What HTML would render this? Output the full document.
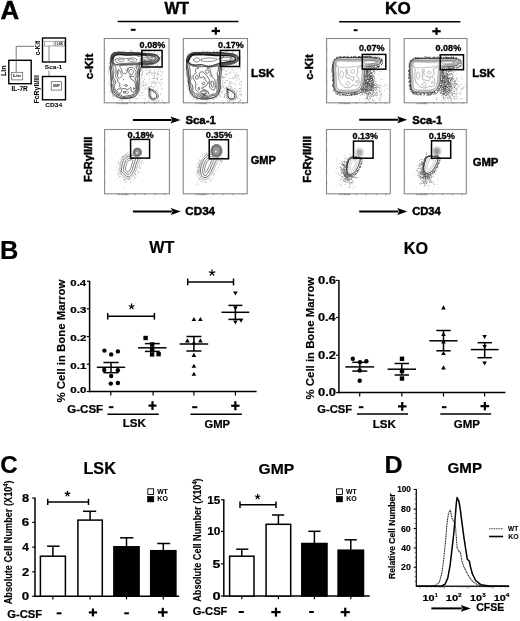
<!DOCTYPE html>
<html><head><meta charset="utf-8"><style>
html,body{margin:0;padding:0;background:#fff;}
svg{display:block;filter:grayscale(1);}
text{font-family:"Liberation Sans",sans-serif;}
</style></head><body>
<svg width="520" height="621" viewBox="0 0 520 621">
<rect width="520" height="621" fill="#fff"/>
<text x="0.43" y="18.70" font-size="25" textLength="18.65" lengthAdjust="spacingAndGlyphs" fill="#000" stroke="#000" stroke-width="0.45" font-weight="bold" >A</text>
<rect x="8.80" y="60.30" width="22.40" height="23.40" stroke="#000" stroke-width="1.4" fill="none" />
<rect x="11.70" y="72.30" width="11.00" height="7.60" stroke="#555" stroke-width="0.7" fill="none" />
<text x="13.14" y="77.30" font-size="3.2" textLength="7.66" lengthAdjust="spacingAndGlyphs" fill="#444" stroke="#444" stroke-width="0.15" font-weight="bold" >Lin</text>
<line x1="16.20" y1="46.30" x2="16.20" y2="72.30" stroke="#555" stroke-width="0.8" />
<line x1="16.20" y1="46.30" x2="34.20" y2="46.30" stroke="#555" stroke-width="0.8" />
<text transform="translate(6.00,75.60) rotate(-90)" x="-0.49" y="0" font-size="7.2" textLength="10.51" lengthAdjust="spacingAndGlyphs" fill="#000" stroke="#000" stroke-width="0.1" font-weight="bold">Lin</text>
<text x="11.54" y="91.20" font-size="6.5" textLength="16.29" lengthAdjust="spacingAndGlyphs" fill="#000" stroke="#000" stroke-width="0.05" font-weight="bold" >IL-7R</text>
<rect x="42.50" y="38.00" width="23.00" height="24.00" stroke="#000" stroke-width="1.4" fill="none" />
<rect x="44.50" y="41.20" width="9.50" height="4.80" stroke="#777" stroke-width="0.6" fill="none" />
<rect x="55.20" y="41.20" width="9.40" height="4.80" stroke="#555" stroke-width="0.6" fill="none" />
<text x="56.79" y="45.00" font-size="3.0" textLength="6.04" lengthAdjust="spacingAndGlyphs" fill="#444" stroke="#444" stroke-width="0.15" font-weight="bold" >LSK</text>
<line x1="49.00" y1="46.00" x2="49.00" y2="62.00" stroke="#666" stroke-width="0.8" />
<line x1="49.00" y1="70.50" x2="49.00" y2="76.50" stroke="#666" stroke-width="0.8" />
<text transform="translate(40.20,55.00) rotate(-90)" x="-0.26" y="0" font-size="6.4" textLength="14.34" lengthAdjust="spacingAndGlyphs" fill="#000" stroke="#000" stroke-width="0.05" font-weight="bold">c-Kit</text>
<text x="44.80" y="68.50" font-size="6.0" textLength="17.38" lengthAdjust="spacingAndGlyphs" fill="#000" stroke="#000" stroke-width="0.05" font-weight="bold" >Sca-1</text>
<rect x="42.50" y="76.50" width="23.00" height="23.30" stroke="#000" stroke-width="1.4" fill="none" />
<rect x="51.20" y="81.70" width="10.20" height="8.40" stroke="#555" stroke-width="0.7" fill="none" />
<text x="52.88" y="87.20" font-size="3.2" textLength="6.83" lengthAdjust="spacingAndGlyphs" fill="#444" stroke="#444" stroke-width="0.15" font-weight="bold" >GMP</text>
<text transform="translate(39.00,103.00) rotate(-90)" x="-0.48" y="0" font-size="6.4" textLength="28.38" lengthAdjust="spacingAndGlyphs" fill="#000" stroke="#000" stroke-width="0.05" font-weight="bold">FcRγII/III</text>
<text x="45.34" y="107.00" font-size="6.0" textLength="16.70" lengthAdjust="spacingAndGlyphs" fill="#000" stroke="#000" stroke-width="0.05" font-weight="bold" >CD34</text>
<text x="164.40" y="13.80" font-size="17" textLength="24.63" lengthAdjust="spacingAndGlyphs" fill="#000" stroke="#000" stroke-width="0.45" font-weight="bold" >WT</text>
<line x1="117.70" y1="21.50" x2="238.40" y2="21.50" stroke="#000" stroke-width="1.4" />
<rect x="130.80" y="28.80" width="4.80" height="2.00" fill="#000"/>
<rect x="211.60" y="29.90" width="8.40" height="2.20" fill="#000"/>
<rect x="214.70" y="27.30" width="2.20" height="7.40" fill="#000"/>
<text x="385.11" y="13.60" font-size="17" textLength="25.58" lengthAdjust="spacingAndGlyphs" fill="#000" stroke="#000" stroke-width="0.45" font-weight="bold" >KO</text>
<line x1="339.20" y1="21.80" x2="460.40" y2="21.80" stroke="#000" stroke-width="1.4" />
<rect x="353.70" y="29.20" width="3.80" height="2.00" fill="#000"/>
<rect x="432.30" y="30.15" width="8.40" height="2.20" fill="#000"/>
<rect x="435.40" y="27.60" width="2.20" height="7.30" fill="#000"/>
<rect x="104.30" y="38.50" width="64.70" height="64.30" stroke="#888" stroke-width="1.1" fill="none" />
<line x1="104.30" y1="49.22" x2="105.50" y2="49.22" stroke="#888" stroke-width="0.5" />
<line x1="104.30" y1="59.93" x2="105.50" y2="59.93" stroke="#888" stroke-width="0.5" />
<line x1="104.30" y1="70.65" x2="105.50" y2="70.65" stroke="#888" stroke-width="0.5" />
<line x1="104.30" y1="81.37" x2="105.50" y2="81.37" stroke="#888" stroke-width="0.5" />
<line x1="104.30" y1="92.08" x2="105.50" y2="92.08" stroke="#888" stroke-width="0.5" />
<line x1="117.24" y1="102.80" x2="117.24" y2="104.20" stroke="#555" stroke-width="0.6" />
<line x1="119.18" y1="102.80" x2="119.18" y2="104.20" stroke="#555" stroke-width="0.6" />
<line x1="121.12" y1="102.80" x2="121.12" y2="104.20" stroke="#555" stroke-width="0.6" />
<line x1="122.42" y1="102.80" x2="122.42" y2="104.20" stroke="#555" stroke-width="0.6" />
<line x1="123.71" y1="102.80" x2="123.71" y2="104.20" stroke="#555" stroke-width="0.6" />
<line x1="125.00" y1="102.80" x2="125.00" y2="104.20" stroke="#555" stroke-width="0.6" />
<line x1="126.30" y1="102.80" x2="126.30" y2="104.20" stroke="#555" stroke-width="0.6" />
<line x1="127.59" y1="102.80" x2="127.59" y2="104.20" stroke="#555" stroke-width="0.6" />
<line x1="134.71" y1="102.80" x2="134.71" y2="104.20" stroke="#555" stroke-width="0.6" />
<line x1="144.41" y1="102.80" x2="144.41" y2="104.20" stroke="#555" stroke-width="0.6" />
<line x1="154.77" y1="102.80" x2="154.77" y2="104.20" stroke="#555" stroke-width="0.6" />
<line x1="164.47" y1="102.80" x2="164.47" y2="104.20" stroke="#555" stroke-width="0.6" />
<rect x="183.30" y="38.50" width="64.20" height="64.30" stroke="#888" stroke-width="1.1" fill="none" />
<line x1="183.30" y1="49.22" x2="184.50" y2="49.22" stroke="#888" stroke-width="0.5" />
<line x1="183.30" y1="59.93" x2="184.50" y2="59.93" stroke="#888" stroke-width="0.5" />
<line x1="183.30" y1="70.65" x2="184.50" y2="70.65" stroke="#888" stroke-width="0.5" />
<line x1="183.30" y1="81.37" x2="184.50" y2="81.37" stroke="#888" stroke-width="0.5" />
<line x1="183.30" y1="92.08" x2="184.50" y2="92.08" stroke="#888" stroke-width="0.5" />
<line x1="196.14" y1="102.80" x2="196.14" y2="104.20" stroke="#555" stroke-width="0.6" />
<line x1="198.07" y1="102.80" x2="198.07" y2="104.20" stroke="#555" stroke-width="0.6" />
<line x1="199.99" y1="102.80" x2="199.99" y2="104.20" stroke="#555" stroke-width="0.6" />
<line x1="201.28" y1="102.80" x2="201.28" y2="104.20" stroke="#555" stroke-width="0.6" />
<line x1="202.56" y1="102.80" x2="202.56" y2="104.20" stroke="#555" stroke-width="0.6" />
<line x1="203.84" y1="102.80" x2="203.84" y2="104.20" stroke="#555" stroke-width="0.6" />
<line x1="205.13" y1="102.80" x2="205.13" y2="104.20" stroke="#555" stroke-width="0.6" />
<line x1="206.41" y1="102.80" x2="206.41" y2="104.20" stroke="#555" stroke-width="0.6" />
<line x1="213.47" y1="102.80" x2="213.47" y2="104.20" stroke="#555" stroke-width="0.6" />
<line x1="223.10" y1="102.80" x2="223.10" y2="104.20" stroke="#555" stroke-width="0.6" />
<line x1="233.38" y1="102.80" x2="233.38" y2="104.20" stroke="#555" stroke-width="0.6" />
<line x1="243.01" y1="102.80" x2="243.01" y2="104.20" stroke="#555" stroke-width="0.6" />
<rect x="326.60" y="38.50" width="63.20" height="64.30" stroke="#888" stroke-width="1.1" fill="none" />
<line x1="326.60" y1="49.22" x2="327.80" y2="49.22" stroke="#888" stroke-width="0.5" />
<line x1="326.60" y1="59.93" x2="327.80" y2="59.93" stroke="#888" stroke-width="0.5" />
<line x1="326.60" y1="70.65" x2="327.80" y2="70.65" stroke="#888" stroke-width="0.5" />
<line x1="326.60" y1="81.37" x2="327.80" y2="81.37" stroke="#888" stroke-width="0.5" />
<line x1="326.60" y1="92.08" x2="327.80" y2="92.08" stroke="#888" stroke-width="0.5" />
<line x1="339.24" y1="102.80" x2="339.24" y2="104.20" stroke="#555" stroke-width="0.6" />
<line x1="341.14" y1="102.80" x2="341.14" y2="104.20" stroke="#555" stroke-width="0.6" />
<line x1="343.03" y1="102.80" x2="343.03" y2="104.20" stroke="#555" stroke-width="0.6" />
<line x1="344.30" y1="102.80" x2="344.30" y2="104.20" stroke="#555" stroke-width="0.6" />
<line x1="345.56" y1="102.80" x2="345.56" y2="104.20" stroke="#555" stroke-width="0.6" />
<line x1="346.82" y1="102.80" x2="346.82" y2="104.20" stroke="#555" stroke-width="0.6" />
<line x1="348.09" y1="102.80" x2="348.09" y2="104.20" stroke="#555" stroke-width="0.6" />
<line x1="349.35" y1="102.80" x2="349.35" y2="104.20" stroke="#555" stroke-width="0.6" />
<line x1="356.30" y1="102.80" x2="356.30" y2="104.20" stroke="#555" stroke-width="0.6" />
<line x1="365.78" y1="102.80" x2="365.78" y2="104.20" stroke="#555" stroke-width="0.6" />
<line x1="375.90" y1="102.80" x2="375.90" y2="104.20" stroke="#555" stroke-width="0.6" />
<line x1="385.38" y1="102.80" x2="385.38" y2="104.20" stroke="#555" stroke-width="0.6" />
<rect x="404.20" y="38.50" width="62.80" height="64.30" stroke="#888" stroke-width="1.1" fill="none" />
<line x1="404.20" y1="49.22" x2="405.40" y2="49.22" stroke="#888" stroke-width="0.5" />
<line x1="404.20" y1="59.93" x2="405.40" y2="59.93" stroke="#888" stroke-width="0.5" />
<line x1="404.20" y1="70.65" x2="405.40" y2="70.65" stroke="#888" stroke-width="0.5" />
<line x1="404.20" y1="81.37" x2="405.40" y2="81.37" stroke="#888" stroke-width="0.5" />
<line x1="404.20" y1="92.08" x2="405.40" y2="92.08" stroke="#888" stroke-width="0.5" />
<line x1="416.76" y1="102.80" x2="416.76" y2="104.20" stroke="#555" stroke-width="0.6" />
<line x1="418.64" y1="102.80" x2="418.64" y2="104.20" stroke="#555" stroke-width="0.6" />
<line x1="420.53" y1="102.80" x2="420.53" y2="104.20" stroke="#555" stroke-width="0.6" />
<line x1="421.78" y1="102.80" x2="421.78" y2="104.20" stroke="#555" stroke-width="0.6" />
<line x1="423.04" y1="102.80" x2="423.04" y2="104.20" stroke="#555" stroke-width="0.6" />
<line x1="424.30" y1="102.80" x2="424.30" y2="104.20" stroke="#555" stroke-width="0.6" />
<line x1="425.55" y1="102.80" x2="425.55" y2="104.20" stroke="#555" stroke-width="0.6" />
<line x1="426.81" y1="102.80" x2="426.81" y2="104.20" stroke="#555" stroke-width="0.6" />
<line x1="433.72" y1="102.80" x2="433.72" y2="104.20" stroke="#555" stroke-width="0.6" />
<line x1="443.14" y1="102.80" x2="443.14" y2="104.20" stroke="#555" stroke-width="0.6" />
<line x1="453.18" y1="102.80" x2="453.18" y2="104.20" stroke="#555" stroke-width="0.6" />
<line x1="462.60" y1="102.80" x2="462.60" y2="104.20" stroke="#555" stroke-width="0.6" />
<rect x="104.60" y="129.50" width="64.80" height="64.30" stroke="#888" stroke-width="1.1" fill="none" />
<line x1="104.60" y1="140.22" x2="105.80" y2="140.22" stroke="#888" stroke-width="0.5" />
<line x1="104.60" y1="150.93" x2="105.80" y2="150.93" stroke="#888" stroke-width="0.5" />
<line x1="104.60" y1="161.65" x2="105.80" y2="161.65" stroke="#888" stroke-width="0.5" />
<line x1="104.60" y1="172.37" x2="105.80" y2="172.37" stroke="#888" stroke-width="0.5" />
<line x1="104.60" y1="183.08" x2="105.80" y2="183.08" stroke="#888" stroke-width="0.5" />
<line x1="117.56" y1="193.80" x2="117.56" y2="195.20" stroke="#555" stroke-width="0.6" />
<line x1="119.50" y1="193.80" x2="119.50" y2="195.20" stroke="#555" stroke-width="0.6" />
<line x1="121.45" y1="193.80" x2="121.45" y2="195.20" stroke="#555" stroke-width="0.6" />
<line x1="122.74" y1="193.80" x2="122.74" y2="195.20" stroke="#555" stroke-width="0.6" />
<line x1="124.04" y1="193.80" x2="124.04" y2="195.20" stroke="#555" stroke-width="0.6" />
<line x1="125.34" y1="193.80" x2="125.34" y2="195.20" stroke="#555" stroke-width="0.6" />
<line x1="126.63" y1="193.80" x2="126.63" y2="195.20" stroke="#555" stroke-width="0.6" />
<line x1="127.93" y1="193.80" x2="127.93" y2="195.20" stroke="#555" stroke-width="0.6" />
<line x1="135.06" y1="193.80" x2="135.06" y2="195.20" stroke="#555" stroke-width="0.6" />
<line x1="144.78" y1="193.80" x2="144.78" y2="195.20" stroke="#555" stroke-width="0.6" />
<line x1="155.14" y1="193.80" x2="155.14" y2="195.20" stroke="#555" stroke-width="0.6" />
<line x1="164.86" y1="193.80" x2="164.86" y2="195.20" stroke="#555" stroke-width="0.6" />
<rect x="183.20" y="129.50" width="64.00" height="64.30" stroke="#888" stroke-width="1.1" fill="none" />
<line x1="183.20" y1="140.22" x2="184.40" y2="140.22" stroke="#888" stroke-width="0.5" />
<line x1="183.20" y1="150.93" x2="184.40" y2="150.93" stroke="#888" stroke-width="0.5" />
<line x1="183.20" y1="161.65" x2="184.40" y2="161.65" stroke="#888" stroke-width="0.5" />
<line x1="183.20" y1="172.37" x2="184.40" y2="172.37" stroke="#888" stroke-width="0.5" />
<line x1="183.20" y1="183.08" x2="184.40" y2="183.08" stroke="#888" stroke-width="0.5" />
<line x1="196.00" y1="193.80" x2="196.00" y2="195.20" stroke="#555" stroke-width="0.6" />
<line x1="197.92" y1="193.80" x2="197.92" y2="195.20" stroke="#555" stroke-width="0.6" />
<line x1="199.84" y1="193.80" x2="199.84" y2="195.20" stroke="#555" stroke-width="0.6" />
<line x1="201.12" y1="193.80" x2="201.12" y2="195.20" stroke="#555" stroke-width="0.6" />
<line x1="202.40" y1="193.80" x2="202.40" y2="195.20" stroke="#555" stroke-width="0.6" />
<line x1="203.68" y1="193.80" x2="203.68" y2="195.20" stroke="#555" stroke-width="0.6" />
<line x1="204.96" y1="193.80" x2="204.96" y2="195.20" stroke="#555" stroke-width="0.6" />
<line x1="206.24" y1="193.80" x2="206.24" y2="195.20" stroke="#555" stroke-width="0.6" />
<line x1="213.28" y1="193.80" x2="213.28" y2="195.20" stroke="#555" stroke-width="0.6" />
<line x1="222.88" y1="193.80" x2="222.88" y2="195.20" stroke="#555" stroke-width="0.6" />
<line x1="233.12" y1="193.80" x2="233.12" y2="195.20" stroke="#555" stroke-width="0.6" />
<line x1="242.72" y1="193.80" x2="242.72" y2="195.20" stroke="#555" stroke-width="0.6" />
<rect x="326.50" y="129.50" width="63.80" height="64.30" stroke="#888" stroke-width="1.1" fill="none" />
<line x1="326.50" y1="140.22" x2="327.70" y2="140.22" stroke="#888" stroke-width="0.5" />
<line x1="326.50" y1="150.93" x2="327.70" y2="150.93" stroke="#888" stroke-width="0.5" />
<line x1="326.50" y1="161.65" x2="327.70" y2="161.65" stroke="#888" stroke-width="0.5" />
<line x1="326.50" y1="172.37" x2="327.70" y2="172.37" stroke="#888" stroke-width="0.5" />
<line x1="326.50" y1="183.08" x2="327.70" y2="183.08" stroke="#888" stroke-width="0.5" />
<line x1="339.26" y1="193.80" x2="339.26" y2="195.20" stroke="#555" stroke-width="0.6" />
<line x1="341.17" y1="193.80" x2="341.17" y2="195.20" stroke="#555" stroke-width="0.6" />
<line x1="343.09" y1="193.80" x2="343.09" y2="195.20" stroke="#555" stroke-width="0.6" />
<line x1="344.36" y1="193.80" x2="344.36" y2="195.20" stroke="#555" stroke-width="0.6" />
<line x1="345.64" y1="193.80" x2="345.64" y2="195.20" stroke="#555" stroke-width="0.6" />
<line x1="346.92" y1="193.80" x2="346.92" y2="195.20" stroke="#555" stroke-width="0.6" />
<line x1="348.19" y1="193.80" x2="348.19" y2="195.20" stroke="#555" stroke-width="0.6" />
<line x1="349.47" y1="193.80" x2="349.47" y2="195.20" stroke="#555" stroke-width="0.6" />
<line x1="356.49" y1="193.80" x2="356.49" y2="195.20" stroke="#555" stroke-width="0.6" />
<line x1="366.06" y1="193.80" x2="366.06" y2="195.20" stroke="#555" stroke-width="0.6" />
<line x1="376.26" y1="193.80" x2="376.26" y2="195.20" stroke="#555" stroke-width="0.6" />
<line x1="385.83" y1="193.80" x2="385.83" y2="195.20" stroke="#555" stroke-width="0.6" />
<rect x="404.30" y="129.50" width="62.00" height="64.30" stroke="#888" stroke-width="1.1" fill="none" />
<line x1="404.30" y1="140.22" x2="405.50" y2="140.22" stroke="#888" stroke-width="0.5" />
<line x1="404.30" y1="150.93" x2="405.50" y2="150.93" stroke="#888" stroke-width="0.5" />
<line x1="404.30" y1="161.65" x2="405.50" y2="161.65" stroke="#888" stroke-width="0.5" />
<line x1="404.30" y1="172.37" x2="405.50" y2="172.37" stroke="#888" stroke-width="0.5" />
<line x1="404.30" y1="183.08" x2="405.50" y2="183.08" stroke="#888" stroke-width="0.5" />
<line x1="416.70" y1="193.80" x2="416.70" y2="195.20" stroke="#555" stroke-width="0.6" />
<line x1="418.56" y1="193.80" x2="418.56" y2="195.20" stroke="#555" stroke-width="0.6" />
<line x1="420.42" y1="193.80" x2="420.42" y2="195.20" stroke="#555" stroke-width="0.6" />
<line x1="421.66" y1="193.80" x2="421.66" y2="195.20" stroke="#555" stroke-width="0.6" />
<line x1="422.90" y1="193.80" x2="422.90" y2="195.20" stroke="#555" stroke-width="0.6" />
<line x1="424.14" y1="193.80" x2="424.14" y2="195.20" stroke="#555" stroke-width="0.6" />
<line x1="425.38" y1="193.80" x2="425.38" y2="195.20" stroke="#555" stroke-width="0.6" />
<line x1="426.62" y1="193.80" x2="426.62" y2="195.20" stroke="#555" stroke-width="0.6" />
<line x1="433.44" y1="193.80" x2="433.44" y2="195.20" stroke="#555" stroke-width="0.6" />
<line x1="442.74" y1="193.80" x2="442.74" y2="195.20" stroke="#555" stroke-width="0.6" />
<line x1="452.66" y1="193.80" x2="452.66" y2="195.20" stroke="#555" stroke-width="0.6" />
<line x1="461.96" y1="193.80" x2="461.96" y2="195.20" stroke="#555" stroke-width="0.6" />
<defs><filter id="bl" x="-50%" y="-50%" width="200%" height="200%"><feGaussianBlur stdDeviation="0.7"/></filter><filter id="bl2" x="-50%" y="-50%" width="200%" height="200%"><feGaussianBlur stdDeviation="1.2"/></filter><clipPath id="c0"><rect x="0.6" y="0.6" width="63.50" height="63.10"/></clipPath><clipPath id="c1"><rect x="0.6" y="0.6" width="63.00" height="63.10"/></clipPath><clipPath id="c2"><rect x="0.6" y="0.6" width="62.00" height="63.10"/></clipPath><clipPath id="c3"><rect x="0.6" y="0.6" width="61.60" height="63.10"/></clipPath><clipPath id="c4"><rect x="0.6" y="0.6" width="63.60" height="63.10"/></clipPath><clipPath id="c5"><rect x="0.6" y="0.6" width="62.80" height="63.10"/></clipPath><clipPath id="c6"><rect x="0.6" y="0.6" width="62.60" height="63.10"/></clipPath><clipPath id="c7"><rect x="0.6" y="0.6" width="60.80" height="63.10"/></clipPath></defs><g transform="translate(104.30,38.50)" clip-path="url(#c0)"><path d="M37.3 47.8h0.75v0.75h-0.75zM48.8 54.2h0.75v0.75h-0.75zM40.5 49.0h0.75v0.75h-0.75zM38.1 53.7h0.75v0.75h-0.75zM54.3 43.9h0.75v0.75h-0.75zM51.4 51.5h0.75v0.75h-0.75zM43.4 32.0h0.75v0.75h-0.75zM52.9 41.1h0.75v0.75h-0.75zM40.4 44.0h0.75v0.75h-0.75zM54.5 61.4h0.75v0.75h-0.75zM48.9 62.0h0.75v0.75h-0.75zM40.6 45.7h0.75v0.75h-0.75zM37.2 37.0h0.75v0.75h-0.75zM55.4 31.0h0.75v0.75h-0.75zM50.7 46.3h0.75v0.75h-0.75zM57.7 62.8h0.75v0.75h-0.75zM39.6 37.9h0.75v0.75h-0.75zM57.8 40.2h0.75v0.75h-0.75zM40.8 60.0h0.75v0.75h-0.75zM50.0 39.5h0.75v0.75h-0.75zM48.6 43.5h0.75v0.75h-0.75zM46.6 47.8h0.75v0.75h-0.75zM40.6 49.9h0.75v0.75h-0.75zM57.1 49.1h0.75v0.75h-0.75zM53.5 38.6h0.75v0.75h-0.75zM40.2 29.2h0.75v0.75h-0.75zM57.6 33.0h0.75v0.75h-0.75zM45.0 51.3h0.75v0.75h-0.75zM52.4 50.0h0.75v0.75h-0.75zM46.2 56.7h0.75v0.75h-0.75zM46.3 57.4h0.75v0.75h-0.75zM38.1 53.5h0.75v0.75h-0.75zM39.0 42.2h0.75v0.75h-0.75zM46.3 35.2h0.75v0.75h-0.75zM46.4 58.0h0.75v0.75h-0.75zM37.8 35.6h0.75v0.75h-0.75zM57.5 44.3h0.75v0.75h-0.75zM45.2 60.0h0.75v0.75h-0.75zM53.3 34.9h0.75v0.75h-0.75zM49.6 35.1h0.75v0.75h-0.75zM53.3 47.9h0.75v0.75h-0.75zM53.8 31.2h0.75v0.75h-0.75zM56.5 36.8h0.75v0.75h-0.75zM54.8 44.0h0.75v0.75h-0.75zM55.7 32.5h0.75v0.75h-0.75zM38.1 44.9h0.75v0.75h-0.75zM56.5 44.8h0.75v0.75h-0.75zM47.7 34.6h0.75v0.75h-0.75zM48.4 43.5h0.75v0.75h-0.75zM55.6 54.2h0.75v0.75h-0.75zM47.0 34.1h0.75v0.75h-0.75zM40.1 62.0h0.75v0.75h-0.75zM49.8 36.6h0.75v0.75h-0.75zM54.0 36.3h0.75v0.75h-0.75zM46.5 58.8h0.75v0.75h-0.75zM39.2 32.5h0.75v0.75h-0.75zM38.1 34.2h0.75v0.75h-0.75zM44.9 39.9h0.75v0.75h-0.75zM42.9 29.5h0.75v0.75h-0.75zM47.2 44.1h0.75v0.75h-0.75zM52.6 39.3h0.75v0.75h-0.75zM49.2 39.6h0.75v0.75h-0.75zM52.8 34.9h0.75v0.75h-0.75zM47.3 44.2h0.75v0.75h-0.75zM46.6 47.3h0.75v0.75h-0.75zM48.3 39.8h0.75v0.75h-0.75zM54.3 61.4h0.75v0.75h-0.75zM48.7 50.6h0.75v0.75h-0.75zM52.2 39.9h0.75v0.75h-0.75zM49.4 44.7h0.75v0.75h-0.75zM47.2 42.4h0.75v0.75h-0.75zM48.3 36.4h0.75v0.75h-0.75zM42.1 35.8h0.75v0.75h-0.75zM49.5 37.3h0.75v0.75h-0.75zM53.4 59.8h0.75v0.75h-0.75zM53.0 40.2h0.75v0.75h-0.75zM56.8 40.7h0.75v0.75h-0.75zM44.6 49.2h0.75v0.75h-0.75zM50.9 42.9h0.75v0.75h-0.75zM53.5 58.0h0.75v0.75h-0.75zM43.1 36.6h0.75v0.75h-0.75zM45.3 52.8h0.75v0.75h-0.75zM51.1 35.0h0.75v0.75h-0.75zM45.2 59.7h0.75v0.75h-0.75zM57.2 49.5h0.75v0.75h-0.75zM53.4 57.6h0.75v0.75h-0.75zM41.7 31.2h0.75v0.75h-0.75zM49.8 42.1h0.75v0.75h-0.75zM51.9 39.0h0.75v0.75h-0.75zM46.1 56.5h0.75v0.75h-0.75zM39.0 42.9h0.75v0.75h-0.75zM40.2 47.1h0.75v0.75h-0.75zM52.4 62.6h0.75v0.75h-0.75zM52.8 33.9h0.75v0.75h-0.75zM46.2 47.4h0.75v0.75h-0.75zM50.4 52.8h0.75v0.75h-0.75zM57.4 61.0h0.75v0.75h-0.75zM41.4 34.4h0.75v0.75h-0.75zM57.4 34.5h0.75v0.75h-0.75zM57.3 33.1h0.75v0.75h-0.75zM49.3 33.4h0.75v0.75h-0.75zM39.8 40.4h0.75v0.75h-0.75zM53.7 52.9h0.75v0.75h-0.75zM43.7 33.7h0.75v0.75h-0.75zM44.5 34.9h0.75v0.75h-0.75zM41.9 45.9h0.75v0.75h-0.75zM47.3 60.4h0.75v0.75h-0.75zM38.9 47.1h0.75v0.75h-0.75zM48.9 33.9h0.75v0.75h-0.75zM44.6 33.7h0.75v0.75h-0.75zM55.8 40.9h0.75v0.75h-0.75zM38.4 45.2h0.75v0.75h-0.75zM48.1 59.2h0.75v0.75h-0.75zM52.1 36.0h0.75v0.75h-0.75zM56.1 29.2h0.75v0.75h-0.75zM51.6 30.4h0.75v0.75h-0.75zM54.2 35.4h0.75v0.75h-0.75zM53.7 56.7h0.75v0.75h-0.75zM53.2 32.7h0.75v0.75h-0.75zM45.4 32.6h0.75v0.75h-0.75zM52.1 62.8h0.75v0.75h-0.75zM48.0 51.2h0.75v0.75h-0.75zM51.0 33.9h0.75v0.75h-0.75zM44.8 40.9h0.75v0.75h-0.75zM52.8 43.0h0.75v0.75h-0.75zM44.7 47.7h0.75v0.75h-0.75zM41.3 31.2h0.75v0.75h-0.75zM42.0 29.7h0.75v0.75h-0.75zM51.1 44.5h0.75v0.75h-0.75zM49.9 48.3h0.75v0.75h-0.75zM38.1 56.7h0.75v0.75h-0.75zM54.2 29.3h0.75v0.75h-0.75zM46.0 55.7h0.75v0.75h-0.75zM45.7 58.2h0.75v0.75h-0.75zM51.6 51.5h0.75v0.75h-0.75zM56.0 55.5h0.75v0.75h-0.75zM49.3 30.6h0.75v0.75h-0.75zM46.5 52.4h0.75v0.75h-0.75zM48.0 48.9h0.75v0.75h-0.75zM44.3 57.6h0.75v0.75h-0.75zM42.2 50.7h0.75v0.75h-0.75zM46.2 34.1h0.75v0.75h-0.75zM37.4 33.4h0.75v0.75h-0.75zM43.1 45.1h0.75v0.75h-0.75zM37.6 31.3h0.75v0.75h-0.75zM53.7 62.3h0.75v0.75h-0.75zM46.1 45.0h0.75v0.75h-0.75zM49.7 32.3h0.75v0.75h-0.75zM48.3 51.9h0.75v0.75h-0.75zM56.8 50.9h0.75v0.75h-0.75zM48.4 42.9h0.75v0.75h-0.75zM56.1 46.8h0.75v0.75h-0.75zM47.0 53.9h0.75v0.75h-0.75zM46.2 31.3h0.75v0.75h-0.75zM49.4 58.4h0.75v0.75h-0.75zM44.8 32.3h0.75v0.75h-0.75zM39.2 59.8h0.75v0.75h-0.75zM39.3 51.2h0.75v0.75h-0.75zM38.8 46.4h0.75v0.75h-0.75zM56.1 37.0h0.75v0.75h-0.75zM43.5 49.8h0.75v0.75h-0.75zM49.0 48.1h0.75v0.75h-0.75zM45.2 30.4h0.75v0.75h-0.75zM49.5 38.4h0.75v0.75h-0.75zM50.0 43.9h0.75v0.75h-0.75zM42.6 62.9h0.75v0.75h-0.75zM43.8 62.0h0.75v0.75h-0.75zM47.0 47.2h0.75v0.75h-0.75zM42.6 34.9h0.75v0.75h-0.75zM51.8 44.5h0.75v0.75h-0.75z" fill="#999"/><path d="M41.0 12.9h0.7v0.7h-0.7zM50.5 27.0h0.7v0.7h-0.7zM4.2 44.8h0.7v0.7h-0.7zM25.7 12.0h0.7v0.7h-0.7zM54.4 15.8h0.7v0.7h-0.7zM33.1 60.1h0.7v0.7h-0.7zM37.0 29.7h0.7v0.7h-0.7zM36.6 13.8h0.7v0.7h-0.7zM39.2 29.7h0.7v0.7h-0.7zM45.3 29.5h0.7v0.7h-0.7zM27.4 13.1h0.7v0.7h-0.7zM8.2 56.8h0.7v0.7h-0.7zM32.9 14.4h0.7v0.7h-0.7zM15.1 61.5h0.7v0.7h-0.7zM5.1 19.9h0.7v0.7h-0.7zM47.2 27.1h0.7v0.7h-0.7zM36.6 12.0h0.7v0.7h-0.7zM28.1 13.4h0.7v0.7h-0.7zM6.0 54.8h0.7v0.7h-0.7zM6.5 17.9h0.7v0.7h-0.7zM7.8 57.5h0.7v0.7h-0.7zM24.8 61.2h0.7v0.7h-0.7zM57.4 19.6h0.7v0.7h-0.7zM38.2 29.2h0.7v0.7h-0.7zM6.5 18.8h0.7v0.7h-0.7zM56.5 20.1h0.7v0.7h-0.7zM37.1 38.2h0.7v0.7h-0.7zM6.1 40.6h0.7v0.7h-0.7zM43.9 12.5h0.7v0.7h-0.7zM52.5 26.0h0.7v0.7h-0.7zM41.4 28.5h0.7v0.7h-0.7zM55.8 20.7h0.7v0.7h-0.7zM50.9 28.1h0.7v0.7h-0.7zM9.3 57.4h0.7v0.7h-0.7zM52.9 14.2h0.7v0.7h-0.7zM24.7 14.0h0.7v0.7h-0.7zM52.8 26.7h0.7v0.7h-0.7zM20.3 12.0h0.7v0.7h-0.7zM37.4 46.6h0.7v0.7h-0.7zM32.7 59.7h0.7v0.7h-0.7zM56.0 18.0h0.7v0.7h-0.7zM6.1 52.6h0.7v0.7h-0.7zM15.2 60.8h0.7v0.7h-0.7zM49.8 13.2h0.7v0.7h-0.7zM37.2 14.5h0.7v0.7h-0.7zM5.0 24.8h0.7v0.7h-0.7zM17.0 61.5h0.7v0.7h-0.7zM24.3 62.1h0.7v0.7h-0.7zM4.0 34.2h0.7v0.7h-0.7zM3.6 25.1h0.7v0.7h-0.7zM41.6 29.1h0.7v0.7h-0.7zM34.4 56.7h0.7v0.7h-0.7zM36.7 35.4h0.7v0.7h-0.7zM53.6 25.1h0.7v0.7h-0.7zM44.0 28.2h0.7v0.7h-0.7zM31.0 60.1h0.7v0.7h-0.7zM53.3 15.6h0.7v0.7h-0.7zM5.1 21.5h0.7v0.7h-0.7zM6.7 15.3h0.7v0.7h-0.7zM6.3 46.1h0.7v0.7h-0.7zM32.8 12.3h0.7v0.7h-0.7zM35.0 53.4h0.7v0.7h-0.7zM4.8 30.5h0.7v0.7h-0.7zM3.8 44.8h0.7v0.7h-0.7zM18.2 62.0h0.7v0.7h-0.7zM4.9 28.2h0.7v0.7h-0.7zM37.5 33.1h0.7v0.7h-0.7zM27.2 11.8h0.7v0.7h-0.7zM36.4 53.5h0.7v0.7h-0.7zM34.6 13.7h0.7v0.7h-0.7zM37.0 35.6h0.7v0.7h-0.7zM25.6 13.5h0.7v0.7h-0.7zM6.1 16.3h0.7v0.7h-0.7zM6.9 52.4h0.7v0.7h-0.7zM37.9 39.3h0.7v0.7h-0.7zM5.1 52.5h0.7v0.7h-0.7zM9.0 57.2h0.7v0.7h-0.7zM8.9 13.9h0.7v0.7h-0.7zM34.6 58.4h0.7v0.7h-0.7zM33.6 13.6h0.7v0.7h-0.7zM57.3 19.1h0.7v0.7h-0.7zM4.1 32.3h0.7v0.7h-0.7zM25.9 62.6h0.7v0.7h-0.7zM37.3 31.3h0.7v0.7h-0.7zM17.8 61.1h0.7v0.7h-0.7zM12.0 59.1h0.7v0.7h-0.7zM37.7 42.3h0.7v0.7h-0.7zM17.9 13.6h0.7v0.7h-0.7zM22.1 60.8h0.7v0.7h-0.7zM6.7 51.8h0.7v0.7h-0.7zM13.5 12.7h0.7v0.7h-0.7zM6.1 27.3h0.7v0.7h-0.7zM36.2 35.3h0.7v0.7h-0.7zM36.2 51.1h0.7v0.7h-0.7zM4.3 29.6h0.7v0.7h-0.7zM37.7 49.9h0.7v0.7h-0.7zM15.8 60.7h0.7v0.7h-0.7zM44.6 12.8h0.7v0.7h-0.7zM5.3 46.5h0.7v0.7h-0.7zM14.9 12.4h0.7v0.7h-0.7zM37.8 28.7h0.7v0.7h-0.7zM8.8 13.9h0.7v0.7h-0.7zM17.0 13.5h0.7v0.7h-0.7zM5.9 50.5h0.7v0.7h-0.7zM6.4 39.1h0.7v0.7h-0.7zM35.3 56.0h0.7v0.7h-0.7zM8.9 59.8h0.7v0.7h-0.7zM37.2 30.7h0.7v0.7h-0.7zM9.7 14.3h0.7v0.7h-0.7zM4.5 23.7h0.7v0.7h-0.7zM41.1 13.6h0.7v0.7h-0.7zM36.7 31.1h0.7v0.7h-0.7zM5.4 42.0h0.7v0.7h-0.7zM31.5 60.0h0.7v0.7h-0.7zM4.5 28.0h0.7v0.7h-0.7zM36.3 36.9h0.7v0.7h-0.7zM36.4 55.2h0.7v0.7h-0.7zM3.9 32.7h0.7v0.7h-0.7zM36.6 44.5h0.7v0.7h-0.7zM36.1 32.1h0.7v0.7h-0.7z" fill="#999"/><path d="M22.2,60.0 21.5,60.1 20.8,60.1 20.2,60.0 19.5,59.9 18.8,59.9 18.0,59.9 17.3,59.8 16.8,59.7 16.0,59.5 15.5,59.4 14.8,59.3 14.2,59.2 13.7,59.0 13.0,58.8 12.5,58.6 12.0,58.4 11.5,58.1 11.0,57.9 10.5,57.5 10.2,57.2 9.8,56.9 9.3,56.5 9.0,56.2 8.6,55.8 8.3,55.2 8.1,54.8 7.9,54.2 7.7,53.8 7.5,53.0 7.4,52.5 7.2,52.0 7.0,51.2 6.9,50.8 6.8,50.0 6.8,49.2 6.7,48.8 6.6,48.0 6.6,47.2 6.6,46.5 6.6,45.8 6.6,45.0 6.6,44.2 6.6,43.5 6.6,42.8 6.6,42.0 6.6,41.2 6.6,40.5 6.6,39.8 6.6,39.0 6.6,38.2 6.6,37.5 6.5,36.8 6.5,36.2 6.4,35.5 6.4,34.8 6.4,34.0 6.4,33.2 6.4,32.5 6.4,31.8 6.4,31.0 6.4,30.2 6.4,29.5 6.4,28.8 6.4,28.0 6.4,27.2 6.4,26.5 6.4,25.8 6.4,25.0 6.4,24.2 6.4,23.5 6.4,22.8 6.4,22.0 6.5,21.5 6.7,20.8 6.8,20.2 7.0,19.5 7.1,19.0 7.2,18.5 7.5,17.8 7.7,17.2 8.0,16.8 8.2,16.4 8.6,16.0 9.0,15.6 9.5,15.3 10.0,15.0 10.5,14.8 11.0,14.6 11.5,14.5 12.2,14.3 12.8,14.2 13.5,14.1 14.2,14.1 15.0,14.1 15.8,14.1 16.5,14.1 17.2,14.1 18.0,14.1 18.8,14.1 19.5,14.1 20.2,14.1 21.0,14.1 21.8,14.1 22.5,14.1 23.2,14.2 23.8,14.3 24.5,14.3 25.2,14.4 26.0,14.4 26.8,14.4 27.5,14.4 28.2,14.4 29.0,14.4 29.8,14.4 30.4,14.5 31.0,14.6 31.8,14.6 32.5,14.6 33.2,14.6 34.0,14.6 34.8,14.6 35.5,14.6 36.2,14.6 37.0,14.7 37.5,14.8 38.2,14.8 39.0,14.9 39.8,14.9 40.5,14.9 41.2,14.9 42.0,15.0 42.5,15.0 43.2,15.1 44.0,15.1 44.8,15.1 45.5,15.1 46.2,15.2 46.8,15.3 47.5,15.4 48.2,15.5 48.8,15.6 49.5,15.7 50.0,15.9 50.5,16.0 51.1,16.2 51.8,16.5 52.2,16.7 52.7,17.0 53.1,17.2 53.5,17.6 53.9,18.0 54.2,18.4 54.5,18.8 54.8,19.2 55.0,19.9 55.1,20.5 55.0,21.0 54.8,21.8 54.5,22.2 54.2,22.7 54.0,23.1 53.6,23.5 53.2,23.8 52.8,24.1 52.2,24.4 51.8,24.7 51.2,24.9 50.8,25.1 50.2,25.3 49.6,25.5 49.0,25.7 48.5,25.8 47.8,26.0 47.2,26.1 46.5,26.2 46.0,26.3 45.2,26.5 44.8,26.6 44.0,26.7 43.5,26.8 42.8,26.9 42.2,27.0 41.5,27.1 40.8,27.2 40.2,27.3 39.5,27.4 39.0,27.5 38.2,27.7 37.8,27.9 37.2,28.1 36.8,28.5 36.5,28.8 36.1,29.2 35.9,29.8 35.7,30.2 35.6,31.0 35.5,31.5 35.4,32.2 35.3,33.0 35.2,33.5 35.2,34.2 35.1,35.0 35.1,35.8 35.1,36.5 35.2,37.2 35.2,38.0 35.3,38.5 35.4,39.2 35.4,40.0 35.4,40.8 35.4,41.5 35.4,42.2 35.5,43.0 35.4,43.8 35.4,44.5 35.4,45.2 35.4,46.0 35.4,46.8 35.4,47.5 35.4,48.2 35.4,49.0 35.3,49.8 35.2,50.2 35.1,51.0 35.0,51.5 34.8,52.2 34.5,52.8 34.3,53.2 34.1,53.8 33.8,54.2 33.6,54.8 33.3,55.2 33.0,55.8 32.8,56.2 32.5,56.7 32.2,57.0 31.8,57.5 31.5,57.8 31.0,58.1 30.5,58.4 30.0,58.6 29.5,58.8 28.9,59.0 28.2,59.2 27.8,59.3 27.0,59.5 26.5,59.6 25.8,59.7 25.2,59.8 24.5,59.9 23.8,59.9 23.0,59.9 22.4,60.0Z" fill="none" stroke="#666" stroke-width="0.9" stroke-linejoin="round"/><path d="M22.0,60.0 21.2,60.0 20.5,60.1 19.8,60.1 19.0,60.1 18.2,60.1 17.8,60.0 17.0,59.8 16.5,59.6 16.0,59.4 15.5,59.2 15.0,58.9 14.5,58.7 14.0,58.4 13.5,58.1 13.0,57.8 12.5,57.5 12.0,57.2 11.6,57.0 11.2,56.7 10.8,56.4 10.3,56.0 10.0,55.8 9.5,55.3 9.2,55.0 8.8,54.5 8.6,54.0 8.4,53.5 8.2,53.0 8.0,52.2 7.9,51.8 7.8,51.1 7.6,50.5 7.5,49.9 7.4,49.2 7.3,48.5 7.2,47.9 7.2,47.2 7.1,46.5 7.0,45.8 7.1,45.0 7.3,44.5 7.4,43.8 7.4,43.0 7.2,42.4 7.1,41.8 7.0,41.0 6.9,40.5 6.8,39.8 6.7,39.2 6.6,38.5 6.5,37.8 6.5,37.2 6.5,36.5 6.4,35.8 6.4,35.0 6.4,34.2 6.3,33.5 6.2,33.0 6.1,32.2 6.0,31.8 5.8,31.0 5.8,30.3 5.7,29.8 5.7,29.0 5.8,28.5 5.9,27.8 6.0,27.2 6.2,26.5 6.4,26.0 6.5,25.2 6.5,24.5 6.4,23.8 6.4,23.0 6.5,22.2 6.5,21.6 6.5,21.0 6.6,20.2 6.6,19.5 6.7,18.8 6.8,18.2 6.9,17.5 7.1,17.0 7.4,16.5 7.6,16.0 8.0,15.5 8.2,15.2 8.7,14.8 9.0,14.5 9.5,14.2 10.2,14.0 10.8,13.9 11.5,13.9 12.2,13.9 13.0,13.8 13.5,13.7 14.2,13.7 15.0,13.6 15.8,13.6 16.5,13.6 17.2,13.7 18.0,13.7 18.8,13.7 19.5,13.7 20.0,13.8 20.8,13.9 21.5,14.0 22.0,14.0 22.8,14.1 23.5,14.1 24.2,14.0 24.8,14.0 25.5,13.9 26.2,13.9 27.0,13.9 27.8,13.9 28.5,14.0 29.0,14.0 29.8,14.0 30.5,14.1 31.2,14.1 32.0,14.2 32.8,14.2 33.2,14.3 34.0,14.3 34.8,14.4 35.5,14.5 36.0,14.5 36.8,14.5 37.5,14.6 38.2,14.6 39.0,14.7 39.5,14.8 40.2,14.8 41.0,14.9 41.8,15.0 42.2,15.0 43.0,15.1 43.8,15.1 44.5,15.2 45.0,15.2 45.8,15.3 46.5,15.4 47.2,15.5 47.8,15.5 48.5,15.6 49.2,15.7 49.8,15.8 50.5,15.9 51.0,16.0 51.7,16.2 52.2,16.5 52.7,16.8 53.1,17.0 53.5,17.3 54.0,17.8 54.2,18.1 54.6,18.5 54.9,19.0 55.0,19.5 55.0,20.2 55.0,20.8 54.8,21.3 54.5,21.8 54.1,22.2 53.8,22.6 53.2,23.0 52.8,23.2 52.3,23.5 51.8,23.8 51.4,24.0 50.9,24.2 50.4,24.5 49.9,24.8 49.2,25.0 48.8,25.1 48.1,25.2 47.5,25.4 46.8,25.4 46.0,25.5 45.5,25.5 44.8,25.6 44.0,25.8 43.5,25.9 42.8,25.9 42.0,26.0 41.2,25.9 40.5,25.9 39.8,25.8 39.0,25.9 38.2,26.0 37.8,26.0 37.0,26.2 36.5,26.3 35.9,26.5 35.5,26.8 35.3,27.5 35.4,28.2 35.6,28.8 35.6,29.5 35.7,30.2 35.7,31.0 35.7,31.8 35.6,32.5 35.5,33.0 35.4,33.8 35.2,34.4 35.2,35.0 35.1,35.8 35.0,36.5 35.0,37.0 34.9,37.8 34.8,38.5 34.8,39.2 34.8,40.0 34.9,40.8 34.8,41.5 34.8,42.1 34.7,42.8 34.6,43.5 34.6,44.2 34.5,45.0 34.5,45.5 34.4,46.2 34.3,47.0 34.2,47.5 34.2,48.2 34.2,49.0 34.2,49.8 34.1,50.5 34.0,51.1 33.9,51.8 33.8,52.3 33.6,53.0 33.4,53.5 33.2,54.0 32.9,54.5 32.6,55.0 32.2,55.5 32.0,55.8 31.6,56.2 31.2,56.6 30.9,57.0 30.5,57.4 30.0,57.8 29.7,58.0 29.2,58.3 28.8,58.5 28.2,58.8 27.5,59.0 27.0,59.1 26.4,59.2 25.8,59.4 25.2,59.5 24.5,59.7 24.0,59.8 23.2,59.9 22.5,60.0 22.0,60.0Z" fill="none" stroke="#2a2a2a" stroke-width="1.0" stroke-linejoin="round"/><path d="M20.2,59.0 19.5,59.0 18.8,59.0 18.2,58.9 17.6,58.8 17.1,58.5 16.6,58.2 16.2,58.0 15.8,57.6 15.2,57.3 14.8,57.0 14.2,56.8 13.8,56.6 13.2,56.4 12.8,56.2 12.2,55.9 11.8,55.5 11.5,55.2 11.0,54.8 10.7,54.5 10.2,54.0 10.0,53.7 9.8,53.2 9.6,52.5 9.5,51.9 9.4,51.2 9.3,50.5 9.1,50.0 8.9,49.5 8.8,48.9 8.6,48.2 8.5,47.6 8.5,47.0 8.5,46.3 8.7,45.8 8.9,45.2 9.2,44.8 9.5,44.5 9.7,43.8 9.5,43.2 9.2,42.8 8.9,42.2 8.6,41.8 8.4,41.2 8.2,40.5 8.2,40.0 8.1,39.2 8.0,38.6 8.0,38.0 7.9,37.2 7.9,36.5 7.9,35.8 7.9,35.0 7.9,34.2 7.9,33.5 7.8,32.8 7.7,32.2 7.5,31.6 7.4,31.0 7.2,30.3 7.2,29.8 7.2,29.0 7.2,28.3 7.4,27.8 7.5,27.2 7.8,26.6 7.9,26.0 7.9,25.2 7.7,24.8 7.5,24.0 7.3,23.5 7.2,23.0 7.1,22.2 7.1,21.5 7.1,20.8 7.1,20.0 7.1,19.2 7.2,18.5 7.3,18.0 7.5,17.3 7.8,16.8 8.0,16.3 8.2,15.9 8.6,15.5 9.0,15.1 9.5,14.8 10.0,14.6 10.5,14.5 11.2,14.4 12.0,14.4 12.8,14.3 13.4,14.2 14.0,14.2 14.8,14.1 15.5,14.1 16.2,14.1 17.0,14.1 17.8,14.1 18.5,14.1 19.2,14.2 20.0,14.2 20.5,14.3 21.2,14.4 21.8,14.5 22.5,14.6 23.2,14.6 24.0,14.5 24.5,14.5 25.2,14.4 26.0,14.3 26.8,14.4 27.5,14.4 28.2,14.4 29.0,14.5 29.5,14.5 30.2,14.6 31.0,14.6 31.8,14.7 32.2,14.8 33.0,14.8 33.8,14.9 34.5,15.0 35.0,15.0 35.8,15.1 36.5,15.2 37.2,15.2 38.0,15.2 38.6,15.2 39.2,15.3 40.0,15.4 40.8,15.5 41.2,15.5 42.0,15.6 42.8,15.7 43.3,15.8 44.0,15.8 44.8,15.9 45.5,16.0 46.0,16.0 46.8,16.1 47.5,16.2 48.0,16.3 48.8,16.3 49.5,16.4 50.2,16.5 50.8,16.6 51.3,16.8 51.9,17.0 52.3,17.2 52.8,17.5 53.2,17.9 53.6,18.2 54.0,18.8 54.2,19.2 54.4,19.8 54.3,20.5 54.2,21.0 53.8,21.5 53.5,21.9 53.0,22.2 52.7,22.5 52.2,22.8 51.7,23.0 51.2,23.3 50.8,23.5 50.2,23.8 49.8,24.1 49.2,24.4 48.8,24.5 48.0,24.7 47.5,24.8 46.8,24.9 46.0,25.0 45.4,25.0 44.8,25.1 44.0,25.2 43.5,25.3 42.8,25.4 42.0,25.4 41.2,25.4 40.5,25.3 40.0,25.2 39.2,25.2 38.5,25.2 38.0,25.3 37.2,25.5 36.8,25.6 36.0,25.7 35.5,25.8 34.9,26.0 34.3,26.2 33.9,26.5 33.6,27.0 33.6,27.8 33.7,28.5 33.8,29.0 34.0,29.6 34.2,30.2 34.4,30.8 34.5,31.5 34.5,32.2 34.4,33.0 34.2,33.6 34.1,34.2 34.0,35.0 34.0,35.5 33.9,36.2 33.8,37.0 33.7,37.5 33.5,38.0 33.2,38.7 33.1,39.2 33.0,39.8 33.0,40.5 33.0,41.0 33.0,41.8 33.0,42.5 33.1,43.2 33.2,44.0 33.2,44.8 33.2,45.5 33.1,46.2 33.0,46.9 33.0,47.5 33.0,48.0 33.1,48.8 33.2,49.5 33.1,50.2 33.0,51.0 32.9,51.5 32.7,52.0 32.5,52.6 32.2,53.2 32.0,53.7 31.8,54.1 31.5,54.5 31.1,55.0 30.8,55.5 30.5,55.8 30.0,56.2 29.7,56.5 29.2,56.8 28.8,57.1 28.2,57.4 27.8,57.6 27.2,57.8 26.5,57.9 26.0,58.0 25.2,58.2 24.8,58.3 24.0,58.5 23.5,58.6 22.8,58.7 22.2,58.8 21.5,58.9 20.8,59.0 20.2,59.0Z" fill="none" stroke="#333" stroke-width="0.95" stroke-linejoin="round"/><path d="M20.8,57.8 20.0,57.9 19.2,57.9 18.5,57.8 18.0,57.6 17.5,57.3 17.2,57.0 16.8,56.6 16.2,56.3 15.8,56.2 15.0,56.0 14.5,55.9 13.9,55.8 13.3,55.5 12.9,55.2 12.5,54.9 12.1,54.5 11.8,54.0 11.5,53.7 11.2,53.2 11.0,52.8 10.8,52.0 10.8,51.2 10.7,50.8 10.6,50.0 10.4,49.5 10.1,49.0 9.9,48.5 9.7,48.0 9.7,47.2 9.9,46.8 10.2,46.2 10.5,46.0 10.9,45.5 11.2,45.0 11.4,44.5 11.4,43.8 11.3,43.0 11.1,42.5 10.9,42.0 10.6,41.5 10.3,41.0 10.0,40.7 9.7,40.2 9.5,39.8 9.2,39.0 9.2,38.5 9.1,37.8 9.1,37.0 9.2,36.2 9.3,35.8 9.3,35.0 9.4,34.2 9.5,33.5 9.5,33.0 9.6,32.2 9.5,31.5 9.4,31.0 9.1,30.5 8.9,30.0 8.7,29.5 8.6,28.8 8.7,28.0 8.8,27.5 8.9,26.8 8.8,26.0 8.6,25.5 8.4,25.0 8.2,24.5 8.0,23.8 7.8,23.2 7.7,22.8 7.6,22.0 7.6,21.2 7.5,20.5 7.5,19.8 7.5,19.0 7.6,18.2 7.8,17.8 8.0,17.1 8.2,16.6 8.5,16.2 8.9,15.8 9.2,15.4 9.8,15.1 10.2,14.9 11.0,14.8 11.8,14.8 12.5,14.8 13.0,14.7 13.8,14.6 14.5,14.5 15.2,14.5 15.8,14.5 16.5,14.5 17.0,14.5 17.8,14.5 18.5,14.5 19.2,14.5 20.0,14.6 20.8,14.7 21.2,14.8 22.0,14.9 22.8,15.0 23.5,15.0 24.2,14.9 25.0,14.8 25.5,14.7 26.2,14.7 27.0,14.7 27.5,14.8 28.2,14.8 29.0,14.8 29.8,14.9 30.5,15.0 31.0,15.0 31.8,15.1 32.5,15.2 33.0,15.3 33.8,15.4 34.5,15.4 35.2,15.5 35.8,15.5 36.5,15.6 37.2,15.6 38.0,15.6 38.8,15.7 39.3,15.8 40.0,15.8 40.8,15.9 41.5,16.0 42.0,16.0 42.8,16.1 43.5,16.2 44.0,16.3 44.8,16.4 45.5,16.5 46.0,16.6 46.8,16.7 47.2,16.8 48.0,16.9 48.8,17.0 49.2,17.0 50.0,17.1 50.7,17.2 51.2,17.4 51.8,17.6 52.2,17.9 52.7,18.2 53.0,18.6 53.4,19.0 53.7,19.5 53.7,20.2 53.5,20.8 53.1,21.2 52.8,21.6 52.2,22.0 51.8,22.2 51.4,22.5 51.0,22.8 50.5,23.1 50.0,23.4 49.5,23.7 49.0,23.9 48.5,24.1 48.0,24.3 47.2,24.4 46.5,24.5 46.0,24.5 45.2,24.6 44.5,24.7 44.0,24.8 43.2,24.9 42.5,25.0 41.8,25.0 41.0,24.9 40.2,24.8 39.7,24.8 39.0,24.7 38.5,24.8 37.8,24.9 37.2,25.0 36.5,25.1 36.0,25.2 35.2,25.4 34.8,25.5 34.0,25.7 33.5,25.9 33.0,26.1 32.5,26.4 32.1,26.8 31.9,27.2 31.8,28.0 31.8,28.8 31.9,29.5 32.1,30.0 32.4,30.5 32.8,30.8 33.1,31.2 33.3,31.8 33.4,32.5 33.3,33.2 33.2,33.8 33.1,34.5 33.0,35.0 32.9,35.8 32.8,36.5 32.6,37.0 32.4,37.5 32.1,38.0 31.8,38.5 31.5,38.9 31.2,39.2 31.0,39.8 30.9,40.5 31.1,41.0 31.3,41.5 31.5,42.2 31.7,42.8 31.8,43.2 32.0,43.9 32.1,44.5 32.2,45.2 32.1,46.0 32.1,46.8 32.1,47.5 32.2,48.2 32.3,48.8 32.4,49.5 32.4,50.2 32.2,50.9 32.1,51.5 31.9,52.0 31.6,52.5 31.4,53.0 31.0,53.5 30.8,53.9 30.5,54.2 30.0,54.7 29.7,55.0 29.2,55.4 28.8,55.7 28.2,56.0 27.8,56.2 27.2,56.4 26.8,56.6 26.1,56.8 25.5,56.9 24.8,57.0 24.2,57.1 23.5,57.2 23.0,57.4 22.4,57.5 21.8,57.6 21.0,57.7Z" fill="none" stroke="#3a3a3a" stroke-width="0.9" stroke-linejoin="round"/><path d="M20.7,54.5 21.0,54.1 21.2,53.5 21.0,52.9 20.5,52.6 19.8,52.8 19.5,53.0 19.2,53.7 19.2,54.1 19.5,54.5 20.2,54.7Z" fill="none" stroke="#3a3a3a" stroke-width="0.9" stroke-linejoin="round"/><path d="M15.0,54.8 14.5,54.7 13.8,54.5 13.4,54.2 13.0,53.8 12.8,53.4 12.5,52.8 12.6,52.0 12.8,51.5 13.2,51.0 13.6,50.8 14.2,50.5 14.8,50.4 15.5,50.4 16.2,50.5 16.7,50.0 16.4,49.5 16.0,49.0 15.8,48.6 15.5,48.1 15.3,47.5 15.3,46.8 15.5,46.0 15.6,45.5 15.5,44.9 15.0,44.5 14.5,44.2 14.2,44.0 13.8,43.5 13.6,43.0 13.4,42.5 13.3,41.8 13.2,41.2 13.0,40.7 12.8,40.2 12.4,39.8 12.1,39.2 11.8,38.8 11.5,38.3 11.4,37.8 11.4,37.0 11.5,36.2 11.5,35.8 11.6,35.0 11.6,34.2 11.6,33.5 11.7,32.8 11.7,32.0 11.8,31.5 11.8,30.8 11.8,30.1 11.6,29.5 11.4,29.0 11.2,28.5 11.0,28.0 10.7,27.5 10.4,27.0 10.0,26.5 9.8,26.2 9.4,25.8 9.1,25.2 8.8,24.8 8.6,24.2 8.4,23.8 8.2,23.2 8.1,22.5 8.0,21.8 8.0,21.2 7.9,20.5 7.9,19.8 8.0,19.0 8.0,18.5 8.2,17.8 8.3,17.2 8.6,16.8 8.9,16.2 9.2,15.9 9.8,15.6 10.2,15.4 10.8,15.2 11.5,15.2 12.2,15.2 13.0,15.1 13.8,15.1 14.4,15.0 15.0,14.9 15.8,14.9 16.5,14.9 17.2,14.9 18.0,14.9 18.8,14.9 19.5,15.0 20.0,15.0 20.8,15.1 21.4,15.2 22.0,15.3 22.8,15.4 23.5,15.3 24.2,15.2 24.8,15.2 25.5,15.1 26.2,15.0 27.0,15.1 27.8,15.1 28.5,15.2 29.2,15.2 29.8,15.3 30.5,15.4 31.1,15.5 31.8,15.6 32.5,15.7 33.0,15.8 33.8,15.8 34.5,15.9 35.2,15.9 36.0,16.0 36.8,16.0 37.3,16.0 38.0,16.0 38.8,16.1 39.5,16.2 40.0,16.3 40.8,16.4 41.5,16.4 42.0,16.5 42.8,16.6 43.4,16.8 44.0,16.9 44.5,17.0 45.2,17.2 45.8,17.4 46.2,17.5 47.0,17.8 47.5,17.9 48.2,17.9 49.0,18.0 49.5,18.0 50.2,18.2 50.8,18.4 51.2,18.7 51.7,19.0 52.0,19.3 52.3,19.8 52.2,20.2 51.9,20.8 51.5,21.1 51.1,21.5 50.8,21.8 50.3,22.2 50.0,22.5 49.5,22.9 49.0,23.2 48.5,23.5 48.0,23.7 47.5,23.8 46.8,24.0 46.2,24.0 45.5,24.1 44.8,24.1 44.1,24.2 43.5,24.4 42.8,24.4 42.0,24.5 41.2,24.4 40.5,24.3 39.8,24.3 39.0,24.3 38.2,24.4 37.5,24.5 37.0,24.6 36.2,24.7 35.8,24.8 35.0,25.0 34.5,25.1 33.9,25.2 33.2,25.4 32.8,25.6 32.1,25.8 31.5,25.9 31.0,26.1 30.2,26.2 29.8,26.3 29.0,26.3 28.2,26.4 27.5,26.4 26.8,26.4 26.0,26.4 25.2,26.4 24.5,26.4 24.0,26.5 23.2,26.6 22.5,26.7 21.8,26.7 21.0,26.7 20.2,26.7 19.5,26.7 19.0,26.8 18.2,26.9 17.5,26.9 16.8,27.0 16.2,27.1 15.8,27.3 15.4,27.8 15.5,28.3 15.8,28.8 16.2,29.2 16.5,29.7 16.8,30.0 17.1,30.5 17.3,31.0 17.4,31.8 17.5,32.3 17.7,33.0 17.9,33.5 18.2,34.0 18.5,34.3 19.0,34.7 19.5,34.9 20.0,35.1 20.8,35.1 21.2,35.0 21.8,34.7 22.2,34.2 22.5,33.8 22.7,33.2 22.9,32.8 23.0,32.2 23.2,31.5 23.3,31.0 23.5,30.2 23.8,29.8 24.2,29.5 24.8,29.3 25.2,29.2 25.8,29.0 26.5,28.8 27.2,28.8 28.0,28.8 28.5,29.0 29.0,29.2 29.5,29.7 29.8,30.0 30.1,30.5 30.4,31.0 30.8,31.4 31.0,31.8 31.4,32.2 31.7,32.8 31.8,33.2 31.8,34.0 31.7,34.5 31.6,35.2 31.4,35.8 31.2,36.2 31.0,36.8 30.6,37.2 30.2,37.6 29.8,38.0 29.2,38.2 28.8,38.3 28.2,38.2 27.8,38.0 27.1,37.8 26.5,37.7 26.0,37.8 25.9,38.5 26.1,39.0 26.3,39.5 26.5,40.0 26.8,40.6 27.1,41.0 27.6,41.2 28.2,41.5 28.8,41.6 29.2,41.9 29.6,42.2 30.0,42.7 30.2,43.1 30.5,43.6 30.7,44.2 30.9,44.8 31.0,45.5 31.0,46.2 31.0,47.0 31.0,47.5 31.2,48.2 31.4,48.8 31.5,49.4 31.5,50.0 31.5,50.5 31.3,51.2 31.1,51.8 30.8,52.2 30.5,52.6 30.0,53.0 29.7,53.2 29.0,53.5 28.5,53.5 28.0,53.4 27.5,53.2 27.1,52.8 26.9,52.2 26.8,51.5 26.8,50.8 26.8,50.0 26.8,49.3 26.5,48.9 26.0,49.1 25.7,49.5 25.2,50.0 24.9,50.2 24.5,50.5 24.0,50.8 23.2,50.9 22.5,50.9 22.0,50.7 21.5,50.5 21.0,50.2 20.2,50.0 19.8,50.0 19.2,50.0 18.5,50.2 18.0,50.4 17.6,50.8 17.5,51.2 17.4,52.0 17.3,52.8 17.1,53.2 16.9,53.8 16.5,54.2 16.1,54.5 15.5,54.7 15.0,54.8Z" fill="none" stroke="#444" stroke-width="0.85" stroke-linejoin="round"/><path d="M19.2,41.5 19.2,41.0 18.9,41.0 18.8,41.4 19.2,41.5Z" fill="none" stroke="#444" stroke-width="0.85" stroke-linejoin="round"/><path d="M14.0,26.5 13.2,26.6 12.5,26.6 11.9,26.5 11.2,26.3 10.8,26.1 10.2,25.8 9.9,25.5 9.5,25.1 9.2,24.7 9.0,24.2 8.8,23.6 8.6,23.0 8.5,22.5 8.4,21.8 8.4,21.0 8.4,20.2 8.4,19.5 8.4,18.8 8.5,18.1 8.7,17.5 8.9,17.0 9.2,16.5 9.5,16.2 10.0,15.9 10.5,15.7 11.2,15.7 12.0,15.7 12.8,15.6 13.5,15.6 14.2,15.5 14.8,15.4 15.5,15.4 16.2,15.4 17.0,15.3 17.8,15.3 18.5,15.3 19.2,15.4 20.0,15.5 20.5,15.5 21.2,15.7 21.9,15.8 22.5,15.8 23.2,15.8 23.8,15.7 24.5,15.6 25.2,15.5 25.8,15.5 26.5,15.5 27.2,15.5 27.8,15.5 28.5,15.6 29.2,15.7 29.9,15.8 30.5,15.9 31.2,16.0 31.8,16.1 32.5,16.2 33.0,16.3 33.8,16.4 34.5,16.5 35.0,16.5 35.8,16.5 36.5,16.5 37.2,16.6 38.0,16.6 38.8,16.7 39.2,16.8 40.0,17.0 40.5,17.1 41.2,17.2 41.8,17.3 42.5,17.5 43.0,17.7 43.3,18.0 43.6,18.5 43.8,19.2 43.9,19.8 44.2,20.2 44.5,20.5 45.1,20.8 45.8,20.9 46.5,21.0 47.0,21.1 47.5,21.3 48.0,21.6 48.1,22.2 47.8,22.7 47.3,23.0 46.8,23.2 46.0,23.2 45.5,23.3 44.8,23.3 44.0,23.4 43.5,23.6 42.8,23.7 42.2,23.8 41.5,23.8 40.8,23.8 40.2,23.7 39.5,23.7 38.8,23.7 38.2,23.8 37.5,23.8 36.9,24.0 36.2,24.2 35.8,24.3 35.0,24.5 34.5,24.6 34.0,24.8 33.2,24.9 32.8,25.0 32.0,25.2 31.5,25.3 30.8,25.5 30.2,25.5 29.5,25.6 28.8,25.7 28.0,25.7 27.2,25.7 26.5,25.7 25.8,25.7 25.0,25.7 24.5,25.8 23.8,25.9 23.0,25.9 22.2,25.9 21.5,25.9 20.8,25.9 20.0,25.9 19.3,26.0 18.8,26.1 18.0,26.1 17.2,26.2 16.5,26.2 16.0,26.3 15.2,26.4 14.5,26.5 14.0,26.5Z" fill="none" stroke="#444" stroke-width="0.8" stroke-linejoin="round"/><path d="M28.0,35.5 27.2,35.7 26.5,35.7 25.8,35.5 25.2,35.3 24.8,35.0 24.5,34.5 24.5,34.0 24.5,33.5 24.7,32.8 24.9,32.2 25.2,31.8 25.5,31.4 26.0,31.1 26.5,30.9 27.2,30.9 27.8,31.1 28.2,31.5 28.5,31.8 28.9,32.2 29.1,32.8 29.2,33.5 29.0,34.2 28.8,34.8 28.5,35.1 28.0,35.5Z" fill="none" stroke="#444" stroke-width="0.8" stroke-linejoin="round"/><path d="M15.2,39.8 14.8,39.7 14.2,39.4 13.8,39.0 13.5,38.5 13.3,38.0 13.2,37.5 13.2,36.8 13.2,36.0 13.3,35.5 13.4,34.8 13.4,34.0 13.4,33.2 13.5,32.5 13.6,32.0 13.8,31.5 14.2,31.0 14.9,31.2 15.2,31.7 15.5,32.2 15.8,32.7 16.0,33.2 16.2,33.7 16.5,34.1 16.8,34.5 17.0,35.0 17.3,35.5 17.6,36.0 17.8,36.6 17.8,37.0 17.5,37.6 17.2,38.0 16.8,38.5 16.5,38.8 16.1,39.2 15.8,39.6 15.2,39.8Z" fill="none" stroke="#444" stroke-width="0.8" stroke-linejoin="round"/><path d="M22.8,47.8 22.0,47.9 21.5,47.7 20.9,47.5 20.5,47.2 20.1,46.8 20.5,46.3 21.0,46.2 21.8,46.2 22.4,46.2 23.0,46.5 23.2,47.0 23.0,47.6Z" fill="none" stroke="#444" stroke-width="0.8" stroke-linejoin="round"/><path d="M29.8,50.9 29.2,50.7 29.1,50.0 29.2,49.4 29.8,49.2 30.0,49.5 30.2,50.2 29.9,50.8Z" fill="none" stroke="#444" stroke-width="0.8" stroke-linejoin="round"/><path d="M15.8,25.8 15.0,25.8 14.2,25.9 13.5,25.9 12.8,26.0 12.0,25.9 11.3,25.8 10.8,25.5 10.3,25.2 10.0,25.0 9.6,24.5 9.3,24.0 9.1,23.5 9.0,22.9 8.9,22.2 8.8,21.5 8.8,20.8 8.9,20.0 8.9,19.2 8.9,18.5 9.0,18.0 9.2,17.4 9.5,17.0 10.0,16.5 10.5,16.3 11.0,16.2 11.8,16.2 12.3,16.2 13.0,16.3 13.6,16.2 14.2,16.2 15.0,16.0 15.5,16.0 16.2,15.9 17.0,15.9 17.8,15.8 18.5,15.8 19.2,15.9 20.0,16.0 20.5,16.1 21.2,16.2 21.8,16.3 22.5,16.3 23.2,16.3 23.8,16.2 24.5,16.1 25.0,16.0 25.8,15.9 26.5,15.9 27.2,16.0 27.8,16.0 28.5,16.1 29.2,16.2 29.8,16.3 30.5,16.5 31.0,16.6 31.5,16.8 32.0,17.0 32.7,17.2 33.2,17.5 33.8,17.7 34.2,17.8 35.0,17.9 35.8,17.8 36.5,17.8 37.2,18.0 37.4,18.5 37.0,19.0 36.8,19.3 36.3,19.8 36.0,20.2 35.9,20.8 36.0,21.5 36.1,22.0 36.2,22.8 35.9,23.2 35.5,23.5 35.0,23.8 34.5,24.0 33.8,24.2 33.2,24.4 32.8,24.5 32.0,24.7 31.5,24.8 30.8,24.9 30.2,25.0 29.5,25.1 28.8,25.2 28.0,25.2 27.2,25.2 26.5,25.2 25.8,25.2 25.2,25.2 24.5,25.3 23.8,25.4 23.0,25.4 22.2,25.4 21.5,25.4 20.8,25.4 20.0,25.4 19.2,25.5 18.8,25.6 18.0,25.6 17.2,25.7 16.5,25.7 15.9,25.8Z" fill="none" stroke="#4a4a4a" stroke-width="0.8" stroke-linejoin="round"/><path d="M40.0,22.5 39.5,22.4 39.0,22.0 39.0,21.8 39.3,21.2 39.8,20.8 40.2,20.6 40.8,20.8 41.0,21.2 41.0,22.0 40.8,22.3 40.0,22.5Z" fill="none" stroke="#4a4a4a" stroke-width="0.8" stroke-linejoin="round"/><path d="M8.60,20.50 C8.83,19.97 9.10,18.05 10.00,17.30 C10.90,16.55 11.67,16.15 14.00,16.00 C16.33,15.85 20.67,16.40 24.00,16.40 C27.33,16.40 31.00,15.97 34.00,16.00 C37.00,16.03 40.67,16.50 42.00,16.60" fill="none" stroke="#1a1a1a" stroke-width="1.5" stroke-linejoin="round" stroke-linecap="round"/><path d="M42.00,16.60 C42.83,16.70 45.50,16.87 47.00,17.20 C48.50,17.53 50.25,18.03 51.00,18.60 C51.75,19.17 52.00,19.98 51.50,20.60 C51.00,21.22 49.58,21.92 48.00,22.30 C46.42,22.68 43.83,22.68 42.00,22.90 C40.17,23.12 37.83,23.48 37.00,23.60" fill="none" stroke="#333" stroke-width="0.9" stroke-linejoin="round" stroke-linecap="round"/><path d="M11.00,20.80 C11.67,20.27 13.17,19.73 15.00,19.60 C16.83,19.47 19.67,20.02 22.00,20.00 C24.33,19.98 27.25,19.33 29.00,19.50 C30.75,19.67 32.25,20.28 32.50,21.00 C32.75,21.72 32.25,23.17 30.50,23.80 C28.75,24.43 24.75,24.67 22.00,24.80 C19.25,24.93 15.83,24.93 14.00,24.60 C12.17,24.27 11.50,23.43 11.00,22.80 C10.50,22.17 10.33,21.33 11.00,20.80Z" fill="none" stroke="#444" stroke-width="0.65" stroke-linejoin="round" stroke-linecap="round"/><path d="M13.80,21.60 C13.80,21.23 15.93,20.77 17.00,20.80 C18.07,20.83 20.20,21.43 20.20,21.80 C20.20,22.17 18.07,23.03 17.00,23.00 C15.93,22.97 13.80,21.97 13.80,21.60Z" fill="none" stroke="#555" stroke-width="0.55" stroke-linejoin="round" stroke-linecap="round"/><path d="M23.50,21.50 C23.58,21.12 26.42,20.73 27.50,20.80 C28.58,20.87 30.08,21.52 30.00,21.90 C29.92,22.28 28.08,23.17 27.00,23.10 C25.92,23.03 23.42,21.88 23.50,21.50Z" fill="none" stroke="#555" stroke-width="0.55" stroke-linejoin="round" stroke-linecap="round"/><path d="M38.00,19.20 C38.83,18.63 43.00,18.53 45.00,18.60 C47.00,18.67 49.12,19.20 50.00,19.60 C50.88,20.00 50.97,20.62 50.30,21.00 C49.63,21.38 47.72,21.73 46.00,21.90 C44.28,22.07 41.33,22.45 40.00,22.00 C38.67,21.55 37.17,19.77 38.00,19.20Z" fill="none" stroke="#555" stroke-width="0.6" stroke-linejoin="round" stroke-linecap="round"/><path d="M42.50,20.00 C43.17,19.78 46.00,19.63 47.00,19.70 C48.00,19.77 48.67,20.18 48.50,20.40 C48.33,20.62 46.92,20.90 46.00,21.00 C45.08,21.10 43.58,21.17 43.00,21.00 C42.42,20.83 41.83,20.22 42.50,20.00Z" fill="none" stroke="#777" stroke-width="0.5" stroke-linejoin="round" stroke-linecap="round"/><path d="M11.00,26.40 C12.50,26.33 16.83,26.03 20.00,26.00 C23.17,25.97 27.58,26.45 30.00,26.20 C32.42,25.95 33.17,24.90 34.50,24.50 C35.83,24.10 37.42,23.92 38.00,23.80" fill="none" stroke="#555" stroke-width="0.6" stroke-linejoin="round" stroke-linecap="round"/><ellipse cx="23" cy="31.2" rx="1.3" ry="1.2" fill="none" stroke="#666" stroke-width="0.5"/><ellipse cx="22.6" cy="53.9" rx="1.6" ry="1.3" fill="none" stroke="#555" stroke-width="0.55"/><ellipse cx="25.8" cy="37.3" rx="1.3" ry="0.9" fill="none" stroke="#666" stroke-width="0.5"/><ellipse cx="13.5" cy="34" rx="0.9" ry="1.8" fill="none" stroke="#666" stroke-width="0.5"/><path d="M45,50 C46.5,52 52.6,53.5 52.6,57.2 C52.6,60 50,60.8 48.3,60.4 C46,60 45.3,57.5 45.6,55 C45.8,53 45.3,51.5 45,50Z" fill="none" stroke="#222" stroke-width="1.0"/><path d="M43.8,48.5 C46,51 54,52 54,57.3 C54,61 50.5,62.2 48.2,61.8 C45,61.3 44,58 44.3,55 C44.5,52.5 44,50.5 43.8,48.5Z" fill="none" stroke="#777" stroke-width="0.7"/></g><g transform="translate(183.30,38.50)" clip-path="url(#c1)"><path d="M48.6 38.7h0.75v0.75h-0.75zM40.5 57.3h0.75v0.75h-0.75zM51.3 39.3h0.75v0.75h-0.75zM45.5 48.0h0.75v0.75h-0.75zM38.4 49.9h0.75v0.75h-0.75zM57.9 52.3h0.75v0.75h-0.75zM46.8 33.1h0.75v0.75h-0.75zM48.3 48.8h0.75v0.75h-0.75zM51.6 59.0h0.75v0.75h-0.75zM42.7 32.6h0.75v0.75h-0.75zM57.4 47.2h0.75v0.75h-0.75zM55.6 49.5h0.75v0.75h-0.75zM55.9 49.5h0.75v0.75h-0.75zM52.2 50.6h0.75v0.75h-0.75zM57.0 54.5h0.75v0.75h-0.75zM57.5 43.1h0.75v0.75h-0.75zM41.3 35.8h0.75v0.75h-0.75zM46.6 47.9h0.75v0.75h-0.75zM51.5 44.8h0.75v0.75h-0.75zM57.3 42.8h0.75v0.75h-0.75zM50.8 37.2h0.75v0.75h-0.75zM52.6 35.7h0.75v0.75h-0.75zM56.0 44.2h0.75v0.75h-0.75zM57.0 49.9h0.75v0.75h-0.75zM52.2 36.0h0.75v0.75h-0.75zM55.5 62.7h0.75v0.75h-0.75zM40.1 48.7h0.75v0.75h-0.75zM40.4 58.9h0.75v0.75h-0.75zM55.2 60.0h0.75v0.75h-0.75zM53.1 42.2h0.75v0.75h-0.75zM50.3 31.0h0.75v0.75h-0.75zM39.2 47.9h0.75v0.75h-0.75zM52.6 39.0h0.75v0.75h-0.75zM43.9 41.7h0.75v0.75h-0.75zM56.0 52.5h0.75v0.75h-0.75zM55.5 54.7h0.75v0.75h-0.75zM51.7 55.0h0.75v0.75h-0.75zM41.7 54.8h0.75v0.75h-0.75zM49.2 50.9h0.75v0.75h-0.75zM47.4 44.2h0.75v0.75h-0.75zM54.7 56.2h0.75v0.75h-0.75zM41.1 58.2h0.75v0.75h-0.75zM48.3 31.1h0.75v0.75h-0.75zM53.6 58.9h0.75v0.75h-0.75zM46.1 43.6h0.75v0.75h-0.75zM42.7 35.6h0.75v0.75h-0.75zM48.2 43.9h0.75v0.75h-0.75zM50.7 51.4h0.75v0.75h-0.75zM41.1 55.2h0.75v0.75h-0.75zM46.5 42.8h0.75v0.75h-0.75zM40.9 49.8h0.75v0.75h-0.75zM51.3 55.6h0.75v0.75h-0.75zM54.2 40.9h0.75v0.75h-0.75zM48.5 49.9h0.75v0.75h-0.75zM45.2 29.3h0.75v0.75h-0.75zM52.3 59.6h0.75v0.75h-0.75zM47.0 60.3h0.75v0.75h-0.75zM38.1 48.9h0.75v0.75h-0.75zM45.3 50.7h0.75v0.75h-0.75zM44.6 53.4h0.75v0.75h-0.75zM41.3 38.7h0.75v0.75h-0.75zM45.6 43.2h0.75v0.75h-0.75zM45.7 61.1h0.75v0.75h-0.75zM47.8 48.1h0.75v0.75h-0.75zM39.7 47.1h0.75v0.75h-0.75zM53.0 52.9h0.75v0.75h-0.75zM57.1 49.3h0.75v0.75h-0.75zM44.8 58.6h0.75v0.75h-0.75zM57.6 62.0h0.75v0.75h-0.75zM39.4 52.0h0.75v0.75h-0.75zM40.3 38.1h0.75v0.75h-0.75zM53.3 58.7h0.75v0.75h-0.75zM49.4 39.9h0.75v0.75h-0.75zM47.2 39.5h0.75v0.75h-0.75zM42.6 36.0h0.75v0.75h-0.75zM56.9 60.7h0.75v0.75h-0.75zM40.9 57.8h0.75v0.75h-0.75zM52.7 53.6h0.75v0.75h-0.75zM42.4 47.1h0.75v0.75h-0.75zM54.1 52.8h0.75v0.75h-0.75zM56.6 30.9h0.75v0.75h-0.75zM44.0 41.6h0.75v0.75h-0.75zM45.7 62.5h0.75v0.75h-0.75zM57.3 57.3h0.75v0.75h-0.75zM50.8 55.3h0.75v0.75h-0.75zM54.8 36.3h0.75v0.75h-0.75zM50.2 62.4h0.75v0.75h-0.75zM40.5 44.1h0.75v0.75h-0.75zM44.7 58.0h0.75v0.75h-0.75zM46.7 33.7h0.75v0.75h-0.75zM44.9 51.0h0.75v0.75h-0.75zM48.4 29.9h0.75v0.75h-0.75zM54.1 38.7h0.75v0.75h-0.75zM51.1 49.6h0.75v0.75h-0.75zM38.9 29.7h0.75v0.75h-0.75zM52.2 46.3h0.75v0.75h-0.75zM38.8 45.1h0.75v0.75h-0.75zM51.9 36.7h0.75v0.75h-0.75zM45.5 53.5h0.75v0.75h-0.75zM42.8 50.1h0.75v0.75h-0.75zM38.2 52.9h0.75v0.75h-0.75zM42.0 43.7h0.75v0.75h-0.75zM57.9 55.4h0.75v0.75h-0.75zM40.9 56.1h0.75v0.75h-0.75zM45.4 45.8h0.75v0.75h-0.75zM42.9 34.9h0.75v0.75h-0.75zM57.7 42.2h0.75v0.75h-0.75zM41.3 56.3h0.75v0.75h-0.75zM39.2 43.0h0.75v0.75h-0.75zM39.4 30.2h0.75v0.75h-0.75zM57.7 45.6h0.75v0.75h-0.75zM50.7 34.0h0.75v0.75h-0.75zM44.7 31.0h0.75v0.75h-0.75zM54.7 29.3h0.75v0.75h-0.75zM56.7 61.7h0.75v0.75h-0.75zM41.2 38.8h0.75v0.75h-0.75zM40.7 29.9h0.75v0.75h-0.75zM47.0 46.9h0.75v0.75h-0.75zM55.5 45.4h0.75v0.75h-0.75zM40.7 43.6h0.75v0.75h-0.75zM40.4 30.1h0.75v0.75h-0.75zM45.1 57.3h0.75v0.75h-0.75zM38.7 62.1h0.75v0.75h-0.75zM54.7 62.8h0.75v0.75h-0.75zM49.5 39.5h0.75v0.75h-0.75zM53.2 34.1h0.75v0.75h-0.75zM48.0 57.3h0.75v0.75h-0.75zM48.3 55.0h0.75v0.75h-0.75zM40.8 58.3h0.75v0.75h-0.75zM40.2 40.3h0.75v0.75h-0.75zM49.5 60.2h0.75v0.75h-0.75zM39.5 38.5h0.75v0.75h-0.75zM53.2 37.4h0.75v0.75h-0.75zM45.3 35.1h0.75v0.75h-0.75zM57.8 55.8h0.75v0.75h-0.75zM45.0 62.8h0.75v0.75h-0.75zM55.6 39.9h0.75v0.75h-0.75zM38.6 53.4h0.75v0.75h-0.75zM50.4 38.0h0.75v0.75h-0.75zM56.6 52.2h0.75v0.75h-0.75zM51.0 52.7h0.75v0.75h-0.75zM42.7 58.9h0.75v0.75h-0.75zM46.9 60.5h0.75v0.75h-0.75zM49.8 52.2h0.75v0.75h-0.75zM55.3 62.4h0.75v0.75h-0.75zM52.0 61.1h0.75v0.75h-0.75zM45.7 39.7h0.75v0.75h-0.75zM42.5 41.6h0.75v0.75h-0.75zM55.8 40.1h0.75v0.75h-0.75zM42.2 32.1h0.75v0.75h-0.75zM52.1 60.7h0.75v0.75h-0.75zM45.9 34.2h0.75v0.75h-0.75zM53.0 57.9h0.75v0.75h-0.75zM45.5 45.1h0.75v0.75h-0.75zM44.9 47.2h0.75v0.75h-0.75zM50.9 60.4h0.75v0.75h-0.75zM44.0 61.7h0.75v0.75h-0.75zM49.9 44.6h0.75v0.75h-0.75zM54.7 37.1h0.75v0.75h-0.75zM48.5 60.0h0.75v0.75h-0.75zM54.5 58.3h0.75v0.75h-0.75zM48.1 50.9h0.75v0.75h-0.75zM53.4 37.3h0.75v0.75h-0.75zM57.3 56.2h0.75v0.75h-0.75zM47.2 49.4h0.75v0.75h-0.75zM56.9 29.5h0.75v0.75h-0.75zM42.8 58.8h0.75v0.75h-0.75zM43.3 37.3h0.75v0.75h-0.75zM38.0 38.7h0.75v0.75h-0.75zM44.7 51.2h0.75v0.75h-0.75z" fill="#999"/><path d="M38.8 38.8h0.7v0.7h-0.7zM43.0 12.7h0.7v0.7h-0.7zM23.3 61.8h0.7v0.7h-0.7zM36.4 58.1h0.7v0.7h-0.7zM57.3 18.0h0.7v0.7h-0.7zM57.5 20.5h0.7v0.7h-0.7zM33.0 59.0h0.7v0.7h-0.7zM54.0 16.6h0.7v0.7h-0.7zM3.1 46.4h0.7v0.7h-0.7zM3.4 29.1h0.7v0.7h-0.7zM2.6 35.8h0.7v0.7h-0.7zM7.6 12.7h0.7v0.7h-0.7zM2.5 29.3h0.7v0.7h-0.7zM6.5 53.8h0.7v0.7h-0.7zM23.4 62.9h0.7v0.7h-0.7zM38.1 55.7h0.7v0.7h-0.7zM2.2 30.1h0.7v0.7h-0.7zM48.7 13.8h0.7v0.7h-0.7zM14.1 61.0h0.7v0.7h-0.7zM49.7 26.4h0.7v0.7h-0.7zM29.6 11.7h0.7v0.7h-0.7zM50.4 15.8h0.7v0.7h-0.7zM25.8 12.2h0.7v0.7h-0.7zM13.0 60.6h0.7v0.7h-0.7zM48.3 28.3h0.7v0.7h-0.7zM52.8 25.5h0.7v0.7h-0.7zM38.2 37.7h0.7v0.7h-0.7zM9.4 59.1h0.7v0.7h-0.7zM8.2 14.5h0.7v0.7h-0.7zM4.8 14.7h0.7v0.7h-0.7zM40.1 14.4h0.7v0.7h-0.7zM3.4 35.4h0.7v0.7h-0.7zM13.9 13.5h0.7v0.7h-0.7zM37.2 41.2h0.7v0.7h-0.7zM4.4 49.0h0.7v0.7h-0.7zM13.0 60.3h0.7v0.7h-0.7zM54.4 15.2h0.7v0.7h-0.7zM39.4 42.0h0.7v0.7h-0.7zM37.7 57.7h0.7v0.7h-0.7zM5.3 42.4h0.7v0.7h-0.7zM4.3 38.0h0.7v0.7h-0.7zM15.9 13.2h0.7v0.7h-0.7zM1.9 26.4h0.7v0.7h-0.7zM29.8 60.1h0.7v0.7h-0.7zM47.9 27.3h0.7v0.7h-0.7zM38.3 39.9h0.7v0.7h-0.7zM29.5 60.7h0.7v0.7h-0.7zM51.2 26.5h0.7v0.7h-0.7zM38.7 46.6h0.7v0.7h-0.7zM3.4 31.8h0.7v0.7h-0.7zM23.7 12.6h0.7v0.7h-0.7zM13.6 12.9h0.7v0.7h-0.7zM29.4 60.6h0.7v0.7h-0.7zM30.0 13.7h0.7v0.7h-0.7zM36.3 55.6h0.7v0.7h-0.7zM49.4 15.6h0.7v0.7h-0.7zM22.7 12.9h0.7v0.7h-0.7zM4.1 43.6h0.7v0.7h-0.7zM48.6 15.2h0.7v0.7h-0.7zM10.1 60.5h0.7v0.7h-0.7zM37.0 33.9h0.7v0.7h-0.7zM36.1 56.7h0.7v0.7h-0.7zM49.7 13.5h0.7v0.7h-0.7zM30.2 12.8h0.7v0.7h-0.7zM2.8 24.0h0.7v0.7h-0.7zM39.2 37.8h0.7v0.7h-0.7zM3.3 17.2h0.7v0.7h-0.7zM2.6 37.5h0.7v0.7h-0.7zM3.5 18.5h0.7v0.7h-0.7zM43.3 12.3h0.7v0.7h-0.7zM38.8 31.0h0.7v0.7h-0.7zM10.8 13.2h0.7v0.7h-0.7zM28.1 13.9h0.7v0.7h-0.7zM38.0 40.0h0.7v0.7h-0.7zM37.6 53.2h0.7v0.7h-0.7zM56.4 18.7h0.7v0.7h-0.7zM11.8 13.4h0.7v0.7h-0.7zM55.2 24.7h0.7v0.7h-0.7zM51.3 26.6h0.7v0.7h-0.7zM4.9 42.0h0.7v0.7h-0.7zM3.9 26.6h0.7v0.7h-0.7zM9.1 13.0h0.7v0.7h-0.7zM39.1 38.9h0.7v0.7h-0.7zM4.8 51.2h0.7v0.7h-0.7zM38.7 44.8h0.7v0.7h-0.7zM56.5 23.3h0.7v0.7h-0.7zM37.7 35.7h0.7v0.7h-0.7zM25.8 62.7h0.7v0.7h-0.7zM2.7 32.1h0.7v0.7h-0.7zM36.6 48.1h0.7v0.7h-0.7zM18.4 62.0h0.7v0.7h-0.7zM51.7 26.2h0.7v0.7h-0.7zM12.9 61.1h0.7v0.7h-0.7zM15.3 13.5h0.7v0.7h-0.7zM54.0 15.6h0.7v0.7h-0.7zM3.3 27.4h0.7v0.7h-0.7zM34.1 12.8h0.7v0.7h-0.7zM2.4 34.3h0.7v0.7h-0.7zM37.4 30.1h0.7v0.7h-0.7zM44.3 13.9h0.7v0.7h-0.7zM39.2 38.2h0.7v0.7h-0.7zM38.0 47.8h0.7v0.7h-0.7zM49.9 27.4h0.7v0.7h-0.7zM3.0 26.9h0.7v0.7h-0.7zM8.4 14.4h0.7v0.7h-0.7zM3.9 16.2h0.7v0.7h-0.7zM4.1 46.5h0.7v0.7h-0.7zM51.9 16.2h0.7v0.7h-0.7zM38.0 48.1h0.7v0.7h-0.7zM39.7 30.4h0.7v0.7h-0.7zM4.4 49.5h0.7v0.7h-0.7zM19.2 11.3h0.7v0.7h-0.7zM29.7 11.8h0.7v0.7h-0.7zM49.1 12.9h0.7v0.7h-0.7zM6.4 58.2h0.7v0.7h-0.7zM5.8 49.3h0.7v0.7h-0.7zM30.8 12.7h0.7v0.7h-0.7zM34.2 58.1h0.7v0.7h-0.7zM54.8 22.8h0.7v0.7h-0.7zM45.2 27.3h0.7v0.7h-0.7z" fill="#999"/><path d="M26.0,60.3 25.2,60.4 24.5,60.4 23.8,60.4 23.0,60.4 22.2,60.5 21.5,60.5 20.8,60.4 20.0,60.4 19.2,60.4 18.5,60.4 17.8,60.3 17.2,60.2 16.5,60.1 15.8,60.0 15.2,59.9 14.6,59.8 14.0,59.6 13.4,59.5 12.8,59.3 12.2,59.1 11.8,58.9 11.2,58.7 10.8,58.4 10.2,58.2 9.8,57.8 9.3,57.5 9.0,57.2 8.5,56.8 8.2,56.5 7.8,56.0 7.5,55.5 7.2,55.1 7.0,54.5 6.8,54.0 6.6,53.5 6.5,53.0 6.3,52.2 6.2,51.8 6.1,51.0 6.1,50.2 6.1,49.5 6.0,48.8 6.0,48.2 5.9,47.5 5.9,46.8 5.8,46.0 5.8,45.4 5.6,44.8 5.6,44.0 5.6,43.2 5.5,42.5 5.4,42.0 5.4,41.2 5.3,40.5 5.3,39.8 5.2,39.2 5.1,38.5 5.1,37.8 5.1,37.0 5.0,36.4 4.9,35.8 4.9,35.0 4.9,34.2 4.9,33.5 4.9,32.8 4.8,32.0 4.8,31.2 4.7,30.8 4.6,30.0 4.6,29.2 4.5,28.5 4.4,28.0 4.3,27.2 4.1,26.8 4.0,26.2 3.8,25.7 3.5,25.0 3.3,24.5 3.2,24.0 3.1,23.2 3.0,22.5 3.2,21.8 3.3,21.2 3.6,20.8 3.9,20.2 4.2,19.8 4.5,19.5 4.9,19.0 5.2,18.5 5.5,18.2 5.8,17.8 6.2,17.2 6.5,16.9 6.8,16.5 7.2,16.0 7.5,15.7 8.0,15.2 8.3,15.0 8.8,14.7 9.2,14.5 9.8,14.2 10.5,14.0 11.0,13.9 11.8,13.9 12.5,13.9 13.2,13.9 14.0,13.9 14.8,13.9 15.5,13.9 16.2,13.9 17.0,13.9 17.8,13.9 18.5,13.9 19.2,13.9 20.0,13.9 20.8,13.9 21.5,13.9 22.2,13.9 22.9,14.0 23.5,14.1 24.2,14.1 25.0,14.1 25.8,14.1 26.5,14.1 27.2,14.1 28.0,14.1 28.8,14.2 29.2,14.3 30.0,14.3 30.8,14.4 31.5,14.4 32.2,14.4 33.0,14.4 33.8,14.4 34.5,14.4 35.0,14.5 35.8,14.6 36.5,14.6 37.2,14.6 38.0,14.6 38.8,14.6 39.4,14.8 40.0,14.8 40.8,14.8 41.5,14.9 42.2,14.9 43.0,14.9 43.5,15.0 44.2,15.1 45.0,15.1 45.8,15.1 46.4,15.2 47.0,15.3 47.8,15.4 48.4,15.5 49.0,15.7 49.5,15.8 50.2,16.0 50.8,16.1 51.2,16.3 51.8,16.5 52.3,16.8 52.8,17.0 53.2,17.4 53.6,17.8 54.0,18.1 54.3,18.5 54.6,19.0 54.9,19.5 55.0,20.0 55.0,20.8 54.9,21.2 54.8,21.8 54.5,22.3 54.2,22.8 53.8,23.2 53.5,23.6 53.0,23.9 52.5,24.2 52.1,24.5 51.6,24.8 51.0,25.0 50.5,25.2 50.0,25.4 49.5,25.5 48.8,25.7 48.2,25.8 47.6,26.0 47.0,26.1 46.4,26.2 45.8,26.4 45.2,26.5 44.5,26.6 43.9,26.8 43.2,26.9 42.5,27.0 42.0,27.1 41.2,27.2 40.7,27.2 40.0,27.4 39.3,27.5 38.8,27.6 38.2,27.8 37.8,28.1 37.3,28.5 37.0,29.0 36.9,29.5 36.7,30.0 36.6,30.8 36.5,31.4 36.4,32.0 36.3,32.8 36.2,33.2 36.2,34.0 36.1,34.8 36.1,35.5 36.1,36.2 36.1,37.0 36.1,37.8 36.2,38.5 36.2,39.2 36.3,39.8 36.4,40.5 36.4,41.2 36.4,42.0 36.5,42.8 36.5,43.5 36.4,44.2 36.4,45.0 36.4,45.8 36.3,46.5 36.2,47.0 36.2,47.8 36.1,48.5 36.1,49.2 36.2,50.0 36.2,50.6 36.4,51.2 36.5,51.8 36.6,52.5 36.5,53.2 36.3,53.8 36.1,54.2 35.8,54.8 35.5,55.2 35.3,55.8 35.0,56.2 34.8,56.5 34.4,57.0 34.0,57.4 33.6,57.8 33.2,58.1 32.8,58.4 32.3,58.8 31.8,59.0 31.2,59.2 30.8,59.4 30.2,59.5 29.5,59.7 29.0,59.8 28.2,59.9 27.8,60.0 27.0,60.1 26.2,60.2Z" fill="none" stroke="#666" stroke-width="0.9" stroke-linejoin="round"/><path d="M24.0,60.5 23.2,60.5 22.5,60.5 21.8,60.5 21.0,60.6 20.2,60.5 19.7,60.5 19.0,60.4 18.2,60.4 17.5,60.4 16.8,60.3 16.2,60.2 15.5,60.0 15.0,59.8 14.5,59.7 13.8,59.5 13.2,59.4 12.7,59.2 12.1,59.0 11.6,58.8 11.2,58.5 10.8,58.1 10.4,57.8 10.0,57.2 9.8,56.9 9.4,56.5 9.0,56.0 8.8,55.6 8.5,55.2 8.2,54.8 7.9,54.2 7.6,53.8 7.3,53.2 7.1,52.8 6.8,52.2 6.6,51.8 6.4,51.2 6.2,50.5 6.2,50.0 6.1,49.2 6.0,48.5 6.0,48.0 5.8,47.2 5.7,46.8 5.5,46.2 5.3,45.5 5.2,45.0 5.0,44.2 4.9,43.8 4.8,43.0 4.8,42.2 4.7,41.8 4.7,41.0 4.8,40.5 4.8,39.8 4.8,39.0 4.7,38.5 4.5,37.8 4.4,37.2 4.2,36.8 4.0,36.0 3.9,35.5 3.8,34.8 3.8,34.0 3.7,33.5 3.7,32.8 3.6,32.0 3.5,31.5 3.3,30.8 3.2,30.2 3.1,29.5 3.1,28.8 3.1,28.0 3.1,27.2 3.2,26.5 3.2,25.8 3.3,25.2 3.2,24.8 3.2,24.0 3.1,23.2 3.1,22.5 3.2,21.8 3.3,21.2 3.5,20.5 3.6,20.0 3.8,19.4 3.9,18.8 4.1,18.2 4.3,17.8 4.6,17.2 5.0,16.8 5.2,16.4 5.7,16.0 6.1,15.8 6.5,15.5 7.0,15.2 7.5,15.0 8.2,14.8 8.8,14.6 9.5,14.5 10.0,14.4 10.8,14.3 11.3,14.2 12.0,14.2 12.8,14.1 13.5,14.1 14.2,14.0 15.0,14.0 15.8,14.0 16.5,14.0 17.0,14.0 17.8,14.0 18.5,13.9 19.2,13.9 20.0,13.8 20.8,13.8 21.5,13.8 22.2,13.9 23.0,13.9 23.8,13.9 24.5,13.9 25.2,13.9 26.0,13.9 26.8,14.0 27.2,14.0 28.0,14.0 28.8,14.1 29.5,14.0 30.0,14.0 30.8,13.9 31.5,13.9 32.2,13.9 33.0,13.9 33.8,13.9 34.5,13.9 35.2,13.9 36.0,13.9 36.8,13.9 37.5,13.9 38.2,14.0 38.8,14.0 39.5,14.1 40.2,14.2 40.8,14.3 41.5,14.4 42.0,14.5 42.8,14.6 43.5,14.7 44.0,14.8 44.8,14.8 45.5,14.8 46.2,14.9 47.0,15.0 47.5,15.0 48.2,15.1 49.0,15.2 49.5,15.3 50.1,15.5 50.8,15.7 51.2,15.9 51.8,16.2 52.2,16.4 52.8,16.6 53.2,16.9 53.7,17.2 54.0,17.5 54.5,18.0 54.8,18.4 55.0,19.0 55.1,19.5 55.1,20.2 54.9,20.8 54.8,21.3 54.5,21.8 54.2,22.2 53.8,22.8 53.5,23.1 53.0,23.5 52.5,23.8 52.0,24.0 51.5,24.2 51.0,24.4 50.5,24.5 49.8,24.8 49.2,24.9 48.8,25.1 48.2,25.3 47.5,25.4 47.0,25.5 46.2,25.7 45.5,25.7 45.0,25.8 44.2,25.8 43.5,25.9 43.0,26.0 42.2,26.2 41.8,26.3 41.0,26.4 40.5,26.5 39.8,26.7 39.2,26.8 38.8,27.0 38.2,27.3 37.8,27.8 37.8,28.2 37.9,28.8 38.0,29.3 38.1,30.0 38.2,30.8 38.2,31.5 38.1,32.2 38.0,33.0 37.9,33.5 37.9,34.2 37.8,35.0 37.8,35.8 37.8,36.3 37.6,37.0 37.4,37.5 37.2,38.0 37.0,38.6 36.9,39.2 36.8,40.0 36.8,40.8 36.8,41.5 36.9,42.2 36.9,43.0 36.9,43.8 36.9,44.5 36.9,45.2 37.0,46.0 37.0,46.8 37.0,47.2 37.1,48.0 37.1,48.8 37.0,49.4 36.9,50.0 36.8,50.7 36.6,51.2 36.4,51.8 36.2,52.2 36.0,52.9 35.8,53.5 35.6,54.0 35.4,54.5 35.2,55.0 34.9,55.5 34.6,56.0 34.2,56.4 33.9,56.8 33.5,57.2 33.0,57.5 32.6,57.8 32.1,58.0 31.5,58.2 31.0,58.4 30.5,58.7 30.0,58.9 29.5,59.1 29.0,59.3 28.2,59.5 27.8,59.6 27.0,59.7 26.5,59.9 26.0,60.1 25.5,60.2 24.8,60.4 24.1,60.5Z" fill="none" stroke="#2a2a2a" stroke-width="1.0" stroke-linejoin="round"/><path d="M24.0,59.3 23.2,59.3 22.5,59.3 21.8,59.3 21.0,59.3 20.3,59.2 19.8,59.2 19.0,59.0 18.5,59.0 17.8,58.8 17.2,58.7 16.8,58.5 16.2,58.2 15.8,57.8 15.2,57.6 14.8,57.5 14.1,57.5 13.5,57.6 12.8,57.6 12.2,57.4 11.8,57.1 11.4,56.8 11.0,56.3 10.8,56.0 10.4,55.5 10.0,55.1 9.7,54.8 9.3,54.2 9.0,53.8 8.8,53.3 8.5,52.8 8.3,52.2 8.2,51.8 8.0,51.2 7.8,50.5 7.7,50.0 7.6,49.2 7.5,48.5 7.5,48.0 7.3,47.2 7.2,46.8 6.9,46.2 6.7,45.8 6.5,45.2 6.2,44.7 6.1,44.0 6.0,43.5 5.9,42.8 5.9,42.0 6.0,41.5 6.2,40.8 6.2,40.2 6.3,39.5 6.2,39.0 6.1,38.2 6.0,37.8 5.8,37.0 5.6,36.5 5.5,36.0 5.3,35.2 5.2,34.8 5.2,34.0 5.1,33.2 5.1,32.5 5.1,31.8 5.0,31.2 4.8,30.7 4.5,30.0 4.4,29.5 4.3,28.8 4.4,28.0 4.5,27.4 4.6,26.8 4.6,26.0 4.4,25.5 4.2,25.0 4.0,24.5 3.8,23.8 3.6,23.2 3.6,22.5 3.7,21.8 3.8,21.2 4.0,20.5 4.1,20.0 4.2,19.3 4.4,18.8 4.6,18.2 4.8,17.8 5.2,17.2 5.5,16.9 5.9,16.5 6.2,16.2 6.8,15.9 7.2,15.6 7.8,15.4 8.4,15.2 9.0,15.1 9.7,15.0 10.2,14.9 11.0,14.8 11.5,14.7 12.2,14.7 13.0,14.6 13.8,14.6 14.5,14.5 15.2,14.6 16.0,14.6 16.8,14.6 17.5,14.5 18.0,14.5 18.8,14.4 19.5,14.4 20.2,14.3 21.0,14.3 21.8,14.3 22.5,14.4 23.2,14.4 24.0,14.4 24.8,14.4 25.5,14.4 26.2,14.4 27.0,14.5 27.5,14.5 28.2,14.6 29.0,14.6 29.8,14.5 30.2,14.5 31.0,14.4 31.8,14.3 32.5,14.3 33.2,14.3 34.0,14.3 34.8,14.4 35.5,14.3 36.2,14.3 37.0,14.4 37.8,14.4 38.5,14.5 39.0,14.5 39.8,14.6 40.5,14.7 41.0,14.8 41.8,15.0 42.2,15.1 43.0,15.2 43.5,15.3 44.2,15.3 45.0,15.4 45.8,15.4 46.5,15.5 47.0,15.5 47.8,15.6 48.5,15.7 49.0,15.8 49.8,16.0 50.2,16.2 50.8,16.4 51.2,16.6 51.8,16.9 52.2,17.1 52.8,17.4 53.2,17.8 53.5,18.0 53.9,18.5 54.2,19.0 54.4,19.5 54.3,20.2 54.2,20.8 54.0,21.2 53.7,21.8 53.4,22.2 53.0,22.7 52.6,23.0 52.2,23.2 51.7,23.5 51.0,23.8 50.5,23.9 50.0,24.1 49.5,24.2 48.8,24.5 48.2,24.7 47.8,24.8 47.0,25.0 46.5,25.0 45.8,25.1 45.0,25.2 44.2,25.2 43.8,25.3 43.0,25.4 42.5,25.5 41.8,25.6 41.1,25.8 40.5,25.9 39.8,26.0 39.2,26.1 38.6,26.2 38.0,26.5 37.5,26.7 37.0,27.0 36.8,27.3 36.4,27.8 36.4,28.5 36.6,29.0 36.8,29.7 36.8,30.2 36.9,31.0 36.8,31.8 36.8,32.3 36.6,33.0 36.5,33.6 36.4,34.2 36.3,35.0 36.2,35.5 36.0,36.2 35.8,36.8 35.7,37.2 35.5,38.0 35.5,38.5 35.4,39.2 35.4,40.0 35.3,40.8 35.3,41.5 35.4,42.2 35.4,43.0 35.5,43.8 35.4,44.5 35.4,45.2 35.2,46.0 35.1,46.5 35.0,47.1 34.9,47.8 35.0,48.5 35.1,49.0 35.2,49.7 35.3,50.2 35.3,51.0 35.2,51.5 35.0,52.2 34.9,52.8 34.7,53.2 34.5,53.8 34.2,54.4 34.0,54.9 33.7,55.2 33.3,55.8 33.0,56.0 32.5,56.4 32.0,56.6 31.5,56.8 30.8,56.9 30.1,57.0 29.5,57.1 28.8,57.2 28.2,57.4 27.8,57.5 27.2,57.8 26.7,58.0 26.2,58.3 25.8,58.6 25.2,58.9 24.8,59.1 24.0,59.2Z" fill="none" stroke="#333" stroke-width="0.95" stroke-linejoin="round"/><path d="M23.8,58.3 23.0,58.3 22.2,58.3 21.5,58.3 21.0,58.2 20.2,58.1 19.7,58.0 19.0,57.9 18.5,57.7 17.9,57.5 17.4,57.2 17.0,57.0 16.5,56.7 16.0,56.3 15.5,56.0 15.0,55.8 14.5,55.6 13.8,55.5 13.2,55.5 12.5,55.3 12.1,55.0 11.8,54.7 11.2,54.4 10.8,54.0 10.5,53.8 10.1,53.2 9.8,52.8 9.6,52.2 9.5,51.5 9.5,50.9 9.5,50.2 9.4,49.5 9.4,48.8 9.3,48.0 9.2,47.4 9.0,46.8 8.8,46.2 8.5,45.9 8.1,45.5 7.8,45.1 7.5,44.8 7.2,44.2 7.0,43.5 7.0,43.0 7.0,42.5 7.2,41.8 7.4,41.2 7.6,40.8 7.7,40.0 7.6,39.2 7.5,38.8 7.3,38.0 7.2,37.5 7.1,36.8 7.0,36.0 7.0,35.5 6.8,34.8 6.8,34.2 6.7,33.5 6.7,32.8 6.8,32.2 6.8,31.5 6.7,31.0 6.5,30.3 6.3,29.8 6.2,29.2 6.3,28.8 6.5,28.1 6.7,27.5 6.8,27.0 6.5,26.5 6.2,26.2 5.8,25.8 5.5,25.5 5.0,25.1 4.7,24.8 4.4,24.2 4.2,23.8 4.0,23.0 4.0,22.2 4.2,21.5 4.3,21.0 4.4,20.2 4.5,19.8 4.7,19.0 4.9,18.5 5.1,18.0 5.4,17.5 5.8,17.2 6.2,16.8 6.6,16.5 7.0,16.2 7.5,16.0 8.2,15.8 8.8,15.6 9.4,15.5 10.0,15.4 10.7,15.2 11.2,15.2 12.0,15.1 12.8,15.0 13.3,15.0 14.0,15.0 14.8,15.0 15.5,15.0 16.0,15.0 16.8,15.0 17.2,15.0 18.0,14.9 18.8,14.9 19.5,14.8 20.0,14.7 20.8,14.7 21.5,14.7 22.0,14.8 22.8,14.8 23.5,14.8 24.2,14.8 25.0,14.8 25.8,14.8 26.5,14.9 27.2,14.9 28.0,15.0 28.8,15.0 29.5,14.9 30.2,14.9 31.0,14.8 31.6,14.8 32.2,14.7 33.0,14.7 33.8,14.7 34.5,14.7 35.2,14.7 36.0,14.7 36.8,14.7 37.5,14.7 38.0,14.8 38.8,14.8 39.5,14.9 40.0,15.0 40.8,15.2 41.2,15.3 42.0,15.5 42.5,15.6 43.2,15.7 43.8,15.8 44.5,15.8 45.2,15.8 46.0,15.9 46.8,15.9 47.3,16.0 48.0,16.1 48.8,16.2 49.2,16.3 49.8,16.5 50.3,16.8 50.8,17.0 51.2,17.3 51.8,17.6 52.2,17.9 52.7,18.2 53.0,18.5 53.4,19.0 53.6,19.5 53.6,20.2 53.5,20.8 53.2,21.3 53.0,21.8 52.6,22.2 52.2,22.5 51.8,22.8 51.2,23.1 50.8,23.3 50.0,23.5 49.5,23.7 49.0,23.9 48.5,24.0 47.9,24.2 47.2,24.4 46.8,24.5 46.0,24.6 45.2,24.7 44.5,24.8 44.0,24.8 43.2,24.9 42.8,25.0 42.0,25.1 41.4,25.2 40.8,25.4 40.0,25.5 39.5,25.6 38.8,25.8 38.2,25.9 37.8,26.1 37.2,26.3 36.7,26.5 36.2,26.8 35.8,27.2 35.4,27.5 35.1,28.0 35.0,28.5 35.0,29.0 35.2,29.8 35.2,30.5 35.2,31.2 35.0,32.0 34.8,32.5 34.6,33.0 34.4,33.5 34.2,34.0 34.0,34.8 34.0,35.2 34.0,35.8 34.1,36.5 34.1,37.2 34.2,38.0 34.3,38.5 34.3,39.2 34.2,39.9 34.2,40.5 34.0,41.2 34.0,41.8 33.9,42.5 33.9,43.2 33.8,44.0 33.8,44.7 33.7,45.2 33.6,46.0 33.5,46.7 33.5,47.2 33.5,48.0 33.5,48.8 33.5,49.2 33.6,50.0 33.7,50.8 33.8,51.2 33.8,52.0 33.7,52.5 33.5,53.2 33.3,53.8 33.1,54.2 32.8,54.7 32.4,55.0 32.0,55.3 31.2,55.5 30.8,55.5 30.0,55.6 29.2,55.7 28.8,55.9 28.2,56.1 27.7,56.2 27.0,56.5 26.5,56.8 26.1,57.0 25.8,57.3 25.2,57.6 24.8,58.0 24.2,58.2 23.8,58.3Z" fill="none" stroke="#3a3a3a" stroke-width="0.9" stroke-linejoin="round"/><path d="M23.8,56.8 23.0,57.0 22.2,57.0 21.5,56.9 20.8,56.9 20.0,56.8 19.5,56.7 18.8,56.5 18.2,56.3 17.8,56.0 17.4,55.8 17.0,55.4 16.5,55.0 16.2,54.7 15.8,54.2 15.5,54.0 15.0,53.6 14.6,53.2 14.2,53.0 13.8,52.6 13.3,52.2 13.0,51.8 12.8,51.4 12.5,50.9 12.3,50.2 12.1,49.8 12.0,49.0 12.1,48.2 12.3,47.8 12.5,47.2 12.6,46.5 12.6,45.8 12.5,45.0 12.4,44.5 12.2,44.0 12.0,43.4 11.8,42.9 11.5,42.4 11.2,42.0 10.8,41.5 10.5,41.0 10.3,40.5 10.1,40.0 9.9,39.5 9.8,39.0 9.6,38.2 9.6,37.5 9.8,37.0 10.2,36.6 10.7,36.2 11.1,36.0 11.5,35.7 12.0,35.3 12.3,35.0 12.7,34.5 12.8,34.0 12.6,33.5 12.4,33.0 12.1,32.5 12.1,31.8 12.2,31.2 12.7,30.8 13.0,30.5 13.5,30.2 14.0,30.0 14.7,29.8 15.2,29.7 15.8,29.5 15.4,29.2 14.8,29.0 14.2,28.8 13.8,28.6 13.2,28.4 12.8,28.2 12.0,28.0 11.5,27.9 10.8,27.8 10.2,27.8 9.5,27.6 9.0,27.4 8.5,27.1 8.1,26.8 7.8,26.5 7.2,26.0 6.9,25.8 6.5,25.5 6.0,25.1 5.5,24.8 5.2,24.5 4.8,24.0 4.6,23.5 4.5,23.0 4.5,22.2 4.5,21.8 4.7,21.0 4.8,20.5 4.9,19.8 5.0,19.2 5.2,18.6 5.5,18.1 5.8,17.8 6.2,17.3 6.6,17.0 7.0,16.8 7.5,16.5 8.1,16.2 8.8,16.1 9.2,16.0 10.0,15.8 10.5,15.7 11.2,15.6 11.8,15.5 12.5,15.4 13.2,15.4 14.0,15.4 14.8,15.4 15.5,15.4 16.2,15.4 17.0,15.4 17.8,15.4 18.5,15.3 19.2,15.3 19.8,15.2 20.5,15.2 21.2,15.2 22.0,15.2 22.5,15.3 23.2,15.3 24.0,15.3 24.8,15.3 25.2,15.2 26.0,15.2 26.5,15.3 27.2,15.3 28.0,15.4 28.8,15.4 29.5,15.3 30.2,15.3 30.8,15.2 31.5,15.2 32.2,15.1 33.0,15.1 33.8,15.0 34.5,15.0 35.2,15.0 36.0,15.1 36.8,15.1 37.5,15.1 38.2,15.2 39.0,15.2 39.5,15.3 40.2,15.5 40.8,15.6 41.2,15.8 42.0,16.0 42.5,16.1 43.2,16.2 43.8,16.3 44.5,16.4 45.2,16.4 46.0,16.4 46.7,16.5 47.2,16.6 48.0,16.7 48.5,16.8 49.1,17.0 49.7,17.2 50.1,17.5 50.5,17.8 51.0,18.1 51.4,18.5 51.8,18.8 52.1,19.2 52.3,19.8 52.4,20.5 52.2,21.0 51.9,21.5 51.5,21.9 51.0,22.2 50.5,22.5 50.0,22.7 49.5,22.9 49.0,23.1 48.5,23.3 48.0,23.5 47.3,23.8 46.8,23.9 46.2,24.0 45.5,24.1 44.8,24.2 44.2,24.2 43.5,24.4 42.8,24.5 42.2,24.6 41.5,24.7 41.0,24.8 40.2,24.9 39.8,25.0 39.0,25.2 38.5,25.3 37.9,25.5 37.2,25.7 36.8,26.0 36.2,26.2 35.8,26.5 35.3,26.8 34.8,27.0 34.4,27.2 34.0,27.5 33.3,27.8 32.8,27.9 32.0,28.0 31.5,28.0 30.8,28.1 30.0,28.2 29.5,28.3 28.8,28.4 28.2,28.5 27.5,28.6 26.8,28.7 26.0,28.8 25.5,28.9 24.8,29.0 24.2,29.1 23.7,29.2 23.5,29.5 24.2,29.8 24.8,29.9 25.2,30.1 25.8,30.3 26.2,30.6 26.7,31.0 26.9,31.5 27.1,32.0 27.2,32.7 27.3,33.2 27.4,34.0 27.5,34.7 27.6,35.2 27.8,35.8 28.0,36.2 28.2,36.8 28.5,37.4 28.7,38.0 29.0,38.5 29.2,38.8 29.7,39.2 30.0,39.5 30.5,39.9 30.9,40.2 31.2,40.8 31.5,41.2 31.6,41.8 31.8,42.2 31.9,43.0 31.9,43.8 31.9,44.5 31.8,45.2 31.9,46.0 32.0,46.5 32.1,47.2 32.2,48.0 32.1,48.8 31.9,49.2 31.7,49.8 31.5,50.2 31.2,50.8 31.0,51.3 30.5,51.7 29.8,51.5 29.3,51.2 28.9,51.0 28.5,50.7 28.0,50.4 27.5,50.0 27.1,49.8 26.8,49.4 26.3,49.0 26.2,48.5 26.3,48.0 26.4,47.2 26.4,46.5 26.2,45.8 26.0,45.2 25.8,44.8 25.7,44.2 25.8,43.8 26.0,43.0 26.1,42.5 26.1,41.8 26.0,41.2 25.7,40.8 25.4,40.2 25.1,39.8 24.8,39.3 24.5,38.9 24.2,38.5 24.0,38.0 23.8,37.2 23.5,36.9 23.0,36.5 22.6,36.2 22.2,36.0 21.8,35.6 21.4,35.2 21.0,34.8 20.8,34.5 20.3,34.0 20.0,33.6 19.5,33.3 19.0,33.2 18.5,33.3 17.8,33.5 17.2,33.7 16.8,34.0 16.4,34.2 16.1,34.8 15.9,35.2 16.0,36.0 16.0,36.5 16.2,37.2 16.3,37.8 16.5,38.5 16.7,39.0 17.0,39.3 17.8,39.3 18.2,39.1 18.8,38.8 19.2,38.6 19.8,38.5 20.5,38.4 21.0,38.6 21.4,39.0 21.5,39.5 21.6,40.2 21.8,41.0 22.0,41.5 22.2,41.9 22.6,42.2 23.0,42.6 23.5,43.0 23.8,43.2 24.2,43.7 24.5,44.0 24.5,44.7 24.3,45.2 24.0,45.7 23.8,46.1 23.5,46.5 23.1,47.0 22.8,47.4 22.3,47.8 21.9,48.0 21.5,48.2 20.8,48.5 20.2,48.6 19.5,48.7 19.0,48.9 18.7,49.2 18.7,50.0 19.0,50.3 19.5,50.6 20.0,50.8 20.5,51.0 21.1,51.2 21.7,51.5 22.2,51.7 22.8,51.9 23.2,52.1 23.8,52.3 24.2,52.7 24.7,53.0 25.0,53.4 25.2,53.8 25.4,54.5 25.3,55.2 25.0,55.7 24.8,56.0 24.3,56.5 23.9,56.8Z" fill="none" stroke="#444" stroke-width="0.85" stroke-linejoin="round"/><path d="M26.0,28.0 25.2,28.1 24.5,28.1 23.8,28.2 23.0,28.2 22.2,28.1 21.5,28.1 20.8,28.1 20.0,28.1 19.2,28.2 18.5,28.2 17.8,28.2 17.0,28.1 16.2,28.0 15.8,27.9 15.0,27.8 14.5,27.7 13.8,27.6 13.2,27.5 12.5,27.3 12.0,27.2 11.2,27.1 10.8,27.0 10.0,26.8 9.5,26.7 9.0,26.5 8.5,26.2 8.0,25.9 7.5,25.6 7.1,25.2 6.7,25.0 6.2,24.7 5.8,24.3 5.5,24.0 5.1,23.5 4.9,23.0 4.9,22.2 5.0,21.7 5.1,21.0 5.3,20.5 5.4,19.8 5.5,19.2 5.8,18.7 6.0,18.2 6.4,17.8 6.8,17.5 7.2,17.2 7.8,16.9 8.2,16.7 9.0,16.5 9.5,16.4 10.1,16.2 10.8,16.1 11.4,16.0 12.0,15.9 12.8,15.9 13.5,15.9 14.2,15.9 15.0,15.9 15.8,15.9 16.5,15.9 17.2,15.9 18.0,15.8 18.8,15.8 19.4,15.8 20.0,15.7 20.8,15.7 21.5,15.7 22.2,15.7 22.9,15.8 23.5,15.8 24.0,15.7 24.8,15.7 25.5,15.7 26.2,15.7 27.0,15.7 27.5,15.8 28.2,15.8 29.0,15.8 29.7,15.8 30.2,15.7 31.0,15.7 31.8,15.6 32.5,15.6 33.2,15.5 33.8,15.5 34.5,15.5 35.2,15.5 35.8,15.5 36.5,15.6 37.2,15.6 38.0,15.7 38.6,15.8 39.2,15.9 39.9,16.0 40.5,16.2 41.0,16.3 41.5,16.5 42.2,16.8 42.8,16.9 43.2,17.0 44.0,17.1 44.8,17.2 45.5,17.2 46.0,17.3 46.8,17.4 47.2,17.6 47.8,18.0 47.9,18.5 47.8,19.2 47.6,19.8 47.5,20.2 47.3,21.0 47.1,21.5 47.0,22.0 46.6,22.5 46.2,22.8 45.5,23.0 45.0,23.1 44.4,23.2 43.8,23.4 43.2,23.5 42.5,23.7 42.0,23.8 41.2,23.9 40.8,24.0 40.0,24.2 39.5,24.3 38.8,24.5 38.2,24.7 37.8,24.9 37.2,25.1 36.8,25.3 36.2,25.6 35.8,25.8 35.2,26.1 34.8,26.4 34.2,26.6 33.8,26.8 33.2,27.0 32.5,27.2 32.0,27.3 31.2,27.4 30.5,27.5 30.0,27.6 29.2,27.7 28.8,27.8 28.0,27.8 27.2,27.9 26.5,28.0 26.0,28.0Z" fill="none" stroke="#444" stroke-width="0.8" stroke-linejoin="round"/><path d="M24.5,34.8 23.8,34.8 23.2,34.7 22.8,34.5 22.3,34.0 22.0,33.5 21.9,33.0 22.0,32.4 22.3,32.0 22.8,31.7 23.3,31.5 24.0,31.5 24.5,31.6 25.0,31.8 25.4,32.2 25.6,32.8 25.7,33.5 25.5,34.1 25.1,34.5 24.6,34.8Z" fill="none" stroke="#444" stroke-width="0.8" stroke-linejoin="round"/><path d="M14.0,40.8 13.4,40.8 13.0,40.5 12.6,40.0 12.4,39.5 12.2,39.0 12.3,38.5 12.5,37.8 12.8,37.4 13.1,37.0 13.6,36.8 14.0,36.8 14.5,37.2 14.7,37.8 14.8,38.2 14.8,39.0 14.7,39.5 14.5,40.1 14.2,40.5Z" fill="none" stroke="#444" stroke-width="0.8" stroke-linejoin="round"/><path d="M29.8,48.8 29.2,48.7 28.8,48.4 28.5,48.0 28.3,47.2 28.1,46.8 28.0,46.2 27.8,45.5 27.7,45.0 27.7,44.2 27.8,43.8 28.0,43.2 28.4,42.8 29.0,42.5 29.5,42.8 30.0,43.2 30.2,43.8 30.3,44.2 30.3,45.0 30.3,45.8 30.3,46.5 30.5,47.2 30.5,47.8 30.4,48.2 30.0,48.6Z" fill="none" stroke="#444" stroke-width="0.8" stroke-linejoin="round"/><path d="M20.8,46.3 20.0,46.4 19.5,46.2 19.1,45.8 18.9,45.2 19.0,44.7 19.3,44.2 19.8,43.9 20.5,43.8 21.0,44.0 21.5,44.5 21.6,45.0 21.5,45.5 21.1,46.0 20.8,46.3Z" fill="none" stroke="#444" stroke-width="0.8" stroke-linejoin="round"/><path d="M16.0,51.4 15.2,51.3 14.9,51.0 14.8,50.2 15.0,49.5 15.2,49.1 15.8,48.8 16.2,49.2 16.4,49.8 16.4,50.5 16.2,51.1Z" fill="none" stroke="#444" stroke-width="0.8" stroke-linejoin="round"/><path d="M21.5,55.5 20.8,55.6 20.0,55.6 19.2,55.5 18.8,55.3 18.2,55.0 18.0,54.8 17.6,54.2 17.4,53.8 17.3,53.0 17.8,52.5 18.2,52.3 18.8,52.2 19.5,52.2 20.1,52.2 20.8,52.4 21.2,52.6 21.8,52.8 22.2,53.1 22.6,53.5 22.9,54.0 22.8,54.8 22.5,55.1 22.0,55.3 21.5,55.5Z" fill="none" stroke="#444" stroke-width="0.8" stroke-linejoin="round"/><path d="M25.8,27.5 25.0,27.6 24.2,27.6 23.5,27.6 22.8,27.6 22.0,27.5 21.5,27.5 20.8,27.4 20.0,27.4 19.2,27.5 18.7,27.5 18.2,27.5 17.5,27.5 16.8,27.4 16.0,27.4 15.2,27.3 14.8,27.2 14.0,27.1 13.5,27.0 12.8,26.8 12.2,26.7 11.5,26.6 11.0,26.5 10.2,26.3 9.8,26.2 9.2,26.0 8.7,25.8 8.2,25.5 7.8,25.2 7.2,24.8 6.8,24.5 6.5,24.2 6.0,23.8 5.7,23.5 5.5,23.0 5.4,22.2 5.5,21.7 5.7,21.0 5.8,20.5 6.0,19.8 6.1,19.2 6.4,18.8 6.7,18.2 7.0,18.0 7.5,17.7 8.0,17.5 8.6,17.2 9.2,17.1 9.8,16.9 10.5,16.8 11.0,16.6 11.6,16.5 12.2,16.4 13.0,16.4 13.8,16.4 14.5,16.5 15.0,16.5 15.8,16.5 16.2,16.5 17.0,16.5 17.8,16.5 18.5,16.4 19.2,16.4 20.0,16.3 20.8,16.3 21.5,16.3 22.2,16.3 23.0,16.4 23.8,16.4 24.5,16.3 25.2,16.3 26.0,16.3 26.8,16.3 27.5,16.4 28.2,16.4 29.0,16.4 29.8,16.3 30.5,16.3 31.2,16.3 31.8,16.2 32.5,16.1 33.2,16.0 33.8,16.0 34.5,16.0 35.1,16.0 35.8,16.1 36.5,16.2 37.0,16.3 37.8,16.4 38.5,16.5 39.0,16.6 39.5,16.8 40.0,17.1 40.3,17.5 40.2,18.2 40.0,18.6 39.6,19.0 39.2,19.3 38.8,19.5 38.2,19.8 37.8,20.1 37.4,20.5 37.1,21.0 36.9,21.5 36.9,22.2 36.9,23.0 36.8,23.8 36.5,24.2 36.2,24.5 35.8,24.9 35.3,25.2 35.0,25.5 34.5,25.8 34.0,26.0 33.5,26.2 32.8,26.5 32.2,26.6 31.6,26.8 31.0,26.9 30.3,27.0 29.8,27.1 29.0,27.2 28.5,27.3 27.8,27.4 27.0,27.4 26.2,27.5 25.8,27.5Z" fill="none" stroke="#4a4a4a" stroke-width="0.8" stroke-linejoin="round"/><path d="M4.50,23.00 C4.92,22.25 6.08,19.63 7.00,18.50 C7.92,17.37 7.83,16.62 10.00,16.20 C12.17,15.78 16.33,15.90 20.00,16.00 C23.67,16.10 28.00,16.63 32.00,16.80 C36.00,16.97 42.00,16.97 44.00,17.00" fill="none" stroke="#111" stroke-width="1.7" stroke-linejoin="round" stroke-linecap="round"/><path d="M44.00,17.00 C44.83,17.10 47.67,17.18 49.00,17.60 C50.33,18.02 51.67,18.72 52.00,19.50 C52.33,20.28 52.00,21.68 51.00,22.30 C50.00,22.92 48.17,22.83 46.00,23.20 C43.83,23.57 39.33,24.28 38.00,24.50" fill="none" stroke="#222" stroke-width="1.3" stroke-linejoin="round" stroke-linecap="round"/><path d="M4.50,23.00 C4.92,23.47 5.75,25.20 7.00,25.80 C8.25,26.40 10.17,26.57 12.00,26.60 C13.83,26.63 15.67,25.77 18.00,26.00 C20.33,26.23 23.67,28.00 26.00,28.00 C28.33,28.00 30.00,26.58 32.00,26.00 C34.00,25.42 37.00,24.75 38.00,24.50" fill="none" stroke="#333" stroke-width="1.0" stroke-linejoin="round" stroke-linecap="round"/><path d="M10.30,20.80 C10.72,20.28 12.05,19.40 13.00,19.30 C13.95,19.20 15.47,19.65 16.00,20.20 C16.53,20.75 16.70,22.07 16.20,22.60 C15.70,23.13 13.95,23.43 13.00,23.40 C12.05,23.37 10.95,22.83 10.50,22.40 C10.05,21.97 9.88,21.32 10.30,20.80Z" fill="none" stroke="#444" stroke-width="0.6" stroke-linejoin="round" stroke-linecap="round"/><path d="M18.00,20.80 C18.92,20.28 22.00,19.67 24.00,19.50 C26.00,19.33 28.33,19.62 30.00,19.80 C31.67,19.98 34.00,20.13 34.00,20.60 C34.00,21.07 31.67,22.20 30.00,22.60 C28.33,23.00 25.92,23.00 24.00,23.00 C22.08,23.00 19.50,22.97 18.50,22.60 C17.50,22.23 17.08,21.32 18.00,20.80Z" fill="none" stroke="#444" stroke-width="0.6" stroke-linejoin="round" stroke-linecap="round"/><path d="M36.00,19.60 C37.17,19.10 41.75,18.97 44.00,19.00 C46.25,19.03 48.58,19.42 49.50,19.80 C50.42,20.18 50.42,20.97 49.50,21.30 C48.58,21.63 46.08,21.68 44.00,21.80 C41.92,21.92 38.33,22.37 37.00,22.00 C35.67,21.63 34.83,20.10 36.00,19.60Z" fill="none" stroke="#444" stroke-width="0.6" stroke-linejoin="round" stroke-linecap="round"/><ellipse cx="21" cy="53.8" rx="3" ry="1.5" fill="none" stroke="#555" stroke-width="0.6"/><circle cx="21" cy="56.3" r="1.1" fill="#444"/><ellipse cx="27.5" cy="36.8" rx="1.2" ry="1.1" fill="none" stroke="#666" stroke-width="0.5"/><ellipse cx="26.7" cy="44" rx="1.2" ry="1.1" fill="none" stroke="#666" stroke-width="0.5"/><path d="M44,50 C45.5,52 51.6,53.5 51.6,57.2 C51.6,60 49,60.8 47.3,60.4 C45,60 44.3,57.5 44.6,55 C44.8,53 44.3,51.5 44,50Z" fill="none" stroke="#222" stroke-width="1.0"/><path d="M42.8,48.5 C45,51 53,52 53,57.3 C53,61 49.5,62.2 47.2,61.8 C44,61.3 43,58 43.3,55 C43.5,52.5 43,50.5 42.8,48.5Z" fill="none" stroke="#777" stroke-width="0.7"/></g><g transform="translate(326.60,38.50)" clip-path="url(#c2)"><path d="M45.7 49.6h0.75v0.75h-0.75zM41.3 56.8h0.75v0.75h-0.75zM38.7 50.3h0.75v0.75h-0.75zM62.7 50.2h0.75v0.75h-0.75zM38.7 44.3h0.75v0.75h-0.75zM41.9 47.5h0.75v0.75h-0.75zM44.2 45.5h0.75v0.75h-0.75zM40.3 55.0h0.75v0.75h-0.75zM46.7 42.7h0.75v0.75h-0.75zM46.9 56.6h0.75v0.75h-0.75zM39.6 49.6h0.75v0.75h-0.75zM40.4 50.4h0.75v0.75h-0.75zM55.0 40.6h0.75v0.75h-0.75zM43.2 62.7h0.75v0.75h-0.75zM49.4 53.3h0.75v0.75h-0.75zM40.3 60.1h0.75v0.75h-0.75zM45.7 40.1h0.75v0.75h-0.75zM46.5 49.9h0.75v0.75h-0.75zM47.4 45.7h0.75v0.75h-0.75zM36.2 48.8h0.75v0.75h-0.75zM44.8 50.8h0.75v0.75h-0.75zM41.9 52.8h0.75v0.75h-0.75zM44.6 50.0h0.75v0.75h-0.75zM43.2 54.2h0.75v0.75h-0.75zM40.7 57.1h0.75v0.75h-0.75zM52.4 52.0h0.75v0.75h-0.75zM45.7 44.4h0.75v0.75h-0.75zM42.1 31.6h0.75v0.75h-0.75zM44.6 46.5h0.75v0.75h-0.75zM46.0 46.8h0.75v0.75h-0.75zM51.1 60.8h0.75v0.75h-0.75zM37.4 54.5h0.75v0.75h-0.75zM45.8 42.5h0.75v0.75h-0.75zM43.5 51.3h0.75v0.75h-0.75zM44.8 55.6h0.75v0.75h-0.75zM49.2 49.1h0.75v0.75h-0.75zM39.0 51.1h0.75v0.75h-0.75zM39.9 51.9h0.75v0.75h-0.75zM45.4 43.8h0.75v0.75h-0.75zM48.4 42.4h0.75v0.75h-0.75zM50.7 48.5h0.75v0.75h-0.75zM52.7 58.6h0.75v0.75h-0.75zM48.1 54.2h0.75v0.75h-0.75zM53.7 62.1h0.75v0.75h-0.75zM39.7 56.8h0.75v0.75h-0.75zM40.1 48.8h0.75v0.75h-0.75zM45.3 58.1h0.75v0.75h-0.75zM41.3 47.2h0.75v0.75h-0.75zM48.9 51.3h0.75v0.75h-0.75zM46.3 50.2h0.75v0.75h-0.75zM46.6 58.1h0.75v0.75h-0.75zM46.4 48.7h0.75v0.75h-0.75zM50.9 59.1h0.75v0.75h-0.75zM51.3 46.0h0.75v0.75h-0.75zM60.5 46.9h0.75v0.75h-0.75zM53.3 55.8h0.75v0.75h-0.75zM44.5 35.2h0.75v0.75h-0.75zM44.5 50.6h0.75v0.75h-0.75zM60.3 49.6h0.75v0.75h-0.75zM38.0 44.3h0.75v0.75h-0.75zM41.6 40.2h0.75v0.75h-0.75zM37.9 46.4h0.75v0.75h-0.75zM51.9 35.7h0.75v0.75h-0.75zM50.8 51.4h0.75v0.75h-0.75zM53.0 39.7h0.75v0.75h-0.75zM54.1 50.3h0.75v0.75h-0.75zM45.5 46.0h0.75v0.75h-0.75zM54.7 57.5h0.75v0.75h-0.75zM50.2 42.4h0.75v0.75h-0.75zM40.3 55.7h0.75v0.75h-0.75zM39.1 53.3h0.75v0.75h-0.75zM49.0 50.7h0.75v0.75h-0.75zM35.0 54.5h0.75v0.75h-0.75zM54.6 55.3h0.75v0.75h-0.75zM42.2 45.1h0.75v0.75h-0.75zM48.4 61.8h0.75v0.75h-0.75zM50.2 54.9h0.75v0.75h-0.75zM50.7 53.3h0.75v0.75h-0.75zM53.5 59.2h0.75v0.75h-0.75zM44.2 42.5h0.75v0.75h-0.75zM40.9 49.1h0.75v0.75h-0.75zM42.0 43.3h0.75v0.75h-0.75zM52.7 46.0h0.75v0.75h-0.75zM48.1 54.0h0.75v0.75h-0.75zM50.6 56.2h0.75v0.75h-0.75zM52.4 48.5h0.75v0.75h-0.75zM49.9 51.0h0.75v0.75h-0.75zM46.6 55.1h0.75v0.75h-0.75zM50.1 54.7h0.75v0.75h-0.75zM40.1 50.3h0.75v0.75h-0.75zM40.1 46.4h0.75v0.75h-0.75zM32.3 60.5h0.75v0.75h-0.75zM39.2 41.1h0.75v0.75h-0.75zM53.6 61.0h0.75v0.75h-0.75zM45.6 45.8h0.75v0.75h-0.75zM39.8 50.1h0.75v0.75h-0.75zM49.0 50.1h0.75v0.75h-0.75zM46.9 48.6h0.75v0.75h-0.75zM36.3 50.4h0.75v0.75h-0.75zM43.3 44.3h0.75v0.75h-0.75zM45.9 62.2h0.75v0.75h-0.75zM44.8 44.4h0.75v0.75h-0.75zM48.5 55.2h0.75v0.75h-0.75zM50.9 47.9h0.75v0.75h-0.75zM46.4 61.1h0.75v0.75h-0.75zM36.8 51.8h0.75v0.75h-0.75zM44.6 46.5h0.75v0.75h-0.75zM49.6 53.4h0.75v0.75h-0.75zM49.4 47.7h0.75v0.75h-0.75zM42.6 50.0h0.75v0.75h-0.75zM47.8 44.8h0.75v0.75h-0.75zM48.0 54.4h0.75v0.75h-0.75zM37.6 56.0h0.75v0.75h-0.75zM41.1 61.4h0.75v0.75h-0.75zM45.2 43.8h0.75v0.75h-0.75zM42.1 53.7h0.75v0.75h-0.75zM43.0 40.3h0.75v0.75h-0.75zM36.9 49.1h0.75v0.75h-0.75zM52.6 46.5h0.75v0.75h-0.75zM49.0 48.6h0.75v0.75h-0.75zM35.8 55.4h0.75v0.75h-0.75zM55.7 47.7h0.75v0.75h-0.75zM47.3 56.9h0.75v0.75h-0.75zM49.9 46.1h0.75v0.75h-0.75zM33.5 56.5h0.75v0.75h-0.75zM45.2 50.8h0.75v0.75h-0.75zM45.2 51.4h0.75v0.75h-0.75zM54.5 55.4h0.75v0.75h-0.75zM51.1 46.6h0.75v0.75h-0.75zM39.4 52.4h0.75v0.75h-0.75zM42.3 52.9h0.75v0.75h-0.75zM57.2 46.0h0.75v0.75h-0.75zM44.6 47.0h0.75v0.75h-0.75zM59.1 45.8h0.75v0.75h-0.75zM45.1 50.8h0.75v0.75h-0.75zM48.9 44.1h0.75v0.75h-0.75zM38.2 44.8h0.75v0.75h-0.75zM37.7 60.4h0.75v0.75h-0.75zM38.4 48.8h0.75v0.75h-0.75zM52.0 49.1h0.75v0.75h-0.75zM44.4 51.1h0.75v0.75h-0.75zM52.9 50.1h0.75v0.75h-0.75zM45.7 47.1h0.75v0.75h-0.75zM46.3 47.1h0.75v0.75h-0.75zM41.4 42.2h0.75v0.75h-0.75zM43.8 50.1h0.75v0.75h-0.75zM48.8 51.4h0.75v0.75h-0.75zM41.0 51.5h0.75v0.75h-0.75zM49.8 49.2h0.75v0.75h-0.75zM45.5 43.2h0.75v0.75h-0.75zM49.3 45.1h0.75v0.75h-0.75zM37.5 46.5h0.75v0.75h-0.75zM47.3 53.4h0.75v0.75h-0.75zM45.6 51.9h0.75v0.75h-0.75zM41.9 32.7h0.75v0.75h-0.75zM54.7 54.4h0.75v0.75h-0.75zM39.8 53.3h0.75v0.75h-0.75zM46.6 49.3h0.75v0.75h-0.75zM48.7 44.5h0.75v0.75h-0.75zM57.5 51.2h0.75v0.75h-0.75zM48.0 42.5h0.75v0.75h-0.75zM46.5 49.0h0.75v0.75h-0.75zM49.2 54.1h0.75v0.75h-0.75zM45.8 48.3h0.75v0.75h-0.75zM37.8 51.9h0.75v0.75h-0.75zM44.8 51.1h0.75v0.75h-0.75zM38.6 52.2h0.75v0.75h-0.75zM39.4 62.2h0.75v0.75h-0.75zM45.9 45.0h0.75v0.75h-0.75zM41.3 40.8h0.75v0.75h-0.75zM44.0 50.1h0.75v0.75h-0.75zM46.4 57.8h0.75v0.75h-0.75zM53.1 56.5h0.75v0.75h-0.75zM52.5 62.1h0.75v0.75h-0.75zM39.9 58.1h0.75v0.75h-0.75zM43.9 59.7h0.75v0.75h-0.75zM40.5 43.8h0.75v0.75h-0.75zM36.4 48.2h0.75v0.75h-0.75zM44.5 47.5h0.75v0.75h-0.75zM38.8 51.3h0.75v0.75h-0.75zM40.1 59.3h0.75v0.75h-0.75zM48.1 54.3h0.75v0.75h-0.75zM42.6 62.7h0.75v0.75h-0.75zM48.2 56.3h0.75v0.75h-0.75zM54.3 33.0h0.75v0.75h-0.75zM45.3 45.5h0.75v0.75h-0.75zM44.5 44.6h0.75v0.75h-0.75zM44.8 54.1h0.75v0.75h-0.75zM46.6 48.1h0.75v0.75h-0.75zM37.0 52.1h0.75v0.75h-0.75zM48.3 52.0h0.75v0.75h-0.75zM40.3 49.7h0.75v0.75h-0.75zM47.3 49.1h0.75v0.75h-0.75zM57.8 47.9h0.75v0.75h-0.75zM38.1 51.0h0.75v0.75h-0.75zM47.4 40.8h0.75v0.75h-0.75zM43.1 47.9h0.75v0.75h-0.75zM49.6 56.9h0.75v0.75h-0.75zM42.7 46.7h0.75v0.75h-0.75zM53.4 52.8h0.75v0.75h-0.75zM52.4 53.4h0.75v0.75h-0.75zM49.3 55.3h0.75v0.75h-0.75zM38.3 44.3h0.75v0.75h-0.75zM43.0 39.6h0.75v0.75h-0.75zM43.5 42.5h0.75v0.75h-0.75zM46.7 51.8h0.75v0.75h-0.75zM47.3 41.8h0.75v0.75h-0.75zM45.4 49.3h0.75v0.75h-0.75zM46.6 50.2h0.75v0.75h-0.75zM47.0 50.4h0.75v0.75h-0.75zM47.5 46.5h0.75v0.75h-0.75zM47.5 34.2h0.75v0.75h-0.75zM37.0 47.0h0.75v0.75h-0.75zM62.5 46.3h0.75v0.75h-0.75zM42.8 58.6h0.75v0.75h-0.75zM45.9 45.4h0.75v0.75h-0.75zM46.8 50.2h0.75v0.75h-0.75zM36.5 53.3h0.75v0.75h-0.75zM38.0 50.6h0.75v0.75h-0.75zM49.7 45.5h0.75v0.75h-0.75zM52.7 32.7h0.75v0.75h-0.75zM45.5 60.8h0.75v0.75h-0.75zM46.5 46.8h0.75v0.75h-0.75zM44.9 48.5h0.75v0.75h-0.75zM46.2 53.4h0.75v0.75h-0.75zM42.7 38.9h0.75v0.75h-0.75zM34.2 55.9h0.75v0.75h-0.75zM45.6 54.7h0.75v0.75h-0.75zM44.4 33.2h0.75v0.75h-0.75zM46.4 45.5h0.75v0.75h-0.75zM46.1 38.9h0.75v0.75h-0.75zM53.2 48.1h0.75v0.75h-0.75zM40.0 40.0h0.75v0.75h-0.75zM40.9 38.3h0.75v0.75h-0.75zM43.1 41.3h0.75v0.75h-0.75zM43.6 58.3h0.75v0.75h-0.75zM47.3 49.0h0.75v0.75h-0.75zM50.6 46.6h0.75v0.75h-0.75zM40.8 46.4h0.75v0.75h-0.75zM46.0 52.6h0.75v0.75h-0.75zM47.5 56.1h0.75v0.75h-0.75zM53.8 46.2h0.75v0.75h-0.75zM44.6 56.5h0.75v0.75h-0.75zM46.0 52.0h0.75v0.75h-0.75zM52.7 52.4h0.75v0.75h-0.75zM54.7 55.6h0.75v0.75h-0.75zM37.5 46.7h0.75v0.75h-0.75zM49.0 56.3h0.75v0.75h-0.75zM49.0 49.2h0.75v0.75h-0.75zM46.0 49.5h0.75v0.75h-0.75zM47.5 31.3h0.75v0.75h-0.75zM48.3 48.3h0.75v0.75h-0.75zM44.2 45.9h0.75v0.75h-0.75zM35.2 50.5h0.75v0.75h-0.75zM50.4 56.6h0.75v0.75h-0.75zM46.4 41.1h0.75v0.75h-0.75zM54.2 46.2h0.75v0.75h-0.75zM46.7 51.6h0.75v0.75h-0.75zM46.5 52.9h0.75v0.75h-0.75zM46.0 49.5h0.75v0.75h-0.75z" fill="#999"/><path d="M41.0 51.5h0.75v0.75h-0.75zM40.7 33.7h0.75v0.75h-0.75zM40.8 35.7h0.75v0.75h-0.75zM41.1 46.2h0.75v0.75h-0.75zM41.5 49.5h0.75v0.75h-0.75zM45.7 47.0h0.75v0.75h-0.75zM43.1 41.3h0.75v0.75h-0.75zM38.9 37.3h0.75v0.75h-0.75zM43.5 55.0h0.75v0.75h-0.75zM46.5 49.7h0.75v0.75h-0.75zM42.5 37.5h0.75v0.75h-0.75zM37.3 50.7h0.75v0.75h-0.75zM44.0 45.9h0.75v0.75h-0.75zM41.5 39.8h0.75v0.75h-0.75zM45.5 48.4h0.75v0.75h-0.75zM40.7 38.2h0.75v0.75h-0.75zM40.9 32.7h0.75v0.75h-0.75zM39.5 32.6h0.75v0.75h-0.75zM42.1 52.3h0.75v0.75h-0.75zM36.9 53.5h0.75v0.75h-0.75zM47.4 46.4h0.75v0.75h-0.75zM46.3 44.0h0.75v0.75h-0.75zM48.4 48.5h0.75v0.75h-0.75zM44.4 57.5h0.75v0.75h-0.75zM42.7 40.3h0.75v0.75h-0.75zM44.4 47.7h0.75v0.75h-0.75zM39.2 53.8h0.75v0.75h-0.75zM40.2 32.1h0.75v0.75h-0.75zM39.7 41.4h0.75v0.75h-0.75zM36.1 52.6h0.75v0.75h-0.75zM43.2 38.5h0.75v0.75h-0.75zM35.6 53.5h0.75v0.75h-0.75zM44.3 51.4h0.75v0.75h-0.75zM44.3 39.6h0.75v0.75h-0.75zM42.9 54.1h0.75v0.75h-0.75zM42.1 48.4h0.75v0.75h-0.75zM45.1 41.1h0.75v0.75h-0.75zM41.3 37.1h0.75v0.75h-0.75zM41.5 36.7h0.75v0.75h-0.75zM40.4 34.2h0.75v0.75h-0.75zM43.2 56.2h0.75v0.75h-0.75zM43.7 46.5h0.75v0.75h-0.75zM42.5 35.8h0.75v0.75h-0.75zM44.3 41.5h0.75v0.75h-0.75zM46.4 28.9h0.75v0.75h-0.75zM51.1 48.5h0.75v0.75h-0.75zM42.6 40.6h0.75v0.75h-0.75zM45.1 37.9h0.75v0.75h-0.75zM43.0 34.7h0.75v0.75h-0.75zM40.0 49.0h0.75v0.75h-0.75zM45.9 40.7h0.75v0.75h-0.75zM40.3 50.3h0.75v0.75h-0.75zM40.7 34.7h0.75v0.75h-0.75zM43.5 34.1h0.75v0.75h-0.75zM46.7 43.2h0.75v0.75h-0.75zM37.9 54.3h0.75v0.75h-0.75zM42.9 44.2h0.75v0.75h-0.75zM46.5 37.6h0.75v0.75h-0.75zM47.0 39.7h0.75v0.75h-0.75zM40.1 45.4h0.75v0.75h-0.75zM35.4 55.2h0.75v0.75h-0.75zM42.7 50.0h0.75v0.75h-0.75zM39.6 31.8h0.75v0.75h-0.75zM38.7 43.9h0.75v0.75h-0.75zM45.1 46.4h0.75v0.75h-0.75zM42.1 46.5h0.75v0.75h-0.75zM41.5 44.0h0.75v0.75h-0.75zM42.5 45.0h0.75v0.75h-0.75zM42.9 37.5h0.75v0.75h-0.75zM40.7 38.9h0.75v0.75h-0.75zM40.9 36.2h0.75v0.75h-0.75zM40.0 32.2h0.75v0.75h-0.75zM42.3 42.7h0.75v0.75h-0.75zM42.5 40.5h0.75v0.75h-0.75zM45.3 40.8h0.75v0.75h-0.75zM45.0 39.7h0.75v0.75h-0.75zM40.2 37.5h0.75v0.75h-0.75zM41.4 33.3h0.75v0.75h-0.75zM42.7 47.1h0.75v0.75h-0.75zM41.8 47.2h0.75v0.75h-0.75zM39.1 36.6h0.75v0.75h-0.75zM42.8 41.1h0.75v0.75h-0.75zM47.6 34.9h0.75v0.75h-0.75zM43.5 42.8h0.75v0.75h-0.75zM43.7 40.8h0.75v0.75h-0.75zM43.1 34.3h0.75v0.75h-0.75zM40.9 44.4h0.75v0.75h-0.75zM41.5 51.1h0.75v0.75h-0.75zM48.0 33.2h0.75v0.75h-0.75zM43.9 36.5h0.75v0.75h-0.75zM42.8 31.8h0.75v0.75h-0.75zM47.6 32.3h0.75v0.75h-0.75zM39.9 45.5h0.75v0.75h-0.75zM39.7 47.1h0.75v0.75h-0.75zM39.7 33.9h0.75v0.75h-0.75zM42.3 42.0h0.75v0.75h-0.75zM38.1 49.3h0.75v0.75h-0.75zM39.9 44.2h0.75v0.75h-0.75zM39.9 37.5h0.75v0.75h-0.75zM41.9 45.2h0.75v0.75h-0.75zM40.3 43.5h0.75v0.75h-0.75zM40.1 43.0h0.75v0.75h-0.75zM44.0 48.3h0.75v0.75h-0.75zM43.8 50.5h0.75v0.75h-0.75zM45.7 40.1h0.75v0.75h-0.75zM42.4 50.6h0.75v0.75h-0.75zM43.1 46.8h0.75v0.75h-0.75zM40.7 31.1h0.75v0.75h-0.75zM44.3 41.5h0.75v0.75h-0.75zM38.7 41.2h0.75v0.75h-0.75zM44.8 50.6h0.75v0.75h-0.75zM44.4 46.4h0.75v0.75h-0.75zM47.2 46.0h0.75v0.75h-0.75zM43.5 42.5h0.75v0.75h-0.75zM46.8 45.5h0.75v0.75h-0.75zM42.1 35.3h0.75v0.75h-0.75zM44.9 37.8h0.75v0.75h-0.75zM41.5 43.3h0.75v0.75h-0.75zM45.5 45.1h0.75v0.75h-0.75zM39.5 38.1h0.75v0.75h-0.75zM37.7 45.6h0.75v0.75h-0.75zM46.0 41.3h0.75v0.75h-0.75zM42.7 34.1h0.75v0.75h-0.75zM44.2 42.2h0.75v0.75h-0.75zM44.0 31.6h0.75v0.75h-0.75zM41.4 54.7h0.75v0.75h-0.75zM43.4 33.0h0.75v0.75h-0.75zM40.3 46.6h0.75v0.75h-0.75zM42.7 46.6h0.75v0.75h-0.75zM41.1 42.4h0.75v0.75h-0.75zM40.7 45.8h0.75v0.75h-0.75zM43.6 47.6h0.75v0.75h-0.75zM40.3 30.3h0.75v0.75h-0.75zM40.3 45.9h0.75v0.75h-0.75zM39.3 58.2h0.75v0.75h-0.75zM39.3 50.3h0.75v0.75h-0.75zM37.0 48.9h0.75v0.75h-0.75zM38.4 47.0h0.75v0.75h-0.75zM41.3 33.7h0.75v0.75h-0.75zM40.5 47.8h0.75v0.75h-0.75zM43.7 46.9h0.75v0.75h-0.75zM40.7 57.2h0.75v0.75h-0.75zM38.4 51.8h0.75v0.75h-0.75zM42.5 38.4h0.75v0.75h-0.75zM41.0 54.6h0.75v0.75h-0.75zM45.9 42.0h0.75v0.75h-0.75zM41.3 36.0h0.75v0.75h-0.75zM40.7 58.9h0.75v0.75h-0.75zM39.2 54.4h0.75v0.75h-0.75zM43.9 34.7h0.75v0.75h-0.75zM44.1 49.9h0.75v0.75h-0.75zM42.4 35.9h0.75v0.75h-0.75zM38.9 36.7h0.75v0.75h-0.75zM40.4 50.7h0.75v0.75h-0.75zM46.6 48.0h0.75v0.75h-0.75zM45.7 47.7h0.75v0.75h-0.75zM39.2 43.4h0.75v0.75h-0.75zM41.3 32.8h0.75v0.75h-0.75zM42.0 45.5h0.75v0.75h-0.75zM39.4 59.7h0.75v0.75h-0.75zM43.1 38.5h0.75v0.75h-0.75zM47.0 45.9h0.75v0.75h-0.75zM43.1 38.7h0.75v0.75h-0.75zM42.9 51.6h0.75v0.75h-0.75zM41.0 51.9h0.75v0.75h-0.75zM40.7 45.0h0.75v0.75h-0.75zM42.4 57.5h0.75v0.75h-0.75zM42.3 40.9h0.75v0.75h-0.75zM43.8 54.3h0.75v0.75h-0.75zM38.8 41.4h0.75v0.75h-0.75zM43.6 54.9h0.75v0.75h-0.75zM44.5 39.7h0.75v0.75h-0.75zM41.3 40.4h0.75v0.75h-0.75zM44.0 37.8h0.75v0.75h-0.75zM46.4 32.0h0.75v0.75h-0.75zM43.6 48.5h0.75v0.75h-0.75zM40.2 47.7h0.75v0.75h-0.75zM42.2 38.5h0.75v0.75h-0.75zM45.3 40.7h0.75v0.75h-0.75zM42.6 28.3h0.75v0.75h-0.75zM45.9 41.4h0.75v0.75h-0.75zM40.1 33.6h0.75v0.75h-0.75zM40.2 45.7h0.75v0.75h-0.75zM42.5 44.6h0.75v0.75h-0.75zM43.7 38.7h0.75v0.75h-0.75zM40.3 47.8h0.75v0.75h-0.75zM43.7 40.2h0.75v0.75h-0.75zM44.9 41.6h0.75v0.75h-0.75zM47.0 48.1h0.75v0.75h-0.75zM42.7 41.9h0.75v0.75h-0.75zM40.4 45.0h0.75v0.75h-0.75zM38.9 37.9h0.75v0.75h-0.75zM39.3 36.8h0.75v0.75h-0.75zM40.1 44.1h0.75v0.75h-0.75zM42.9 35.2h0.75v0.75h-0.75zM40.9 40.1h0.75v0.75h-0.75zM42.5 50.8h0.75v0.75h-0.75zM43.0 39.4h0.75v0.75h-0.75zM38.8 53.9h0.75v0.75h-0.75zM40.8 40.9h0.75v0.75h-0.75zM46.7 32.5h0.75v0.75h-0.75zM40.2 46.8h0.75v0.75h-0.75zM42.6 48.5h0.75v0.75h-0.75zM41.4 44.0h0.75v0.75h-0.75zM40.4 49.0h0.75v0.75h-0.75zM42.6 45.0h0.75v0.75h-0.75zM44.3 50.1h0.75v0.75h-0.75zM39.3 42.2h0.75v0.75h-0.75zM42.8 54.3h0.75v0.75h-0.75zM39.7 50.8h0.75v0.75h-0.75zM45.5 39.0h0.75v0.75h-0.75zM38.4 52.8h0.75v0.75h-0.75zM44.7 47.1h0.75v0.75h-0.75zM46.2 62.1h0.75v0.75h-0.75zM40.1 46.0h0.75v0.75h-0.75zM40.3 34.5h0.75v0.75h-0.75zM45.2 50.8h0.75v0.75h-0.75zM47.6 46.2h0.75v0.75h-0.75zM40.8 31.9h0.75v0.75h-0.75zM45.0 41.8h0.75v0.75h-0.75zM40.8 36.9h0.75v0.75h-0.75zM39.0 30.8h0.75v0.75h-0.75zM44.8 44.7h0.75v0.75h-0.75zM45.4 36.8h0.75v0.75h-0.75zM43.6 39.5h0.75v0.75h-0.75zM43.9 39.2h0.75v0.75h-0.75zM39.0 42.0h0.75v0.75h-0.75zM41.5 30.2h0.75v0.75h-0.75zM38.8 39.8h0.75v0.75h-0.75zM40.2 40.8h0.75v0.75h-0.75zM43.6 39.6h0.75v0.75h-0.75zM41.6 41.2h0.75v0.75h-0.75zM42.2 36.9h0.75v0.75h-0.75zM39.4 59.4h0.75v0.75h-0.75zM41.0 43.5h0.75v0.75h-0.75zM43.6 38.6h0.75v0.75h-0.75zM38.8 45.0h0.75v0.75h-0.75zM44.0 30.3h0.75v0.75h-0.75zM47.0 48.3h0.75v0.75h-0.75zM39.8 48.4h0.75v0.75h-0.75zM39.6 54.3h0.75v0.75h-0.75zM43.9 55.1h0.75v0.75h-0.75zM39.1 36.7h0.75v0.75h-0.75zM44.6 28.3h0.75v0.75h-0.75zM41.4 31.6h0.75v0.75h-0.75zM41.1 31.2h0.75v0.75h-0.75zM40.9 48.7h0.75v0.75h-0.75zM44.9 48.4h0.75v0.75h-0.75zM46.6 36.9h0.75v0.75h-0.75zM46.9 51.9h0.75v0.75h-0.75zM39.3 51.1h0.75v0.75h-0.75zM43.8 52.1h0.75v0.75h-0.75zM43.9 30.5h0.75v0.75h-0.75zM41.0 44.6h0.75v0.75h-0.75zM43.0 39.7h0.75v0.75h-0.75zM38.3 47.1h0.75v0.75h-0.75zM44.4 44.8h0.75v0.75h-0.75zM41.0 38.6h0.75v0.75h-0.75zM42.9 41.2h0.75v0.75h-0.75zM36.7 53.7h0.75v0.75h-0.75zM45.2 37.2h0.75v0.75h-0.75zM42.3 49.9h0.75v0.75h-0.75zM38.3 45.1h0.75v0.75h-0.75zM40.2 44.9h0.75v0.75h-0.75zM47.0 31.0h0.75v0.75h-0.75zM44.4 43.5h0.75v0.75h-0.75zM44.6 51.8h0.75v0.75h-0.75zM41.1 35.1h0.75v0.75h-0.75zM45.8 43.5h0.75v0.75h-0.75zM41.2 43.8h0.75v0.75h-0.75zM40.0 49.9h0.75v0.75h-0.75zM42.0 46.9h0.75v0.75h-0.75zM37.9 46.1h0.75v0.75h-0.75zM42.3 47.6h0.75v0.75h-0.75zM44.4 38.3h0.75v0.75h-0.75zM41.8 47.1h0.75v0.75h-0.75zM44.0 52.0h0.75v0.75h-0.75zM42.5 52.1h0.75v0.75h-0.75zM43.9 45.6h0.75v0.75h-0.75zM40.4 43.4h0.75v0.75h-0.75zM40.8 38.5h0.75v0.75h-0.75zM40.0 47.7h0.75v0.75h-0.75zM40.4 43.1h0.75v0.75h-0.75zM44.6 51.2h0.75v0.75h-0.75zM45.5 43.7h0.75v0.75h-0.75zM43.9 43.7h0.75v0.75h-0.75zM40.2 32.7h0.75v0.75h-0.75zM46.1 56.7h0.75v0.75h-0.75zM43.5 37.7h0.75v0.75h-0.75zM46.6 46.2h0.75v0.75h-0.75zM41.5 51.6h0.75v0.75h-0.75zM35.3 55.7h0.75v0.75h-0.75zM47.0 41.5h0.75v0.75h-0.75zM37.9 53.1h0.75v0.75h-0.75zM40.1 51.8h0.75v0.75h-0.75zM38.7 51.5h0.75v0.75h-0.75zM43.0 50.9h0.75v0.75h-0.75zM41.3 60.8h0.75v0.75h-0.75zM42.1 38.0h0.75v0.75h-0.75zM42.8 60.0h0.75v0.75h-0.75zM37.9 49.8h0.75v0.75h-0.75zM45.1 27.8h0.75v0.75h-0.75zM45.7 38.8h0.75v0.75h-0.75zM44.7 37.5h0.75v0.75h-0.75zM40.0 30.2h0.75v0.75h-0.75zM39.1 44.8h0.75v0.75h-0.75zM40.1 45.0h0.75v0.75h-0.75zM42.2 30.1h0.75v0.75h-0.75zM40.1 37.7h0.75v0.75h-0.75zM36.5 47.9h0.75v0.75h-0.75zM46.7 53.2h0.75v0.75h-0.75zM46.6 32.9h0.75v0.75h-0.75zM43.1 36.5h0.75v0.75h-0.75zM34.4 50.8h0.75v0.75h-0.75zM40.8 40.3h0.75v0.75h-0.75zM42.9 38.5h0.75v0.75h-0.75zM39.3 53.9h0.75v0.75h-0.75zM42.8 45.2h0.75v0.75h-0.75zM40.6 44.5h0.75v0.75h-0.75zM44.9 36.5h0.75v0.75h-0.75zM42.3 32.8h0.75v0.75h-0.75zM44.3 44.5h0.75v0.75h-0.75zM47.9 39.3h0.75v0.75h-0.75zM38.3 47.9h0.75v0.75h-0.75zM43.0 52.1h0.75v0.75h-0.75zM37.6 52.8h0.75v0.75h-0.75zM40.1 33.7h0.75v0.75h-0.75zM36.7 51.5h0.75v0.75h-0.75zM45.5 55.6h0.75v0.75h-0.75zM39.7 32.8h0.75v0.75h-0.75zM40.4 36.1h0.75v0.75h-0.75zM41.4 36.6h0.75v0.75h-0.75zM38.2 50.2h0.75v0.75h-0.75zM39.3 46.9h0.75v0.75h-0.75zM44.4 33.4h0.75v0.75h-0.75zM37.8 45.1h0.75v0.75h-0.75zM47.7 50.2h0.75v0.75h-0.75zM45.3 29.7h0.75v0.75h-0.75zM44.1 45.5h0.75v0.75h-0.75zM42.8 40.3h0.75v0.75h-0.75zM42.2 35.9h0.75v0.75h-0.75zM44.3 46.1h0.75v0.75h-0.75zM40.2 43.3h0.75v0.75h-0.75zM45.6 45.7h0.75v0.75h-0.75zM41.8 40.4h0.75v0.75h-0.75zM44.4 34.4h0.75v0.75h-0.75zM45.7 46.1h0.75v0.75h-0.75zM42.8 44.6h0.75v0.75h-0.75zM43.9 49.6h0.75v0.75h-0.75zM39.2 47.9h0.75v0.75h-0.75zM44.8 48.9h0.75v0.75h-0.75zM44.9 31.2h0.75v0.75h-0.75zM45.7 39.5h0.75v0.75h-0.75zM45.7 48.6h0.75v0.75h-0.75zM44.6 37.8h0.75v0.75h-0.75zM40.8 47.3h0.75v0.75h-0.75zM42.8 48.5h0.75v0.75h-0.75zM40.6 52.6h0.75v0.75h-0.75zM39.3 51.8h0.75v0.75h-0.75zM45.0 34.1h0.75v0.75h-0.75zM40.0 37.3h0.75v0.75h-0.75zM41.1 43.5h0.75v0.75h-0.75zM42.0 56.0h0.75v0.75h-0.75zM43.4 32.1h0.75v0.75h-0.75zM49.9 31.2h0.75v0.75h-0.75zM43.5 36.9h0.75v0.75h-0.75zM47.6 34.9h0.75v0.75h-0.75zM39.9 55.4h0.75v0.75h-0.75zM49.2 47.6h0.75v0.75h-0.75zM41.4 41.0h0.75v0.75h-0.75zM42.5 40.1h0.75v0.75h-0.75zM45.7 35.4h0.75v0.75h-0.75zM36.8 49.0h0.75v0.75h-0.75zM45.2 34.7h0.75v0.75h-0.75zM42.5 45.3h0.75v0.75h-0.75zM45.1 33.4h0.75v0.75h-0.75zM38.1 50.0h0.75v0.75h-0.75zM42.2 42.0h0.75v0.75h-0.75zM43.6 47.9h0.75v0.75h-0.75zM44.5 38.1h0.75v0.75h-0.75zM38.7 38.3h0.75v0.75h-0.75zM41.0 35.4h0.75v0.75h-0.75zM38.5 48.9h0.75v0.75h-0.75zM40.8 40.3h0.75v0.75h-0.75zM41.5 45.2h0.75v0.75h-0.75zM41.4 55.4h0.75v0.75h-0.75zM46.0 44.8h0.75v0.75h-0.75zM38.1 48.0h0.75v0.75h-0.75zM38.2 44.6h0.75v0.75h-0.75zM42.5 54.0h0.75v0.75h-0.75zM41.7 44.5h0.75v0.75h-0.75zM48.9 46.2h0.75v0.75h-0.75zM45.7 53.0h0.75v0.75h-0.75zM46.5 43.4h0.75v0.75h-0.75zM44.3 49.9h0.75v0.75h-0.75zM42.6 28.8h0.75v0.75h-0.75zM38.9 51.9h0.75v0.75h-0.75zM41.2 53.7h0.75v0.75h-0.75zM43.0 35.1h0.75v0.75h-0.75zM42.6 42.7h0.75v0.75h-0.75zM42.2 35.3h0.75v0.75h-0.75zM42.6 38.5h0.75v0.75h-0.75zM40.6 47.6h0.75v0.75h-0.75zM44.0 47.0h0.75v0.75h-0.75zM39.5 43.6h0.75v0.75h-0.75zM41.9 37.0h0.75v0.75h-0.75zM38.2 51.0h0.75v0.75h-0.75zM38.8 50.7h0.75v0.75h-0.75zM40.1 31.4h0.75v0.75h-0.75zM43.3 39.3h0.75v0.75h-0.75zM44.7 30.7h0.75v0.75h-0.75zM39.5 35.1h0.75v0.75h-0.75zM42.2 37.9h0.75v0.75h-0.75zM40.6 40.7h0.75v0.75h-0.75zM40.1 48.9h0.75v0.75h-0.75zM42.3 36.6h0.75v0.75h-0.75zM42.5 45.9h0.75v0.75h-0.75zM44.1 37.6h0.75v0.75h-0.75zM37.1 52.9h0.75v0.75h-0.75zM47.2 37.8h0.75v0.75h-0.75z" fill="#555"/><path d="M6.9 50.7h0.75v0.75h-0.75zM40.1 30.2h0.75v0.75h-0.75zM12.8 18.6h0.75v0.75h-0.75zM9.5 19.5h0.75v0.75h-0.75zM50.3 18.2h0.75v0.75h-0.75zM34.4 51.7h0.75v0.75h-0.75zM5.9 27.6h0.75v0.75h-0.75zM27.7 55.6h0.75v0.75h-0.75zM9.0 53.4h0.75v0.75h-0.75zM12.9 17.9h0.75v0.75h-0.75zM37.5 17.9h0.75v0.75h-0.75zM54.2 26.1h0.75v0.75h-0.75zM13.2 17.4h0.75v0.75h-0.75zM12.5 56.2h0.75v0.75h-0.75zM41.3 29.6h0.75v0.75h-0.75zM5.7 45.5h0.75v0.75h-0.75zM38.5 46.2h0.75v0.75h-0.75zM41.2 28.8h0.75v0.75h-0.75zM21.4 55.0h0.75v0.75h-0.75zM46.3 18.4h0.75v0.75h-0.75zM16.9 17.8h0.75v0.75h-0.75zM5.9 26.1h0.75v0.75h-0.75zM6.5 41.4h0.75v0.75h-0.75zM13.8 56.4h0.75v0.75h-0.75zM39.3 41.0h0.75v0.75h-0.75zM5.9 35.5h0.75v0.75h-0.75zM47.4 19.2h0.75v0.75h-0.75zM7.9 19.9h0.75v0.75h-0.75zM7.3 20.7h0.75v0.75h-0.75zM27.2 17.5h0.75v0.75h-0.75zM32.8 52.6h0.75v0.75h-0.75zM35.4 18.7h0.75v0.75h-0.75zM31.5 18.7h0.75v0.75h-0.75zM20.9 18.2h0.75v0.75h-0.75zM31.2 18.0h0.75v0.75h-0.75zM11.8 17.9h0.75v0.75h-0.75zM5.8 27.7h0.75v0.75h-0.75zM28.0 54.8h0.75v0.75h-0.75zM6.5 21.2h0.75v0.75h-0.75zM55.6 24.8h0.75v0.75h-0.75zM30.3 54.2h0.75v0.75h-0.75zM13.4 55.1h0.75v0.75h-0.75zM20.1 56.4h0.75v0.75h-0.75zM4.9 31.2h0.75v0.75h-0.75zM28.2 17.6h0.75v0.75h-0.75zM24.4 55.0h0.75v0.75h-0.75zM39.1 17.7h0.75v0.75h-0.75zM7.4 20.9h0.75v0.75h-0.75zM36.5 17.8h0.75v0.75h-0.75zM5.7 43.1h0.75v0.75h-0.75zM46.1 18.3h0.75v0.75h-0.75zM52.5 27.5h0.75v0.75h-0.75zM55.1 22.6h0.75v0.75h-0.75zM8.5 21.0h0.75v0.75h-0.75zM33.2 53.5h0.75v0.75h-0.75zM52.6 18.8h0.75v0.75h-0.75zM41.5 29.7h0.75v0.75h-0.75zM39.5 32.0h0.75v0.75h-0.75zM25.9 55.5h0.75v0.75h-0.75zM48.2 18.6h0.75v0.75h-0.75zM33.8 17.4h0.75v0.75h-0.75zM11.4 54.3h0.75v0.75h-0.75zM6.6 51.9h0.75v0.75h-0.75zM27.4 56.1h0.75v0.75h-0.75zM23.0 55.9h0.75v0.75h-0.75zM18.6 56.1h0.75v0.75h-0.75zM15.4 56.0h0.75v0.75h-0.75zM39.0 17.5h0.75v0.75h-0.75zM6.0 37.9h0.75v0.75h-0.75zM40.1 40.0h0.75v0.75h-0.75zM6.6 51.8h0.75v0.75h-0.75zM53.7 20.1h0.75v0.75h-0.75zM8.6 54.3h0.75v0.75h-0.75zM20.9 56.4h0.75v0.75h-0.75zM15.4 55.2h0.75v0.75h-0.75zM39.9 33.5h0.75v0.75h-0.75zM20.2 56.7h0.75v0.75h-0.75zM28.5 54.3h0.75v0.75h-0.75zM32.6 18.3h0.75v0.75h-0.75zM32.6 17.4h0.75v0.75h-0.75zM38.6 18.2h0.75v0.75h-0.75zM54.1 20.2h0.75v0.75h-0.75zM37.6 45.6h0.75v0.75h-0.75zM37.8 18.4h0.75v0.75h-0.75zM6.0 35.0h0.75v0.75h-0.75zM30.5 55.2h0.75v0.75h-0.75zM40.1 18.1h0.75v0.75h-0.75zM26.3 55.9h0.75v0.75h-0.75zM9.6 18.2h0.75v0.75h-0.75zM44.0 18.2h0.75v0.75h-0.75zM15.6 18.6h0.75v0.75h-0.75zM40.6 17.4h0.75v0.75h-0.75zM48.1 28.7h0.75v0.75h-0.75zM36.4 50.4h0.75v0.75h-0.75zM31.6 17.4h0.75v0.75h-0.75zM10.4 18.9h0.75v0.75h-0.75zM7.7 51.4h0.75v0.75h-0.75zM51.9 28.2h0.75v0.75h-0.75zM30.5 54.7h0.75v0.75h-0.75zM29.0 55.5h0.75v0.75h-0.75zM18.0 17.8h0.75v0.75h-0.75zM20.9 17.3h0.75v0.75h-0.75zM27.1 54.8h0.75v0.75h-0.75zM43.1 17.9h0.75v0.75h-0.75zM6.6 36.5h0.75v0.75h-0.75zM29.0 54.3h0.75v0.75h-0.75zM45.2 18.3h0.75v0.75h-0.75zM24.3 18.2h0.75v0.75h-0.75zM36.0 51.9h0.75v0.75h-0.75zM46.7 18.5h0.75v0.75h-0.75zM34.0 17.6h0.75v0.75h-0.75zM45.8 27.9h0.75v0.75h-0.75zM44.3 18.3h0.75v0.75h-0.75zM8.3 52.8h0.75v0.75h-0.75zM6.0 46.2h0.75v0.75h-0.75zM24.8 55.7h0.75v0.75h-0.75zM35.7 49.5h0.75v0.75h-0.75zM6.3 29.5h0.75v0.75h-0.75zM37.6 17.6h0.75v0.75h-0.75zM6.9 41.9h0.75v0.75h-0.75zM43.9 28.8h0.75v0.75h-0.75zM6.4 47.4h0.75v0.75h-0.75zM22.0 56.5h0.75v0.75h-0.75zM6.4 28.7h0.75v0.75h-0.75zM46.8 28.5h0.75v0.75h-0.75zM20.7 18.8h0.75v0.75h-0.75zM39.7 37.4h0.75v0.75h-0.75zM54.3 20.0h0.75v0.75h-0.75zM49.6 28.2h0.75v0.75h-0.75zM19.5 17.9h0.75v0.75h-0.75zM51.3 27.8h0.75v0.75h-0.75zM34.6 52.0h0.75v0.75h-0.75zM5.3 25.0h0.75v0.75h-0.75zM51.2 27.2h0.75v0.75h-0.75zM6.6 40.4h0.75v0.75h-0.75zM34.3 51.6h0.75v0.75h-0.75zM36.7 49.3h0.75v0.75h-0.75zM29.8 55.4h0.75v0.75h-0.75zM5.7 41.8h0.75v0.75h-0.75zM15.3 56.0h0.75v0.75h-0.75zM38.4 18.3h0.75v0.75h-0.75zM24.1 18.9h0.75v0.75h-0.75zM6.2 31.5h0.75v0.75h-0.75zM32.4 54.5h0.75v0.75h-0.75zM14.1 17.7h0.75v0.75h-0.75zM23.5 55.7h0.75v0.75h-0.75zM13.3 55.3h0.75v0.75h-0.75zM7.8 51.4h0.75v0.75h-0.75zM33.4 53.3h0.75v0.75h-0.75zM25.3 55.2h0.75v0.75h-0.75zM6.3 28.6h0.75v0.75h-0.75zM38.6 17.3h0.75v0.75h-0.75zM29.2 18.7h0.75v0.75h-0.75zM47.1 28.6h0.75v0.75h-0.75zM28.8 17.6h0.75v0.75h-0.75zM24.4 17.6h0.75v0.75h-0.75zM31.8 54.7h0.75v0.75h-0.75zM16.2 18.1h0.75v0.75h-0.75zM54.7 25.4h0.75v0.75h-0.75zM5.2 28.9h0.75v0.75h-0.75zM11.5 54.3h0.75v0.75h-0.75zM5.3 26.0h0.75v0.75h-0.75zM21.6 18.9h0.75v0.75h-0.75zM12.1 54.9h0.75v0.75h-0.75zM43.8 17.7h0.75v0.75h-0.75zM5.0 30.8h0.75v0.75h-0.75zM43.8 29.6h0.75v0.75h-0.75zM26.8 55.9h0.75v0.75h-0.75zM55.6 21.6h0.75v0.75h-0.75zM54.3 21.7h0.75v0.75h-0.75zM35.7 18.5h0.75v0.75h-0.75zM33.5 18.5h0.75v0.75h-0.75zM44.6 17.9h0.75v0.75h-0.75zM41.1 29.1h0.75v0.75h-0.75zM39.8 40.7h0.75v0.75h-0.75zM47.6 28.6h0.75v0.75h-0.75zM13.4 18.8h0.75v0.75h-0.75zM44.9 18.2h0.75v0.75h-0.75zM33.0 18.5h0.75v0.75h-0.75zM24.2 18.8h0.75v0.75h-0.75zM5.5 41.8h0.75v0.75h-0.75zM5.8 37.8h0.75v0.75h-0.75zM29.4 54.6h0.75v0.75h-0.75zM16.0 55.5h0.75v0.75h-0.75zM6.3 32.7h0.75v0.75h-0.75zM38.9 36.5h0.75v0.75h-0.75zM36.7 49.8h0.75v0.75h-0.75zM24.2 55.1h0.75v0.75h-0.75zM6.6 50.7h0.75v0.75h-0.75zM5.6 39.4h0.75v0.75h-0.75zM33.6 18.9h0.75v0.75h-0.75zM28.3 18.8h0.75v0.75h-0.75zM5.5 26.8h0.75v0.75h-0.75zM6.6 36.2h0.75v0.75h-0.75zM49.8 18.7h0.75v0.75h-0.75zM24.9 56.5h0.75v0.75h-0.75zM39.2 32.7h0.75v0.75h-0.75zM35.1 51.9h0.75v0.75h-0.75zM16.7 55.8h0.75v0.75h-0.75zM49.5 28.6h0.75v0.75h-0.75zM5.8 28.6h0.75v0.75h-0.75zM43.1 17.6h0.75v0.75h-0.75zM39.8 18.9h0.75v0.75h-0.75zM32.5 18.7h0.75v0.75h-0.75zM39.9 37.0h0.75v0.75h-0.75zM47.6 27.6h0.75v0.75h-0.75zM29.2 55.4h0.75v0.75h-0.75zM35.6 50.3h0.75v0.75h-0.75zM39.1 31.1h0.75v0.75h-0.75zM7.0 24.0h0.75v0.75h-0.75zM15.6 55.7h0.75v0.75h-0.75zM10.5 55.7h0.75v0.75h-0.75zM51.9 27.6h0.75v0.75h-0.75zM7.9 50.5h0.75v0.75h-0.75zM39.5 43.9h0.75v0.75h-0.75zM6.5 40.5h0.75v0.75h-0.75zM39.1 41.2h0.75v0.75h-0.75zM8.2 20.3h0.75v0.75h-0.75zM25.4 55.1h0.75v0.75h-0.75zM48.8 18.5h0.75v0.75h-0.75zM19.7 56.2h0.75v0.75h-0.75zM39.8 38.0h0.75v0.75h-0.75zM5.5 27.4h0.75v0.75h-0.75zM54.3 23.0h0.75v0.75h-0.75zM16.6 17.8h0.75v0.75h-0.75zM5.3 38.0h0.75v0.75h-0.75zM5.4 26.9h0.75v0.75h-0.75zM20.0 19.0h0.75v0.75h-0.75zM16.5 18.6h0.75v0.75h-0.75zM48.1 17.7h0.75v0.75h-0.75zM33.3 53.5h0.75v0.75h-0.75zM37.7 45.3h0.75v0.75h-0.75zM38.0 45.2h0.75v0.75h-0.75zM16.4 56.2h0.75v0.75h-0.75zM40.1 35.6h0.75v0.75h-0.75zM26.4 17.7h0.75v0.75h-0.75zM47.3 18.5h0.75v0.75h-0.75zM5.6 46.7h0.75v0.75h-0.75zM13.8 19.0h0.75v0.75h-0.75zM48.4 29.2h0.75v0.75h-0.75zM28.0 17.3h0.75v0.75h-0.75zM6.4 33.1h0.75v0.75h-0.75zM27.6 54.6h0.75v0.75h-0.75zM39.5 33.3h0.75v0.75h-0.75zM7.0 41.9h0.75v0.75h-0.75zM9.2 19.0h0.75v0.75h-0.75zM6.3 48.2h0.75v0.75h-0.75zM25.1 18.5h0.75v0.75h-0.75zM6.2 41.4h0.75v0.75h-0.75zM36.9 50.3h0.75v0.75h-0.75zM51.4 28.4h0.75v0.75h-0.75zM25.1 54.9h0.75v0.75h-0.75zM7.9 20.5h0.75v0.75h-0.75zM55.3 22.4h0.75v0.75h-0.75zM38.3 42.7h0.75v0.75h-0.75zM39.2 42.3h0.75v0.75h-0.75zM38.4 18.0h0.75v0.75h-0.75zM15.8 56.1h0.75v0.75h-0.75zM27.4 56.3h0.75v0.75h-0.75zM18.2 56.6h0.75v0.75h-0.75zM50.4 27.3h0.75v0.75h-0.75zM6.6 35.8h0.75v0.75h-0.75zM38.3 47.4h0.75v0.75h-0.75zM6.4 24.3h0.75v0.75h-0.75zM42.7 28.3h0.75v0.75h-0.75zM31.2 53.7h0.75v0.75h-0.75zM39.9 35.8h0.75v0.75h-0.75zM28.9 18.7h0.75v0.75h-0.75zM55.4 24.3h0.75v0.75h-0.75zM40.1 37.7h0.75v0.75h-0.75zM41.8 18.1h0.75v0.75h-0.75zM18.5 56.7h0.75v0.75h-0.75zM15.0 56.2h0.75v0.75h-0.75zM36.0 17.4h0.75v0.75h-0.75zM27.6 54.7h0.75v0.75h-0.75zM38.6 40.9h0.75v0.75h-0.75zM13.1 18.8h0.75v0.75h-0.75zM5.7 45.0h0.75v0.75h-0.75zM55.0 20.3h0.75v0.75h-0.75zM26.7 18.4h0.75v0.75h-0.75zM39.0 41.8h0.75v0.75h-0.75zM5.4 36.0h0.75v0.75h-0.75zM31.5 17.7h0.75v0.75h-0.75zM43.5 29.6h0.75v0.75h-0.75zM38.8 36.3h0.75v0.75h-0.75zM5.8 33.3h0.75v0.75h-0.75zM30.1 18.3h0.75v0.75h-0.75zM32.9 53.9h0.75v0.75h-0.75zM5.1 37.9h0.75v0.75h-0.75zM39.1 34.8h0.75v0.75h-0.75zM50.2 28.6h0.75v0.75h-0.75zM39.2 42.0h0.75v0.75h-0.75zM24.3 56.0h0.75v0.75h-0.75zM35.7 50.6h0.75v0.75h-0.75zM5.4 40.6h0.75v0.75h-0.75zM6.7 49.1h0.75v0.75h-0.75zM7.1 52.4h0.75v0.75h-0.75zM42.1 17.3h0.75v0.75h-0.75zM13.1 17.4h0.75v0.75h-0.75zM54.1 20.5h0.75v0.75h-0.75zM38.4 43.8h0.75v0.75h-0.75zM12.9 55.2h0.75v0.75h-0.75zM32.9 18.7h0.75v0.75h-0.75zM6.3 26.7h0.75v0.75h-0.75zM5.9 23.1h0.75v0.75h-0.75zM28.2 55.5h0.75v0.75h-0.75zM40.3 18.3h0.75v0.75h-0.75zM39.9 39.0h0.75v0.75h-0.75zM38.1 48.3h0.75v0.75h-0.75zM41.5 17.3h0.75v0.75h-0.75zM50.6 18.3h0.75v0.75h-0.75zM55.0 21.6h0.75v0.75h-0.75zM39.4 44.9h0.75v0.75h-0.75zM6.3 26.4h0.75v0.75h-0.75zM5.2 34.2h0.75v0.75h-0.75zM6.4 40.9h0.75v0.75h-0.75zM5.8 22.8h0.75v0.75h-0.75zM53.6 20.2h0.75v0.75h-0.75zM13.4 54.8h0.75v0.75h-0.75zM37.6 17.7h0.75v0.75h-0.75zM21.1 18.0h0.75v0.75h-0.75zM10.7 55.3h0.75v0.75h-0.75zM35.1 50.5h0.75v0.75h-0.75zM52.6 20.2h0.75v0.75h-0.75zM38.3 44.0h0.75v0.75h-0.75zM43.9 18.5h0.75v0.75h-0.75zM14.1 17.7h0.75v0.75h-0.75zM43.2 18.6h0.75v0.75h-0.75zM39.9 31.2h0.75v0.75h-0.75zM44.4 17.9h0.75v0.75h-0.75zM39.9 34.8h0.75v0.75h-0.75zM39.8 38.7h0.75v0.75h-0.75zM40.8 17.3h0.75v0.75h-0.75zM34.0 53.7h0.75v0.75h-0.75zM5.6 30.9h0.75v0.75h-0.75zM28.7 17.5h0.75v0.75h-0.75zM5.7 33.6h0.75v0.75h-0.75zM5.2 32.5h0.75v0.75h-0.75zM34.6 18.2h0.75v0.75h-0.75zM25.0 18.4h0.75v0.75h-0.75zM10.5 55.6h0.75v0.75h-0.75zM5.5 37.0h0.75v0.75h-0.75zM55.1 23.1h0.75v0.75h-0.75zM23.0 18.3h0.75v0.75h-0.75zM36.6 18.1h0.75v0.75h-0.75zM12.0 54.6h0.75v0.75h-0.75zM5.8 37.9h0.75v0.75h-0.75zM51.4 18.3h0.75v0.75h-0.75zM50.1 19.0h0.75v0.75h-0.75zM10.6 54.8h0.75v0.75h-0.75zM44.6 28.9h0.75v0.75h-0.75zM49.1 19.0h0.75v0.75h-0.75zM43.3 18.7h0.75v0.75h-0.75zM50.0 27.8h0.75v0.75h-0.75zM34.9 53.0h0.75v0.75h-0.75zM54.7 25.8h0.75v0.75h-0.75zM30.7 55.4h0.75v0.75h-0.75zM50.6 27.7h0.75v0.75h-0.75zM17.3 17.6h0.75v0.75h-0.75zM34.2 53.5h0.75v0.75h-0.75zM33.7 18.9h0.75v0.75h-0.75zM10.2 53.5h0.75v0.75h-0.75zM45.8 29.5h0.75v0.75h-0.75zM17.3 55.6h0.75v0.75h-0.75zM54.5 19.9h0.75v0.75h-0.75zM6.5 31.2h0.75v0.75h-0.75zM38.7 41.3h0.75v0.75h-0.75zM10.9 18.8h0.75v0.75h-0.75zM17.8 56.0h0.75v0.75h-0.75zM7.0 43.4h0.75v0.75h-0.75zM40.0 18.3h0.75v0.75h-0.75zM5.6 47.8h0.75v0.75h-0.75zM40.7 17.9h0.75v0.75h-0.75zM22.6 56.4h0.75v0.75h-0.75zM10.4 55.4h0.75v0.75h-0.75zM44.6 17.7h0.75v0.75h-0.75zM5.2 30.8h0.75v0.75h-0.75zM34.8 51.4h0.75v0.75h-0.75zM52.6 19.6h0.75v0.75h-0.75zM15.2 18.5h0.75v0.75h-0.75zM42.2 18.3h0.75v0.75h-0.75zM6.4 46.0h0.75v0.75h-0.75zM4.8 30.3h0.75v0.75h-0.75zM6.1 29.1h0.75v0.75h-0.75zM54.5 21.1h0.75v0.75h-0.75zM47.9 28.6h0.75v0.75h-0.75zM20.3 56.4h0.75v0.75h-0.75zM5.1 31.5h0.75v0.75h-0.75zM5.9 29.0h0.75v0.75h-0.75zM39.3 17.6h0.75v0.75h-0.75zM43.0 18.1h0.75v0.75h-0.75zM28.7 54.4h0.75v0.75h-0.75zM38.8 17.9h0.75v0.75h-0.75zM36.4 48.3h0.75v0.75h-0.75zM41.8 17.4h0.75v0.75h-0.75zM34.6 52.0h0.75v0.75h-0.75zM40.4 18.1h0.75v0.75h-0.75zM9.6 54.9h0.75v0.75h-0.75zM21.0 18.4h0.75v0.75h-0.75zM31.7 17.9h0.75v0.75h-0.75zM55.2 23.0h0.75v0.75h-0.75zM7.1 52.4h0.75v0.75h-0.75zM19.8 55.8h0.75v0.75h-0.75zM16.5 56.1h0.75v0.75h-0.75zM24.1 56.7h0.75v0.75h-0.75zM18.4 56.3h0.75v0.75h-0.75zM46.3 28.7h0.75v0.75h-0.75zM43.2 18.1h0.75v0.75h-0.75zM47.8 18.5h0.75v0.75h-0.75zM20.5 17.9h0.75v0.75h-0.75zM4.8 32.9h0.75v0.75h-0.75zM52.4 26.8h0.75v0.75h-0.75zM40.7 29.5h0.75v0.75h-0.75zM35.7 51.1h0.75v0.75h-0.75zM5.5 30.1h0.75v0.75h-0.75zM39.0 43.3h0.75v0.75h-0.75zM34.9 18.9h0.75v0.75h-0.75zM54.5 25.2h0.75v0.75h-0.75zM7.0 49.4h0.75v0.75h-0.75zM6.5 36.8h0.75v0.75h-0.75z" fill="#444"/><path d="M23.2,54.5 22.5,54.6 21.8,54.6 21.0,54.6 20.2,54.6 19.5,54.6 18.8,54.5 18.2,54.4 17.5,54.4 16.8,54.4 16.0,54.4 15.2,54.3 14.6,54.2 14.0,54.2 13.2,54.1 12.7,54.0 12.0,53.8 11.5,53.6 11.0,53.4 10.5,53.1 10.0,52.8 9.7,52.5 9.2,52.1 9.0,51.8 8.6,51.2 8.4,50.8 8.1,50.2 8.0,49.8 7.8,49.0 7.6,48.5 7.5,47.8 7.4,47.2 7.3,46.5 7.2,45.9 7.2,45.2 7.1,44.5 7.1,43.8 7.1,43.0 7.1,42.2 7.1,41.5 7.1,40.8 7.0,40.1 6.9,39.5 6.9,38.8 6.9,38.0 6.9,37.2 6.9,36.5 6.9,35.8 6.9,35.0 6.9,34.2 6.8,33.5 6.7,33.0 6.6,32.2 6.6,31.5 6.6,30.8 6.6,30.0 6.6,29.2 6.6,28.5 6.6,27.8 6.6,27.0 6.6,26.2 6.7,25.5 6.8,25.0 7.0,24.4 7.2,23.8 7.4,23.2 7.7,22.8 8.0,22.3 8.2,21.9 8.6,21.5 9.0,21.1 9.3,20.8 9.8,20.4 10.2,20.1 10.8,19.8 11.2,19.7 11.9,19.5 12.5,19.4 13.2,19.3 13.8,19.2 14.5,19.1 15.2,19.1 16.0,19.1 16.8,19.1 17.5,19.1 18.2,19.1 19.0,19.1 19.8,19.1 20.5,19.1 21.2,19.1 22.0,19.1 22.8,19.1 23.5,19.1 24.2,19.1 24.9,19.0 25.5,18.9 26.2,18.9 26.9,19.0 27.5,19.1 28.2,19.1 29.0,19.1 29.8,19.1 30.5,19.1 31.2,19.1 32.0,19.1 32.8,19.1 33.5,19.1 34.2,19.1 35.0,19.1 35.8,19.1 36.5,19.1 37.2,19.1 38.0,19.1 38.8,19.1 39.5,19.1 40.2,19.1 41.0,19.1 41.8,19.2 42.2,19.3 43.0,19.4 43.8,19.4 44.5,19.4 45.2,19.4 46.0,19.4 46.8,19.4 47.2,19.5 48.0,19.6 48.8,19.7 49.2,19.8 50.0,19.9 50.5,20.0 51.2,20.2 51.8,20.5 52.2,20.7 52.7,21.0 53.0,21.2 53.5,21.8 53.7,22.2 53.8,22.8 53.8,23.5 53.8,24.1 53.5,24.7 53.2,25.1 52.8,25.5 52.5,25.8 52.0,26.0 51.3,26.2 50.8,26.4 50.2,26.5 49.5,26.7 49.0,26.8 48.2,27.0 47.8,27.1 47.0,27.2 46.5,27.3 45.8,27.4 45.0,27.4 44.5,27.5 43.8,27.6 43.0,27.7 42.4,27.8 41.8,27.9 41.2,28.1 40.7,28.2 40.2,28.5 39.8,28.9 39.4,29.2 39.1,29.8 38.8,30.2 38.6,30.8 38.5,31.2 38.3,32.0 38.2,32.5 38.1,33.2 38.1,34.0 38.1,34.8 38.1,35.5 38.1,36.2 38.1,37.0 38.1,37.8 38.1,38.5 38.1,39.2 38.0,40.0 37.9,40.5 37.8,41.2 37.8,41.9 37.6,42.5 37.5,43.2 37.4,43.8 37.2,44.3 37.0,45.0 36.9,45.5 36.7,46.0 36.5,46.5 36.2,47.1 36.0,47.5 35.7,48.0 35.4,48.5 35.1,49.0 34.8,49.5 34.5,49.9 34.2,50.3 33.9,50.8 33.5,51.1 33.1,51.5 32.8,51.8 32.2,52.2 31.8,52.5 31.3,52.8 30.9,53.0 30.3,53.2 29.8,53.5 29.2,53.6 28.8,53.8 28.0,54.0 27.5,54.1 26.8,54.2 26.2,54.3 25.5,54.4 24.8,54.4 24.0,54.4 23.4,54.5Z" fill="none" stroke="#222" stroke-width="1.0" stroke-linejoin="round"/><path d="M24.2,52.5 23.5,52.5 22.8,52.6 22.0,52.7 21.2,52.7 20.5,52.7 19.8,52.7 19.0,52.6 18.2,52.5 17.5,52.5 17.0,52.5 16.2,52.5 15.5,52.4 14.8,52.3 14.2,52.2 13.5,52.2 12.8,52.0 12.2,51.8 11.8,51.6 11.2,51.3 10.9,51.0 10.5,50.5 10.2,50.1 10.0,49.6 9.8,49.0 9.6,48.5 9.5,48.0 9.4,47.2 9.3,46.5 9.2,46.0 9.1,45.2 9.0,44.5 9.0,43.8 9.0,43.0 9.0,42.2 9.0,41.7 9.0,41.0 9.0,40.2 8.9,39.5 8.8,38.8 8.8,38.0 8.8,37.2 8.8,36.5 8.8,35.8 8.8,35.0 8.7,34.5 8.7,33.8 8.6,33.0 8.5,32.2 8.5,31.5 8.5,30.8 8.5,30.0 8.5,29.2 8.5,28.5 8.5,27.8 8.5,27.0 8.6,26.2 8.7,25.5 8.9,25.0 9.0,24.5 9.3,24.0 9.5,23.5 9.9,23.0 10.2,22.6 10.6,22.2 11.0,21.9 11.5,21.7 12.0,21.5 12.8,21.3 13.3,21.2 14.0,21.1 14.8,21.0 15.5,21.0 16.2,21.0 17.0,21.0 17.8,21.0 18.5,21.0 19.2,21.0 20.0,21.0 20.8,21.0 21.5,21.0 22.2,21.0 23.0,21.0 23.5,21.0 24.2,21.0 25.0,20.9 25.8,20.9 26.5,20.9 27.2,21.0 28.0,21.0 28.5,21.0 29.2,21.0 30.0,21.0 30.8,21.0 31.5,21.0 32.2,21.0 33.0,21.0 33.8,21.0 34.5,21.0 35.2,21.0 36.0,21.0 36.8,21.0 37.5,21.0 38.2,21.0 39.0,21.0 39.8,21.0 40.5,21.0 41.2,21.1 42.0,21.2 42.8,21.2 43.4,21.2 44.0,21.3 44.8,21.3 45.5,21.3 46.2,21.3 47.0,21.4 47.6,21.5 48.2,21.6 49.0,21.7 49.5,21.8 50.2,22.0 50.8,22.2 51.2,22.4 51.6,22.8 51.8,23.2 51.6,23.8 51.2,24.1 50.8,24.4 50.2,24.5 49.5,24.7 49.0,24.8 48.2,25.0 47.8,25.1 47.0,25.2 46.5,25.3 45.8,25.4 45.1,25.5 44.5,25.6 43.8,25.7 43.0,25.7 42.5,25.8 41.8,25.9 41.2,26.0 40.5,26.2 40.0,26.4 39.5,26.7 39.0,27.0 38.7,27.2 38.2,27.7 37.9,28.0 37.5,28.5 37.2,28.9 37.0,29.5 36.8,30.0 36.7,30.5 36.5,31.2 36.4,31.8 36.3,32.5 36.3,33.2 36.2,33.9 36.2,34.5 36.2,35.2 36.2,36.0 36.2,36.8 36.2,37.5 36.2,38.2 36.2,39.0 36.1,39.8 36.0,40.5 35.9,41.0 35.8,41.8 35.7,42.2 35.6,43.0 35.5,43.5 35.2,44.2 35.1,44.8 34.9,45.2 34.7,45.8 34.5,46.2 34.2,46.8 33.9,47.2 33.6,47.8 33.3,48.2 33.0,48.7 32.8,49.0 32.4,49.5 32.0,49.9 31.6,50.2 31.2,50.5 30.8,50.8 30.2,51.1 29.8,51.4 29.2,51.6 28.7,51.8 28.0,52.0 27.5,52.1 26.8,52.2 26.2,52.3 25.5,52.4 24.8,52.5 24.2,52.5Z" fill="none" stroke="#999" stroke-width="0.6" stroke-linejoin="round"/><path d="M23.0,53.5 22.2,53.5 21.5,53.5 20.8,53.5 20.0,53.5 19.2,53.5 18.5,53.5 18.0,53.5 17.2,53.5 16.5,53.5 15.8,53.4 15.0,53.4 14.2,53.3 13.7,53.2 13.0,53.1 12.3,53.0 11.8,52.8 11.2,52.7 10.8,52.4 10.2,52.1 9.9,51.8 9.5,51.3 9.2,51.0 9.0,50.5 8.8,50.0 8.5,49.2 8.4,48.8 8.3,48.0 8.2,47.5 8.1,46.8 8.1,46.0 8.0,45.2 8.0,44.5 8.0,43.8 8.0,43.2 8.0,42.5 8.0,41.8 8.0,41.0 8.0,40.2 7.9,39.5 7.9,38.8 7.9,38.0 7.8,37.2 7.8,36.5 7.7,36.0 7.7,35.2 7.6,34.5 7.6,33.8 7.5,33.0 7.5,32.5 7.4,31.8 7.4,31.0 7.3,30.2 7.3,29.5 7.3,28.8 7.3,28.0 7.3,27.2 7.3,26.5 7.4,25.8 7.4,25.0 7.4,24.2 7.4,23.5 7.6,23.0 7.8,22.5 8.1,22.0 8.5,21.6 9.0,21.2 9.5,21.0 10.0,20.9 10.5,20.7 11.2,20.6 12.0,20.5 12.6,20.5 13.2,20.4 14.0,20.4 14.8,20.4 15.5,20.4 16.2,20.5 17.0,20.5 17.8,20.5 18.2,20.5 19.0,20.5 19.8,20.5 20.5,20.5 21.2,20.6 22.0,20.6 22.8,20.6 23.5,20.6 24.2,20.6 25.0,20.6 25.8,20.6 26.5,20.6 27.2,20.6 28.0,20.6 28.8,20.5 29.4,20.5 30.0,20.4 30.8,20.4 31.5,20.4 32.2,20.4 33.0,20.4 33.8,20.5 34.2,20.5 35.0,20.6 35.8,20.6 36.5,20.6 37.2,20.6 38.0,20.6 38.8,20.6 39.5,20.6 40.2,20.6 41.0,20.6 41.8,20.6 42.5,20.6 43.2,20.6 44.0,20.7 44.8,20.7 45.3,20.8 46.0,20.8 46.8,20.9 47.5,20.9 48.2,21.0 48.8,21.1 49.5,21.2 50.0,21.3 50.6,21.5 51.2,21.8 51.7,22.0 52.0,22.2 52.5,22.8 52.7,23.2 52.8,23.8 52.7,24.2 52.5,24.8 52.2,25.2 51.8,25.6 51.2,25.9 50.8,26.2 50.2,26.4 49.7,26.5 49.0,26.7 48.5,26.8 47.8,26.9 47.1,27.0 46.5,27.1 45.8,27.2 45.0,27.2 44.5,27.3 43.8,27.4 43.0,27.5 42.5,27.5 41.8,27.6 41.0,27.7 40.4,27.8 39.8,27.9 39.2,28.0 38.5,28.2 38.1,28.5 37.8,28.9 37.5,29.5 37.5,30.2 37.6,31.0 37.6,31.8 37.5,32.5 37.5,33.1 37.4,33.8 37.4,34.5 37.3,35.2 37.2,35.8 37.1,36.5 37.0,37.2 36.9,37.8 36.8,38.5 36.8,39.2 36.7,39.8 36.6,40.5 36.5,41.2 36.5,41.8 36.4,42.5 36.3,43.2 36.2,43.8 36.1,44.5 36.0,45.1 35.9,45.8 35.7,46.2 35.5,46.9 35.3,47.5 35.1,48.0 34.8,48.5 34.6,49.0 34.3,49.5 34.0,49.9 33.7,50.2 33.3,50.8 33.0,51.0 32.5,51.5 32.1,51.8 31.7,52.0 31.2,52.2 30.7,52.5 30.0,52.7 29.5,52.9 29.0,53.0 28.2,53.2 27.6,53.2 27.0,53.3 26.2,53.4 25.5,53.4 24.8,53.5 24.0,53.5 23.2,53.5Z" fill="none" stroke="#777" stroke-width="0.75" stroke-linejoin="round"/><path d="M27.0,51.5 26.2,51.6 25.5,51.6 24.8,51.7 24.0,51.7 23.2,51.7 22.5,51.7 21.8,51.7 21.0,51.7 20.2,51.7 19.5,51.7 18.8,51.7 18.0,51.7 17.2,51.7 16.5,51.7 15.8,51.6 15.0,51.6 14.2,51.5 13.8,51.4 13.0,51.3 12.5,51.1 12.0,50.9 11.5,50.6 11.1,50.2 10.8,49.8 10.5,49.3 10.3,48.8 10.2,48.2 10.0,47.5 10.0,47.0 9.9,46.2 9.8,45.5 9.8,44.8 9.8,44.0 9.8,43.2 9.8,42.5 9.8,41.8 9.8,41.2 9.7,40.5 9.7,39.8 9.7,39.0 9.6,38.2 9.6,37.5 9.5,36.8 9.5,36.1 9.5,35.5 9.4,34.8 9.4,34.0 9.3,33.2 9.3,32.5 9.2,32.0 9.2,31.2 9.1,30.5 9.0,29.8 8.9,29.2 8.8,28.5 8.7,28.0 8.5,27.2 8.4,26.8 8.4,26.0 8.3,25.2 8.3,24.5 8.3,23.8 8.5,23.0 8.8,22.5 9.0,22.2 9.5,21.9 10.0,21.7 10.7,21.5 11.2,21.4 12.0,21.3 12.7,21.2 13.2,21.2 14.0,21.2 14.8,21.2 15.5,21.2 16.2,21.2 17.0,21.2 17.5,21.3 18.2,21.3 19.0,21.3 19.8,21.3 20.5,21.3 21.2,21.3 22.0,21.4 22.8,21.4 23.5,21.4 24.2,21.4 25.0,21.4 25.8,21.4 26.5,21.4 27.2,21.4 28.0,21.4 28.8,21.3 29.5,21.3 30.2,21.2 30.8,21.2 31.5,21.2 32.2,21.2 33.0,21.2 33.5,21.3 34.2,21.3 35.0,21.4 35.8,21.4 36.5,21.4 37.2,21.4 38.0,21.4 38.8,21.4 39.5,21.4 40.2,21.4 41.0,21.4 41.8,21.4 42.5,21.4 43.2,21.5 44.0,21.5 44.5,21.5 45.2,21.6 46.0,21.6 46.8,21.7 47.5,21.8 48.0,21.8 48.8,21.9 49.3,22.0 50.0,22.2 50.5,22.4 51.0,22.6 51.4,23.0 51.7,23.5 51.7,24.2 51.3,24.8 51.0,25.0 50.5,25.3 50.0,25.5 49.3,25.8 48.8,25.9 48.1,26.0 47.5,26.1 46.8,26.2 46.2,26.3 45.5,26.4 44.8,26.4 44.2,26.5 43.5,26.6 42.8,26.7 42.0,26.7 41.5,26.8 40.8,26.9 40.0,27.0 39.5,27.0 38.8,27.2 38.2,27.3 37.6,27.5 37.0,27.8 36.6,28.0 36.2,28.3 35.9,28.8 35.7,29.2 35.7,30.0 35.7,30.8 35.8,31.2 35.8,32.0 35.7,32.5 35.7,33.2 35.6,34.0 35.5,34.8 35.5,35.2 35.4,36.0 35.3,36.8 35.2,37.2 35.1,38.0 35.0,38.8 35.0,39.2 34.9,40.0 34.8,40.8 34.8,41.3 34.7,42.0 34.6,42.8 34.5,43.4 34.4,44.0 34.3,44.8 34.1,45.2 34.0,45.8 33.8,46.5 33.6,47.0 33.3,47.5 33.1,48.0 32.8,48.5 32.5,48.9 32.2,49.2 31.8,49.7 31.4,50.0 31.0,50.3 30.5,50.6 30.0,50.8 29.5,51.0 28.8,51.2 28.2,51.3 27.5,51.5 27.0,51.5Z" fill="none" stroke="#888" stroke-width="0.7" stroke-linejoin="round"/><path d="M22.8,49.0 22.0,49.2 21.2,49.2 20.5,49.2 19.8,49.1 19.2,49.0 18.5,48.8 18.0,48.6 17.5,48.3 17.1,48.0 16.8,47.7 16.3,47.2 16.0,46.9 15.8,46.5 15.4,46.0 15.0,45.5 14.8,45.2 14.2,44.8 14.0,44.5 13.6,44.0 13.3,43.5 13.0,43.0 12.8,42.5 12.6,42.0 12.5,41.5 12.2,40.8 12.1,40.2 12.0,39.6 11.9,39.0 11.8,38.2 11.7,37.8 11.7,37.0 11.6,36.2 11.6,35.5 11.6,34.8 11.6,34.0 11.7,33.2 11.8,32.8 11.9,32.0 12.0,31.2 11.9,30.5 11.6,30.0 11.2,29.6 10.8,29.2 10.5,28.9 10.1,28.5 9.8,28.0 9.5,27.5 9.3,27.0 9.2,26.5 9.1,25.8 9.1,25.0 9.0,24.2 9.1,23.5 9.4,23.0 9.8,22.6 10.2,22.4 10.8,22.2 11.5,22.1 12.0,22.0 12.8,21.9 13.5,21.9 14.2,21.9 15.0,21.9 15.8,21.9 16.5,21.9 17.2,22.0 18.0,22.0 18.5,22.0 19.2,22.0 20.0,22.1 20.8,22.1 21.5,22.1 22.2,22.1 23.0,22.1 23.8,22.1 24.5,22.2 25.2,22.2 26.0,22.2 26.8,22.2 27.5,22.2 28.2,22.2 29.0,22.1 29.8,22.1 30.5,22.0 31.2,22.0 32.0,22.0 32.8,22.0 33.5,22.1 34.2,22.2 35.0,22.2 35.5,22.3 36.2,22.3 37.0,22.3 37.8,22.3 38.5,22.3 39.2,22.3 40.0,22.3 40.8,22.3 41.5,22.3 42.2,22.3 43.0,22.3 43.8,22.4 44.5,22.4 45.2,22.5 45.8,22.5 46.5,22.6 47.2,22.6 48.0,22.7 48.5,22.8 49.2,23.0 49.8,23.2 50.2,23.5 50.3,24.0 50.0,24.4 49.5,24.7 49.0,24.9 48.5,25.0 47.8,25.2 47.2,25.2 46.5,25.3 45.8,25.4 45.2,25.5 44.5,25.6 43.8,25.7 43.0,25.8 42.5,25.8 41.8,25.9 41.0,25.9 40.5,26.0 39.8,26.1 39.0,26.2 38.5,26.3 37.8,26.5 37.2,26.6 36.8,26.8 36.2,27.0 35.8,27.3 35.2,27.5 34.8,27.8 34.2,28.1 33.8,28.4 33.2,28.7 32.8,29.0 32.2,29.2 31.8,29.4 31.2,29.6 30.8,30.0 30.6,30.5 30.8,31.0 31.0,31.7 31.1,32.2 31.1,33.0 31.1,33.8 31.0,34.2 30.8,35.0 30.6,35.5 30.3,36.0 30.1,36.5 29.8,37.0 30.0,37.6 30.5,38.0 30.9,38.2 31.2,38.6 31.5,39.0 31.8,39.5 32.0,40.0 32.2,40.8 32.3,41.2 32.4,42.0 32.5,42.8 32.4,43.5 32.3,44.2 32.1,44.8 31.9,45.2 31.7,45.8 31.4,46.2 31.0,46.7 30.5,47.0 30.0,47.2 29.5,47.4 28.8,47.3 28.2,47.1 27.8,46.8 27.5,46.5 27.0,46.0 26.5,45.9 26.2,46.2 25.9,46.8 25.6,47.2 25.2,47.7 24.9,48.0 24.5,48.3 24.0,48.5 23.5,48.8 22.8,49.0Z" fill="none" stroke="#8a8a8a" stroke-width="0.7" stroke-linejoin="round"/><path d="M26.3,42.2 26.5,41.8 26.8,41.2 27.0,40.5 27.2,40.0 27.4,39.5 27.6,39.0 27.5,38.5 26.8,38.3 26.0,38.3 25.3,38.2 24.8,38.2 24.2,38.0 23.6,37.8 23.2,37.5 22.8,37.2 22.3,36.8 22.0,36.5 21.6,36.0 21.3,35.5 21.0,35.0 20.8,34.5 20.7,34.0 20.6,33.2 20.7,32.5 20.8,32.0 20.8,31.2 20.5,30.8 20.0,30.7 19.5,30.8 19.1,31.2 19.1,32.0 19.2,32.5 19.4,33.2 19.5,33.9 19.6,34.5 19.6,35.2 19.6,36.0 19.5,36.8 19.5,37.2 19.4,38.0 19.5,38.8 19.6,39.2 20.0,39.5 20.8,39.7 21.5,39.7 22.0,39.8 22.8,40.0 23.2,40.2 23.8,40.5 24.2,40.8 24.5,41.0 25.0,41.5 25.2,41.8 25.7,42.2 26.2,42.4Z" fill="none" stroke="#8a8a8a" stroke-width="0.7" stroke-linejoin="round"/><path d="M18.2,28.8 17.5,28.8 16.8,28.9 16.0,29.0 15.2,29.0 14.5,29.0 13.8,28.9 13.0,28.8 12.5,28.7 12.0,28.5 11.4,28.2 11.0,28.0 10.5,27.6 10.2,27.2 10.0,26.7 9.8,26.0 9.8,25.2 9.7,24.8 9.8,24.2 10.0,23.6 10.3,23.2 10.8,23.0 11.5,22.8 12.0,22.7 12.8,22.6 13.5,22.6 14.2,22.6 15.0,22.6 15.8,22.6 16.5,22.7 17.2,22.7 17.8,22.8 18.5,22.8 19.2,22.9 20.0,22.9 20.8,23.0 21.5,23.0 22.0,23.0 22.8,23.1 23.5,23.1 24.2,23.1 25.0,23.1 25.8,23.1 26.5,23.1 27.2,23.1 28.0,23.1 28.8,23.1 29.5,23.1 30.2,23.1 31.0,23.1 31.8,23.1 32.5,23.2 33.1,23.2 33.8,23.4 34.5,23.5 35.0,23.6 35.8,23.7 36.2,23.9 36.8,24.0 37.2,24.3 37.2,24.8 36.8,25.2 36.4,25.5 36.0,25.8 35.5,26.1 35.0,26.4 34.5,26.7 34.0,26.9 33.5,27.2 33.0,27.3 32.4,27.5 31.8,27.6 31.1,27.8 30.5,27.8 29.8,28.0 29.2,28.0 28.5,28.1 27.8,28.2 27.0,28.2 26.5,28.3 25.8,28.4 25.0,28.5 24.2,28.5 23.5,28.5 22.8,28.5 22.0,28.5 21.5,28.5 20.8,28.6 20.0,28.7 19.2,28.7 18.5,28.7Z" fill="none" stroke="#999" stroke-width="0.65" stroke-linejoin="round"/><path d="M26.5,34.8 25.8,34.8 25.2,34.7 24.8,34.4 24.4,34.0 24.2,33.5 24.2,32.8 24.3,32.2 24.6,31.8 25.0,31.4 25.5,31.2 26.2,31.2 26.8,31.3 27.2,31.6 27.6,32.0 27.8,32.5 27.8,33.2 27.7,33.8 27.4,34.2 27.0,34.6 26.5,34.8Z" fill="none" stroke="#999" stroke-width="0.65" stroke-linejoin="round"/><path d="M15.2,39.5 14.7,39.5 14.2,39.2 13.9,38.8 13.7,38.2 13.5,37.8 13.3,37.0 13.3,36.2 13.3,35.5 13.4,34.8 13.5,34.2 13.8,33.5 14.0,33.1 14.3,32.8 14.8,32.5 15.3,32.5 15.8,32.8 16.1,33.2 16.4,33.8 16.6,34.2 16.7,35.0 16.8,35.5 16.8,36.2 16.7,36.8 16.6,37.5 16.5,38.0 16.2,38.6 16.0,39.0 15.5,39.4Z" fill="none" stroke="#999" stroke-width="0.65" stroke-linejoin="round"/><path d="M30.2,44.1 29.5,44.0 29.2,43.6 29.2,43.0 29.2,42.4 29.5,42.0 30.2,41.8 30.6,42.2 30.8,42.8 30.8,43.3 30.5,43.9Z" fill="none" stroke="#999" stroke-width="0.65" stroke-linejoin="round"/><path d="M21.5,46.8 20.8,46.8 20.2,46.7 19.8,46.4 19.4,46.0 19.2,45.5 19.1,44.8 19.3,44.2 19.6,43.8 20.0,43.4 20.5,43.2 21.2,43.2 21.8,43.3 22.2,43.6 22.6,44.0 22.8,44.5 22.8,45.2 22.7,45.8 22.4,46.2 22.0,46.6 21.5,46.8Z" fill="none" stroke="#999" stroke-width="0.65" stroke-linejoin="round"/><path d="M38.00,22.50 C39.17,21.97 43.83,21.95 46.00,22.00 C48.17,22.05 50.83,22.33 51.00,22.80 C51.17,23.27 49.00,24.40 47.00,24.80 C45.00,25.20 40.50,25.58 39.00,25.20 C37.50,24.82 36.83,23.03 38.00,22.50Z" fill="none" stroke="#777" stroke-width="0.6" stroke-linejoin="round" stroke-linecap="round"/></g><g transform="translate(404.20,38.50)" clip-path="url(#c3)"><path d="M40.1 53.1h0.75v0.75h-0.75zM42.6 54.9h0.75v0.75h-0.75zM43.7 53.7h0.75v0.75h-0.75zM45.7 44.1h0.75v0.75h-0.75zM50.2 59.8h0.75v0.75h-0.75zM50.1 46.2h0.75v0.75h-0.75zM61.5 47.6h0.75v0.75h-0.75zM45.1 57.6h0.75v0.75h-0.75zM51.5 49.7h0.75v0.75h-0.75zM46.8 53.5h0.75v0.75h-0.75zM51.0 44.5h0.75v0.75h-0.75zM54.2 47.7h0.75v0.75h-0.75zM61.5 48.1h0.75v0.75h-0.75zM51.3 57.3h0.75v0.75h-0.75zM58.3 48.5h0.75v0.75h-0.75zM55.7 53.0h0.75v0.75h-0.75zM50.5 45.1h0.75v0.75h-0.75zM48.0 57.0h0.75v0.75h-0.75zM48.7 47.0h0.75v0.75h-0.75zM50.0 54.4h0.75v0.75h-0.75zM47.8 49.7h0.75v0.75h-0.75zM58.5 49.5h0.75v0.75h-0.75zM43.5 40.0h0.75v0.75h-0.75zM43.5 54.3h0.75v0.75h-0.75zM39.9 60.0h0.75v0.75h-0.75zM43.9 61.4h0.75v0.75h-0.75zM57.4 60.0h0.75v0.75h-0.75zM52.6 46.9h0.75v0.75h-0.75zM46.6 57.0h0.75v0.75h-0.75zM52.4 50.2h0.75v0.75h-0.75zM30.4 55.1h0.75v0.75h-0.75zM50.2 47.3h0.75v0.75h-0.75zM36.9 45.4h0.75v0.75h-0.75zM55.7 54.7h0.75v0.75h-0.75zM37.1 45.4h0.75v0.75h-0.75zM53.0 57.9h0.75v0.75h-0.75zM40.2 45.2h0.75v0.75h-0.75zM46.9 47.7h0.75v0.75h-0.75zM47.2 54.2h0.75v0.75h-0.75zM53.6 42.7h0.75v0.75h-0.75zM42.6 52.1h0.75v0.75h-0.75zM43.6 54.9h0.75v0.75h-0.75zM38.2 58.5h0.75v0.75h-0.75zM43.4 44.9h0.75v0.75h-0.75zM49.6 50.9h0.75v0.75h-0.75zM44.9 50.5h0.75v0.75h-0.75zM45.0 38.6h0.75v0.75h-0.75zM56.4 59.6h0.75v0.75h-0.75zM51.7 55.7h0.75v0.75h-0.75zM43.9 56.3h0.75v0.75h-0.75zM39.4 49.2h0.75v0.75h-0.75zM58.5 48.3h0.75v0.75h-0.75zM44.1 59.1h0.75v0.75h-0.75zM45.4 48.4h0.75v0.75h-0.75zM45.9 36.6h0.75v0.75h-0.75zM54.5 60.6h0.75v0.75h-0.75zM39.5 49.5h0.75v0.75h-0.75zM45.5 58.9h0.75v0.75h-0.75zM47.4 48.9h0.75v0.75h-0.75zM48.3 46.5h0.75v0.75h-0.75zM44.2 53.5h0.75v0.75h-0.75zM44.4 53.3h0.75v0.75h-0.75zM31.8 60.6h0.75v0.75h-0.75zM51.7 45.5h0.75v0.75h-0.75zM48.7 54.2h0.75v0.75h-0.75zM48.2 48.6h0.75v0.75h-0.75zM50.5 43.1h0.75v0.75h-0.75zM54.7 54.9h0.75v0.75h-0.75zM38.2 53.9h0.75v0.75h-0.75zM52.4 49.3h0.75v0.75h-0.75zM44.2 54.1h0.75v0.75h-0.75zM39.3 47.8h0.75v0.75h-0.75zM50.1 58.4h0.75v0.75h-0.75zM41.0 56.7h0.75v0.75h-0.75zM41.4 48.4h0.75v0.75h-0.75zM45.0 49.5h0.75v0.75h-0.75zM52.6 59.6h0.75v0.75h-0.75zM47.1 51.7h0.75v0.75h-0.75zM56.3 55.2h0.75v0.75h-0.75zM24.7 55.7h0.75v0.75h-0.75zM52.1 56.0h0.75v0.75h-0.75zM43.6 43.5h0.75v0.75h-0.75zM50.1 51.3h0.75v0.75h-0.75zM46.5 51.3h0.75v0.75h-0.75zM45.4 51.6h0.75v0.75h-0.75zM49.7 57.3h0.75v0.75h-0.75zM47.1 50.1h0.75v0.75h-0.75zM45.1 43.5h0.75v0.75h-0.75zM40.6 48.7h0.75v0.75h-0.75zM40.6 55.5h0.75v0.75h-0.75zM42.7 41.9h0.75v0.75h-0.75zM50.7 49.7h0.75v0.75h-0.75zM51.7 35.3h0.75v0.75h-0.75zM36.8 52.7h0.75v0.75h-0.75zM40.0 55.8h0.75v0.75h-0.75zM46.7 60.1h0.75v0.75h-0.75zM58.1 39.9h0.75v0.75h-0.75zM49.0 52.8h0.75v0.75h-0.75zM42.9 50.5h0.75v0.75h-0.75zM41.3 53.6h0.75v0.75h-0.75zM45.6 48.9h0.75v0.75h-0.75zM41.2 51.7h0.75v0.75h-0.75zM48.8 51.5h0.75v0.75h-0.75zM52.7 45.7h0.75v0.75h-0.75zM42.8 45.4h0.75v0.75h-0.75zM42.9 52.0h0.75v0.75h-0.75zM48.7 58.3h0.75v0.75h-0.75zM38.0 56.0h0.75v0.75h-0.75zM40.0 49.4h0.75v0.75h-0.75zM57.2 49.4h0.75v0.75h-0.75zM40.6 53.1h0.75v0.75h-0.75zM45.1 45.5h0.75v0.75h-0.75zM45.7 51.2h0.75v0.75h-0.75zM39.1 41.7h0.75v0.75h-0.75zM32.0 58.7h0.75v0.75h-0.75zM33.9 52.1h0.75v0.75h-0.75zM49.4 57.4h0.75v0.75h-0.75zM51.8 41.1h0.75v0.75h-0.75zM39.1 38.9h0.75v0.75h-0.75zM44.9 43.6h0.75v0.75h-0.75zM48.0 44.7h0.75v0.75h-0.75zM38.6 46.0h0.75v0.75h-0.75zM49.9 60.1h0.75v0.75h-0.75zM45.7 43.6h0.75v0.75h-0.75zM42.3 45.6h0.75v0.75h-0.75zM48.8 55.1h0.75v0.75h-0.75zM49.8 43.9h0.75v0.75h-0.75zM51.6 50.4h0.75v0.75h-0.75zM53.2 52.1h0.75v0.75h-0.75zM42.5 49.0h0.75v0.75h-0.75zM44.0 55.7h0.75v0.75h-0.75zM46.3 59.4h0.75v0.75h-0.75zM43.0 59.5h0.75v0.75h-0.75zM44.5 57.2h0.75v0.75h-0.75zM45.8 57.3h0.75v0.75h-0.75zM40.7 55.3h0.75v0.75h-0.75zM45.0 48.0h0.75v0.75h-0.75zM37.5 34.0h0.75v0.75h-0.75zM48.2 50.0h0.75v0.75h-0.75zM51.8 54.2h0.75v0.75h-0.75zM52.7 49.1h0.75v0.75h-0.75zM52.5 45.3h0.75v0.75h-0.75zM42.5 48.9h0.75v0.75h-0.75zM46.8 47.3h0.75v0.75h-0.75zM38.8 48.1h0.75v0.75h-0.75zM46.8 47.3h0.75v0.75h-0.75zM44.2 51.6h0.75v0.75h-0.75zM40.9 54.3h0.75v0.75h-0.75zM48.9 45.8h0.75v0.75h-0.75zM41.3 48.9h0.75v0.75h-0.75zM46.5 40.1h0.75v0.75h-0.75zM45.7 35.2h0.75v0.75h-0.75zM42.9 55.8h0.75v0.75h-0.75zM43.2 40.7h0.75v0.75h-0.75zM47.8 35.8h0.75v0.75h-0.75zM47.5 42.3h0.75v0.75h-0.75zM45.9 38.5h0.75v0.75h-0.75zM49.3 60.8h0.75v0.75h-0.75zM49.1 47.9h0.75v0.75h-0.75zM45.3 50.4h0.75v0.75h-0.75zM52.3 39.9h0.75v0.75h-0.75zM42.3 54.1h0.75v0.75h-0.75zM43.5 55.3h0.75v0.75h-0.75zM45.5 50.2h0.75v0.75h-0.75zM49.0 52.8h0.75v0.75h-0.75zM38.0 47.2h0.75v0.75h-0.75zM36.6 42.4h0.75v0.75h-0.75zM51.4 60.2h0.75v0.75h-0.75zM44.4 41.2h0.75v0.75h-0.75zM40.3 59.9h0.75v0.75h-0.75zM35.9 53.4h0.75v0.75h-0.75zM48.1 49.8h0.75v0.75h-0.75zM38.3 43.5h0.75v0.75h-0.75zM42.0 47.1h0.75v0.75h-0.75zM47.3 55.6h0.75v0.75h-0.75zM46.8 62.6h0.75v0.75h-0.75zM46.4 50.3h0.75v0.75h-0.75zM43.9 42.4h0.75v0.75h-0.75zM38.8 55.7h0.75v0.75h-0.75zM50.1 41.0h0.75v0.75h-0.75zM50.6 46.0h0.75v0.75h-0.75zM49.1 52.5h0.75v0.75h-0.75zM40.2 54.7h0.75v0.75h-0.75zM41.1 54.2h0.75v0.75h-0.75zM43.6 39.1h0.75v0.75h-0.75zM47.0 61.4h0.75v0.75h-0.75zM46.1 61.5h0.75v0.75h-0.75zM45.8 54.5h0.75v0.75h-0.75zM51.7 55.7h0.75v0.75h-0.75zM44.0 49.9h0.75v0.75h-0.75zM50.7 47.5h0.75v0.75h-0.75zM36.5 54.8h0.75v0.75h-0.75zM37.0 54.1h0.75v0.75h-0.75zM44.8 60.0h0.75v0.75h-0.75zM38.9 59.2h0.75v0.75h-0.75zM46.7 45.3h0.75v0.75h-0.75zM46.7 56.1h0.75v0.75h-0.75zM54.9 47.7h0.75v0.75h-0.75zM38.9 52.1h0.75v0.75h-0.75zM36.6 48.1h0.75v0.75h-0.75zM49.3 36.0h0.75v0.75h-0.75zM51.6 52.1h0.75v0.75h-0.75zM46.3 34.0h0.75v0.75h-0.75zM39.0 52.0h0.75v0.75h-0.75zM45.8 48.8h0.75v0.75h-0.75zM36.2 48.0h0.75v0.75h-0.75zM54.8 45.6h0.75v0.75h-0.75zM44.3 47.8h0.75v0.75h-0.75zM46.6 44.8h0.75v0.75h-0.75zM36.4 54.2h0.75v0.75h-0.75zM51.7 58.8h0.75v0.75h-0.75zM46.1 52.5h0.75v0.75h-0.75zM44.0 52.1h0.75v0.75h-0.75zM45.1 50.2h0.75v0.75h-0.75zM45.2 49.1h0.75v0.75h-0.75zM56.9 38.4h0.75v0.75h-0.75zM48.1 41.1h0.75v0.75h-0.75zM44.5 56.6h0.75v0.75h-0.75zM45.2 57.8h0.75v0.75h-0.75zM45.4 47.4h0.75v0.75h-0.75zM51.2 54.2h0.75v0.75h-0.75zM44.6 43.8h0.75v0.75h-0.75zM41.3 50.4h0.75v0.75h-0.75zM40.2 51.4h0.75v0.75h-0.75zM40.9 50.2h0.75v0.75h-0.75zM49.0 33.5h0.75v0.75h-0.75zM51.0 46.0h0.75v0.75h-0.75zM40.4 60.9h0.75v0.75h-0.75zM41.5 40.0h0.75v0.75h-0.75zM60.7 45.3h0.75v0.75h-0.75zM32.8 51.7h0.75v0.75h-0.75zM44.1 59.0h0.75v0.75h-0.75zM48.2 40.0h0.75v0.75h-0.75zM46.3 40.6h0.75v0.75h-0.75zM41.3 38.9h0.75v0.75h-0.75zM57.4 50.9h0.75v0.75h-0.75zM40.9 48.7h0.75v0.75h-0.75zM40.5 61.5h0.75v0.75h-0.75zM36.3 48.7h0.75v0.75h-0.75zM39.9 45.4h0.75v0.75h-0.75zM50.4 47.8h0.75v0.75h-0.75zM56.4 50.8h0.75v0.75h-0.75zM50.4 54.9h0.75v0.75h-0.75zM50.1 52.4h0.75v0.75h-0.75zM50.4 42.3h0.75v0.75h-0.75zM52.7 53.9h0.75v0.75h-0.75zM42.0 56.6h0.75v0.75h-0.75zM57.0 45.5h0.75v0.75h-0.75zM44.3 49.9h0.75v0.75h-0.75zM59.4 49.0h0.75v0.75h-0.75zM39.8 48.4h0.75v0.75h-0.75zM45.6 48.5h0.75v0.75h-0.75zM45.4 51.0h0.75v0.75h-0.75zM45.1 45.3h0.75v0.75h-0.75zM38.2 57.1h0.75v0.75h-0.75zM41.2 38.8h0.75v0.75h-0.75zM51.3 46.6h0.75v0.75h-0.75zM51.1 42.0h0.75v0.75h-0.75zM45.7 45.1h0.75v0.75h-0.75zM51.4 45.0h0.75v0.75h-0.75z" fill="#999"/><path d="M45.4 44.8h0.75v0.75h-0.75zM42.8 38.6h0.75v0.75h-0.75zM39.1 48.4h0.75v0.75h-0.75zM41.9 53.0h0.75v0.75h-0.75zM42.1 40.6h0.75v0.75h-0.75zM40.8 38.1h0.75v0.75h-0.75zM43.7 48.0h0.75v0.75h-0.75zM41.6 43.3h0.75v0.75h-0.75zM40.8 38.2h0.75v0.75h-0.75zM42.3 55.0h0.75v0.75h-0.75zM45.3 30.0h0.75v0.75h-0.75zM43.4 42.4h0.75v0.75h-0.75zM43.6 48.2h0.75v0.75h-0.75zM40.6 34.5h0.75v0.75h-0.75zM39.7 54.6h0.75v0.75h-0.75zM41.1 43.5h0.75v0.75h-0.75zM43.5 45.4h0.75v0.75h-0.75zM38.2 36.4h0.75v0.75h-0.75zM51.9 44.6h0.75v0.75h-0.75zM44.6 51.6h0.75v0.75h-0.75zM45.3 40.5h0.75v0.75h-0.75zM43.1 48.0h0.75v0.75h-0.75zM41.4 42.1h0.75v0.75h-0.75zM37.5 49.0h0.75v0.75h-0.75zM41.7 47.9h0.75v0.75h-0.75zM46.7 40.3h0.75v0.75h-0.75zM46.2 46.4h0.75v0.75h-0.75zM36.2 48.6h0.75v0.75h-0.75zM36.8 49.5h0.75v0.75h-0.75zM46.4 45.3h0.75v0.75h-0.75zM43.6 54.0h0.75v0.75h-0.75zM40.8 49.8h0.75v0.75h-0.75zM37.8 41.6h0.75v0.75h-0.75zM36.4 54.3h0.75v0.75h-0.75zM39.5 49.7h0.75v0.75h-0.75zM37.2 52.6h0.75v0.75h-0.75zM40.4 37.2h0.75v0.75h-0.75zM39.3 34.3h0.75v0.75h-0.75zM37.5 41.7h0.75v0.75h-0.75zM43.0 35.7h0.75v0.75h-0.75zM42.5 48.8h0.75v0.75h-0.75zM38.5 36.6h0.75v0.75h-0.75zM44.9 35.9h0.75v0.75h-0.75zM43.4 48.3h0.75v0.75h-0.75zM37.8 38.0h0.75v0.75h-0.75zM39.3 43.1h0.75v0.75h-0.75zM38.4 53.6h0.75v0.75h-0.75zM43.7 41.3h0.75v0.75h-0.75zM42.1 33.2h0.75v0.75h-0.75zM34.7 51.2h0.75v0.75h-0.75zM37.1 41.9h0.75v0.75h-0.75zM40.1 38.4h0.75v0.75h-0.75zM40.1 45.2h0.75v0.75h-0.75zM44.3 46.2h0.75v0.75h-0.75zM41.2 47.1h0.75v0.75h-0.75zM43.2 32.0h0.75v0.75h-0.75zM43.4 36.7h0.75v0.75h-0.75zM38.4 39.8h0.75v0.75h-0.75zM39.8 43.7h0.75v0.75h-0.75zM47.9 40.1h0.75v0.75h-0.75zM40.1 55.3h0.75v0.75h-0.75zM38.9 47.8h0.75v0.75h-0.75zM44.8 46.9h0.75v0.75h-0.75zM46.3 45.7h0.75v0.75h-0.75zM43.2 52.5h0.75v0.75h-0.75zM47.1 47.6h0.75v0.75h-0.75zM44.4 43.1h0.75v0.75h-0.75zM40.0 37.9h0.75v0.75h-0.75zM39.9 40.4h0.75v0.75h-0.75zM47.6 41.8h0.75v0.75h-0.75zM45.1 47.5h0.75v0.75h-0.75zM39.5 48.3h0.75v0.75h-0.75zM43.2 43.1h0.75v0.75h-0.75zM45.6 52.8h0.75v0.75h-0.75zM37.6 36.0h0.75v0.75h-0.75zM44.4 50.7h0.75v0.75h-0.75zM47.9 37.5h0.75v0.75h-0.75zM46.2 31.7h0.75v0.75h-0.75zM40.5 52.9h0.75v0.75h-0.75zM41.2 43.5h0.75v0.75h-0.75zM47.1 39.1h0.75v0.75h-0.75zM43.5 47.8h0.75v0.75h-0.75zM40.7 58.7h0.75v0.75h-0.75zM43.2 40.1h0.75v0.75h-0.75zM44.3 43.7h0.75v0.75h-0.75zM44.0 32.9h0.75v0.75h-0.75zM43.8 45.9h0.75v0.75h-0.75zM40.5 41.3h0.75v0.75h-0.75zM38.6 38.0h0.75v0.75h-0.75zM40.4 51.8h0.75v0.75h-0.75zM43.1 44.7h0.75v0.75h-0.75zM44.7 32.1h0.75v0.75h-0.75zM43.8 51.7h0.75v0.75h-0.75zM37.6 39.9h0.75v0.75h-0.75zM44.0 43.0h0.75v0.75h-0.75zM40.2 38.2h0.75v0.75h-0.75zM40.6 53.0h0.75v0.75h-0.75zM39.6 46.5h0.75v0.75h-0.75zM41.3 45.0h0.75v0.75h-0.75zM42.8 29.0h0.75v0.75h-0.75zM43.4 41.7h0.75v0.75h-0.75zM41.3 43.4h0.75v0.75h-0.75zM42.6 35.9h0.75v0.75h-0.75zM47.8 55.9h0.75v0.75h-0.75zM43.0 45.7h0.75v0.75h-0.75zM51.2 41.6h0.75v0.75h-0.75zM39.8 47.3h0.75v0.75h-0.75zM44.8 54.2h0.75v0.75h-0.75zM48.7 37.2h0.75v0.75h-0.75zM46.6 48.9h0.75v0.75h-0.75zM40.2 42.7h0.75v0.75h-0.75zM40.5 31.2h0.75v0.75h-0.75zM41.0 39.3h0.75v0.75h-0.75zM43.0 55.3h0.75v0.75h-0.75zM42.6 53.2h0.75v0.75h-0.75zM39.9 29.9h0.75v0.75h-0.75zM42.3 45.2h0.75v0.75h-0.75zM43.5 44.8h0.75v0.75h-0.75zM39.3 48.8h0.75v0.75h-0.75zM49.7 44.8h0.75v0.75h-0.75zM37.5 54.8h0.75v0.75h-0.75zM37.9 47.0h0.75v0.75h-0.75zM44.0 41.1h0.75v0.75h-0.75zM41.0 46.4h0.75v0.75h-0.75zM41.3 52.8h0.75v0.75h-0.75zM41.5 53.3h0.75v0.75h-0.75zM44.2 46.9h0.75v0.75h-0.75zM39.4 49.4h0.75v0.75h-0.75zM43.1 44.1h0.75v0.75h-0.75zM41.4 47.6h0.75v0.75h-0.75zM45.9 46.5h0.75v0.75h-0.75zM46.0 47.9h0.75v0.75h-0.75zM41.0 31.8h0.75v0.75h-0.75zM43.9 41.8h0.75v0.75h-0.75zM44.8 53.2h0.75v0.75h-0.75zM43.3 39.0h0.75v0.75h-0.75zM46.6 59.6h0.75v0.75h-0.75zM41.8 50.6h0.75v0.75h-0.75zM43.7 32.5h0.75v0.75h-0.75zM40.7 47.1h0.75v0.75h-0.75zM43.7 36.6h0.75v0.75h-0.75zM41.3 39.6h0.75v0.75h-0.75zM40.0 43.5h0.75v0.75h-0.75zM40.5 43.1h0.75v0.75h-0.75zM37.3 33.3h0.75v0.75h-0.75zM46.8 39.9h0.75v0.75h-0.75zM42.8 48.7h0.75v0.75h-0.75zM37.7 38.0h0.75v0.75h-0.75zM40.2 49.7h0.75v0.75h-0.75zM39.9 42.1h0.75v0.75h-0.75zM43.1 42.1h0.75v0.75h-0.75zM46.9 44.1h0.75v0.75h-0.75zM41.8 43.0h0.75v0.75h-0.75zM41.3 43.8h0.75v0.75h-0.75zM44.0 42.5h0.75v0.75h-0.75zM47.6 32.4h0.75v0.75h-0.75zM40.1 43.5h0.75v0.75h-0.75zM41.5 49.6h0.75v0.75h-0.75zM39.5 37.6h0.75v0.75h-0.75zM38.6 44.3h0.75v0.75h-0.75zM42.3 40.2h0.75v0.75h-0.75zM34.8 47.9h0.75v0.75h-0.75zM34.8 51.0h0.75v0.75h-0.75zM39.3 43.1h0.75v0.75h-0.75zM46.8 50.7h0.75v0.75h-0.75zM42.3 35.0h0.75v0.75h-0.75zM41.2 43.0h0.75v0.75h-0.75zM36.2 44.7h0.75v0.75h-0.75zM40.3 39.4h0.75v0.75h-0.75zM39.5 36.4h0.75v0.75h-0.75zM39.8 43.7h0.75v0.75h-0.75zM37.8 42.2h0.75v0.75h-0.75zM42.0 35.4h0.75v0.75h-0.75zM41.8 45.9h0.75v0.75h-0.75zM39.3 39.6h0.75v0.75h-0.75zM49.3 39.9h0.75v0.75h-0.75zM39.7 41.6h0.75v0.75h-0.75zM40.9 36.9h0.75v0.75h-0.75zM43.4 48.8h0.75v0.75h-0.75zM43.0 38.7h0.75v0.75h-0.75zM38.9 45.4h0.75v0.75h-0.75zM43.4 45.6h0.75v0.75h-0.75zM43.7 35.7h0.75v0.75h-0.75zM42.1 53.3h0.75v0.75h-0.75zM40.8 42.7h0.75v0.75h-0.75zM41.6 32.7h0.75v0.75h-0.75zM43.3 42.7h0.75v0.75h-0.75zM42.4 44.7h0.75v0.75h-0.75zM41.0 51.4h0.75v0.75h-0.75zM46.9 44.1h0.75v0.75h-0.75zM45.8 51.9h0.75v0.75h-0.75zM47.7 45.9h0.75v0.75h-0.75zM42.3 32.2h0.75v0.75h-0.75zM38.4 44.9h0.75v0.75h-0.75zM44.9 39.6h0.75v0.75h-0.75zM37.4 50.6h0.75v0.75h-0.75zM46.2 41.3h0.75v0.75h-0.75zM37.7 46.8h0.75v0.75h-0.75zM46.6 38.6h0.75v0.75h-0.75zM41.0 49.0h0.75v0.75h-0.75zM39.7 46.8h0.75v0.75h-0.75zM38.7 59.4h0.75v0.75h-0.75zM38.8 45.2h0.75v0.75h-0.75zM46.1 45.8h0.75v0.75h-0.75zM40.3 51.5h0.75v0.75h-0.75zM43.1 38.8h0.75v0.75h-0.75zM41.9 56.3h0.75v0.75h-0.75zM39.4 55.0h0.75v0.75h-0.75zM43.1 47.9h0.75v0.75h-0.75zM45.5 48.0h0.75v0.75h-0.75zM39.9 51.2h0.75v0.75h-0.75zM39.4 50.7h0.75v0.75h-0.75zM37.0 50.4h0.75v0.75h-0.75zM39.5 54.7h0.75v0.75h-0.75zM39.2 54.2h0.75v0.75h-0.75zM39.9 32.1h0.75v0.75h-0.75zM42.1 38.1h0.75v0.75h-0.75zM37.3 47.1h0.75v0.75h-0.75zM44.2 45.9h0.75v0.75h-0.75zM39.9 50.3h0.75v0.75h-0.75zM43.8 48.0h0.75v0.75h-0.75zM43.5 36.6h0.75v0.75h-0.75zM41.6 51.6h0.75v0.75h-0.75zM42.4 36.2h0.75v0.75h-0.75zM41.4 49.6h0.75v0.75h-0.75zM38.4 50.0h0.75v0.75h-0.75zM39.3 52.0h0.75v0.75h-0.75zM45.4 43.5h0.75v0.75h-0.75zM42.8 50.2h0.75v0.75h-0.75zM41.1 50.7h0.75v0.75h-0.75zM46.5 41.2h0.75v0.75h-0.75zM40.2 47.8h0.75v0.75h-0.75zM42.7 42.1h0.75v0.75h-0.75zM38.9 34.0h0.75v0.75h-0.75zM45.7 32.3h0.75v0.75h-0.75zM49.5 48.3h0.75v0.75h-0.75zM37.1 51.8h0.75v0.75h-0.75zM40.2 45.5h0.75v0.75h-0.75zM42.1 47.4h0.75v0.75h-0.75zM44.7 32.6h0.75v0.75h-0.75zM41.8 46.0h0.75v0.75h-0.75zM36.9 52.3h0.75v0.75h-0.75zM41.2 40.8h0.75v0.75h-0.75zM38.9 52.5h0.75v0.75h-0.75zM40.9 47.7h0.75v0.75h-0.75zM41.6 57.1h0.75v0.75h-0.75zM40.0 46.9h0.75v0.75h-0.75zM38.9 34.0h0.75v0.75h-0.75zM46.0 41.8h0.75v0.75h-0.75zM43.3 34.4h0.75v0.75h-0.75zM44.7 34.8h0.75v0.75h-0.75zM42.8 39.4h0.75v0.75h-0.75zM39.2 47.2h0.75v0.75h-0.75zM42.4 44.7h0.75v0.75h-0.75zM40.6 45.3h0.75v0.75h-0.75zM39.1 43.6h0.75v0.75h-0.75zM39.7 56.1h0.75v0.75h-0.75zM43.6 51.5h0.75v0.75h-0.75zM39.0 40.0h0.75v0.75h-0.75zM46.2 42.7h0.75v0.75h-0.75zM39.9 53.3h0.75v0.75h-0.75zM45.4 28.8h0.75v0.75h-0.75zM44.9 45.1h0.75v0.75h-0.75zM41.4 34.1h0.75v0.75h-0.75zM40.5 35.5h0.75v0.75h-0.75zM38.4 55.3h0.75v0.75h-0.75zM49.6 43.4h0.75v0.75h-0.75zM40.0 42.1h0.75v0.75h-0.75zM39.2 45.7h0.75v0.75h-0.75zM38.4 38.2h0.75v0.75h-0.75zM41.6 39.4h0.75v0.75h-0.75zM44.0 44.6h0.75v0.75h-0.75zM39.1 51.1h0.75v0.75h-0.75zM40.6 38.4h0.75v0.75h-0.75zM43.3 37.9h0.75v0.75h-0.75zM42.0 43.1h0.75v0.75h-0.75zM39.1 51.3h0.75v0.75h-0.75zM41.4 47.5h0.75v0.75h-0.75zM47.2 53.0h0.75v0.75h-0.75zM38.5 41.7h0.75v0.75h-0.75zM37.6 52.7h0.75v0.75h-0.75zM36.9 46.1h0.75v0.75h-0.75zM50.0 48.7h0.75v0.75h-0.75zM38.8 48.2h0.75v0.75h-0.75zM39.3 52.9h0.75v0.75h-0.75zM43.6 43.4h0.75v0.75h-0.75zM44.6 51.1h0.75v0.75h-0.75zM42.6 40.1h0.75v0.75h-0.75zM38.9 37.6h0.75v0.75h-0.75zM45.3 45.0h0.75v0.75h-0.75zM40.9 37.7h0.75v0.75h-0.75zM37.5 48.7h0.75v0.75h-0.75zM37.6 40.6h0.75v0.75h-0.75zM38.9 49.5h0.75v0.75h-0.75zM42.1 42.9h0.75v0.75h-0.75zM38.9 55.9h0.75v0.75h-0.75zM44.2 39.3h0.75v0.75h-0.75zM45.1 45.3h0.75v0.75h-0.75zM44.8 49.7h0.75v0.75h-0.75zM38.8 35.8h0.75v0.75h-0.75zM39.0 39.3h0.75v0.75h-0.75zM38.2 43.3h0.75v0.75h-0.75zM38.3 50.4h0.75v0.75h-0.75zM42.6 34.7h0.75v0.75h-0.75zM40.2 38.7h0.75v0.75h-0.75zM41.6 46.4h0.75v0.75h-0.75zM41.0 47.9h0.75v0.75h-0.75zM44.0 49.4h0.75v0.75h-0.75zM38.0 32.8h0.75v0.75h-0.75zM46.9 47.5h0.75v0.75h-0.75zM46.6 46.3h0.75v0.75h-0.75zM45.0 51.5h0.75v0.75h-0.75zM50.3 32.3h0.75v0.75h-0.75zM43.0 37.9h0.75v0.75h-0.75zM37.9 41.5h0.75v0.75h-0.75zM41.8 46.7h0.75v0.75h-0.75zM36.9 46.5h0.75v0.75h-0.75zM40.4 49.5h0.75v0.75h-0.75zM41.4 41.7h0.75v0.75h-0.75zM40.1 41.2h0.75v0.75h-0.75zM36.7 42.4h0.75v0.75h-0.75zM43.0 44.7h0.75v0.75h-0.75zM40.1 30.7h0.75v0.75h-0.75zM48.8 42.7h0.75v0.75h-0.75zM39.8 45.5h0.75v0.75h-0.75zM48.5 40.1h0.75v0.75h-0.75zM41.9 51.2h0.75v0.75h-0.75zM38.8 58.1h0.75v0.75h-0.75zM38.0 38.2h0.75v0.75h-0.75zM46.6 35.2h0.75v0.75h-0.75zM39.9 36.0h0.75v0.75h-0.75zM40.3 39.5h0.75v0.75h-0.75zM40.0 44.3h0.75v0.75h-0.75zM46.9 34.8h0.75v0.75h-0.75zM40.1 36.6h0.75v0.75h-0.75zM47.4 35.5h0.75v0.75h-0.75zM45.8 42.0h0.75v0.75h-0.75zM40.1 37.2h0.75v0.75h-0.75zM42.4 37.4h0.75v0.75h-0.75zM46.9 32.9h0.75v0.75h-0.75zM38.2 31.7h0.75v0.75h-0.75zM41.6 52.7h0.75v0.75h-0.75zM45.8 32.1h0.75v0.75h-0.75zM45.3 39.3h0.75v0.75h-0.75zM39.8 43.8h0.75v0.75h-0.75zM44.7 43.6h0.75v0.75h-0.75zM40.8 31.2h0.75v0.75h-0.75zM38.4 55.1h0.75v0.75h-0.75zM38.3 41.9h0.75v0.75h-0.75zM44.5 39.4h0.75v0.75h-0.75zM45.4 58.5h0.75v0.75h-0.75zM43.3 42.7h0.75v0.75h-0.75zM43.8 42.9h0.75v0.75h-0.75zM35.3 53.2h0.75v0.75h-0.75zM39.7 38.7h0.75v0.75h-0.75zM46.8 40.7h0.75v0.75h-0.75zM41.6 41.4h0.75v0.75h-0.75zM43.8 39.8h0.75v0.75h-0.75zM38.5 37.6h0.75v0.75h-0.75zM41.7 30.4h0.75v0.75h-0.75zM36.4 54.7h0.75v0.75h-0.75zM43.3 52.4h0.75v0.75h-0.75zM49.8 43.0h0.75v0.75h-0.75zM38.4 35.1h0.75v0.75h-0.75zM41.0 37.4h0.75v0.75h-0.75zM41.4 43.2h0.75v0.75h-0.75zM43.4 49.0h0.75v0.75h-0.75zM43.3 41.5h0.75v0.75h-0.75zM43.9 45.9h0.75v0.75h-0.75zM49.5 44.5h0.75v0.75h-0.75zM37.3 41.7h0.75v0.75h-0.75zM42.0 56.8h0.75v0.75h-0.75zM31.9 60.7h0.75v0.75h-0.75zM43.5 41.3h0.75v0.75h-0.75zM41.1 45.0h0.75v0.75h-0.75zM43.9 33.3h0.75v0.75h-0.75zM40.2 33.5h0.75v0.75h-0.75zM42.8 37.8h0.75v0.75h-0.75zM36.7 56.9h0.75v0.75h-0.75zM39.1 49.2h0.75v0.75h-0.75zM42.2 42.8h0.75v0.75h-0.75zM42.6 38.6h0.75v0.75h-0.75zM38.8 42.8h0.75v0.75h-0.75zM40.7 50.9h0.75v0.75h-0.75zM43.2 58.4h0.75v0.75h-0.75zM45.3 44.6h0.75v0.75h-0.75zM43.1 41.4h0.75v0.75h-0.75zM41.5 40.8h0.75v0.75h-0.75zM37.4 48.2h0.75v0.75h-0.75zM43.0 38.8h0.75v0.75h-0.75zM39.2 43.6h0.75v0.75h-0.75zM41.3 37.3h0.75v0.75h-0.75zM45.6 30.2h0.75v0.75h-0.75zM40.5 43.8h0.75v0.75h-0.75zM39.9 44.4h0.75v0.75h-0.75zM43.6 51.5h0.75v0.75h-0.75zM42.6 48.1h0.75v0.75h-0.75zM45.3 35.9h0.75v0.75h-0.75zM42.9 52.7h0.75v0.75h-0.75zM36.9 62.0h0.75v0.75h-0.75zM41.4 34.6h0.75v0.75h-0.75zM39.0 49.9h0.75v0.75h-0.75zM42.1 37.1h0.75v0.75h-0.75zM52.3 39.1h0.75v0.75h-0.75zM44.7 29.8h0.75v0.75h-0.75zM47.7 54.4h0.75v0.75h-0.75zM38.1 48.4h0.75v0.75h-0.75zM39.3 39.2h0.75v0.75h-0.75zM48.0 38.9h0.75v0.75h-0.75zM36.0 52.0h0.75v0.75h-0.75zM41.0 49.7h0.75v0.75h-0.75zM39.9 54.7h0.75v0.75h-0.75zM37.8 38.7h0.75v0.75h-0.75zM41.1 53.4h0.75v0.75h-0.75zM38.4 44.1h0.75v0.75h-0.75zM38.6 47.4h0.75v0.75h-0.75zM42.3 39.6h0.75v0.75h-0.75zM43.5 39.6h0.75v0.75h-0.75zM37.9 51.2h0.75v0.75h-0.75zM38.7 43.6h0.75v0.75h-0.75z" fill="#555"/><path d="M34.5 18.5h0.75v0.75h-0.75zM4.3 40.0h0.75v0.75h-0.75zM40.4 18.5h0.75v0.75h-0.75zM4.0 31.7h0.75v0.75h-0.75zM3.8 27.4h0.75v0.75h-0.75zM16.8 56.2h0.75v0.75h-0.75zM15.7 55.0h0.75v0.75h-0.75zM14.5 55.2h0.75v0.75h-0.75zM38.1 31.6h0.75v0.75h-0.75zM28.2 54.3h0.75v0.75h-0.75zM11.8 55.3h0.75v0.75h-0.75zM20.3 54.9h0.75v0.75h-0.75zM57.0 24.4h0.75v0.75h-0.75zM51.8 19.0h0.75v0.75h-0.75zM19.3 56.2h0.75v0.75h-0.75zM54.5 21.7h0.75v0.75h-0.75zM38.7 33.9h0.75v0.75h-0.75zM23.6 56.2h0.75v0.75h-0.75zM38.4 38.4h0.75v0.75h-0.75zM12.8 19.1h0.75v0.75h-0.75zM38.7 34.9h0.75v0.75h-0.75zM30.7 54.8h0.75v0.75h-0.75zM55.8 21.0h0.75v0.75h-0.75zM9.1 54.7h0.75v0.75h-0.75zM47.1 18.7h0.75v0.75h-0.75zM55.0 20.2h0.75v0.75h-0.75zM36.8 18.3h0.75v0.75h-0.75zM37.0 45.0h0.75v0.75h-0.75zM40.9 18.1h0.75v0.75h-0.75zM13.1 55.9h0.75v0.75h-0.75zM34.1 18.6h0.75v0.75h-0.75zM37.3 18.1h0.75v0.75h-0.75zM55.9 22.6h0.75v0.75h-0.75zM52.0 29.1h0.75v0.75h-0.75zM38.5 39.1h0.75v0.75h-0.75zM5.4 42.8h0.75v0.75h-0.75zM43.5 18.7h0.75v0.75h-0.75zM5.2 39.0h0.75v0.75h-0.75zM29.0 55.7h0.75v0.75h-0.75zM33.2 19.1h0.75v0.75h-0.75zM23.0 18.6h0.75v0.75h-0.75zM39.0 31.3h0.75v0.75h-0.75zM40.9 30.3h0.75v0.75h-0.75zM5.2 34.6h0.75v0.75h-0.75zM24.2 55.5h0.75v0.75h-0.75zM19.1 54.8h0.75v0.75h-0.75zM36.8 18.3h0.75v0.75h-0.75zM6.2 22.9h0.75v0.75h-0.75zM40.3 30.3h0.75v0.75h-0.75zM38.7 31.5h0.75v0.75h-0.75zM5.5 45.3h0.75v0.75h-0.75zM43.3 28.9h0.75v0.75h-0.75zM24.2 54.8h0.75v0.75h-0.75zM54.2 20.2h0.75v0.75h-0.75zM4.8 37.3h0.75v0.75h-0.75zM15.5 55.4h0.75v0.75h-0.75zM32.8 53.6h0.75v0.75h-0.75zM22.6 55.9h0.75v0.75h-0.75zM45.9 19.4h0.75v0.75h-0.75zM16.4 18.4h0.75v0.75h-0.75zM23.9 55.0h0.75v0.75h-0.75zM56.6 25.6h0.75v0.75h-0.75zM4.5 37.1h0.75v0.75h-0.75zM5.6 50.5h0.75v0.75h-0.75zM37.7 38.1h0.75v0.75h-0.75zM34.7 51.4h0.75v0.75h-0.75zM6.2 21.8h0.75v0.75h-0.75zM49.2 28.8h0.75v0.75h-0.75zM4.6 25.6h0.75v0.75h-0.75zM46.7 29.2h0.75v0.75h-0.75zM23.5 55.9h0.75v0.75h-0.75zM51.4 28.6h0.75v0.75h-0.75zM10.6 18.8h0.75v0.75h-0.75zM6.2 52.3h0.75v0.75h-0.75zM6.2 49.0h0.75v0.75h-0.75zM29.1 18.8h0.75v0.75h-0.75zM28.5 19.6h0.75v0.75h-0.75zM4.0 39.5h0.75v0.75h-0.75zM5.4 49.4h0.75v0.75h-0.75zM46.7 18.1h0.75v0.75h-0.75zM35.8 46.4h0.75v0.75h-0.75zM13.1 18.7h0.75v0.75h-0.75zM5.5 48.9h0.75v0.75h-0.75zM5.6 50.2h0.75v0.75h-0.75zM35.4 49.7h0.75v0.75h-0.75zM37.6 43.0h0.75v0.75h-0.75zM14.5 18.7h0.75v0.75h-0.75zM21.0 19.1h0.75v0.75h-0.75zM6.1 47.3h0.75v0.75h-0.75zM38.1 36.3h0.75v0.75h-0.75zM34.2 52.1h0.75v0.75h-0.75zM19.3 19.0h0.75v0.75h-0.75zM5.1 36.6h0.75v0.75h-0.75zM28.7 18.7h0.75v0.75h-0.75zM26.7 55.6h0.75v0.75h-0.75zM4.3 31.2h0.75v0.75h-0.75zM5.4 36.8h0.75v0.75h-0.75zM26.3 55.4h0.75v0.75h-0.75zM16.7 18.7h0.75v0.75h-0.75zM5.4 22.3h0.75v0.75h-0.75zM16.5 55.2h0.75v0.75h-0.75zM17.9 19.3h0.75v0.75h-0.75zM6.4 49.9h0.75v0.75h-0.75zM4.8 41.8h0.75v0.75h-0.75zM4.3 46.2h0.75v0.75h-0.75zM33.2 51.3h0.75v0.75h-0.75zM15.7 19.6h0.75v0.75h-0.75zM5.6 48.8h0.75v0.75h-0.75zM9.2 55.1h0.75v0.75h-0.75zM55.7 21.5h0.75v0.75h-0.75zM30.4 53.5h0.75v0.75h-0.75zM5.4 30.6h0.75v0.75h-0.75zM44.2 28.6h0.75v0.75h-0.75zM38.3 36.3h0.75v0.75h-0.75zM10.8 18.7h0.75v0.75h-0.75zM39.5 29.9h0.75v0.75h-0.75zM30.4 55.1h0.75v0.75h-0.75zM49.7 28.7h0.75v0.75h-0.75zM30.1 53.9h0.75v0.75h-0.75zM4.9 33.1h0.75v0.75h-0.75zM50.8 19.1h0.75v0.75h-0.75zM29.5 18.1h0.75v0.75h-0.75zM6.0 42.2h0.75v0.75h-0.75zM15.0 55.3h0.75v0.75h-0.75zM39.5 30.4h0.75v0.75h-0.75zM22.9 18.6h0.75v0.75h-0.75zM52.6 20.0h0.75v0.75h-0.75zM47.0 18.1h0.75v0.75h-0.75zM4.5 39.8h0.75v0.75h-0.75zM48.5 18.8h0.75v0.75h-0.75zM55.7 21.0h0.75v0.75h-0.75zM5.3 24.6h0.75v0.75h-0.75zM11.1 55.5h0.75v0.75h-0.75zM56.1 27.2h0.75v0.75h-0.75zM8.6 54.4h0.75v0.75h-0.75zM7.3 22.2h0.75v0.75h-0.75zM35.5 47.7h0.75v0.75h-0.75zM38.1 31.6h0.75v0.75h-0.75zM29.8 18.0h0.75v0.75h-0.75zM6.1 23.7h0.75v0.75h-0.75zM21.0 18.1h0.75v0.75h-0.75zM23.3 18.8h0.75v0.75h-0.75zM38.0 42.5h0.75v0.75h-0.75zM37.1 19.2h0.75v0.75h-0.75zM38.0 34.3h0.75v0.75h-0.75zM38.6 40.2h0.75v0.75h-0.75zM4.3 31.1h0.75v0.75h-0.75zM10.2 55.2h0.75v0.75h-0.75zM5.4 26.2h0.75v0.75h-0.75zM7.1 22.3h0.75v0.75h-0.75zM36.6 46.4h0.75v0.75h-0.75zM36.7 45.1h0.75v0.75h-0.75zM30.5 19.0h0.75v0.75h-0.75zM36.0 48.1h0.75v0.75h-0.75zM5.9 23.6h0.75v0.75h-0.75zM48.5 29.6h0.75v0.75h-0.75zM7.3 51.9h0.75v0.75h-0.75zM25.5 55.1h0.75v0.75h-0.75zM23.7 55.3h0.75v0.75h-0.75zM4.2 39.6h0.75v0.75h-0.75zM5.5 33.2h0.75v0.75h-0.75zM48.3 29.9h0.75v0.75h-0.75zM49.7 29.1h0.75v0.75h-0.75zM25.4 19.3h0.75v0.75h-0.75zM5.7 22.1h0.75v0.75h-0.75zM4.4 42.5h0.75v0.75h-0.75zM45.3 18.5h0.75v0.75h-0.75zM51.5 20.0h0.75v0.75h-0.75zM46.1 18.6h0.75v0.75h-0.75zM7.5 21.6h0.75v0.75h-0.75zM9.0 53.7h0.75v0.75h-0.75zM22.4 18.0h0.75v0.75h-0.75zM38.6 34.7h0.75v0.75h-0.75zM19.2 19.1h0.75v0.75h-0.75zM23.5 56.0h0.75v0.75h-0.75zM32.3 19.4h0.75v0.75h-0.75zM43.4 29.2h0.75v0.75h-0.75zM37.4 45.1h0.75v0.75h-0.75zM5.6 48.1h0.75v0.75h-0.75zM38.1 30.9h0.75v0.75h-0.75zM4.4 43.7h0.75v0.75h-0.75zM52.1 19.3h0.75v0.75h-0.75zM51.7 29.2h0.75v0.75h-0.75zM34.5 19.6h0.75v0.75h-0.75zM8.7 53.9h0.75v0.75h-0.75zM31.8 18.5h0.75v0.75h-0.75zM35.6 50.4h0.75v0.75h-0.75zM53.1 29.0h0.75v0.75h-0.75zM15.5 55.3h0.75v0.75h-0.75zM37.6 44.1h0.75v0.75h-0.75zM14.6 19.6h0.75v0.75h-0.75zM7.2 52.5h0.75v0.75h-0.75zM45.1 18.4h0.75v0.75h-0.75zM4.9 25.7h0.75v0.75h-0.75zM54.2 27.6h0.75v0.75h-0.75zM38.4 39.7h0.75v0.75h-0.75zM8.0 21.1h0.75v0.75h-0.75zM28.8 54.1h0.75v0.75h-0.75zM55.6 20.8h0.75v0.75h-0.75zM11.8 55.7h0.75v0.75h-0.75zM25.9 54.8h0.75v0.75h-0.75zM6.2 50.9h0.75v0.75h-0.75zM55.6 24.6h0.75v0.75h-0.75zM56.0 22.1h0.75v0.75h-0.75zM5.1 26.0h0.75v0.75h-0.75zM55.6 27.0h0.75v0.75h-0.75zM43.2 19.1h0.75v0.75h-0.75zM38.0 34.0h0.75v0.75h-0.75zM29.1 18.7h0.75v0.75h-0.75zM5.4 50.7h0.75v0.75h-0.75zM33.0 18.3h0.75v0.75h-0.75zM4.2 38.2h0.75v0.75h-0.75zM44.3 18.5h0.75v0.75h-0.75zM4.7 46.2h0.75v0.75h-0.75zM27.7 19.1h0.75v0.75h-0.75zM23.5 56.5h0.75v0.75h-0.75zM25.9 56.0h0.75v0.75h-0.75zM5.2 26.1h0.75v0.75h-0.75zM25.8 56.1h0.75v0.75h-0.75zM8.4 20.7h0.75v0.75h-0.75zM23.8 18.8h0.75v0.75h-0.75zM49.1 18.5h0.75v0.75h-0.75zM6.5 52.2h0.75v0.75h-0.75zM5.7 38.5h0.75v0.75h-0.75zM11.7 54.5h0.75v0.75h-0.75zM7.2 21.8h0.75v0.75h-0.75zM12.3 19.0h0.75v0.75h-0.75zM39.8 18.9h0.75v0.75h-0.75zM36.9 47.8h0.75v0.75h-0.75zM35.5 47.6h0.75v0.75h-0.75zM8.2 53.8h0.75v0.75h-0.75zM16.0 55.6h0.75v0.75h-0.75zM22.3 56.4h0.75v0.75h-0.75zM43.4 19.6h0.75v0.75h-0.75zM39.1 32.7h0.75v0.75h-0.75zM5.9 41.1h0.75v0.75h-0.75zM37.6 45.1h0.75v0.75h-0.75zM30.0 18.6h0.75v0.75h-0.75zM38.7 31.7h0.75v0.75h-0.75zM5.1 31.4h0.75v0.75h-0.75zM51.6 19.9h0.75v0.75h-0.75zM25.7 55.2h0.75v0.75h-0.75zM5.3 46.0h0.75v0.75h-0.75zM54.4 27.6h0.75v0.75h-0.75zM48.3 19.6h0.75v0.75h-0.75zM4.5 39.4h0.75v0.75h-0.75zM12.7 19.7h0.75v0.75h-0.75zM49.6 19.2h0.75v0.75h-0.75zM37.1 18.8h0.75v0.75h-0.75zM5.1 42.3h0.75v0.75h-0.75zM5.5 35.3h0.75v0.75h-0.75zM33.3 52.1h0.75v0.75h-0.75zM13.3 56.1h0.75v0.75h-0.75zM19.7 55.7h0.75v0.75h-0.75zM10.9 54.7h0.75v0.75h-0.75zM37.9 33.4h0.75v0.75h-0.75zM4.4 37.0h0.75v0.75h-0.75zM4.5 24.1h0.75v0.75h-0.75zM4.8 37.3h0.75v0.75h-0.75zM49.1 29.8h0.75v0.75h-0.75zM9.6 53.6h0.75v0.75h-0.75zM47.9 19.2h0.75v0.75h-0.75zM10.3 55.0h0.75v0.75h-0.75zM52.4 27.7h0.75v0.75h-0.75zM7.7 54.2h0.75v0.75h-0.75zM4.9 46.8h0.75v0.75h-0.75zM14.3 19.0h0.75v0.75h-0.75zM30.2 19.7h0.75v0.75h-0.75zM4.3 39.5h0.75v0.75h-0.75zM52.5 29.1h0.75v0.75h-0.75zM13.8 19.6h0.75v0.75h-0.75zM47.5 30.0h0.75v0.75h-0.75zM34.3 49.6h0.75v0.75h-0.75zM42.1 29.9h0.75v0.75h-0.75zM14.1 18.9h0.75v0.75h-0.75zM16.0 55.9h0.75v0.75h-0.75zM32.0 19.4h0.75v0.75h-0.75zM20.7 18.1h0.75v0.75h-0.75zM30.7 19.6h0.75v0.75h-0.75zM12.3 55.1h0.75v0.75h-0.75zM47.2 18.4h0.75v0.75h-0.75zM37.7 33.8h0.75v0.75h-0.75zM52.8 20.3h0.75v0.75h-0.75zM29.6 53.8h0.75v0.75h-0.75zM4.2 37.2h0.75v0.75h-0.75zM42.7 19.2h0.75v0.75h-0.75zM3.9 32.7h0.75v0.75h-0.75zM5.1 28.1h0.75v0.75h-0.75zM48.5 18.3h0.75v0.75h-0.75zM8.0 52.0h0.75v0.75h-0.75zM22.0 18.4h0.75v0.75h-0.75zM4.2 32.6h0.75v0.75h-0.75zM4.6 43.2h0.75v0.75h-0.75zM38.7 19.6h0.75v0.75h-0.75zM25.7 19.7h0.75v0.75h-0.75zM52.2 18.8h0.75v0.75h-0.75zM36.9 19.1h0.75v0.75h-0.75zM7.2 22.6h0.75v0.75h-0.75zM56.7 22.3h0.75v0.75h-0.75zM45.9 30.2h0.75v0.75h-0.75zM32.4 54.2h0.75v0.75h-0.75zM24.9 19.3h0.75v0.75h-0.75zM6.5 51.0h0.75v0.75h-0.75zM41.9 19.1h0.75v0.75h-0.75zM27.6 54.9h0.75v0.75h-0.75zM5.0 47.7h0.75v0.75h-0.75zM45.6 29.4h0.75v0.75h-0.75zM5.4 50.7h0.75v0.75h-0.75zM47.6 19.4h0.75v0.75h-0.75zM4.5 36.8h0.75v0.75h-0.75zM6.0 46.5h0.75v0.75h-0.75zM12.9 19.9h0.75v0.75h-0.75zM48.4 28.8h0.75v0.75h-0.75zM19.2 19.2h0.75v0.75h-0.75zM43.5 18.4h0.75v0.75h-0.75zM37.4 46.3h0.75v0.75h-0.75zM48.2 19.0h0.75v0.75h-0.75zM7.0 50.8h0.75v0.75h-0.75zM27.4 19.6h0.75v0.75h-0.75zM7.0 21.3h0.75v0.75h-0.75zM34.2 50.0h0.75v0.75h-0.75zM25.6 18.9h0.75v0.75h-0.75zM37.6 41.8h0.75v0.75h-0.75zM11.8 19.4h0.75v0.75h-0.75zM9.8 53.5h0.75v0.75h-0.75zM41.8 19.6h0.75v0.75h-0.75zM8.2 21.6h0.75v0.75h-0.75zM56.9 23.2h0.75v0.75h-0.75zM24.7 56.5h0.75v0.75h-0.75zM24.6 18.3h0.75v0.75h-0.75zM33.6 50.8h0.75v0.75h-0.75zM48.9 18.1h0.75v0.75h-0.75zM38.3 38.4h0.75v0.75h-0.75zM38.6 32.5h0.75v0.75h-0.75zM56.5 22.2h0.75v0.75h-0.75zM41.4 19.1h0.75v0.75h-0.75zM54.5 28.6h0.75v0.75h-0.75zM43.9 18.4h0.75v0.75h-0.75zM42.1 18.3h0.75v0.75h-0.75zM4.6 36.8h0.75v0.75h-0.75zM11.3 19.4h0.75v0.75h-0.75zM53.9 19.9h0.75v0.75h-0.75zM29.3 18.8h0.75v0.75h-0.75zM38.0 40.6h0.75v0.75h-0.75zM20.0 18.3h0.75v0.75h-0.75zM23.2 18.8h0.75v0.75h-0.75zM11.3 18.8h0.75v0.75h-0.75zM6.0 51.0h0.75v0.75h-0.75zM56.2 26.5h0.75v0.75h-0.75zM13.1 56.2h0.75v0.75h-0.75zM25.5 18.3h0.75v0.75h-0.75zM37.2 41.9h0.75v0.75h-0.75zM31.8 18.3h0.75v0.75h-0.75zM36.2 48.8h0.75v0.75h-0.75zM14.2 55.9h0.75v0.75h-0.75zM56.3 26.7h0.75v0.75h-0.75zM43.6 29.6h0.75v0.75h-0.75zM46.5 29.5h0.75v0.75h-0.75zM30.8 53.6h0.75v0.75h-0.75zM29.8 18.5h0.75v0.75h-0.75zM38.3 38.1h0.75v0.75h-0.75zM46.6 28.9h0.75v0.75h-0.75zM5.7 21.8h0.75v0.75h-0.75zM36.8 41.5h0.75v0.75h-0.75zM10.5 19.7h0.75v0.75h-0.75zM44.0 29.8h0.75v0.75h-0.75zM50.2 28.8h0.75v0.75h-0.75zM49.0 19.5h0.75v0.75h-0.75zM37.2 36.8h0.75v0.75h-0.75zM26.8 54.7h0.75v0.75h-0.75zM33.4 18.1h0.75v0.75h-0.75zM47.6 18.9h0.75v0.75h-0.75zM4.9 24.3h0.75v0.75h-0.75zM31.7 54.6h0.75v0.75h-0.75zM8.3 19.3h0.75v0.75h-0.75zM19.8 55.7h0.75v0.75h-0.75zM38.8 18.6h0.75v0.75h-0.75zM10.3 19.1h0.75v0.75h-0.75zM47.4 28.8h0.75v0.75h-0.75zM5.7 47.9h0.75v0.75h-0.75zM38.8 31.1h0.75v0.75h-0.75zM33.3 52.6h0.75v0.75h-0.75zM55.9 23.9h0.75v0.75h-0.75zM50.9 19.7h0.75v0.75h-0.75zM23.3 54.9h0.75v0.75h-0.75zM44.8 30.2h0.75v0.75h-0.75zM5.5 38.2h0.75v0.75h-0.75zM26.9 19.4h0.75v0.75h-0.75zM6.1 51.0h0.75v0.75h-0.75zM35.1 49.5h0.75v0.75h-0.75zM55.1 27.2h0.75v0.75h-0.75zM25.1 18.2h0.75v0.75h-0.75zM20.0 55.8h0.75v0.75h-0.75zM41.4 18.6h0.75v0.75h-0.75zM56.2 27.1h0.75v0.75h-0.75zM54.4 20.2h0.75v0.75h-0.75zM4.8 34.4h0.75v0.75h-0.75zM44.7 29.8h0.75v0.75h-0.75zM36.7 43.5h0.75v0.75h-0.75zM4.3 34.7h0.75v0.75h-0.75zM45.1 28.6h0.75v0.75h-0.75zM37.3 35.1h0.75v0.75h-0.75zM4.7 39.1h0.75v0.75h-0.75zM6.3 22.6h0.75v0.75h-0.75zM9.5 55.3h0.75v0.75h-0.75zM4.3 35.1h0.75v0.75h-0.75zM37.3 36.4h0.75v0.75h-0.75zM4.4 35.8h0.75v0.75h-0.75zM4.8 33.6h0.75v0.75h-0.75zM7.7 53.1h0.75v0.75h-0.75zM55.5 27.5h0.75v0.75h-0.75zM42.6 18.3h0.75v0.75h-0.75zM7.7 53.4h0.75v0.75h-0.75zM30.4 19.0h0.75v0.75h-0.75zM39.4 19.1h0.75v0.75h-0.75zM41.9 29.6h0.75v0.75h-0.75zM53.7 28.9h0.75v0.75h-0.75zM8.7 53.4h0.75v0.75h-0.75zM8.8 19.5h0.75v0.75h-0.75zM55.7 26.7h0.75v0.75h-0.75z" fill="#444"/><path d="M25.2,54.3 24.5,54.4 23.8,54.4 23.0,54.4 22.2,54.4 21.5,54.4 20.8,54.4 20.0,54.4 19.2,54.4 18.5,54.4 17.8,54.4 17.0,54.4 16.2,54.4 15.5,54.4 14.8,54.3 14.2,54.2 13.5,54.1 12.8,54.1 12.2,54.0 11.5,53.8 11.0,53.6 10.5,53.4 10.0,53.2 9.5,52.9 9.0,52.5 8.7,52.2 8.3,51.8 8.0,51.4 7.7,51.0 7.5,50.5 7.2,50.0 7.0,49.4 6.8,48.8 6.7,48.2 6.5,47.5 6.4,47.0 6.4,46.2 6.3,45.5 6.2,45.0 6.1,44.2 6.1,43.5 6.1,42.8 6.1,42.0 6.1,41.2 6.1,40.5 6.0,40.0 5.9,39.2 5.9,38.5 5.9,37.8 5.9,37.0 5.8,36.2 5.7,35.8 5.6,35.0 5.6,34.2 5.6,33.5 5.6,32.8 5.6,32.0 5.6,31.2 5.6,30.5 5.6,29.8 5.5,29.2 5.4,28.5 5.5,27.8 5.6,27.2 5.7,26.5 5.8,26.0 6.0,25.2 6.1,24.8 6.4,24.2 6.6,23.8 7.0,23.2 7.2,22.9 7.6,22.5 8.0,22.0 8.3,21.8 8.8,21.4 9.2,21.0 9.7,20.8 10.2,20.6 10.8,20.4 11.5,20.3 12.0,20.2 12.8,20.1 13.5,20.1 14.2,20.0 14.8,19.9 15.5,19.9 16.2,19.9 17.0,19.9 17.8,19.9 18.5,19.9 19.2,19.9 20.0,19.9 20.8,19.9 21.5,19.9 22.2,19.9 23.0,19.9 23.8,19.9 24.5,19.9 25.2,19.9 26.0,19.9 26.8,19.9 27.5,19.9 28.2,19.9 29.0,19.9 29.8,19.9 30.5,19.9 31.2,19.9 32.0,19.9 32.8,19.9 33.5,19.9 34.2,19.9 35.0,19.9 35.8,19.9 36.5,19.9 37.2,19.9 38.0,19.9 38.8,19.9 39.5,19.9 40.2,19.9 41.0,19.9 41.8,19.9 42.5,19.9 43.2,19.9 44.0,19.9 44.8,19.9 45.5,19.9 46.2,19.9 47.0,19.9 47.8,19.9 48.2,20.0 49.0,20.1 49.8,20.2 50.3,20.2 51.0,20.4 51.5,20.5 52.2,20.7 52.8,20.9 53.2,21.2 53.6,21.5 54.0,21.9 54.3,22.2 54.6,22.8 54.8,23.2 54.9,24.0 54.8,24.8 54.6,25.2 54.3,25.8 54.0,26.1 53.5,26.5 53.0,26.7 52.5,26.9 52.0,27.1 51.2,27.2 50.8,27.3 50.0,27.5 49.5,27.6 48.8,27.7 48.2,27.8 47.5,27.9 46.8,27.9 46.1,28.0 45.5,28.1 44.8,28.1 44.0,28.1 43.2,28.2 42.6,28.2 42.0,28.3 41.2,28.4 40.7,28.5 40.0,28.7 39.5,28.8 39.0,29.1 38.5,29.4 38.0,29.7 37.8,30.1 37.5,30.5 37.2,31.2 37.1,31.8 37.0,32.2 36.9,33.0 36.8,33.8 36.7,34.2 36.6,35.0 36.6,35.8 36.6,36.5 36.6,37.2 36.6,38.0 36.6,38.8 36.6,39.5 36.5,40.1 36.4,40.8 36.3,41.5 36.2,42.0 36.1,42.8 36.0,43.2 35.8,44.0 35.7,44.5 35.5,45.1 35.3,45.8 35.1,46.2 34.9,46.8 34.7,47.2 34.4,47.8 34.2,48.2 33.9,48.8 33.7,49.2 33.4,49.8 33.0,50.2 32.8,50.6 32.4,51.0 32.0,51.5 31.8,51.8 31.2,52.2 30.9,52.5 30.5,52.8 30.0,53.0 29.5,53.3 29.0,53.5 28.3,53.8 27.8,53.9 27.2,54.0 26.5,54.1 25.8,54.2 25.2,54.3Z" fill="none" stroke="#222" stroke-width="1.0" stroke-linejoin="round"/><path d="M25.8,52.3 25.0,52.4 24.2,52.5 23.5,52.5 22.8,52.5 22.0,52.5 21.2,52.5 20.5,52.5 19.8,52.5 19.0,52.5 18.2,52.5 17.5,52.5 16.8,52.5 16.0,52.5 15.2,52.4 14.5,52.3 14.0,52.2 13.2,52.2 12.5,52.0 12.0,51.9 11.5,51.7 11.0,51.5 10.5,51.2 10.0,50.8 9.8,50.4 9.4,50.0 9.2,49.5 8.9,49.0 8.8,48.4 8.6,47.8 8.5,47.2 8.3,46.5 8.2,45.9 8.2,45.2 8.1,44.5 8.0,43.8 8.0,43.0 8.0,42.2 8.0,41.7 8.0,41.0 8.0,40.2 7.9,39.5 7.8,38.8 7.8,38.0 7.8,37.4 7.7,36.8 7.7,36.0 7.6,35.2 7.5,34.5 7.5,33.8 7.5,33.0 7.5,32.2 7.5,31.5 7.5,30.9 7.5,30.2 7.5,29.5 7.4,28.8 7.4,28.0 7.5,27.3 7.6,26.8 7.8,26.1 8.0,25.5 8.2,25.0 8.5,24.5 8.8,24.1 9.1,23.8 9.5,23.3 9.9,23.0 10.2,22.7 10.8,22.5 11.5,22.3 12.0,22.2 12.8,22.0 13.5,22.0 14.0,22.0 14.8,21.9 15.5,21.8 16.2,21.8 17.0,21.8 17.8,21.8 18.5,21.8 19.2,21.8 20.0,21.8 20.8,21.8 21.5,21.8 22.2,21.8 23.0,21.8 23.8,21.8 24.5,21.8 25.2,21.8 26.0,21.8 26.8,21.8 27.5,21.8 28.2,21.8 29.0,21.8 29.8,21.8 30.5,21.8 31.2,21.8 32.0,21.8 32.8,21.8 33.5,21.8 34.2,21.8 35.0,21.8 35.8,21.8 36.5,21.8 37.2,21.8 38.0,21.8 38.8,21.8 39.5,21.8 40.2,21.8 41.0,21.8 41.8,21.8 42.5,21.8 43.2,21.8 44.0,21.8 44.8,21.8 45.5,21.8 46.2,21.8 47.0,21.8 47.8,21.9 48.5,22.0 49.0,22.0 49.8,22.1 50.5,22.2 51.0,22.4 51.5,22.5 52.0,22.8 52.5,23.2 52.8,23.7 52.8,24.2 52.5,24.6 52.0,25.0 51.5,25.2 51.0,25.3 50.2,25.4 49.8,25.5 49.0,25.7 48.5,25.8 47.8,25.9 47.0,26.0 46.5,26.0 45.8,26.1 45.0,26.2 44.2,26.2 43.8,26.3 43.0,26.3 42.2,26.4 41.5,26.5 41.0,26.5 40.2,26.6 39.6,26.8 39.0,27.0 38.5,27.2 38.0,27.4 37.5,27.7 37.0,28.0 36.7,28.2 36.3,28.8 36.0,29.1 35.8,29.6 35.5,30.2 35.4,30.8 35.2,31.2 35.1,32.0 35.0,32.5 34.9,33.2 34.8,34.0 34.8,34.8 34.8,35.4 34.7,36.0 34.7,36.8 34.7,37.5 34.7,38.2 34.7,39.0 34.6,39.8 34.5,40.4 34.4,41.0 34.3,41.8 34.2,42.2 34.0,43.0 33.9,43.5 33.8,44.1 33.6,44.8 33.4,45.2 33.2,45.8 33.0,46.3 32.8,46.8 32.5,47.3 32.2,47.8 32.0,48.2 31.7,48.8 31.3,49.2 31.0,49.7 30.7,50.0 30.2,50.5 29.9,50.8 29.5,51.1 29.0,51.4 28.5,51.6 28.0,51.8 27.3,52.0 26.8,52.1 26.0,52.2Z" fill="none" stroke="#999" stroke-width="0.6" stroke-linejoin="round"/><path d="M21.8,53.5 21.0,53.5 20.2,53.5 19.5,53.5 18.8,53.5 18.0,53.5 17.5,53.5 16.8,53.5 16.0,53.5 15.2,53.5 14.5,53.4 13.8,53.4 13.0,53.3 12.5,53.2 11.8,53.1 11.2,53.0 10.5,52.8 10.0,52.5 9.5,52.2 9.2,52.0 8.8,51.6 8.4,51.2 8.1,50.8 7.9,50.2 7.7,49.8 7.5,49.1 7.4,48.5 7.2,47.8 7.2,47.2 7.1,46.5 7.1,45.8 7.0,45.0 7.0,44.2 7.0,43.5 7.0,43.0 7.0,42.2 7.0,41.5 7.0,40.8 6.9,40.0 6.9,39.2 6.9,38.5 6.8,37.8 6.8,37.0 6.7,36.5 6.7,35.8 6.6,35.0 6.6,34.2 6.5,33.5 6.5,33.0 6.4,32.2 6.4,31.5 6.3,30.8 6.3,30.0 6.3,29.2 6.3,28.5 6.4,27.8 6.4,27.0 6.3,26.2 6.3,25.5 6.3,24.8 6.4,24.0 6.6,23.5 6.9,23.0 7.2,22.7 7.8,22.3 8.2,22.1 8.8,21.9 9.5,21.8 10.0,21.7 10.8,21.6 11.5,21.5 12.1,21.5 12.8,21.5 13.5,21.4 14.2,21.4 15.0,21.4 15.8,21.5 16.5,21.5 17.2,21.5 17.8,21.5 18.5,21.5 19.2,21.5 20.0,21.5 20.8,21.6 21.5,21.6 22.2,21.6 23.0,21.6 23.8,21.6 24.5,21.6 25.2,21.6 26.0,21.6 26.8,21.6 27.5,21.6 28.2,21.6 29.0,21.5 29.5,21.5 30.2,21.4 31.0,21.4 31.8,21.4 32.5,21.4 33.2,21.4 34.0,21.4 34.8,21.4 35.5,21.4 36.2,21.4 37.0,21.4 37.8,21.4 38.5,21.4 39.2,21.4 40.0,21.4 40.8,21.4 41.5,21.4 42.2,21.4 43.0,21.4 43.8,21.4 44.5,21.4 45.2,21.4 46.0,21.4 46.8,21.4 47.5,21.4 48.2,21.4 49.0,21.5 49.5,21.6 50.2,21.7 50.8,21.8 51.3,22.0 51.9,22.2 52.3,22.5 52.8,22.9 53.1,23.2 53.3,23.8 53.3,24.5 53.2,25.0 52.9,25.5 52.5,25.9 52.0,26.2 51.5,26.5 51.0,26.7 50.5,26.8 49.9,27.0 49.2,27.1 48.7,27.2 48.0,27.4 47.2,27.5 46.8,27.6 46.0,27.6 45.2,27.7 44.8,27.8 44.0,27.9 43.2,27.9 42.7,28.0 42.0,28.1 41.2,28.1 40.5,28.2 40.0,28.3 39.2,28.4 38.5,28.5 38.0,28.5 37.3,28.8 36.8,29.0 36.4,29.2 36.0,29.8 35.9,30.2 35.9,31.0 35.9,31.8 35.9,32.5 35.9,33.2 35.8,34.0 35.8,34.8 35.7,35.2 35.6,36.0 35.5,36.8 35.5,37.2 35.4,38.0 35.3,38.8 35.2,39.2 35.2,40.0 35.1,40.8 35.1,41.5 35.0,42.2 35.0,42.8 34.9,43.5 34.9,44.2 34.8,45.0 34.7,45.5 34.6,46.2 34.4,46.8 34.2,47.4 34.0,48.0 33.8,48.5 33.6,49.0 33.3,49.5 33.0,49.9 32.8,50.3 32.3,50.8 32.0,51.1 31.5,51.5 31.1,51.8 30.7,52.0 30.2,52.3 29.7,52.5 29.0,52.8 28.5,52.9 28.0,53.0 27.2,53.2 26.6,53.2 26.0,53.3 25.2,53.4 24.5,53.4 23.8,53.5 23.0,53.5 22.2,53.5 21.8,53.5Z" fill="none" stroke="#777" stroke-width="0.75" stroke-linejoin="round"/><path d="M26.0,51.5 25.2,51.6 24.5,51.6 23.8,51.7 23.0,51.7 22.2,51.7 21.5,51.7 20.8,51.7 20.0,51.7 19.2,51.7 18.5,51.7 17.8,51.7 17.0,51.7 16.2,51.7 15.5,51.7 14.8,51.6 14.0,51.6 13.2,51.5 12.8,51.4 12.0,51.3 11.5,51.1 11.0,50.9 10.5,50.6 10.1,50.2 9.8,49.8 9.5,49.3 9.3,48.8 9.2,48.2 9.0,47.5 9.0,47.0 8.9,46.2 8.8,45.5 8.8,44.8 8.8,44.0 8.8,43.2 8.8,42.5 8.8,41.8 8.7,41.2 8.7,40.5 8.7,39.8 8.7,39.0 8.6,38.2 8.6,37.5 8.5,36.8 8.5,36.2 8.4,35.5 8.4,34.8 8.3,34.0 8.3,33.2 8.2,32.8 8.2,32.0 8.1,31.2 8.1,30.5 8.0,29.8 7.9,29.2 7.8,28.5 7.7,28.0 7.5,27.2 7.4,26.8 7.3,26.0 7.2,25.5 7.2,24.8 7.3,24.2 7.5,23.7 7.9,23.2 8.2,23.0 8.8,22.7 9.5,22.5 10.0,22.5 10.8,22.4 11.5,22.3 12.2,22.2 12.8,22.2 13.5,22.2 14.2,22.2 15.0,22.2 15.8,22.2 16.4,22.2 17.0,22.3 17.8,22.3 18.5,22.3 19.2,22.3 20.0,22.3 20.8,22.3 21.5,22.4 22.2,22.4 23.0,22.4 23.8,22.4 24.5,22.4 25.2,22.4 26.0,22.4 26.8,22.4 27.5,22.4 28.2,22.4 29.0,22.3 29.8,22.3 30.2,22.2 31.0,22.2 31.8,22.2 32.5,22.2 33.2,22.2 34.0,22.2 34.8,22.2 35.5,22.2 36.2,22.2 37.0,22.2 37.8,22.2 38.5,22.2 39.2,22.2 40.0,22.2 40.8,22.2 41.5,22.2 42.2,22.2 43.0,22.2 43.8,22.2 44.5,22.2 45.2,22.2 46.0,22.2 46.8,22.2 47.5,22.2 48.1,22.2 48.8,22.3 49.5,22.4 50.0,22.5 50.8,22.7 51.2,22.9 51.8,23.2 52.0,23.5 52.3,24.0 52.2,24.6 52.0,25.1 51.5,25.5 51.0,25.8 50.5,26.0 50.0,26.1 49.4,26.2 48.8,26.4 48.1,26.5 47.5,26.6 46.8,26.7 46.2,26.8 45.5,26.9 44.8,26.9 44.2,27.0 43.5,27.1 42.8,27.2 42.0,27.2 41.5,27.3 40.8,27.4 40.0,27.4 39.3,27.5 38.8,27.6 38.0,27.7 37.5,27.8 36.8,27.9 36.2,28.1 35.8,28.3 35.2,28.5 34.8,28.9 34.4,29.2 34.2,29.8 34.1,30.5 34.1,31.2 34.1,32.0 34.1,32.8 34.1,33.5 34.0,34.2 34.0,34.8 33.9,35.5 33.8,36.2 33.7,36.8 33.6,37.5 33.5,38.2 33.5,38.8 33.4,39.5 33.4,40.2 33.3,41.0 33.3,41.8 33.2,42.2 33.2,43.0 33.1,43.8 33.1,44.5 33.0,45.0 32.8,45.8 32.7,46.2 32.5,47.0 32.3,47.5 32.1,48.0 31.8,48.5 31.5,48.9 31.2,49.2 30.8,49.7 30.4,50.0 30.0,50.3 29.5,50.6 29.0,50.8 28.5,51.0 27.8,51.2 27.2,51.3 26.5,51.5 26.0,51.5Z" fill="none" stroke="#888" stroke-width="0.7" stroke-linejoin="round"/><path d="M21.8,49.3 21.0,49.4 20.2,49.5 19.5,49.5 18.8,49.4 18.1,49.2 17.5,49.1 17.0,48.9 16.5,48.7 16.0,48.4 15.5,48.0 15.2,47.8 14.8,47.3 14.5,47.0 14.0,46.5 13.8,46.2 13.3,45.8 13.0,45.5 12.6,45.0 12.3,44.5 12.0,44.0 11.8,43.5 11.6,43.0 11.5,42.5 11.3,41.8 11.1,41.2 11.0,40.6 10.9,40.0 10.8,39.2 10.7,38.8 10.7,38.0 10.6,37.2 10.6,36.5 10.6,35.8 10.7,35.0 10.7,34.2 10.8,33.8 10.9,33.0 11.0,32.3 11.1,31.8 11.1,31.0 10.9,30.5 10.5,30.1 10.1,29.8 9.8,29.4 9.4,29.0 9.0,28.5 8.8,28.0 8.5,27.5 8.4,27.0 8.2,26.5 8.0,25.8 8.0,25.2 8.0,24.7 8.2,24.1 8.5,23.8 9.0,23.4 9.6,23.2 10.2,23.1 11.0,23.0 11.5,23.0 12.2,22.9 13.0,22.9 13.8,22.9 14.5,22.9 15.2,22.9 16.0,22.9 16.8,23.0 17.5,23.0 18.0,23.0 18.8,23.0 19.5,23.1 20.2,23.1 21.0,23.1 21.8,23.1 22.5,23.1 23.2,23.1 24.0,23.2 24.8,23.2 25.5,23.2 26.2,23.2 27.0,23.2 27.8,23.2 28.5,23.1 29.2,23.1 30.0,23.1 30.8,23.0 31.2,23.0 32.0,23.0 32.8,23.0 33.2,23.0 34.0,23.0 34.8,23.0 35.5,23.1 36.2,23.1 37.0,23.1 37.8,23.1 38.5,23.1 39.2,23.1 40.0,23.1 40.8,23.1 41.5,23.1 42.2,23.1 43.0,23.1 43.8,23.1 44.5,23.1 45.2,23.1 46.0,23.1 46.8,23.1 47.5,23.1 48.2,23.2 48.9,23.2 49.5,23.4 50.0,23.5 50.5,23.8 50.8,24.2 50.6,24.8 50.2,25.0 49.6,25.2 49.0,25.4 48.5,25.5 47.8,25.7 47.2,25.8 46.5,25.8 45.8,25.9 45.2,26.0 44.5,26.1 43.8,26.2 43.0,26.2 42.5,26.3 41.8,26.4 41.0,26.4 40.4,26.5 39.8,26.6 39.0,26.6 38.2,26.7 37.8,26.8 37.0,26.9 36.5,27.0 35.8,27.2 35.2,27.4 34.8,27.6 34.2,27.9 33.8,28.2 33.2,28.4 32.8,28.7 32.3,29.0 31.8,29.2 31.3,29.5 30.8,29.7 30.2,30.0 29.8,30.2 29.2,30.4 28.9,30.8 29.0,31.2 29.4,31.8 29.7,32.2 29.8,32.8 30.0,33.5 30.0,34.0 30.0,34.5 29.8,35.2 29.6,35.8 29.4,36.2 29.0,36.8 28.8,37.1 28.3,37.5 28.0,37.9 27.6,38.2 28.0,38.7 28.5,38.9 29.0,39.2 29.3,39.5 29.7,40.0 30.0,40.5 30.2,41.0 30.3,41.5 30.5,42.2 30.6,42.8 30.7,43.5 30.6,44.2 30.5,45.0 30.4,45.5 30.2,46.0 30.0,46.6 29.7,47.0 29.3,47.5 29.0,47.8 28.5,48.0 27.8,48.2 27.0,48.2 26.4,48.0 25.8,47.8 25.2,47.6 24.8,47.8 24.2,48.2 23.8,48.5 23.3,48.8 22.8,49.0 22.2,49.2 21.8,49.3Z" fill="none" stroke="#8a8a8a" stroke-width="0.7" stroke-linejoin="round"/><path d="M24.5,42.5 24.8,42.0 25.0,41.5 25.2,41.0 25.5,40.5 25.8,40.1 26.0,39.8 26.4,39.2 26.8,38.8 26.5,38.6 26.0,38.5 25.2,38.5 24.5,38.4 23.8,38.3 23.2,38.2 22.8,38.0 22.2,37.8 21.8,37.5 21.2,37.1 20.9,36.8 20.5,36.3 20.2,36.0 20.0,35.5 19.8,34.9 19.6,34.2 19.7,33.5 19.8,33.0 20.0,32.5 20.2,31.9 20.3,31.2 19.8,31.1 19.0,31.1 18.4,31.2 18.0,31.5 17.9,32.2 18.0,32.8 18.2,33.5 18.4,34.0 18.5,34.8 18.5,35.2 18.5,36.0 18.5,36.8 18.5,37.5 18.5,38.0 18.4,38.8 18.3,39.5 18.3,40.2 18.2,40.6 18.5,41.2 19.0,41.4 19.8,41.5 20.2,41.5 21.0,41.6 21.7,41.8 22.2,41.9 22.8,42.1 23.2,42.4 23.8,42.6 24.5,42.5Z" fill="none" stroke="#8a8a8a" stroke-width="0.7" stroke-linejoin="round"/><path d="M16.8,29.3 16.0,29.3 15.2,29.4 14.5,29.4 13.8,29.4 13.0,29.3 12.5,29.2 11.8,29.1 11.2,28.9 10.8,28.7 10.2,28.4 9.8,28.0 9.5,27.6 9.2,27.2 9.0,26.6 8.8,26.0 8.8,25.2 9.0,24.5 9.2,24.2 9.8,24.0 10.5,23.8 11.0,23.7 11.8,23.6 12.5,23.6 13.2,23.6 14.0,23.6 14.8,23.6 15.5,23.6 16.2,23.7 17.0,23.7 17.5,23.8 18.2,23.8 19.0,23.9 19.8,23.9 20.5,24.0 21.2,24.0 21.8,24.0 22.5,24.0 23.2,24.1 24.0,24.1 24.8,24.1 25.5,24.1 26.2,24.1 27.0,24.1 27.8,24.1 28.5,24.1 29.2,24.1 30.0,24.1 30.8,24.1 31.5,24.1 32.2,24.1 33.0,24.2 33.5,24.3 34.2,24.4 34.8,24.6 35.3,24.8 35.8,25.0 35.7,25.5 35.2,25.9 34.8,26.2 34.4,26.5 34.0,26.8 33.5,27.1 33.0,27.3 32.5,27.6 32.0,27.8 31.2,28.0 30.8,28.1 30.1,28.2 29.5,28.3 28.8,28.4 28.0,28.5 27.5,28.5 26.8,28.5 26.0,28.6 25.2,28.7 24.8,28.8 24.0,28.8 23.2,28.8 22.5,28.8 21.8,28.9 21.0,28.9 20.3,29.0 19.8,29.1 19.0,29.1 18.2,29.2 17.5,29.2 16.8,29.2Z" fill="none" stroke="#999" stroke-width="0.65" stroke-linejoin="round"/><path d="M25.2,35.5 24.6,35.5 24.0,35.3 23.6,35.0 23.2,34.5 23.1,34.0 23.2,33.5 23.6,33.0 24.0,32.7 24.6,32.5 25.2,32.5 25.8,32.6 26.2,32.9 26.6,33.2 26.8,33.8 26.8,34.5 26.5,34.9 26.1,35.2 25.5,35.5Z" fill="none" stroke="#999" stroke-width="0.65" stroke-linejoin="round"/><path d="M14.2,40.5 13.7,40.5 13.2,40.2 12.9,39.8 12.7,39.2 12.5,38.7 12.3,38.0 12.3,37.2 12.3,36.5 12.4,35.8 12.5,35.2 12.8,34.5 13.0,34.1 13.3,33.8 13.8,33.5 14.3,33.5 14.8,33.8 15.1,34.2 15.4,34.8 15.6,35.2 15.7,36.0 15.8,36.5 15.8,37.2 15.7,37.8 15.6,38.5 15.5,39.0 15.2,39.6 15.0,40.0 14.5,40.4Z" fill="none" stroke="#999" stroke-width="0.65" stroke-linejoin="round"/><path d="M28.0,45.3 27.5,45.0 27.2,44.6 27.1,44.0 27.2,43.4 27.5,43.0 28.0,42.7 28.5,43.0 28.8,43.5 28.8,44.0 28.7,44.5 28.5,45.0 28.0,45.3Z" fill="none" stroke="#999" stroke-width="0.65" stroke-linejoin="round"/><path d="M21.0,47.5 20.2,47.7 19.5,47.7 18.9,47.5 18.5,47.2 18.1,46.8 17.9,46.2 17.9,45.5 18.2,45.0 18.5,44.7 19.0,44.4 19.6,44.2 20.2,44.2 20.8,44.3 21.2,44.5 21.8,45.0 22.0,45.4 22.1,46.0 22.0,46.6 21.8,47.0 21.2,47.4Z" fill="none" stroke="#999" stroke-width="0.65" stroke-linejoin="round"/><path d="M38.00,22.50 C39.17,21.97 43.83,21.95 46.00,22.00 C48.17,22.05 50.83,22.33 51.00,22.80 C51.17,23.27 49.00,24.40 47.00,24.80 C45.00,25.20 40.50,25.58 39.00,25.20 C37.50,24.82 36.83,23.03 38.00,22.50Z" fill="none" stroke="#777" stroke-width="0.6" stroke-linejoin="round" stroke-linecap="round"/></g><g transform="translate(104.60,129.50)" clip-path="url(#c4)"><path d="M34.9 36.8h0.7v0.7h-0.7zM22.7 23.3h0.7v0.7h-0.7zM31.5 46.4h0.7v0.7h-0.7zM32.2 22.3h0.7v0.7h-0.7zM23.7 49.8h0.7v0.7h-0.7zM15.0 43.7h0.7v0.7h-0.7zM18.6 26.7h0.7v0.7h-0.7zM30.1 23.7h0.7v0.7h-0.7zM19.1 49.5h0.7v0.7h-0.7zM17.1 47.7h0.7v0.7h-0.7zM21.4 50.5h0.7v0.7h-0.7zM16.0 31.1h0.7v0.7h-0.7zM33.4 23.0h0.7v0.7h-0.7zM17.2 26.6h0.7v0.7h-0.7zM27.9 23.8h0.7v0.7h-0.7zM33.0 37.6h0.7v0.7h-0.7zM20.7 25.0h0.7v0.7h-0.7zM30.8 44.8h0.7v0.7h-0.7zM14.3 33.3h0.7v0.7h-0.7zM15.6 44.4h0.7v0.7h-0.7zM34.9 24.6h0.7v0.7h-0.7zM31.0 23.3h0.7v0.7h-0.7zM32.2 44.4h0.7v0.7h-0.7zM25.7 49.4h0.7v0.7h-0.7zM17.9 47.9h0.7v0.7h-0.7zM31.1 44.9h0.7v0.7h-0.7zM29.1 46.8h0.7v0.7h-0.7zM34.0 25.4h0.7v0.7h-0.7zM18.5 49.7h0.7v0.7h-0.7zM26.6 21.8h0.7v0.7h-0.7zM36.8 32.3h0.7v0.7h-0.7zM19.0 47.3h0.7v0.7h-0.7zM29.5 48.7h0.7v0.7h-0.7zM13.3 34.3h0.7v0.7h-0.7zM15.0 42.4h0.7v0.7h-0.7zM20.3 24.0h0.7v0.7h-0.7zM24.3 49.7h0.7v0.7h-0.7zM15.1 29.5h0.7v0.7h-0.7zM17.5 29.6h0.7v0.7h-0.7zM32.6 42.2h0.7v0.7h-0.7zM34.2 42.6h0.7v0.7h-0.7zM20.4 49.3h0.7v0.7h-0.7zM16.5 27.5h0.7v0.7h-0.7zM33.7 42.9h0.7v0.7h-0.7zM22.9 22.7h0.7v0.7h-0.7zM33.2 24.4h0.7v0.7h-0.7zM17.9 26.8h0.7v0.7h-0.7zM18.6 49.5h0.7v0.7h-0.7zM30.5 24.4h0.7v0.7h-0.7zM35.2 37.7h0.7v0.7h-0.7zM14.8 42.6h0.7v0.7h-0.7zM15.7 35.2h0.7v0.7h-0.7zM17.8 46.4h0.7v0.7h-0.7zM15.0 39.0h0.7v0.7h-0.7zM30.7 43.6h0.7v0.7h-0.7zM35.0 27.8h0.7v0.7h-0.7zM18.0 27.2h0.7v0.7h-0.7zM35.4 38.3h0.7v0.7h-0.7zM28.3 50.6h0.7v0.7h-0.7zM14.4 37.0h0.7v0.7h-0.7zM34.7 32.1h0.7v0.7h-0.7zM34.6 36.1h0.7v0.7h-0.7zM30.1 21.5h0.7v0.7h-0.7zM24.6 49.5h0.7v0.7h-0.7zM25.4 52.2h0.7v0.7h-0.7zM33.0 23.7h0.7v0.7h-0.7zM20.1 25.2h0.7v0.7h-0.7zM13.6 31.7h0.7v0.7h-0.7zM12.4 41.2h0.7v0.7h-0.7zM17.9 26.5h0.7v0.7h-0.7zM32.9 24.1h0.7v0.7h-0.7zM29.8 48.6h0.7v0.7h-0.7zM34.1 35.6h0.7v0.7h-0.7zM33.4 37.5h0.7v0.7h-0.7zM28.5 22.5h0.7v0.7h-0.7zM18.7 25.9h0.7v0.7h-0.7zM19.0 47.0h0.7v0.7h-0.7zM13.7 33.6h0.7v0.7h-0.7zM14.0 44.5h0.7v0.7h-0.7zM21.8 24.1h0.7v0.7h-0.7zM35.1 32.7h0.7v0.7h-0.7zM18.9 49.4h0.7v0.7h-0.7zM17.1 45.5h0.7v0.7h-0.7zM36.9 30.6h0.7v0.7h-0.7zM30.3 47.3h0.7v0.7h-0.7zM36.5 32.4h0.7v0.7h-0.7zM36.3 27.3h0.7v0.7h-0.7zM18.6 50.1h0.7v0.7h-0.7zM34.4 25.4h0.7v0.7h-0.7zM17.3 29.4h0.7v0.7h-0.7zM35.1 33.4h0.7v0.7h-0.7zM14.2 32.9h0.7v0.7h-0.7zM33.1 42.1h0.7v0.7h-0.7zM13.7 43.2h0.7v0.7h-0.7zM33.4 24.3h0.7v0.7h-0.7zM16.3 28.4h0.7v0.7h-0.7zM19.2 25.8h0.7v0.7h-0.7zM25.1 51.6h0.7v0.7h-0.7zM36.4 34.3h0.7v0.7h-0.7zM13.1 39.1h0.7v0.7h-0.7zM30.4 44.5h0.7v0.7h-0.7zM27.0 49.1h0.7v0.7h-0.7zM33.0 39.6h0.7v0.7h-0.7zM35.0 38.8h0.7v0.7h-0.7zM18.1 28.5h0.7v0.7h-0.7zM30.3 45.4h0.7v0.7h-0.7zM37.9 32.0h0.7v0.7h-0.7zM28.6 21.8h0.7v0.7h-0.7zM25.5 23.0h0.7v0.7h-0.7zM28.8 22.4h0.7v0.7h-0.7z" fill="#aaa"/><path d="M11.1 43.8h0.7v0.7h-0.7zM15.9 44.2h0.7v0.7h-0.7zM19.6 58.8h0.7v0.7h-0.7zM15.5 46.8h0.7v0.7h-0.7zM13.0 44.2h0.7v0.7h-0.7zM14.8 47.4h0.7v0.7h-0.7zM19.5 50.0h0.7v0.7h-0.7zM18.9 27.1h0.7v0.7h-0.7zM18.5 26.8h0.7v0.7h-0.7zM20.4 52.5h0.7v0.7h-0.7zM15.9 32.4h0.7v0.7h-0.7zM12.0 34.2h0.7v0.7h-0.7zM15.1 50.7h0.7v0.7h-0.7zM15.6 41.7h0.7v0.7h-0.7zM14.5 40.0h0.7v0.7h-0.7zM12.0 37.3h0.7v0.7h-0.7zM12.9 48.9h0.7v0.7h-0.7zM9.2 40.3h0.7v0.7h-0.7zM16.4 44.6h0.7v0.7h-0.7zM21.3 49.0h0.7v0.7h-0.7zM10.8 32.0h0.7v0.7h-0.7zM12.0 40.2h0.7v0.7h-0.7zM22.1 51.9h0.7v0.7h-0.7zM20.5 24.7h0.7v0.7h-0.7zM10.6 36.7h0.7v0.7h-0.7zM12.8 44.5h0.7v0.7h-0.7zM19.4 49.3h0.7v0.7h-0.7zM15.6 41.4h0.7v0.7h-0.7zM15.7 41.7h0.7v0.7h-0.7zM14.9 46.3h0.7v0.7h-0.7zM15.4 42.2h0.7v0.7h-0.7zM13.5 33.8h0.7v0.7h-0.7zM11.2 23.5h0.7v0.7h-0.7zM21.7 26.2h0.7v0.7h-0.7zM15.8 31.8h0.7v0.7h-0.7zM14.7 35.8h0.7v0.7h-0.7zM13.3 45.1h0.7v0.7h-0.7zM14.4 46.5h0.7v0.7h-0.7zM13.4 32.8h0.7v0.7h-0.7zM20.2 49.1h0.7v0.7h-0.7z" fill="#aaa"/><path d="M24.8,49.1 24.0,49.2 23.2,49.1 22.7,49.0 22.1,48.8 21.6,48.5 21.2,48.2 20.8,48.0 20.2,47.6 19.8,47.3 19.4,47.0 19.0,46.6 18.6,46.2 18.2,45.9 17.9,45.5 17.5,45.1 17.1,44.8 16.8,44.4 16.4,44.0 16.0,43.6 15.8,43.2 15.5,42.7 15.3,42.0 15.2,41.5 15.2,40.8 15.2,40.0 15.2,39.2 15.3,38.8 15.4,38.0 15.5,37.2 15.6,36.8 15.7,36.0 15.8,35.5 15.9,34.8 16.0,34.2 16.2,33.5 16.3,33.0 16.5,32.4 16.7,31.8 16.9,31.2 17.1,30.8 17.4,30.2 17.7,29.8 18.0,29.2 18.2,28.9 18.6,28.5 19.0,28.0 19.3,27.8 19.8,27.3 20.1,27.0 20.5,26.7 21.0,26.3 21.5,26.0 22.0,25.8 22.5,25.5 23.0,25.3 23.5,25.2 24.0,25.0 24.6,24.8 25.2,24.6 25.8,24.5 26.5,24.3 27.0,24.2 27.8,24.2 28.2,24.3 29.0,24.5 29.5,24.6 30.0,24.8 30.7,25.0 31.2,25.2 31.8,25.5 32.2,25.7 32.8,26.0 33.2,26.2 33.6,26.5 34.0,26.9 34.3,27.2 34.6,27.8 34.8,28.2 35.0,29.0 35.0,29.5 35.0,30.0 34.8,30.8 34.6,31.2 34.4,31.8 34.2,32.2 33.9,32.8 33.7,33.2 33.5,34.0 33.3,34.5 33.2,35.0 33.0,35.5 32.8,36.2 32.6,36.8 32.5,37.2 32.2,38.0 32.1,38.5 31.9,39.0 31.8,39.7 31.6,40.2 31.4,40.8 31.2,41.2 31.0,41.8 30.8,42.3 30.5,42.8 30.2,43.3 30.0,43.8 29.7,44.2 29.4,44.8 29.1,45.2 28.8,45.7 28.5,46.0 28.1,46.5 27.8,46.9 27.4,47.2 27.0,47.6 26.6,48.0 26.2,48.3 25.8,48.6 25.2,48.9 24.8,49.1Z" fill="none" stroke="#999" stroke-width="0.7" stroke-linejoin="round"/><path d="M24.5,47.3 23.8,47.4 23.0,47.3 22.5,47.1 22.0,46.8 21.6,46.5 21.2,46.2 20.8,45.9 20.2,45.5 19.9,45.2 19.5,44.8 19.2,44.5 18.8,44.1 18.4,43.8 18.0,43.3 17.7,43.0 17.3,42.5 17.0,42.0 16.9,41.5 16.8,40.8 16.8,40.0 16.9,39.2 17.0,38.5 17.1,38.0 17.2,37.2 17.3,36.8 17.4,36.0 17.5,35.4 17.6,34.8 17.8,34.2 17.9,33.5 18.1,33.0 18.2,32.4 18.5,31.8 18.7,31.2 19.0,30.8 19.2,30.4 19.5,30.0 19.9,29.5 20.2,29.2 20.7,28.8 21.0,28.4 21.5,28.0 21.9,27.8 22.3,27.5 22.8,27.2 23.4,27.0 24.0,26.8 24.5,26.6 25.0,26.4 25.5,26.2 26.2,26.1 26.8,26.0 27.5,25.9 28.2,26.0 28.8,26.1 29.2,26.3 29.9,26.5 30.5,26.8 31.0,27.0 31.5,27.2 32.0,27.5 32.4,27.8 32.8,28.1 33.0,28.5 33.2,29.0 33.3,29.8 33.2,30.2 33.0,30.8 32.8,31.3 32.5,31.8 32.2,32.4 32.1,33.0 31.9,33.5 31.7,34.0 31.5,34.7 31.3,35.2 31.1,35.8 31.0,36.3 30.8,37.0 30.6,37.5 30.5,38.0 30.3,38.8 30.1,39.2 29.9,39.8 29.8,40.3 29.5,40.9 29.2,41.5 29.0,42.0 28.8,42.5 28.5,43.0 28.2,43.4 28.0,43.8 27.7,44.2 27.4,44.8 27.0,45.2 26.8,45.5 26.3,46.0 26.0,46.3 25.5,46.8 25.2,47.0 24.7,47.2Z" fill="none" stroke="#444" stroke-width="0.85" stroke-linejoin="round"/><path d="M24.0,45.0 23.3,45.0 22.8,44.8 22.4,44.5 22.0,44.2 21.5,43.8 21.1,43.5 20.8,43.1 20.4,42.8 20.0,42.4 19.6,42.0 19.2,41.5 19.0,41.0 18.9,40.5 19.0,39.8 19.0,39.2 19.1,38.5 19.2,37.8 19.3,37.2 19.4,36.5 19.5,36.0 19.7,35.2 19.8,34.8 20.0,34.0 20.1,33.5 20.3,33.0 20.5,32.5 20.8,32.0 21.1,31.5 21.4,31.0 21.8,30.6 22.1,30.2 22.5,29.9 23.0,29.6 23.5,29.3 24.0,29.0 24.5,28.8 25.0,28.7 25.5,28.5 26.2,28.3 26.8,28.2 27.5,28.1 28.2,28.2 28.8,28.4 29.2,28.5 29.8,28.8 30.2,29.0 30.8,29.5 30.9,30.0 30.7,30.5 30.5,31.1 30.3,31.8 30.1,32.2 29.9,32.8 29.7,33.2 29.5,34.0 29.3,34.5 29.2,35.0 29.0,35.6 28.8,36.2 28.7,36.8 28.5,37.2 28.3,38.0 28.1,38.5 28.0,39.0 27.8,39.6 27.5,40.2 27.3,40.8 27.0,41.2 26.8,41.8 26.5,42.2 26.2,42.6 26.0,43.0 25.6,43.5 25.3,44.0 25.0,44.3 24.5,44.8 24.1,45.0Z" fill="none" stroke="#444" stroke-width="0.8" stroke-linejoin="round"/><path d="M23.5,42.6 23.0,42.5 22.5,42.1 22.1,41.8 21.8,41.4 21.4,41.0 21.0,40.5 20.9,40.0 21.0,39.2 21.0,38.8 21.1,38.0 21.2,37.3 21.3,36.8 21.5,36.0 21.6,35.5 21.8,34.8 21.9,34.2 22.1,33.8 22.3,33.2 22.5,32.8 22.9,32.2 23.2,31.8 23.6,31.5 24.0,31.2 24.5,30.9 25.0,30.7 25.5,30.5 26.2,30.3 26.8,30.1 27.5,30.1 28.0,30.3 28.3,30.8 28.3,31.5 28.1,32.0 28.0,32.5 27.8,33.2 27.6,33.8 27.4,34.2 27.2,34.8 27.0,35.5 26.9,36.0 26.7,36.5 26.5,37.2 26.4,37.8 26.2,38.2 26.0,38.8 25.8,39.4 25.5,40.0 25.3,40.5 25.0,41.0 24.8,41.4 24.5,41.8 24.1,42.2 23.7,42.5Z" fill="none" stroke="#555" stroke-width="0.75" stroke-linejoin="round"/><g filter="url(#bl)"><ellipse cx="32.8" cy="22.8" rx="4.6" ry="4.6" fill="#a8a8a8"/><ellipse cx="32.8" cy="22.5" rx="3.5879999999999996" ry="3.6799999999999997" fill="#8a8a8a" stroke="#666" stroke-width="1.3"/><ellipse cx="32.599999999999994" cy="23.2" rx="2.07" ry="2.3" fill="#999"/><circle cx="32.199999999999996" cy="23.400000000000002" r="0.9" fill="#eee"/></g></g><g transform="translate(183.20,129.50)" clip-path="url(#c5)"><path d="M18.3 50.8h0.7v0.7h-0.7zM13.4 35.5h0.7v0.7h-0.7zM13.9 41.8h0.7v0.7h-0.7zM30.5 44.9h0.7v0.7h-0.7zM17.2 26.8h0.7v0.7h-0.7zM18.0 30.7h0.7v0.7h-0.7zM39.2 27.5h0.7v0.7h-0.7zM15.1 36.2h0.7v0.7h-0.7zM38.0 30.6h0.7v0.7h-0.7zM24.4 52.7h0.7v0.7h-0.7zM34.8 22.8h0.7v0.7h-0.7zM35.1 23.6h0.7v0.7h-0.7zM31.5 21.4h0.7v0.7h-0.7zM30.3 21.7h0.7v0.7h-0.7zM38.8 31.1h0.7v0.7h-0.7zM33.2 23.1h0.7v0.7h-0.7zM17.7 49.6h0.7v0.7h-0.7zM23.4 24.2h0.7v0.7h-0.7zM36.0 32.4h0.7v0.7h-0.7zM36.5 31.1h0.7v0.7h-0.7zM28.6 48.7h0.7v0.7h-0.7zM38.3 32.1h0.7v0.7h-0.7zM13.8 44.7h0.7v0.7h-0.7zM14.1 43.2h0.7v0.7h-0.7zM13.8 37.5h0.7v0.7h-0.7zM15.8 32.9h0.7v0.7h-0.7zM14.8 40.8h0.7v0.7h-0.7zM26.5 21.3h0.7v0.7h-0.7zM27.9 21.8h0.7v0.7h-0.7zM38.0 32.9h0.7v0.7h-0.7zM20.1 49.9h0.7v0.7h-0.7zM32.1 40.9h0.7v0.7h-0.7zM15.2 32.3h0.7v0.7h-0.7zM18.8 25.6h0.7v0.7h-0.7zM36.1 35.6h0.7v0.7h-0.7zM29.1 22.2h0.7v0.7h-0.7zM30.3 44.0h0.7v0.7h-0.7zM17.9 52.0h0.7v0.7h-0.7zM14.7 46.3h0.7v0.7h-0.7zM32.8 24.5h0.7v0.7h-0.7zM16.3 49.6h0.7v0.7h-0.7zM13.9 41.0h0.7v0.7h-0.7zM29.0 21.2h0.7v0.7h-0.7zM32.6 23.6h0.7v0.7h-0.7zM28.8 21.6h0.7v0.7h-0.7zM30.5 20.4h0.7v0.7h-0.7zM13.1 41.9h0.7v0.7h-0.7zM20.5 50.9h0.7v0.7h-0.7zM28.3 20.6h0.7v0.7h-0.7zM12.8 37.9h0.7v0.7h-0.7zM31.9 21.7h0.7v0.7h-0.7zM13.3 39.1h0.7v0.7h-0.7zM21.7 24.7h0.7v0.7h-0.7zM15.2 43.8h0.7v0.7h-0.7zM30.0 43.8h0.7v0.7h-0.7zM14.5 40.9h0.7v0.7h-0.7zM37.1 31.1h0.7v0.7h-0.7zM15.2 42.4h0.7v0.7h-0.7zM18.8 25.1h0.7v0.7h-0.7zM34.4 25.7h0.7v0.7h-0.7zM16.2 35.3h0.7v0.7h-0.7zM38.2 28.1h0.7v0.7h-0.7zM34.7 33.4h0.7v0.7h-0.7zM15.4 40.8h0.7v0.7h-0.7zM16.9 31.9h0.7v0.7h-0.7zM13.5 45.3h0.7v0.7h-0.7zM28.0 50.5h0.7v0.7h-0.7zM36.5 34.4h0.7v0.7h-0.7zM35.7 24.5h0.7v0.7h-0.7zM15.4 36.4h0.7v0.7h-0.7zM20.6 52.6h0.7v0.7h-0.7zM26.0 51.0h0.7v0.7h-0.7zM12.9 44.3h0.7v0.7h-0.7zM20.0 51.9h0.7v0.7h-0.7zM30.1 46.1h0.7v0.7h-0.7zM25.9 20.9h0.7v0.7h-0.7zM35.1 38.3h0.7v0.7h-0.7zM16.5 48.1h0.7v0.7h-0.7zM20.8 24.1h0.7v0.7h-0.7zM15.6 48.6h0.7v0.7h-0.7zM16.3 30.6h0.7v0.7h-0.7zM36.8 30.5h0.7v0.7h-0.7zM31.0 44.7h0.7v0.7h-0.7zM30.0 21.3h0.7v0.7h-0.7zM26.9 50.9h0.7v0.7h-0.7zM29.2 20.5h0.7v0.7h-0.7zM18.1 48.8h0.7v0.7h-0.7zM15.2 35.3h0.7v0.7h-0.7zM16.4 50.0h0.7v0.7h-0.7zM32.8 40.1h0.7v0.7h-0.7zM19.0 52.2h0.7v0.7h-0.7zM34.8 37.3h0.7v0.7h-0.7zM16.8 33.7h0.7v0.7h-0.7zM22.0 52.0h0.7v0.7h-0.7zM23.2 23.1h0.7v0.7h-0.7zM38.7 31.6h0.7v0.7h-0.7zM13.5 39.2h0.7v0.7h-0.7zM37.2 32.1h0.7v0.7h-0.7zM14.6 33.8h0.7v0.7h-0.7zM28.9 49.4h0.7v0.7h-0.7zM14.3 47.7h0.7v0.7h-0.7zM30.6 20.5h0.7v0.7h-0.7zM34.5 22.3h0.7v0.7h-0.7zM28.2 21.1h0.7v0.7h-0.7zM37.4 25.3h0.7v0.7h-0.7zM14.0 42.7h0.7v0.7h-0.7zM35.0 22.7h0.7v0.7h-0.7zM21.9 51.3h0.7v0.7h-0.7zM15.9 49.2h0.7v0.7h-0.7zM28.4 20.5h0.7v0.7h-0.7z" fill="#aaa"/><path d="M22.4 52.8h0.7v0.7h-0.7zM14.8 37.3h0.7v0.7h-0.7zM16.8 46.5h0.7v0.7h-0.7zM18.5 23.8h0.7v0.7h-0.7zM15.9 38.9h0.7v0.7h-0.7zM15.1 37.8h0.7v0.7h-0.7zM17.5 32.8h0.7v0.7h-0.7zM14.6 39.5h0.7v0.7h-0.7zM23.3 49.8h0.7v0.7h-0.7zM19.0 29.4h0.7v0.7h-0.7zM15.4 34.7h0.7v0.7h-0.7zM15.5 37.5h0.7v0.7h-0.7zM16.6 35.3h0.7v0.7h-0.7zM25.7 50.1h0.7v0.7h-0.7zM14.7 54.3h0.7v0.7h-0.7zM16.0 32.6h0.7v0.7h-0.7zM16.3 34.6h0.7v0.7h-0.7zM15.9 34.6h0.7v0.7h-0.7zM17.2 31.2h0.7v0.7h-0.7zM16.1 42.5h0.7v0.7h-0.7zM13.9 40.8h0.7v0.7h-0.7zM13.6 52.0h0.7v0.7h-0.7zM17.0 33.7h0.7v0.7h-0.7zM12.9 34.4h0.7v0.7h-0.7zM13.8 42.2h0.7v0.7h-0.7zM25.5 48.9h0.7v0.7h-0.7zM16.1 35.2h0.7v0.7h-0.7zM12.9 54.6h0.7v0.7h-0.7zM15.9 30.6h0.7v0.7h-0.7zM14.5 29.7h0.7v0.7h-0.7zM16.1 40.7h0.7v0.7h-0.7zM15.4 37.7h0.7v0.7h-0.7zM11.1 42.7h0.7v0.7h-0.7zM16.0 37.1h0.7v0.7h-0.7zM16.0 49.4h0.7v0.7h-0.7zM16.1 36.1h0.7v0.7h-0.7zM15.1 36.9h0.7v0.7h-0.7zM13.5 44.0h0.7v0.7h-0.7zM15.2 41.8h0.7v0.7h-0.7zM14.8 41.3h0.7v0.7h-0.7z" fill="#aaa"/><path d="M22.8,49.8 22.0,49.8 21.2,49.8 20.8,49.7 20.1,49.5 19.5,49.3 19.0,49.1 18.5,48.8 18.2,48.5 17.8,48.1 17.5,47.8 17.2,47.2 16.9,46.8 16.6,46.2 16.4,45.8 16.2,45.1 16.1,44.5 16.0,44.0 15.8,43.2 15.7,42.8 15.7,42.0 15.7,41.2 15.7,40.5 15.7,39.8 15.7,39.0 15.8,38.5 15.9,37.8 16.0,37.2 16.2,36.5 16.3,36.0 16.5,35.5 16.8,34.8 16.9,34.2 17.1,33.8 17.3,33.2 17.5,32.8 17.8,32.1 18.0,31.5 18.2,31.0 18.5,30.5 18.7,30.0 19.0,29.5 19.2,29.1 19.5,28.7 19.9,28.2 20.2,27.9 20.6,27.5 21.0,27.0 21.3,26.8 21.8,26.3 22.0,26.0 22.5,25.6 22.9,25.2 23.3,25.0 23.8,24.7 24.2,24.5 24.8,24.2 25.3,24.0 25.9,23.8 26.5,23.5 27.0,23.4 27.5,23.2 28.2,23.2 29.0,23.2 29.8,23.2 30.2,23.3 30.8,23.5 31.2,23.8 31.8,24.1 32.2,24.4 32.8,24.7 33.1,25.0 33.5,25.3 34.0,25.7 34.3,26.0 34.8,26.4 35.1,26.8 35.5,27.1 35.8,27.5 36.2,28.0 36.4,28.5 36.5,29.2 36.5,29.5 36.2,30.1 36.0,30.5 35.5,31.0 35.2,31.2 34.8,31.7 34.4,32.0 34.1,32.5 33.8,33.0 33.5,33.5 33.3,34.0 33.1,34.5 32.9,35.0 32.7,35.5 32.5,36.1 32.2,36.7 32.0,37.2 31.8,37.8 31.5,38.2 31.3,38.8 31.1,39.2 30.9,39.8 30.6,40.2 30.4,40.8 30.2,41.2 29.9,41.8 29.7,42.2 29.5,42.8 29.2,43.3 29.0,43.8 28.7,44.2 28.4,44.8 28.1,45.2 27.8,45.8 27.5,46.2 27.2,46.6 26.9,47.0 26.5,47.4 26.1,47.8 25.8,48.1 25.4,48.5 25.0,48.8 24.5,49.1 24.0,49.4 23.5,49.6 22.8,49.8Z" fill="none" stroke="#999" stroke-width="0.7" stroke-linejoin="round"/><path d="M22.8,48.0 22.0,48.1 21.2,48.1 20.8,47.9 20.2,47.8 19.7,47.5 19.2,47.2 18.9,46.8 18.5,46.2 18.3,45.8 18.1,45.2 17.9,44.8 17.8,44.2 17.6,43.5 17.4,43.0 17.3,42.2 17.3,41.5 17.3,40.8 17.3,40.0 17.3,39.2 17.5,38.5 17.6,38.0 17.8,37.3 17.9,36.8 18.0,36.2 18.2,35.6 18.5,35.0 18.6,34.5 18.8,34.0 19.0,33.5 19.2,32.9 19.5,32.3 19.7,31.8 20.0,31.2 20.2,30.8 20.5,30.3 20.8,29.9 21.0,29.5 21.4,29.0 21.8,28.7 22.2,28.2 22.5,27.9 22.9,27.5 23.2,27.2 23.7,26.8 24.1,26.5 24.5,26.2 25.0,26.0 25.5,25.8 26.1,25.5 26.7,25.2 27.2,25.1 27.8,24.9 28.5,24.8 29.2,24.8 29.9,25.0 30.4,25.2 30.8,25.5 31.2,25.8 31.8,26.1 32.2,26.5 32.6,26.8 33.0,27.1 33.5,27.5 33.8,27.8 34.2,28.2 34.5,28.7 34.5,29.2 34.3,29.8 34.0,30.1 33.6,30.5 33.2,30.8 32.9,31.2 32.5,31.8 32.3,32.2 32.0,32.8 31.8,33.2 31.6,33.8 31.4,34.2 31.2,34.8 31.0,35.3 30.8,35.9 30.5,36.5 30.3,37.0 30.0,37.5 29.8,38.0 29.6,38.5 29.4,39.0 29.1,39.5 28.9,40.0 28.6,40.5 28.4,41.0 28.2,41.5 28.0,42.0 27.8,42.5 27.5,43.0 27.2,43.5 26.9,44.0 26.6,44.5 26.3,45.0 26.0,45.5 25.8,45.8 25.3,46.2 25.0,46.6 24.6,47.0 24.2,47.3 23.8,47.6 23.2,47.8 22.8,48.0Z" fill="none" stroke="#444" stroke-width="0.85" stroke-linejoin="round"/><path d="M22.5,45.8 21.8,45.9 21.1,45.8 20.7,45.5 20.3,45.0 20.0,44.5 19.9,44.0 19.7,43.5 19.6,42.8 19.5,42.2 19.4,41.5 19.4,40.8 19.4,40.0 19.5,39.2 19.6,38.8 19.8,38.0 19.9,37.5 20.0,37.0 20.2,36.3 20.4,35.8 20.6,35.2 20.8,34.8 21.0,34.2 21.2,33.6 21.5,33.0 21.7,32.5 22.0,32.0 22.2,31.5 22.5,31.1 22.8,30.7 23.2,30.2 23.5,29.9 23.9,29.5 24.2,29.1 24.7,28.8 25.0,28.5 25.5,28.1 26.0,27.8 26.5,27.6 27.0,27.4 27.5,27.2 28.2,27.0 28.8,27.0 29.2,27.1 29.8,27.4 30.2,27.6 30.7,28.0 31.0,28.2 31.4,28.8 31.5,29.2 31.3,29.8 31.0,30.2 30.8,30.6 30.5,31.1 30.2,31.6 30.0,32.1 29.8,32.7 29.5,33.2 29.3,33.8 29.1,34.2 28.9,34.8 28.7,35.2 28.5,35.8 28.2,36.3 28.0,36.9 27.8,37.5 27.5,38.0 27.3,38.5 27.0,39.0 26.8,39.5 26.6,40.0 26.3,40.5 26.1,41.0 25.9,41.5 25.6,42.0 25.3,42.5 25.0,43.0 24.8,43.5 24.5,43.9 24.2,44.3 23.8,44.8 23.5,45.1 23.0,45.5 22.6,45.8Z" fill="none" stroke="#444" stroke-width="0.8" stroke-linejoin="round"/><path d="M22.5,43.1 21.8,43.0 21.5,42.5 21.4,42.0 21.3,41.2 21.3,40.5 21.4,39.8 21.5,39.0 21.6,38.5 21.8,37.9 21.9,37.2 22.1,36.8 22.3,36.2 22.5,35.7 22.8,35.0 22.9,34.5 23.1,34.0 23.3,33.5 23.6,33.0 23.9,32.5 24.2,32.0 24.5,31.6 24.8,31.2 25.2,30.8 25.6,30.5 26.0,30.1 26.5,29.8 27.0,29.5 27.5,29.3 28.0,29.2 28.5,29.3 28.8,29.8 28.7,30.2 28.5,30.8 28.2,31.3 28.0,31.9 27.8,32.5 27.6,33.0 27.4,33.5 27.2,34.0 27.0,34.5 26.8,35.0 26.5,35.6 26.2,36.1 26.0,36.7 25.8,37.2 25.5,37.8 25.3,38.2 25.0,38.8 24.8,39.2 24.6,39.8 24.4,40.2 24.1,40.8 23.8,41.2 23.5,41.8 23.2,42.2 23.0,42.6 22.6,43.0Z" fill="none" stroke="#555" stroke-width="0.75" stroke-linejoin="round"/><g filter="url(#bl)"><ellipse cx="33.3" cy="21.4" rx="6.2" ry="7.0" fill="#a8a8a8"/><ellipse cx="33.3" cy="21.099999999999998" rx="4.836" ry="5.6000000000000005" fill="#8a8a8a" stroke="#666" stroke-width="1.3"/><ellipse cx="33.099999999999994" cy="21.799999999999997" rx="2.79" ry="3.5" fill="#999"/><circle cx="32.699999999999996" cy="22.0" r="0.9" fill="#eee"/></g></g><g transform="translate(326.50,129.50)" clip-path="url(#c6)"><g filter="url(#bl2)"><ellipse cx="33" cy="23.0" rx="3.5200000000000005" ry="3.9600000000000004" fill="#aaa"/></g><path d="M30.7 42.3h0.7v0.7h-0.7zM23.7 27.8h0.7v0.7h-0.7zM27.4 44.4h0.7v0.7h-0.7zM24.6 27.3h0.7v0.7h-0.7zM19.9 37.6h0.7v0.7h-0.7zM28.5 43.1h0.7v0.7h-0.7zM21.2 45.2h0.7v0.7h-0.7zM25.4 27.4h0.7v0.7h-0.7zM33.5 28.2h0.7v0.7h-0.7zM20.4 44.0h0.7v0.7h-0.7zM23.2 45.9h0.7v0.7h-0.7zM33.1 34.9h0.7v0.7h-0.7zM28.2 43.6h0.7v0.7h-0.7zM21.5 30.3h0.7v0.7h-0.7zM18.9 42.2h0.7v0.7h-0.7zM33.1 27.4h0.7v0.7h-0.7zM22.3 28.5h0.7v0.7h-0.7zM21.4 29.8h0.7v0.7h-0.7zM19.8 36.6h0.7v0.7h-0.7zM19.3 43.8h0.7v0.7h-0.7zM30.8 41.8h0.7v0.7h-0.7zM33.7 33.9h0.7v0.7h-0.7zM32.9 27.3h0.7v0.7h-0.7zM22.0 29.2h0.7v0.7h-0.7zM34.2 33.6h0.7v0.7h-0.7zM33.0 37.7h0.7v0.7h-0.7zM29.4 43.5h0.7v0.7h-0.7zM33.2 28.5h0.7v0.7h-0.7zM31.3 40.8h0.7v0.7h-0.7zM32.4 39.6h0.7v0.7h-0.7zM28.7 44.9h0.7v0.7h-0.7zM23.9 45.9h0.7v0.7h-0.7zM33.6 37.3h0.7v0.7h-0.7zM26.5 27.4h0.7v0.7h-0.7zM20.9 45.9h0.7v0.7h-0.7zM21.1 30.8h0.7v0.7h-0.7zM35.2 29.5h0.7v0.7h-0.7zM20.9 32.5h0.7v0.7h-0.7zM24.1 45.3h0.7v0.7h-0.7zM32.5 27.3h0.7v0.7h-0.7zM28.5 27.4h0.7v0.7h-0.7zM24.2 28.1h0.7v0.7h-0.7zM28.9 26.5h0.7v0.7h-0.7zM24.6 46.6h0.7v0.7h-0.7zM31.2 39.4h0.7v0.7h-0.7zM22.9 46.5h0.7v0.7h-0.7zM34.6 28.5h0.7v0.7h-0.7zM33.0 28.6h0.7v0.7h-0.7zM33.4 27.7h0.7v0.7h-0.7zM20.1 37.5h0.7v0.7h-0.7zM24.5 26.9h0.7v0.7h-0.7zM20.8 43.5h0.7v0.7h-0.7zM30.3 26.8h0.7v0.7h-0.7zM24.6 27.0h0.7v0.7h-0.7zM20.9 31.9h0.7v0.7h-0.7zM34.6 34.3h0.7v0.7h-0.7zM20.3 33.8h0.7v0.7h-0.7zM20.0 35.0h0.7v0.7h-0.7zM29.8 41.3h0.7v0.7h-0.7zM33.2 36.1h0.7v0.7h-0.7zM27.7 27.4h0.7v0.7h-0.7zM22.3 45.4h0.7v0.7h-0.7zM20.9 30.7h0.7v0.7h-0.7zM19.9 39.0h0.7v0.7h-0.7zM33.7 27.4h0.7v0.7h-0.7zM20.1 34.7h0.7v0.7h-0.7zM31.6 27.8h0.7v0.7h-0.7zM24.2 28.2h0.7v0.7h-0.7zM28.6 43.5h0.7v0.7h-0.7zM34.4 32.1h0.7v0.7h-0.7zM25.4 27.7h0.7v0.7h-0.7zM28.3 27.2h0.7v0.7h-0.7zM19.6 37.0h0.7v0.7h-0.7zM29.9 26.8h0.7v0.7h-0.7zM25.6 27.3h0.7v0.7h-0.7zM32.8 37.4h0.7v0.7h-0.7zM19.9 33.8h0.7v0.7h-0.7zM24.9 45.3h0.7v0.7h-0.7zM33.9 36.2h0.7v0.7h-0.7zM19.5 37.1h0.7v0.7h-0.7zM23.9 46.2h0.7v0.7h-0.7zM23.8 27.3h0.7v0.7h-0.7zM22.7 28.1h0.7v0.7h-0.7zM19.0 37.1h0.7v0.7h-0.7zM34.7 29.5h0.7v0.7h-0.7zM21.0 33.5h0.7v0.7h-0.7zM26.3 27.1h0.7v0.7h-0.7zM21.3 30.6h0.7v0.7h-0.7zM22.6 28.2h0.7v0.7h-0.7zM20.4 35.6h0.7v0.7h-0.7zM26.6 45.2h0.7v0.7h-0.7zM24.4 27.1h0.7v0.7h-0.7zM28.1 43.3h0.7v0.7h-0.7zM20.3 31.9h0.7v0.7h-0.7zM30.6 40.9h0.7v0.7h-0.7zM24.0 45.9h0.7v0.7h-0.7zM19.9 42.3h0.7v0.7h-0.7zM19.5 36.1h0.7v0.7h-0.7zM31.1 27.6h0.7v0.7h-0.7zM28.3 26.9h0.7v0.7h-0.7zM28.7 43.9h0.7v0.7h-0.7zM34.4 31.8h0.7v0.7h-0.7zM22.7 45.6h0.7v0.7h-0.7zM34.8 33.8h0.7v0.7h-0.7zM19.9 33.9h0.7v0.7h-0.7zM21.4 31.2h0.7v0.7h-0.7zM19.8 34.4h0.7v0.7h-0.7zM29.4 44.1h0.7v0.7h-0.7zM25.3 46.7h0.7v0.7h-0.7zM35.5 31.3h0.7v0.7h-0.7zM29.9 27.5h0.7v0.7h-0.7zM34.1 34.4h0.7v0.7h-0.7zM33.4 28.0h0.7v0.7h-0.7zM19.0 42.9h0.7v0.7h-0.7zM30.1 27.1h0.7v0.7h-0.7zM24.9 45.9h0.7v0.7h-0.7zM19.1 35.8h0.7v0.7h-0.7zM20.5 44.7h0.7v0.7h-0.7zM27.9 45.2h0.7v0.7h-0.7zM19.4 34.7h0.7v0.7h-0.7zM23.3 46.3h0.7v0.7h-0.7zM33.2 37.7h0.7v0.7h-0.7zM24.3 46.6h0.7v0.7h-0.7zM27.0 26.6h0.7v0.7h-0.7zM33.7 36.8h0.7v0.7h-0.7zM33.6 28.9h0.7v0.7h-0.7zM30.5 40.5h0.7v0.7h-0.7zM28.7 26.8h0.7v0.7h-0.7zM23.7 45.4h0.7v0.7h-0.7zM34.5 29.6h0.7v0.7h-0.7zM22.7 28.4h0.7v0.7h-0.7zM19.6 37.6h0.7v0.7h-0.7zM20.1 32.2h0.7v0.7h-0.7zM20.4 33.4h0.7v0.7h-0.7zM34.8 29.1h0.7v0.7h-0.7zM31.3 41.4h0.7v0.7h-0.7zM24.5 28.5h0.7v0.7h-0.7zM32.7 37.1h0.7v0.7h-0.7zM29.4 26.3h0.7v0.7h-0.7zM21.4 44.8h0.7v0.7h-0.7zM20.6 32.1h0.7v0.7h-0.7zM34.2 34.6h0.7v0.7h-0.7zM19.5 37.6h0.7v0.7h-0.7zM30.3 41.6h0.7v0.7h-0.7zM25.1 28.2h0.7v0.7h-0.7zM33.0 36.4h0.7v0.7h-0.7zM19.3 43.7h0.7v0.7h-0.7zM30.0 27.9h0.7v0.7h-0.7zM19.4 34.3h0.7v0.7h-0.7zM34.0 29.6h0.7v0.7h-0.7zM19.7 38.3h0.7v0.7h-0.7zM31.7 39.1h0.7v0.7h-0.7zM28.3 27.2h0.7v0.7h-0.7zM26.4 26.6h0.7v0.7h-0.7zM23.9 28.2h0.7v0.7h-0.7zM32.7 36.8h0.7v0.7h-0.7zM21.2 44.6h0.7v0.7h-0.7zM22.1 46.0h0.7v0.7h-0.7zM21.0 32.4h0.7v0.7h-0.7zM35.0 33.1h0.7v0.7h-0.7zM23.0 29.5h0.7v0.7h-0.7zM19.7 41.7h0.7v0.7h-0.7zM29.4 27.9h0.7v0.7h-0.7zM20.0 32.0h0.7v0.7h-0.7zM20.9 43.9h0.7v0.7h-0.7zM21.1 31.3h0.7v0.7h-0.7zM34.1 31.0h0.7v0.7h-0.7zM22.7 29.6h0.7v0.7h-0.7zM34.9 32.7h0.7v0.7h-0.7zM28.5 43.3h0.7v0.7h-0.7zM20.1 44.1h0.7v0.7h-0.7zM20.3 33.1h0.7v0.7h-0.7zM20.2 44.5h0.7v0.7h-0.7zM19.0 36.7h0.7v0.7h-0.7zM20.1 36.7h0.7v0.7h-0.7zM19.4 38.0h0.7v0.7h-0.7zM33.7 29.1h0.7v0.7h-0.7zM19.8 34.2h0.7v0.7h-0.7zM19.9 38.5h0.7v0.7h-0.7zM29.6 43.7h0.7v0.7h-0.7zM23.0 28.0h0.7v0.7h-0.7zM33.5 37.0h0.7v0.7h-0.7zM22.5 46.3h0.7v0.7h-0.7zM25.4 26.6h0.7v0.7h-0.7zM32.5 38.1h0.7v0.7h-0.7zM19.8 43.5h0.7v0.7h-0.7zM31.6 40.7h0.7v0.7h-0.7zM21.5 46.4h0.7v0.7h-0.7zM22.2 29.8h0.7v0.7h-0.7zM33.4 27.4h0.7v0.7h-0.7zM21.3 44.7h0.7v0.7h-0.7zM20.3 36.2h0.7v0.7h-0.7zM33.8 27.7h0.7v0.7h-0.7zM19.8 33.9h0.7v0.7h-0.7zM26.9 27.6h0.7v0.7h-0.7zM32.0 39.3h0.7v0.7h-0.7zM19.7 39.7h0.7v0.7h-0.7zM31.7 26.6h0.7v0.7h-0.7zM19.3 41.6h0.7v0.7h-0.7zM20.4 32.9h0.7v0.7h-0.7z" fill="#555"/><path d="M19.6 41.7h0.7v0.7h-0.7zM24.1 46.4h0.7v0.7h-0.7zM16.8 51.0h0.7v0.7h-0.7zM17.3 35.6h0.7v0.7h-0.7zM17.2 45.5h0.7v0.7h-0.7zM25.5 46.6h0.7v0.7h-0.7zM19.5 38.6h0.7v0.7h-0.7zM21.8 45.7h0.7v0.7h-0.7zM20.9 34.3h0.7v0.7h-0.7zM16.6 40.4h0.7v0.7h-0.7zM18.1 41.4h0.7v0.7h-0.7zM18.0 32.0h0.7v0.7h-0.7zM18.5 44.7h0.7v0.7h-0.7zM20.7 43.0h0.7v0.7h-0.7zM17.4 44.4h0.7v0.7h-0.7zM28.6 44.4h0.7v0.7h-0.7zM16.1 43.8h0.7v0.7h-0.7zM21.5 47.8h0.7v0.7h-0.7zM20.7 31.1h0.7v0.7h-0.7zM20.0 46.4h0.7v0.7h-0.7zM26.2 27.0h0.7v0.7h-0.7zM19.2 42.0h0.7v0.7h-0.7zM18.4 31.9h0.7v0.7h-0.7zM21.2 44.3h0.7v0.7h-0.7zM24.0 46.0h0.7v0.7h-0.7zM17.1 37.7h0.7v0.7h-0.7zM14.9 42.9h0.7v0.7h-0.7zM14.5 43.3h0.7v0.7h-0.7zM17.6 43.3h0.7v0.7h-0.7zM19.0 42.9h0.7v0.7h-0.7zM20.2 41.9h0.7v0.7h-0.7zM18.4 43.9h0.7v0.7h-0.7zM20.8 33.7h0.7v0.7h-0.7zM16.5 35.2h0.7v0.7h-0.7zM20.1 40.1h0.7v0.7h-0.7zM19.2 52.5h0.7v0.7h-0.7zM18.4 44.3h0.7v0.7h-0.7zM20.2 50.6h0.7v0.7h-0.7zM17.3 40.6h0.7v0.7h-0.7zM18.4 37.7h0.7v0.7h-0.7zM20.0 43.2h0.7v0.7h-0.7zM16.6 38.8h0.7v0.7h-0.7zM20.9 28.6h0.7v0.7h-0.7zM13.4 39.9h0.7v0.7h-0.7zM24.0 48.7h0.7v0.7h-0.7zM17.7 44.4h0.7v0.7h-0.7zM19.0 46.7h0.7v0.7h-0.7zM20.5 47.6h0.7v0.7h-0.7zM17.4 46.5h0.7v0.7h-0.7zM19.4 44.6h0.7v0.7h-0.7zM15.7 36.0h0.7v0.7h-0.7zM17.3 35.9h0.7v0.7h-0.7zM18.7 51.0h0.7v0.7h-0.7zM17.8 36.0h0.7v0.7h-0.7zM20.1 48.0h0.7v0.7h-0.7zM19.7 46.0h0.7v0.7h-0.7zM22.2 46.3h0.7v0.7h-0.7zM21.7 49.6h0.7v0.7h-0.7zM22.2 49.4h0.7v0.7h-0.7zM17.8 42.3h0.7v0.7h-0.7zM13.3 33.5h0.7v0.7h-0.7zM19.2 38.9h0.7v0.7h-0.7zM20.2 43.8h0.7v0.7h-0.7zM16.3 32.0h0.7v0.7h-0.7zM24.0 45.4h0.7v0.7h-0.7zM16.8 39.3h0.7v0.7h-0.7zM17.2 37.6h0.7v0.7h-0.7zM20.3 44.0h0.7v0.7h-0.7zM18.6 42.1h0.7v0.7h-0.7zM23.0 54.9h0.7v0.7h-0.7zM18.5 41.0h0.7v0.7h-0.7zM19.9 42.4h0.7v0.7h-0.7zM18.4 39.4h0.7v0.7h-0.7zM14.8 47.0h0.7v0.7h-0.7zM22.1 51.1h0.7v0.7h-0.7zM18.3 42.9h0.7v0.7h-0.7zM18.0 45.2h0.7v0.7h-0.7zM19.1 47.8h0.7v0.7h-0.7zM21.3 29.5h0.7v0.7h-0.7zM17.3 44.5h0.7v0.7h-0.7zM23.3 46.3h0.7v0.7h-0.7zM21.0 46.3h0.7v0.7h-0.7zM18.0 39.4h0.7v0.7h-0.7zM21.1 47.8h0.7v0.7h-0.7zM18.9 48.9h0.7v0.7h-0.7zM14.9 40.0h0.7v0.7h-0.7zM23.2 53.5h0.7v0.7h-0.7zM17.9 38.9h0.7v0.7h-0.7zM18.3 25.4h0.7v0.7h-0.7zM15.6 33.2h0.7v0.7h-0.7zM18.7 49.7h0.7v0.7h-0.7zM19.3 32.4h0.7v0.7h-0.7zM17.9 31.9h0.7v0.7h-0.7zM26.6 44.7h0.7v0.7h-0.7zM18.5 46.2h0.7v0.7h-0.7zM15.7 40.8h0.7v0.7h-0.7zM17.0 39.5h0.7v0.7h-0.7zM14.4 31.3h0.7v0.7h-0.7zM23.4 49.4h0.7v0.7h-0.7zM19.0 32.8h0.7v0.7h-0.7zM20.9 31.9h0.7v0.7h-0.7zM19.3 37.0h0.7v0.7h-0.7zM17.5 51.5h0.7v0.7h-0.7zM21.1 46.7h0.7v0.7h-0.7zM19.3 38.8h0.7v0.7h-0.7zM18.4 44.7h0.7v0.7h-0.7zM22.6 45.1h0.7v0.7h-0.7zM20.5 36.0h0.7v0.7h-0.7zM19.0 45.6h0.7v0.7h-0.7zM18.3 54.4h0.7v0.7h-0.7zM16.8 36.0h0.7v0.7h-0.7zM30.4 47.6h0.7v0.7h-0.7zM17.7 36.8h0.7v0.7h-0.7zM19.7 34.0h0.7v0.7h-0.7zM20.1 44.0h0.7v0.7h-0.7zM20.1 46.2h0.7v0.7h-0.7zM19.2 47.2h0.7v0.7h-0.7zM18.8 37.8h0.7v0.7h-0.7zM16.2 42.7h0.7v0.7h-0.7zM20.3 42.8h0.7v0.7h-0.7zM17.1 48.8h0.7v0.7h-0.7zM22.0 49.0h0.7v0.7h-0.7zM16.9 50.5h0.7v0.7h-0.7zM19.8 49.6h0.7v0.7h-0.7zM17.7 39.8h0.7v0.7h-0.7zM18.3 34.7h0.7v0.7h-0.7zM19.3 47.7h0.7v0.7h-0.7zM17.0 44.3h0.7v0.7h-0.7zM20.4 48.1h0.7v0.7h-0.7zM19.5 45.8h0.7v0.7h-0.7zM14.5 39.9h0.7v0.7h-0.7zM14.7 38.3h0.7v0.7h-0.7zM18.1 43.0h0.7v0.7h-0.7zM19.8 41.9h0.7v0.7h-0.7zM21.6 31.5h0.7v0.7h-0.7zM16.6 34.5h0.7v0.7h-0.7zM17.4 49.6h0.7v0.7h-0.7zM18.4 37.3h0.7v0.7h-0.7zM20.1 39.6h0.7v0.7h-0.7zM18.6 41.5h0.7v0.7h-0.7zM17.5 45.7h0.7v0.7h-0.7zM20.6 46.0h0.7v0.7h-0.7zM23.8 24.4h0.7v0.7h-0.7zM17.9 42.3h0.7v0.7h-0.7zM18.1 46.8h0.7v0.7h-0.7zM19.8 39.9h0.7v0.7h-0.7zM14.1 44.6h0.7v0.7h-0.7zM19.3 48.0h0.7v0.7h-0.7zM18.3 40.7h0.7v0.7h-0.7zM20.2 46.8h0.7v0.7h-0.7zM18.7 35.1h0.7v0.7h-0.7zM25.3 45.8h0.7v0.7h-0.7zM19.7 41.6h0.7v0.7h-0.7zM15.7 49.9h0.7v0.7h-0.7zM19.2 29.2h0.7v0.7h-0.7zM20.5 43.7h0.7v0.7h-0.7zM21.4 29.7h0.7v0.7h-0.7zM20.8 44.0h0.7v0.7h-0.7zM20.7 49.5h0.7v0.7h-0.7zM19.2 37.4h0.7v0.7h-0.7zM15.3 41.9h0.7v0.7h-0.7zM18.5 43.2h0.7v0.7h-0.7zM17.5 32.0h0.7v0.7h-0.7zM16.4 39.2h0.7v0.7h-0.7zM19.9 49.3h0.7v0.7h-0.7zM24.3 52.3h0.7v0.7h-0.7zM21.5 32.0h0.7v0.7h-0.7zM16.8 42.4h0.7v0.7h-0.7zM16.5 43.3h0.7v0.7h-0.7zM15.4 47.0h0.7v0.7h-0.7zM26.5 46.6h0.7v0.7h-0.7zM20.5 45.6h0.7v0.7h-0.7zM24.2 49.1h0.7v0.7h-0.7zM20.4 37.2h0.7v0.7h-0.7zM20.3 37.0h0.7v0.7h-0.7zM24.9 47.6h0.7v0.7h-0.7zM17.6 44.8h0.7v0.7h-0.7zM14.9 34.5h0.7v0.7h-0.7zM17.0 42.0h0.7v0.7h-0.7zM18.2 28.0h0.7v0.7h-0.7zM19.9 42.8h0.7v0.7h-0.7zM16.8 42.7h0.7v0.7h-0.7zM17.3 42.0h0.7v0.7h-0.7zM28.6 47.5h0.7v0.7h-0.7zM19.8 37.7h0.7v0.7h-0.7zM22.0 47.6h0.7v0.7h-0.7zM20.1 36.0h0.7v0.7h-0.7zM15.7 42.0h0.7v0.7h-0.7zM18.1 48.4h0.7v0.7h-0.7zM23.5 45.9h0.7v0.7h-0.7zM22.8 46.8h0.7v0.7h-0.7zM19.5 32.9h0.7v0.7h-0.7zM16.9 44.8h0.7v0.7h-0.7zM17.8 39.8h0.7v0.7h-0.7zM19.1 46.3h0.7v0.7h-0.7zM18.7 37.8h0.7v0.7h-0.7zM20.4 32.1h0.7v0.7h-0.7zM17.0 42.0h0.7v0.7h-0.7zM20.6 35.4h0.7v0.7h-0.7zM21.8 30.0h0.7v0.7h-0.7zM19.6 41.8h0.7v0.7h-0.7zM27.2 47.6h0.7v0.7h-0.7zM17.2 35.1h0.7v0.7h-0.7zM22.1 50.1h0.7v0.7h-0.7zM20.3 35.0h0.7v0.7h-0.7zM19.5 40.5h0.7v0.7h-0.7zM17.7 40.4h0.7v0.7h-0.7zM20.2 33.0h0.7v0.7h-0.7zM18.8 47.3h0.7v0.7h-0.7zM22.2 52.8h0.7v0.7h-0.7zM17.7 46.0h0.7v0.7h-0.7zM20.5 32.3h0.7v0.7h-0.7zM20.1 47.6h0.7v0.7h-0.7zM20.0 45.0h0.7v0.7h-0.7zM22.3 46.8h0.7v0.7h-0.7zM25.7 47.5h0.7v0.7h-0.7zM15.6 33.7h0.7v0.7h-0.7zM20.2 47.5h0.7v0.7h-0.7zM14.9 41.8h0.7v0.7h-0.7zM17.2 45.3h0.7v0.7h-0.7zM25.4 45.1h0.7v0.7h-0.7zM20.5 48.9h0.7v0.7h-0.7zM20.3 47.5h0.7v0.7h-0.7zM20.6 48.3h0.7v0.7h-0.7zM21.9 50.4h0.7v0.7h-0.7zM19.1 45.8h0.7v0.7h-0.7zM24.6 49.9h0.7v0.7h-0.7zM22.6 49.3h0.7v0.7h-0.7zM18.3 40.7h0.7v0.7h-0.7zM17.2 38.0h0.7v0.7h-0.7zM18.7 39.8h0.7v0.7h-0.7zM24.7 52.4h0.7v0.7h-0.7zM22.1 44.8h0.7v0.7h-0.7zM25.2 50.9h0.7v0.7h-0.7zM15.6 47.1h0.7v0.7h-0.7zM20.9 52.2h0.7v0.7h-0.7zM18.2 44.7h0.7v0.7h-0.7zM18.6 42.4h0.7v0.7h-0.7zM18.1 44.6h0.7v0.7h-0.7zM16.0 34.8h0.7v0.7h-0.7zM20.7 33.7h0.7v0.7h-0.7zM20.5 43.4h0.7v0.7h-0.7zM22.0 47.7h0.7v0.7h-0.7zM18.5 43.2h0.7v0.7h-0.7zM24.7 47.2h0.7v0.7h-0.7zM18.8 44.1h0.7v0.7h-0.7zM28.8 44.7h0.7v0.7h-0.7zM18.4 41.3h0.7v0.7h-0.7zM18.2 45.2h0.7v0.7h-0.7zM16.3 35.0h0.7v0.7h-0.7zM19.9 36.3h0.7v0.7h-0.7zM15.5 39.8h0.7v0.7h-0.7zM23.1 57.3h0.7v0.7h-0.7zM17.3 37.8h0.7v0.7h-0.7zM21.6 27.9h0.7v0.7h-0.7zM31.3 40.6h0.7v0.7h-0.7zM20.4 37.5h0.7v0.7h-0.7zM15.0 38.6h0.7v0.7h-0.7zM13.8 37.7h0.7v0.7h-0.7zM21.3 49.8h0.7v0.7h-0.7z" fill="#555"/><path d="M24.9 50.1h0.7v0.7h-0.7zM15.1 53.0h0.7v0.7h-0.7zM27.8 43.7h0.7v0.7h-0.7zM24.5 45.6h0.7v0.7h-0.7zM29.0 47.2h0.7v0.7h-0.7zM9.8 30.1h0.7v0.7h-0.7zM20.9 51.3h0.7v0.7h-0.7zM18.5 42.7h0.7v0.7h-0.7zM25.2 53.8h0.7v0.7h-0.7zM10.3 43.3h0.7v0.7h-0.7zM19.6 49.0h0.7v0.7h-0.7zM20.1 33.7h0.7v0.7h-0.7zM10.2 34.1h0.7v0.7h-0.7zM20.0 37.7h0.7v0.7h-0.7zM15.2 56.0h0.7v0.7h-0.7zM14.5 42.2h0.7v0.7h-0.7zM28.2 44.1h0.7v0.7h-0.7zM11.9 44.2h0.7v0.7h-0.7zM21.9 52.1h0.7v0.7h-0.7zM17.9 34.9h0.7v0.7h-0.7zM20.1 37.4h0.7v0.7h-0.7zM23.1 48.0h0.7v0.7h-0.7zM15.9 35.7h0.7v0.7h-0.7zM23.6 52.5h0.7v0.7h-0.7zM26.1 58.6h0.7v0.7h-0.7zM17.0 31.3h0.7v0.7h-0.7zM21.8 45.6h0.7v0.7h-0.7zM17.8 32.7h0.7v0.7h-0.7zM24.6 49.1h0.7v0.7h-0.7zM28.7 43.7h0.7v0.7h-0.7zM25.8 52.0h0.7v0.7h-0.7zM24.2 26.0h0.7v0.7h-0.7zM19.2 50.0h0.7v0.7h-0.7zM26.5 47.0h0.7v0.7h-0.7zM19.1 48.4h0.7v0.7h-0.7zM18.0 46.9h0.7v0.7h-0.7zM18.2 51.9h0.7v0.7h-0.7zM12.9 38.0h0.7v0.7h-0.7zM18.9 41.5h0.7v0.7h-0.7zM22.9 52.4h0.7v0.7h-0.7zM19.8 40.9h0.7v0.7h-0.7zM28.6 43.9h0.7v0.7h-0.7zM19.4 40.3h0.7v0.7h-0.7zM17.0 39.2h0.7v0.7h-0.7zM13.7 50.1h0.7v0.7h-0.7zM31.1 42.3h0.7v0.7h-0.7zM17.4 46.4h0.7v0.7h-0.7zM26.4 47.5h0.7v0.7h-0.7zM27.6 44.5h0.7v0.7h-0.7zM21.3 44.6h0.7v0.7h-0.7zM17.5 41.8h0.7v0.7h-0.7zM13.5 37.0h0.7v0.7h-0.7zM10.4 37.1h0.7v0.7h-0.7zM21.6 47.5h0.7v0.7h-0.7zM23.2 56.0h0.7v0.7h-0.7zM17.8 41.2h0.7v0.7h-0.7zM25.2 45.1h0.7v0.7h-0.7zM14.0 41.1h0.7v0.7h-0.7zM11.9 43.1h0.7v0.7h-0.7zM18.1 49.5h0.7v0.7h-0.7zM12.7 45.7h0.7v0.7h-0.7zM17.0 41.0h0.7v0.7h-0.7zM13.4 55.1h0.7v0.7h-0.7zM20.8 44.5h0.7v0.7h-0.7zM33.7 33.6h0.7v0.7h-0.7zM24.6 48.5h0.7v0.7h-0.7zM22.3 51.1h0.7v0.7h-0.7zM20.3 36.3h0.7v0.7h-0.7zM13.3 49.1h0.7v0.7h-0.7zM20.2 46.9h0.7v0.7h-0.7zM28.6 48.4h0.7v0.7h-0.7zM30.4 48.3h0.7v0.7h-0.7zM16.2 47.5h0.7v0.7h-0.7zM24.1 53.9h0.7v0.7h-0.7zM25.7 50.2h0.7v0.7h-0.7zM22.8 50.5h0.7v0.7h-0.7zM29.2 42.6h0.7v0.7h-0.7zM19.6 41.7h0.7v0.7h-0.7zM12.9 50.4h0.7v0.7h-0.7zM15.9 33.0h0.7v0.7h-0.7zM20.5 48.5h0.7v0.7h-0.7zM23.8 46.3h0.7v0.7h-0.7zM23.5 48.7h0.7v0.7h-0.7zM21.7 49.9h0.7v0.7h-0.7zM9.7 38.5h0.7v0.7h-0.7zM8.6 41.4h0.7v0.7h-0.7zM19.2 43.5h0.7v0.7h-0.7zM17.8 42.6h0.7v0.7h-0.7zM27.3 46.7h0.7v0.7h-0.7zM19.4 44.5h0.7v0.7h-0.7zM18.7 51.4h0.7v0.7h-0.7zM26.3 47.9h0.7v0.7h-0.7zM19.3 42.9h0.7v0.7h-0.7zM24.0 46.5h0.7v0.7h-0.7zM17.1 41.1h0.7v0.7h-0.7zM19.3 50.3h0.7v0.7h-0.7zM28.1 56.8h0.7v0.7h-0.7zM18.5 44.9h0.7v0.7h-0.7zM26.1 55.4h0.7v0.7h-0.7zM21.6 44.9h0.7v0.7h-0.7zM18.6 37.8h0.7v0.7h-0.7zM18.0 30.2h0.7v0.7h-0.7zM9.3 55.3h0.7v0.7h-0.7zM18.7 41.7h0.7v0.7h-0.7zM22.0 50.8h0.7v0.7h-0.7zM26.1 52.9h0.7v0.7h-0.7zM22.1 47.2h0.7v0.7h-0.7zM16.8 42.1h0.7v0.7h-0.7zM21.9 57.3h0.7v0.7h-0.7zM18.7 39.2h0.7v0.7h-0.7zM15.7 39.8h0.7v0.7h-0.7zM12.2 54.2h0.7v0.7h-0.7zM29.0 43.3h0.7v0.7h-0.7zM23.1 48.2h0.7v0.7h-0.7zM17.6 48.9h0.7v0.7h-0.7zM20.7 46.6h0.7v0.7h-0.7zM20.0 49.3h0.7v0.7h-0.7zM21.3 45.5h0.7v0.7h-0.7zM26.7 52.0h0.7v0.7h-0.7zM19.6 34.2h0.7v0.7h-0.7z" fill="#999"/><path d="M24.5,44.8 23.8,44.8 23.0,44.8 22.5,44.7 22.0,44.4 21.6,44.0 21.2,43.5 21.0,43.0 20.9,42.5 20.7,42.0 20.5,41.2 20.4,40.8 20.4,40.0 20.4,39.2 20.5,38.5 20.6,38.0 20.6,37.2 20.7,36.5 20.8,36.0 20.9,35.2 21.1,34.8 21.2,34.1 21.4,33.5 21.6,33.0 21.8,32.5 22.0,31.9 22.2,31.4 22.5,30.9 22.8,30.5 23.1,30.0 23.5,29.5 23.8,29.2 24.2,28.9 24.8,28.6 25.2,28.5 26.0,28.2 26.5,28.2 27.2,28.1 28.0,28.1 28.8,28.1 29.5,28.1 30.2,28.2 30.8,28.3 31.5,28.5 32.0,28.6 32.5,28.8 33.0,29.1 33.4,29.5 33.6,30.0 33.6,30.8 33.5,31.5 33.4,32.0 33.2,32.6 33.0,33.2 32.9,33.8 32.7,34.2 32.5,34.8 32.2,35.4 32.0,36.0 31.8,36.5 31.6,37.0 31.3,37.5 31.1,38.0 30.8,38.5 30.6,39.0 30.3,39.5 30.0,40.0 29.8,40.4 29.5,40.8 29.2,41.2 28.8,41.8 28.5,42.1 28.1,42.5 27.8,42.9 27.4,43.2 27.0,43.6 26.5,43.9 26.0,44.2 25.5,44.5 25.0,44.6 24.5,44.8Z" fill="none" stroke="#222" stroke-width="1.0" stroke-linejoin="round"/><path d="M24.2,43.0 23.5,43.0 23.0,42.8 22.8,42.4 22.5,41.9 22.3,41.2 22.2,40.8 22.1,40.0 22.1,39.2 22.2,38.5 22.3,38.0 22.4,37.2 22.5,36.5 22.6,36.0 22.7,35.2 22.9,34.8 23.0,34.2 23.2,33.5 23.5,33.0 23.7,32.5 23.9,32.0 24.2,31.5 24.5,31.0 24.8,30.7 25.2,30.4 25.8,30.1 26.2,30.0 27.0,29.8 27.8,29.8 28.5,29.8 29.2,29.8 30.0,29.9 30.5,30.0 31.1,30.2 31.5,30.5 31.7,31.2 31.6,32.0 31.4,32.5 31.2,33.1 31.0,33.8 30.8,34.2 30.6,34.8 30.4,35.2 30.2,35.8 30.0,36.2 29.7,36.8 29.5,37.2 29.2,37.8 29.0,38.2 28.7,38.8 28.4,39.2 28.1,39.8 27.8,40.2 27.5,40.6 27.2,41.0 26.8,41.5 26.4,41.8 26.0,42.1 25.5,42.5 25.0,42.8 24.5,42.9Z" fill="none" stroke="#888" stroke-width="0.5" stroke-linejoin="round"/><path d="M25.0,40.8 24.2,40.8 24.0,40.5 23.8,39.8 23.8,39.0 23.9,38.2 24.0,37.5 24.0,37.0 24.2,36.2 24.3,35.8 24.5,35.0 24.6,34.5 24.8,34.0 25.0,33.5 25.2,32.9 25.5,32.5 25.9,32.0 26.2,31.7 27.0,31.5 27.5,31.4 28.2,31.4 29.0,31.5 29.5,31.7 29.7,32.2 29.6,33.0 29.4,33.5 29.2,34.0 29.0,34.5 28.8,35.1 28.5,35.6 28.2,36.2 28.0,36.7 27.8,37.1 27.5,37.6 27.2,38.0 27.0,38.5 26.7,39.0 26.3,39.5 26.0,39.9 25.6,40.2 25.2,40.6Z" fill="none" stroke="#999" stroke-width="0.5" stroke-linejoin="round"/></g><g transform="translate(404.30,129.50)" clip-path="url(#c7)"><g filter="url(#bl2)"><ellipse cx="32.5" cy="21.8" rx="3.6799999999999997" ry="4.14" fill="#999"/></g><path d="M34.0 32.9h0.7v0.7h-0.7zM20.5 43.3h0.7v0.7h-0.7zM22.8 44.5h0.7v0.7h-0.7zM25.9 44.1h0.7v0.7h-0.7zM32.8 26.2h0.7v0.7h-0.7zM33.3 36.7h0.7v0.7h-0.7zM32.6 36.1h0.7v0.7h-0.7zM18.8 40.1h0.7v0.7h-0.7zM20.8 27.2h0.7v0.7h-0.7zM21.6 27.2h0.7v0.7h-0.7zM31.3 26.9h0.7v0.7h-0.7zM19.2 32.9h0.7v0.7h-0.7zM33.9 28.1h0.7v0.7h-0.7zM33.5 26.1h0.7v0.7h-0.7zM34.1 28.8h0.7v0.7h-0.7zM18.5 33.1h0.7v0.7h-0.7zM18.9 34.2h0.7v0.7h-0.7zM33.2 26.7h0.7v0.7h-0.7zM18.0 41.9h0.7v0.7h-0.7zM19.1 36.8h0.7v0.7h-0.7zM18.7 36.1h0.7v0.7h-0.7zM32.9 27.3h0.7v0.7h-0.7zM21.5 28.3h0.7v0.7h-0.7zM25.6 45.0h0.7v0.7h-0.7zM19.7 29.4h0.7v0.7h-0.7zM28.4 41.7h0.7v0.7h-0.7zM20.6 45.2h0.7v0.7h-0.7zM34.7 30.5h0.7v0.7h-0.7zM26.7 26.1h0.7v0.7h-0.7zM18.6 33.0h0.7v0.7h-0.7zM19.1 43.0h0.7v0.7h-0.7zM34.5 28.9h0.7v0.7h-0.7zM31.2 38.2h0.7v0.7h-0.7zM21.0 28.0h0.7v0.7h-0.7zM34.0 31.0h0.7v0.7h-0.7zM19.2 41.8h0.7v0.7h-0.7zM34.8 33.4h0.7v0.7h-0.7zM18.0 34.5h0.7v0.7h-0.7zM19.1 32.9h0.7v0.7h-0.7zM20.3 28.8h0.7v0.7h-0.7zM30.3 39.4h0.7v0.7h-0.7zM29.3 40.4h0.7v0.7h-0.7zM20.5 31.0h0.7v0.7h-0.7zM19.3 42.7h0.7v0.7h-0.7zM26.9 26.3h0.7v0.7h-0.7zM28.2 42.3h0.7v0.7h-0.7zM29.7 26.2h0.7v0.7h-0.7zM21.4 27.0h0.7v0.7h-0.7zM23.3 44.3h0.7v0.7h-0.7zM18.7 37.0h0.7v0.7h-0.7zM31.7 37.3h0.7v0.7h-0.7zM34.4 28.6h0.7v0.7h-0.7zM21.6 27.8h0.7v0.7h-0.7zM22.7 26.7h0.7v0.7h-0.7zM26.3 25.4h0.7v0.7h-0.7zM34.0 32.7h0.7v0.7h-0.7zM20.7 29.3h0.7v0.7h-0.7zM19.3 35.4h0.7v0.7h-0.7zM25.9 45.4h0.7v0.7h-0.7zM33.7 33.7h0.7v0.7h-0.7zM26.8 26.3h0.7v0.7h-0.7zM32.9 36.5h0.7v0.7h-0.7zM35.2 27.9h0.7v0.7h-0.7zM20.8 44.5h0.7v0.7h-0.7zM22.8 44.6h0.7v0.7h-0.7zM35.3 28.9h0.7v0.7h-0.7zM33.0 37.1h0.7v0.7h-0.7zM18.5 41.4h0.7v0.7h-0.7zM19.8 30.2h0.7v0.7h-0.7zM29.7 40.5h0.7v0.7h-0.7zM28.7 43.4h0.7v0.7h-0.7zM32.9 34.6h0.7v0.7h-0.7zM33.7 26.7h0.7v0.7h-0.7zM20.6 29.1h0.7v0.7h-0.7zM19.6 32.5h0.7v0.7h-0.7zM35.4 29.2h0.7v0.7h-0.7zM19.4 32.2h0.7v0.7h-0.7zM23.7 44.6h0.7v0.7h-0.7zM18.5 41.4h0.7v0.7h-0.7zM24.3 45.1h0.7v0.7h-0.7zM31.7 37.9h0.7v0.7h-0.7zM27.9 42.9h0.7v0.7h-0.7zM30.5 38.5h0.7v0.7h-0.7zM19.2 38.8h0.7v0.7h-0.7zM20.2 30.4h0.7v0.7h-0.7zM33.9 27.7h0.7v0.7h-0.7zM22.0 27.8h0.7v0.7h-0.7zM31.3 40.1h0.7v0.7h-0.7zM24.9 44.8h0.7v0.7h-0.7zM24.9 25.8h0.7v0.7h-0.7zM30.9 25.8h0.7v0.7h-0.7zM20.4 30.6h0.7v0.7h-0.7zM18.6 35.7h0.7v0.7h-0.7zM19.1 35.5h0.7v0.7h-0.7zM29.6 41.6h0.7v0.7h-0.7zM21.0 43.8h0.7v0.7h-0.7zM23.4 45.1h0.7v0.7h-0.7zM27.6 26.4h0.7v0.7h-0.7zM31.4 38.3h0.7v0.7h-0.7zM30.8 25.6h0.7v0.7h-0.7zM35.3 30.0h0.7v0.7h-0.7zM30.5 26.0h0.7v0.7h-0.7zM32.6 35.4h0.7v0.7h-0.7zM33.7 28.0h0.7v0.7h-0.7zM34.0 32.6h0.7v0.7h-0.7zM23.6 26.0h0.7v0.7h-0.7zM20.1 29.7h0.7v0.7h-0.7zM27.3 43.2h0.7v0.7h-0.7zM32.5 36.8h0.7v0.7h-0.7zM24.8 44.4h0.7v0.7h-0.7zM22.0 27.0h0.7v0.7h-0.7zM34.4 33.2h0.7v0.7h-0.7zM20.2 28.4h0.7v0.7h-0.7zM27.9 25.3h0.7v0.7h-0.7zM18.7 39.9h0.7v0.7h-0.7zM19.9 28.9h0.7v0.7h-0.7zM34.6 31.7h0.7v0.7h-0.7zM33.5 27.2h0.7v0.7h-0.7zM24.1 26.0h0.7v0.7h-0.7zM31.3 37.9h0.7v0.7h-0.7zM18.1 41.0h0.7v0.7h-0.7zM27.5 43.0h0.7v0.7h-0.7zM27.9 42.5h0.7v0.7h-0.7zM28.5 42.2h0.7v0.7h-0.7zM19.0 43.7h0.7v0.7h-0.7zM30.7 40.2h0.7v0.7h-0.7zM18.9 38.1h0.7v0.7h-0.7zM18.3 41.9h0.7v0.7h-0.7zM27.3 43.3h0.7v0.7h-0.7zM18.3 35.7h0.7v0.7h-0.7zM24.8 26.4h0.7v0.7h-0.7zM19.9 30.5h0.7v0.7h-0.7zM23.8 45.0h0.7v0.7h-0.7zM20.9 30.2h0.7v0.7h-0.7zM33.4 34.2h0.7v0.7h-0.7zM35.5 30.4h0.7v0.7h-0.7zM30.1 41.7h0.7v0.7h-0.7zM33.3 27.1h0.7v0.7h-0.7zM33.1 34.6h0.7v0.7h-0.7zM20.0 42.6h0.7v0.7h-0.7zM34.4 33.9h0.7v0.7h-0.7zM25.2 26.6h0.7v0.7h-0.7zM30.5 39.8h0.7v0.7h-0.7zM18.4 42.4h0.7v0.7h-0.7zM18.2 41.9h0.7v0.7h-0.7zM33.3 34.9h0.7v0.7h-0.7zM20.7 30.7h0.7v0.7h-0.7zM18.3 37.8h0.7v0.7h-0.7zM21.0 44.8h0.7v0.7h-0.7zM30.0 42.0h0.7v0.7h-0.7zM24.0 26.2h0.7v0.7h-0.7zM29.4 42.6h0.7v0.7h-0.7zM32.6 38.0h0.7v0.7h-0.7zM22.6 26.5h0.7v0.7h-0.7zM20.9 44.7h0.7v0.7h-0.7zM21.7 28.1h0.7v0.7h-0.7zM19.2 41.4h0.7v0.7h-0.7zM29.7 42.0h0.7v0.7h-0.7zM21.1 28.6h0.7v0.7h-0.7zM34.1 33.1h0.7v0.7h-0.7zM19.5 42.9h0.7v0.7h-0.7zM18.1 38.5h0.7v0.7h-0.7zM24.8 26.0h0.7v0.7h-0.7zM25.4 26.4h0.7v0.7h-0.7zM20.4 28.5h0.7v0.7h-0.7zM22.2 45.6h0.7v0.7h-0.7zM34.7 27.2h0.7v0.7h-0.7zM23.1 26.4h0.7v0.7h-0.7zM32.3 25.6h0.7v0.7h-0.7zM18.5 40.0h0.7v0.7h-0.7zM33.6 26.3h0.7v0.7h-0.7zM32.6 35.2h0.7v0.7h-0.7zM34.9 27.6h0.7v0.7h-0.7zM19.1 31.2h0.7v0.7h-0.7zM20.4 29.1h0.7v0.7h-0.7zM27.9 42.2h0.7v0.7h-0.7zM35.3 31.2h0.7v0.7h-0.7zM29.8 42.2h0.7v0.7h-0.7zM23.4 44.5h0.7v0.7h-0.7zM18.2 37.8h0.7v0.7h-0.7zM19.1 38.9h0.7v0.7h-0.7zM21.2 28.8h0.7v0.7h-0.7zM22.3 45.1h0.7v0.7h-0.7zM20.7 44.9h0.7v0.7h-0.7zM33.7 28.0h0.7v0.7h-0.7zM22.6 44.8h0.7v0.7h-0.7zM32.2 37.5h0.7v0.7h-0.7zM33.2 34.1h0.7v0.7h-0.7zM31.8 25.4h0.7v0.7h-0.7zM23.0 27.1h0.7v0.7h-0.7zM27.8 43.7h0.7v0.7h-0.7zM33.9 26.7h0.7v0.7h-0.7zM33.1 26.1h0.7v0.7h-0.7zM25.6 25.6h0.7v0.7h-0.7zM32.5 26.9h0.7v0.7h-0.7zM19.0 40.9h0.7v0.7h-0.7zM19.4 40.6h0.7v0.7h-0.7zM32.2 26.3h0.7v0.7h-0.7zM20.6 45.1h0.7v0.7h-0.7zM19.1 40.0h0.7v0.7h-0.7z" fill="#555"/><path d="M19.8 41.8h0.7v0.7h-0.7zM18.7 33.1h0.7v0.7h-0.7zM28.6 46.7h0.7v0.7h-0.7zM21.0 45.9h0.7v0.7h-0.7zM18.9 52.3h0.7v0.7h-0.7zM17.8 53.4h0.7v0.7h-0.7zM20.5 44.2h0.7v0.7h-0.7zM14.8 46.1h0.7v0.7h-0.7zM19.9 45.7h0.7v0.7h-0.7zM20.4 46.7h0.7v0.7h-0.7zM17.0 44.1h0.7v0.7h-0.7zM16.5 39.2h0.7v0.7h-0.7zM20.7 50.7h0.7v0.7h-0.7zM19.3 48.7h0.7v0.7h-0.7zM23.5 44.7h0.7v0.7h-0.7zM17.1 51.3h0.7v0.7h-0.7zM17.7 36.7h0.7v0.7h-0.7zM18.5 42.0h0.7v0.7h-0.7zM12.4 40.8h0.7v0.7h-0.7zM20.9 47.5h0.7v0.7h-0.7zM16.1 49.2h0.7v0.7h-0.7zM18.7 36.4h0.7v0.7h-0.7zM18.8 42.4h0.7v0.7h-0.7zM17.1 40.9h0.7v0.7h-0.7zM17.2 41.7h0.7v0.7h-0.7zM19.5 41.5h0.7v0.7h-0.7zM26.6 43.8h0.7v0.7h-0.7zM19.5 42.7h0.7v0.7h-0.7zM19.7 52.3h0.7v0.7h-0.7zM15.9 48.2h0.7v0.7h-0.7zM16.1 42.8h0.7v0.7h-0.7zM17.7 43.7h0.7v0.7h-0.7zM19.1 44.3h0.7v0.7h-0.7zM21.8 47.1h0.7v0.7h-0.7zM18.9 34.8h0.7v0.7h-0.7zM20.5 44.8h0.7v0.7h-0.7zM18.1 29.5h0.7v0.7h-0.7zM20.1 43.6h0.7v0.7h-0.7zM18.3 46.7h0.7v0.7h-0.7zM13.2 39.1h0.7v0.7h-0.7zM23.3 46.1h0.7v0.7h-0.7zM19.3 45.4h0.7v0.7h-0.7zM18.2 38.3h0.7v0.7h-0.7zM18.2 42.6h0.7v0.7h-0.7zM25.1 52.8h0.7v0.7h-0.7zM19.6 45.1h0.7v0.7h-0.7zM18.7 33.8h0.7v0.7h-0.7zM20.8 49.1h0.7v0.7h-0.7zM20.1 44.8h0.7v0.7h-0.7zM20.3 31.6h0.7v0.7h-0.7zM21.0 46.9h0.7v0.7h-0.7zM20.7 48.9h0.7v0.7h-0.7zM19.1 44.7h0.7v0.7h-0.7zM18.0 39.3h0.7v0.7h-0.7zM19.5 47.0h0.7v0.7h-0.7zM20.6 51.3h0.7v0.7h-0.7zM16.4 44.4h0.7v0.7h-0.7zM17.3 34.8h0.7v0.7h-0.7zM20.0 45.2h0.7v0.7h-0.7zM22.1 46.4h0.7v0.7h-0.7zM19.4 34.2h0.7v0.7h-0.7zM25.8 47.2h0.7v0.7h-0.7zM17.0 48.5h0.7v0.7h-0.7zM19.5 42.3h0.7v0.7h-0.7zM21.5 53.5h0.7v0.7h-0.7zM21.8 46.6h0.7v0.7h-0.7zM18.8 41.2h0.7v0.7h-0.7zM13.8 38.7h0.7v0.7h-0.7zM17.8 47.5h0.7v0.7h-0.7zM29.7 54.5h0.7v0.7h-0.7zM19.8 50.4h0.7v0.7h-0.7zM17.2 41.4h0.7v0.7h-0.7zM18.6 45.0h0.7v0.7h-0.7zM21.7 25.0h0.7v0.7h-0.7zM24.4 47.5h0.7v0.7h-0.7zM22.6 45.0h0.7v0.7h-0.7zM19.9 47.1h0.7v0.7h-0.7zM23.2 49.6h0.7v0.7h-0.7zM27.2 52.8h0.7v0.7h-0.7zM21.9 46.5h0.7v0.7h-0.7zM16.4 34.5h0.7v0.7h-0.7zM19.5 56.3h0.7v0.7h-0.7zM21.5 46.2h0.7v0.7h-0.7zM23.5 44.4h0.7v0.7h-0.7zM16.0 46.8h0.7v0.7h-0.7zM17.9 44.8h0.7v0.7h-0.7zM17.3 42.8h0.7v0.7h-0.7zM14.8 33.7h0.7v0.7h-0.7zM20.2 46.4h0.7v0.7h-0.7zM26.9 47.0h0.7v0.7h-0.7zM18.8 46.3h0.7v0.7h-0.7zM16.6 43.2h0.7v0.7h-0.7zM25.0 47.9h0.7v0.7h-0.7zM13.8 43.1h0.7v0.7h-0.7zM18.0 33.1h0.7v0.7h-0.7zM15.3 41.3h0.7v0.7h-0.7zM17.6 42.2h0.7v0.7h-0.7zM20.6 46.1h0.7v0.7h-0.7zM14.9 31.0h0.7v0.7h-0.7zM23.5 47.5h0.7v0.7h-0.7zM24.2 26.6h0.7v0.7h-0.7zM15.2 42.3h0.7v0.7h-0.7zM16.8 47.6h0.7v0.7h-0.7zM19.4 48.4h0.7v0.7h-0.7zM19.0 48.5h0.7v0.7h-0.7zM17.0 34.7h0.7v0.7h-0.7zM23.5 49.0h0.7v0.7h-0.7zM14.6 46.5h0.7v0.7h-0.7zM18.0 41.7h0.7v0.7h-0.7zM17.7 47.9h0.7v0.7h-0.7zM20.7 46.8h0.7v0.7h-0.7zM15.5 47.2h0.7v0.7h-0.7zM15.8 35.3h0.7v0.7h-0.7zM23.1 44.9h0.7v0.7h-0.7zM22.4 48.3h0.7v0.7h-0.7zM25.9 44.2h0.7v0.7h-0.7zM20.4 44.3h0.7v0.7h-0.7zM25.0 48.6h0.7v0.7h-0.7zM29.5 42.3h0.7v0.7h-0.7zM15.8 33.4h0.7v0.7h-0.7zM23.5 49.0h0.7v0.7h-0.7zM21.0 47.1h0.7v0.7h-0.7zM17.9 44.4h0.7v0.7h-0.7zM21.3 46.4h0.7v0.7h-0.7zM22.5 45.7h0.7v0.7h-0.7zM22.7 46.7h0.7v0.7h-0.7zM20.6 48.1h0.7v0.7h-0.7zM16.8 31.7h0.7v0.7h-0.7zM17.5 39.3h0.7v0.7h-0.7zM15.3 35.3h0.7v0.7h-0.7zM25.5 49.3h0.7v0.7h-0.7zM20.1 47.0h0.7v0.7h-0.7zM23.9 46.8h0.7v0.7h-0.7zM20.4 44.1h0.7v0.7h-0.7zM22.3 24.1h0.7v0.7h-0.7zM18.3 47.5h0.7v0.7h-0.7zM19.6 46.3h0.7v0.7h-0.7zM21.3 52.3h0.7v0.7h-0.7zM18.3 34.3h0.7v0.7h-0.7zM21.2 44.8h0.7v0.7h-0.7zM20.0 31.8h0.7v0.7h-0.7zM19.3 44.9h0.7v0.7h-0.7zM18.2 37.3h0.7v0.7h-0.7zM12.2 40.4h0.7v0.7h-0.7zM17.2 40.1h0.7v0.7h-0.7zM16.5 41.0h0.7v0.7h-0.7zM19.6 53.9h0.7v0.7h-0.7zM14.5 47.4h0.7v0.7h-0.7zM23.2 45.1h0.7v0.7h-0.7zM20.6 49.6h0.7v0.7h-0.7zM19.1 51.8h0.7v0.7h-0.7zM19.2 43.4h0.7v0.7h-0.7zM19.2 33.9h0.7v0.7h-0.7zM15.2 38.2h0.7v0.7h-0.7zM13.9 35.2h0.7v0.7h-0.7zM23.8 44.8h0.7v0.7h-0.7zM15.2 43.1h0.7v0.7h-0.7zM17.7 41.7h0.7v0.7h-0.7zM21.2 43.6h0.7v0.7h-0.7zM28.8 43.4h0.7v0.7h-0.7zM28.8 41.0h0.7v0.7h-0.7zM17.8 37.9h0.7v0.7h-0.7zM18.0 41.2h0.7v0.7h-0.7zM19.2 50.2h0.7v0.7h-0.7zM20.7 43.5h0.7v0.7h-0.7zM16.8 44.4h0.7v0.7h-0.7zM20.3 43.2h0.7v0.7h-0.7zM24.9 46.7h0.7v0.7h-0.7zM19.1 35.2h0.7v0.7h-0.7zM19.2 47.2h0.7v0.7h-0.7zM19.2 33.5h0.7v0.7h-0.7zM20.2 44.9h0.7v0.7h-0.7zM19.6 41.6h0.7v0.7h-0.7zM16.1 54.2h0.7v0.7h-0.7zM22.3 53.5h0.7v0.7h-0.7zM17.7 43.5h0.7v0.7h-0.7zM18.1 51.1h0.7v0.7h-0.7zM19.1 38.5h0.7v0.7h-0.7zM19.3 42.2h0.7v0.7h-0.7zM18.9 37.3h0.7v0.7h-0.7zM18.0 37.2h0.7v0.7h-0.7zM20.0 44.5h0.7v0.7h-0.7zM25.6 44.7h0.7v0.7h-0.7zM20.2 55.4h0.7v0.7h-0.7zM18.7 42.6h0.7v0.7h-0.7zM19.0 34.8h0.7v0.7h-0.7zM23.8 46.0h0.7v0.7h-0.7zM26.8 47.3h0.7v0.7h-0.7zM21.4 27.5h0.7v0.7h-0.7zM25.4 50.5h0.7v0.7h-0.7zM19.9 34.0h0.7v0.7h-0.7zM16.3 44.9h0.7v0.7h-0.7zM20.0 43.5h0.7v0.7h-0.7zM16.9 32.1h0.7v0.7h-0.7zM20.7 45.8h0.7v0.7h-0.7zM19.3 36.3h0.7v0.7h-0.7zM25.2 44.9h0.7v0.7h-0.7zM17.3 33.8h0.7v0.7h-0.7zM24.3 46.9h0.7v0.7h-0.7zM19.1 47.8h0.7v0.7h-0.7zM18.7 52.6h0.7v0.7h-0.7zM20.6 54.2h0.7v0.7h-0.7zM14.3 44.2h0.7v0.7h-0.7zM24.0 45.9h0.7v0.7h-0.7zM20.9 47.0h0.7v0.7h-0.7zM18.6 49.1h0.7v0.7h-0.7zM13.2 45.8h0.7v0.7h-0.7zM16.4 29.7h0.7v0.7h-0.7zM17.9 44.2h0.7v0.7h-0.7zM28.2 41.6h0.7v0.7h-0.7zM24.5 45.8h0.7v0.7h-0.7zM16.8 53.6h0.7v0.7h-0.7zM18.1 36.6h0.7v0.7h-0.7zM18.9 42.0h0.7v0.7h-0.7zM17.2 35.0h0.7v0.7h-0.7zM24.3 47.0h0.7v0.7h-0.7zM20.5 43.7h0.7v0.7h-0.7zM17.8 43.3h0.7v0.7h-0.7zM18.4 35.6h0.7v0.7h-0.7zM19.1 35.1h0.7v0.7h-0.7zM26.0 45.3h0.7v0.7h-0.7zM24.4 51.3h0.7v0.7h-0.7zM21.0 45.8h0.7v0.7h-0.7zM19.6 33.7h0.7v0.7h-0.7zM23.7 47.0h0.7v0.7h-0.7zM21.4 23.1h0.7v0.7h-0.7zM21.1 48.3h0.7v0.7h-0.7zM17.7 39.9h0.7v0.7h-0.7zM19.1 45.5h0.7v0.7h-0.7zM19.6 44.5h0.7v0.7h-0.7zM19.8 43.9h0.7v0.7h-0.7zM25.0 44.7h0.7v0.7h-0.7zM22.9 47.5h0.7v0.7h-0.7zM27.3 47.4h0.7v0.7h-0.7zM14.4 36.4h0.7v0.7h-0.7zM17.1 33.4h0.7v0.7h-0.7zM22.2 47.9h0.7v0.7h-0.7zM20.6 43.7h0.7v0.7h-0.7zM22.9 46.9h0.7v0.7h-0.7zM22.9 48.6h0.7v0.7h-0.7zM22.7 48.6h0.7v0.7h-0.7zM21.4 43.8h0.7v0.7h-0.7zM18.8 39.2h0.7v0.7h-0.7zM15.3 45.0h0.7v0.7h-0.7zM17.9 32.2h0.7v0.7h-0.7zM18.7 35.2h0.7v0.7h-0.7zM23.9 26.2h0.7v0.7h-0.7zM15.9 44.2h0.7v0.7h-0.7zM18.4 34.1h0.7v0.7h-0.7zM24.6 44.6h0.7v0.7h-0.7zM16.2 38.5h0.7v0.7h-0.7zM15.2 36.3h0.7v0.7h-0.7zM17.8 37.5h0.7v0.7h-0.7zM22.9 51.9h0.7v0.7h-0.7zM19.4 30.9h0.7v0.7h-0.7zM20.9 30.7h0.7v0.7h-0.7zM16.8 37.4h0.7v0.7h-0.7zM19.6 46.5h0.7v0.7h-0.7zM15.6 43.0h0.7v0.7h-0.7zM19.8 44.3h0.7v0.7h-0.7z" fill="#555"/><path d="M19.6 48.6h0.7v0.7h-0.7zM23.7 56.8h0.7v0.7h-0.7zM26.3 48.2h0.7v0.7h-0.7zM31.7 41.3h0.7v0.7h-0.7zM24.6 48.4h0.7v0.7h-0.7zM19.0 37.2h0.7v0.7h-0.7zM18.2 38.8h0.7v0.7h-0.7zM24.6 48.9h0.7v0.7h-0.7zM26.3 48.1h0.7v0.7h-0.7zM16.5 42.0h0.7v0.7h-0.7zM18.1 44.9h0.7v0.7h-0.7zM12.7 45.3h0.7v0.7h-0.7zM19.1 45.5h0.7v0.7h-0.7zM26.9 45.0h0.7v0.7h-0.7zM9.3 44.3h0.7v0.7h-0.7zM24.5 46.4h0.7v0.7h-0.7zM18.9 37.8h0.7v0.7h-0.7zM15.3 37.2h0.7v0.7h-0.7zM28.5 60.9h0.7v0.7h-0.7zM20.3 45.3h0.7v0.7h-0.7zM29.1 46.6h0.7v0.7h-0.7zM11.5 58.3h0.7v0.7h-0.7zM24.2 48.6h0.7v0.7h-0.7zM18.6 53.6h0.7v0.7h-0.7zM19.7 55.1h0.7v0.7h-0.7zM22.5 45.9h0.7v0.7h-0.7zM27.8 52.0h0.7v0.7h-0.7zM20.4 53.0h0.7v0.7h-0.7zM20.6 50.3h0.7v0.7h-0.7zM27.4 42.3h0.7v0.7h-0.7zM19.7 46.6h0.7v0.7h-0.7zM16.6 33.4h0.7v0.7h-0.7zM19.7 41.4h0.7v0.7h-0.7zM18.2 45.5h0.7v0.7h-0.7zM20.4 45.4h0.7v0.7h-0.7zM26.4 51.5h0.7v0.7h-0.7zM24.0 49.4h0.7v0.7h-0.7zM27.1 43.7h0.7v0.7h-0.7zM14.7 36.7h0.7v0.7h-0.7zM21.5 44.0h0.7v0.7h-0.7zM21.8 52.6h0.7v0.7h-0.7zM16.1 44.8h0.7v0.7h-0.7zM17.4 45.6h0.7v0.7h-0.7zM26.6 51.2h0.7v0.7h-0.7zM31.1 41.8h0.7v0.7h-0.7zM20.6 30.9h0.7v0.7h-0.7zM18.0 39.9h0.7v0.7h-0.7zM29.2 52.1h0.7v0.7h-0.7zM24.5 45.7h0.7v0.7h-0.7zM16.4 46.5h0.7v0.7h-0.7zM17.0 34.2h0.7v0.7h-0.7zM26.3 49.5h0.7v0.7h-0.7zM20.8 52.2h0.7v0.7h-0.7zM13.3 42.0h0.7v0.7h-0.7zM17.6 37.4h0.7v0.7h-0.7zM24.0 44.8h0.7v0.7h-0.7zM15.0 53.7h0.7v0.7h-0.7zM19.0 40.1h0.7v0.7h-0.7zM22.5 49.5h0.7v0.7h-0.7zM23.4 44.5h0.7v0.7h-0.7zM18.6 39.7h0.7v0.7h-0.7zM19.2 42.4h0.7v0.7h-0.7zM17.6 44.7h0.7v0.7h-0.7zM30.8 44.2h0.7v0.7h-0.7zM26.6 52.1h0.7v0.7h-0.7zM17.5 36.0h0.7v0.7h-0.7zM19.1 43.2h0.7v0.7h-0.7zM20.2 43.3h0.7v0.7h-0.7zM27.3 45.8h0.7v0.7h-0.7zM21.5 50.3h0.7v0.7h-0.7zM26.9 47.2h0.7v0.7h-0.7zM32.8 48.3h0.7v0.7h-0.7zM21.4 50.6h0.7v0.7h-0.7zM21.5 52.1h0.7v0.7h-0.7zM24.2 51.6h0.7v0.7h-0.7zM19.4 42.7h0.7v0.7h-0.7zM15.8 43.1h0.7v0.7h-0.7zM28.3 43.7h0.7v0.7h-0.7zM33.2 36.6h0.7v0.7h-0.7zM17.4 43.6h0.7v0.7h-0.7zM12.4 40.5h0.7v0.7h-0.7zM24.7 55.5h0.7v0.7h-0.7zM27.7 43.1h0.7v0.7h-0.7zM25.0 44.8h0.7v0.7h-0.7zM25.8 51.3h0.7v0.7h-0.7zM23.6 59.2h0.7v0.7h-0.7zM22.9 55.3h0.7v0.7h-0.7zM27.0 43.4h0.7v0.7h-0.7zM18.1 48.5h0.7v0.7h-0.7zM12.4 35.5h0.7v0.7h-0.7zM27.3 45.0h0.7v0.7h-0.7zM12.7 41.0h0.7v0.7h-0.7zM26.6 45.0h0.7v0.7h-0.7zM21.8 48.9h0.7v0.7h-0.7zM17.9 41.8h0.7v0.7h-0.7zM24.1 48.0h0.7v0.7h-0.7zM20.6 45.0h0.7v0.7h-0.7zM24.9 49.8h0.7v0.7h-0.7zM19.4 47.5h0.7v0.7h-0.7zM16.1 39.0h0.7v0.7h-0.7zM18.7 46.0h0.7v0.7h-0.7zM19.5 42.6h0.7v0.7h-0.7zM28.6 53.7h0.7v0.7h-0.7zM25.7 52.3h0.7v0.7h-0.7zM18.8 45.6h0.7v0.7h-0.7zM27.2 44.9h0.7v0.7h-0.7zM23.6 45.8h0.7v0.7h-0.7zM16.3 39.0h0.7v0.7h-0.7zM18.6 42.5h0.7v0.7h-0.7zM23.6 49.4h0.7v0.7h-0.7zM21.6 49.3h0.7v0.7h-0.7zM14.4 50.4h0.7v0.7h-0.7zM19.7 45.5h0.7v0.7h-0.7zM33.0 54.9h0.7v0.7h-0.7zM15.6 43.5h0.7v0.7h-0.7zM32.8 50.4h0.7v0.7h-0.7zM20.1 48.5h0.7v0.7h-0.7zM22.2 51.1h0.7v0.7h-0.7zM19.7 43.7h0.7v0.7h-0.7zM18.3 40.0h0.7v0.7h-0.7z" fill="#999"/><path d="M24.0,43.8 23.2,43.8 22.5,43.8 22.0,43.7 21.5,43.4 21.0,43.0 20.7,42.8 20.4,42.2 20.1,41.8 19.9,41.2 19.7,40.8 19.5,40.0 19.4,39.5 19.4,38.8 19.4,38.0 19.5,37.2 19.6,36.8 19.7,36.0 19.8,35.4 19.9,34.8 20.0,34.2 20.2,33.5 20.3,33.0 20.5,32.4 20.7,31.8 20.9,31.2 21.0,30.8 21.2,30.1 21.5,29.5 21.7,29.0 22.0,28.5 22.2,28.2 22.8,27.9 23.2,27.6 23.8,27.4 24.2,27.2 25.0,27.1 25.5,27.0 26.2,26.9 27.0,26.9 27.8,26.9 28.5,26.9 29.2,26.9 30.0,26.9 30.6,27.0 31.2,27.1 31.8,27.2 32.4,27.5 32.8,27.8 33.2,28.2 33.4,28.8 33.5,29.2 33.5,30.0 33.4,30.5 33.3,31.2 33.2,31.8 33.0,32.3 32.8,33.0 32.6,33.5 32.4,34.0 32.2,34.5 32.0,35.0 31.7,35.5 31.4,36.0 31.2,36.5 30.9,37.0 30.6,37.5 30.3,38.0 30.0,38.4 29.8,38.8 29.5,39.2 29.1,39.8 28.8,40.2 28.5,40.5 28.1,41.0 27.8,41.4 27.4,41.8 27.0,42.1 26.5,42.5 26.2,42.8 25.8,43.0 25.2,43.3 24.8,43.6 24.0,43.8Z" fill="none" stroke="#222" stroke-width="1.0" stroke-linejoin="round"/><path d="M23.5,42.0 22.8,42.0 22.3,41.8 22.0,41.4 21.7,41.0 21.5,40.5 21.2,39.8 21.1,39.2 21.1,38.5 21.2,37.8 21.2,37.1 21.3,36.5 21.5,35.8 21.5,35.2 21.7,34.5 21.8,34.0 22.0,33.4 22.2,32.8 22.4,32.2 22.5,31.8 22.8,31.1 23.0,30.5 23.2,30.0 23.5,29.6 23.9,29.2 24.5,29.0 25.0,28.9 25.5,28.8 26.2,28.6 27.0,28.6 27.8,28.6 28.5,28.6 29.2,28.6 30.0,28.7 30.5,28.8 31.1,29.0 31.5,29.3 31.7,30.0 31.6,30.8 31.5,31.2 31.3,32.0 31.1,32.5 30.9,33.0 30.7,33.5 30.5,34.0 30.2,34.5 30.0,35.0 29.7,35.5 29.5,36.0 29.2,36.5 28.9,37.0 28.5,37.5 28.2,37.9 28.0,38.3 27.7,38.8 27.3,39.2 27.0,39.6 26.7,40.0 26.2,40.4 25.9,40.8 25.5,41.1 25.0,41.4 24.5,41.7 24.0,41.9 23.5,42.0Z" fill="none" stroke="#888" stroke-width="0.5" stroke-linejoin="round"/><path d="M24.0,40.0 23.3,40.0 23.0,39.7 22.8,39.0 22.7,38.5 22.8,38.0 22.9,37.2 23.0,36.5 23.1,36.0 23.2,35.2 23.3,34.8 23.5,34.0 23.7,33.5 23.8,33.0 24.0,32.5 24.2,31.8 24.5,31.2 24.8,30.8 25.2,30.5 25.8,30.4 26.3,30.2 27.0,30.2 27.8,30.2 28.5,30.2 29.0,30.2 29.5,30.5 29.7,31.2 29.6,32.0 29.4,32.5 29.2,33.0 29.0,33.5 28.7,34.0 28.5,34.5 28.2,35.0 27.9,35.5 27.6,36.0 27.3,36.5 27.0,36.9 26.8,37.3 26.4,37.8 26.0,38.2 25.8,38.6 25.4,39.0 25.0,39.4 24.5,39.8 24.1,40.0Z" fill="none" stroke="#999" stroke-width="0.5" stroke-linejoin="round"/></g>
<rect x="141.90" y="50.40" width="20.20" height="16.60" stroke="#000" stroke-width="1.5" fill="none" />
<rect x="220.40" y="50.40" width="19.20" height="16.10" stroke="#000" stroke-width="1.5" fill="none" />
<rect x="362.30" y="54.40" width="23.50" height="14.80" stroke="#000" stroke-width="1.5" fill="none" />
<rect x="440.20" y="54.80" width="23.30" height="14.90" stroke="#000" stroke-width="1.5" fill="none" />
<rect x="130.60" y="139.40" width="19.00" height="18.70" stroke="#000" stroke-width="1.5" fill="none" />
<rect x="209.20" y="139.70" width="19.30" height="19.10" stroke="#000" stroke-width="1.5" fill="none" />
<rect x="353.50" y="141.10" width="19.60" height="17.10" stroke="#000" stroke-width="1.5" fill="none" />
<rect x="431.50" y="140.80" width="19.20" height="17.40" stroke="#000" stroke-width="1.5" fill="none" />
<text x="139.64" y="48.00" font-size="8.8" textLength="25.59" lengthAdjust="spacingAndGlyphs" fill="#000" stroke="#000" stroke-width="0.3" font-weight="bold" >0.08%</text>
<text x="218.14" y="48.20" font-size="8.8" textLength="25.59" lengthAdjust="spacingAndGlyphs" fill="#000" stroke="#000" stroke-width="0.3" font-weight="bold" >0.17%</text>
<text x="359.04" y="51.00" font-size="8.8" textLength="25.59" lengthAdjust="spacingAndGlyphs" fill="#000" stroke="#000" stroke-width="0.3" font-weight="bold" >0.07%</text>
<text x="435.54" y="51.20" font-size="8.8" textLength="25.69" lengthAdjust="spacingAndGlyphs" fill="#000" stroke="#000" stroke-width="0.3" font-weight="bold" >0.08%</text>
<text x="127.63" y="138.20" font-size="8.8" textLength="26.10" lengthAdjust="spacingAndGlyphs" fill="#000" stroke="#000" stroke-width="0.3" font-weight="bold" >0.18%</text>
<text x="205.83" y="137.80" font-size="8.8" textLength="26.41" lengthAdjust="spacingAndGlyphs" fill="#000" stroke="#000" stroke-width="0.3" font-weight="bold" >0.35%</text>
<text x="352.44" y="139.20" font-size="8.8" textLength="25.49" lengthAdjust="spacingAndGlyphs" fill="#000" stroke="#000" stroke-width="0.3" font-weight="bold" >0.13%</text>
<text x="428.83" y="138.90" font-size="8.8" textLength="26.00" lengthAdjust="spacingAndGlyphs" fill="#000" stroke="#000" stroke-width="0.3" font-weight="bold" >0.15%</text>
<text transform="translate(92.70,78.80) rotate(-90)" x="-0.46" y="0" font-size="11" textLength="25.60" lengthAdjust="spacingAndGlyphs" fill="#000" stroke="#000" stroke-width="0.45" font-weight="bold">c-Kit</text>
<text transform="translate(313.00,79.40) rotate(-90)" x="-0.46" y="0" font-size="11" textLength="25.60" lengthAdjust="spacingAndGlyphs" fill="#000" stroke="#000" stroke-width="0.45" font-weight="bold">c-Kit</text>
<text transform="translate(92.40,181.20) rotate(-90)" x="-0.77" y="0" font-size="11" textLength="45.26" lengthAdjust="spacingAndGlyphs" fill="#000" stroke="#000" stroke-width="0.45" font-weight="bold">FcRγII/III</text>
<text transform="translate(311.00,182.00) rotate(-90)" x="-0.79" y="0" font-size="11" textLength="46.61" lengthAdjust="spacingAndGlyphs" fill="#000" stroke="#000" stroke-width="0.45" font-weight="bold">FcRγII/III</text>
<text x="251.09" y="76.90" font-size="11.5" textLength="23.23" lengthAdjust="spacingAndGlyphs" fill="#000" stroke="#000" stroke-width="0.45" font-weight="bold" >LSK</text>
<text x="472.31" y="76.90" font-size="11.5" textLength="22.60" lengthAdjust="spacingAndGlyphs" fill="#000" stroke="#000" stroke-width="0.45" font-weight="bold" >LSK</text>
<text x="250.76" y="164.40" font-size="11" textLength="25.06" lengthAdjust="spacingAndGlyphs" fill="#000" stroke="#000" stroke-width="0.45" font-weight="bold" >GMP</text>
<text x="472.65" y="166.20" font-size="11" textLength="25.78" lengthAdjust="spacingAndGlyphs" fill="#000" stroke="#000" stroke-width="0.45" font-weight="bold" >GMP</text>
<line x1="132.90" y1="120.00" x2="171.50" y2="120.00" stroke="#000" stroke-width="2.0" />
<path d="M180.50,120.00 L170.50,116.50 L172.30,120.00 L170.50,123.50 Z" fill="#000"/>
<line x1="359.20" y1="119.80" x2="398.30" y2="119.80" stroke="#000" stroke-width="2.0" />
<path d="M407.30,119.80 L397.30,116.30 L399.10,119.80 L397.30,123.30 Z" fill="#000"/>
<line x1="132.90" y1="211.60" x2="171.80" y2="211.60" stroke="#000" stroke-width="2.0" />
<path d="M180.80,211.60 L170.80,208.10 L172.60,211.60 L170.80,215.10 Z" fill="#000"/>
<line x1="359.20" y1="211.40" x2="398.30" y2="211.40" stroke="#000" stroke-width="2.0" />
<path d="M407.30,211.40 L397.30,207.90 L399.10,211.40 L397.30,214.90 Z" fill="#000"/>
<text x="185.46" y="124.30" font-size="11" textLength="30.26" lengthAdjust="spacingAndGlyphs" fill="#000" stroke="#000" stroke-width="0.45" font-weight="bold" >Sca-1</text>
<text x="412.26" y="124.30" font-size="11" textLength="29.95" lengthAdjust="spacingAndGlyphs" fill="#000" stroke="#000" stroke-width="0.45" font-weight="bold" >Sca-1</text>
<text x="185.33" y="215.40" font-size="11" textLength="29.74" lengthAdjust="spacingAndGlyphs" fill="#000" stroke="#000" stroke-width="0.45" font-weight="bold" >CD34</text>
<text x="412.15" y="215.40" font-size="11" textLength="28.72" lengthAdjust="spacingAndGlyphs" fill="#000" stroke="#000" stroke-width="0.45" font-weight="bold" >CD34</text>
<text x="0.02" y="258.70" font-size="25" textLength="18.35" lengthAdjust="spacingAndGlyphs" fill="#000" stroke="#000" stroke-width="0.225" font-weight="bold" >B</text>
<text x="149.20" y="252.90" font-size="17" textLength="25.14" lengthAdjust="spacingAndGlyphs" fill="#000" stroke="#000" stroke-width="0.225" font-weight="bold" >WT</text>
<text x="403.87" y="254.00" font-size="17" textLength="24.28" lengthAdjust="spacingAndGlyphs" fill="#000" stroke="#000" stroke-width="0.225" font-weight="bold" >KO</text>
<line x1="89.60" y1="280.80" x2="89.60" y2="392.20" stroke="#000" stroke-width="1.5" />
<line x1="88.85" y1="391.50" x2="256.60" y2="391.50" stroke="#000" stroke-width="1.5" />
<line x1="86.80" y1="281.20" x2="89.60" y2="281.20" stroke="#000" stroke-width="1.2" />
<text x="70.35" y="285.50" font-size="9.2" textLength="15.77" lengthAdjust="spacingAndGlyphs" fill="#000" stroke="#000" stroke-width="0.225" font-weight="bold" >0.4</text>
<line x1="86.80" y1="308.80" x2="89.60" y2="308.80" stroke="#000" stroke-width="1.2" />
<text x="70.34" y="313.10" font-size="9.2" textLength="16.13" lengthAdjust="spacingAndGlyphs" fill="#000" stroke="#000" stroke-width="0.225" font-weight="bold" >0.3</text>
<line x1="86.80" y1="336.50" x2="89.60" y2="336.50" stroke="#000" stroke-width="1.2" />
<text x="70.34" y="340.80" font-size="9.2" textLength="16.13" lengthAdjust="spacingAndGlyphs" fill="#000" stroke="#000" stroke-width="0.225" font-weight="bold" >0.2</text>
<line x1="86.80" y1="364.20" x2="89.60" y2="364.20" stroke="#000" stroke-width="1.2" />
<text x="70.34" y="368.50" font-size="9.2" textLength="16.01" lengthAdjust="spacingAndGlyphs" fill="#000" stroke="#000" stroke-width="0.225" font-weight="bold" >0.1</text>
<line x1="86.80" y1="391.50" x2="89.60" y2="391.50" stroke="#000" stroke-width="1.2" />
<text x="70.34" y="393.40" font-size="9.2" textLength="16.13" lengthAdjust="spacingAndGlyphs" fill="#000" stroke="#000" stroke-width="0.225" font-weight="bold" >0.0</text>
<line x1="110.80" y1="391.50" x2="110.80" y2="395.60" stroke="#000" stroke-width="1.2" />
<line x1="153.10" y1="391.50" x2="153.10" y2="395.60" stroke="#000" stroke-width="1.2" />
<line x1="193.90" y1="391.50" x2="193.90" y2="395.60" stroke="#000" stroke-width="1.2" />
<line x1="235.40" y1="391.50" x2="235.40" y2="395.60" stroke="#000" stroke-width="1.2" />
<text transform="translate(64.60,402.40) rotate(-90)" x="-0.23" y="0" font-size="11" textLength="122.92" lengthAdjust="spacingAndGlyphs" fill="#000" stroke="#000" stroke-width="0.15" font-weight="bold">% Cell in Bone Marrow</text>
<text x="67.24" y="412.80" font-size="10.8" textLength="35.92" lengthAdjust="spacingAndGlyphs" fill="#000" stroke="#000" stroke-width="0.225" font-weight="bold" >G-CSF</text>
<rect x="108.80" y="406.20" width="4.60" height="2.00" fill="#000"/>
<rect x="148.50" y="404.50" width="8.00" height="2.20" fill="#000"/>
<rect x="151.40" y="401.20" width="2.20" height="8.80" fill="#000"/>
<rect x="192.20" y="406.20" width="5.10" height="2.00" fill="#000"/>
<rect x="231.20" y="404.65" width="8.30" height="2.20" fill="#000"/>
<rect x="234.25" y="401.20" width="2.20" height="9.10" fill="#000"/>
<line x1="107.40" y1="414.20" x2="158.80" y2="414.20" stroke="#000" stroke-width="1.4" />
<line x1="190.40" y1="414.20" x2="241.90" y2="414.20" stroke="#000" stroke-width="1.4" />
<text x="122.69" y="427.30" font-size="11" textLength="23.12" lengthAdjust="spacingAndGlyphs" fill="#000" stroke="#000" stroke-width="0.225" font-weight="bold" >LSK</text>
<text x="204.45" y="427.80" font-size="11" textLength="25.57" lengthAdjust="spacingAndGlyphs" fill="#000" stroke="#000" stroke-width="0.225" font-weight="bold" >GMP</text>
<line x1="107.70" y1="316.20" x2="154.40" y2="316.20" stroke="#000" stroke-width="1.5" />
<line x1="107.70" y1="313.00" x2="107.70" y2="319.60" stroke="#000" stroke-width="1.5" />
<line x1="154.40" y1="313.00" x2="154.40" y2="319.60" stroke="#000" stroke-width="1.5" />
<line x1="187.70" y1="281.90" x2="233.50" y2="281.90" stroke="#000" stroke-width="1.5" />
<line x1="187.70" y1="278.60" x2="187.70" y2="285.40" stroke="#000" stroke-width="1.5" />
<line x1="233.50" y1="278.60" x2="233.50" y2="285.40" stroke="#000" stroke-width="1.5" />
<!--STARS-->
<circle cx="104.40" cy="350.60" r="2.2" fill="#000"/>
<circle cx="117.90" cy="351.40" r="2.2" fill="#000"/>
<circle cx="111.20" cy="354.40" r="2.2" fill="#000"/>
<circle cx="104.20" cy="370.00" r="2.2" fill="#000"/>
<circle cx="117.90" cy="370.20" r="2.2" fill="#000"/>
<circle cx="111.20" cy="376.00" r="2.2" fill="#000"/>
<circle cx="110.80" cy="383.60" r="2.2" fill="#000"/>
<circle cx="117.90" cy="383.00" r="2.2" fill="#000"/>
<line x1="96.80" y1="367.30" x2="125.20" y2="367.30" stroke="#000" stroke-width="1.5" />
<line x1="103.40" y1="362.50" x2="118.60" y2="362.50" stroke="#000" stroke-width="1.5" />
<line x1="103.40" y1="372.70" x2="118.60" y2="372.70" stroke="#000" stroke-width="1.5" />
<line x1="111.00" y1="362.50" x2="111.00" y2="372.70" stroke="#000" stroke-width="1.5" />
<rect x="143.40" y="335.80" width="4.4" height="4.4" fill="#000"/>
<rect x="149.90" y="352.20" width="4.4" height="4.4" fill="#000"/>
<rect x="156.40" y="351.90" width="4.4" height="4.4" fill="#000"/>
<rect x="150.00" y="342.30" width="4.4" height="4.4" fill="#000"/>
<rect x="150.00" y="347.30" width="4.4" height="4.4" fill="#000"/>
<line x1="138.10" y1="347.80" x2="166.50" y2="347.80" stroke="#000" stroke-width="1.5" />
<line x1="144.90" y1="343.60" x2="159.70" y2="343.60" stroke="#000" stroke-width="1.5" />
<line x1="144.90" y1="351.40" x2="159.70" y2="351.40" stroke="#000" stroke-width="1.5" />
<line x1="152.30" y1="343.60" x2="152.30" y2="351.40" stroke="#000" stroke-width="1.5" />
<path d="M193.90,316.93 L196.20,321.07 L191.60,321.07 Z" fill="#000"/>
<path d="M200.40,316.93 L202.70,321.07 L198.10,321.07 Z" fill="#000"/>
<path d="M187.40,338.33 L189.70,342.47 L185.10,342.47 Z" fill="#000"/>
<path d="M200.40,338.33 L202.70,342.47 L198.10,342.47 Z" fill="#000"/>
<path d="M193.90,340.43 L196.20,344.57 L191.60,344.57 Z" fill="#000"/>
<path d="M193.90,352.83 L196.20,356.97 L191.60,356.97 Z" fill="#000"/>
<path d="M193.90,363.73 L196.20,367.87 L191.60,367.87 Z" fill="#000"/>
<path d="M193.90,371.73 L196.20,375.87 L191.60,375.87 Z" fill="#000"/>
<line x1="179.60" y1="344.00" x2="208.20" y2="344.00" stroke="#000" stroke-width="1.5" />
<line x1="186.40" y1="336.50" x2="201.40" y2="336.50" stroke="#000" stroke-width="1.5" />
<line x1="186.40" y1="351.00" x2="201.40" y2="351.00" stroke="#000" stroke-width="1.5" />
<line x1="193.90" y1="336.50" x2="193.90" y2="351.00" stroke="#000" stroke-width="1.5" />
<path d="M235.40,295.57 L237.70,291.43 L233.10,291.43 Z" fill="#000"/>
<path d="M235.40,310.57 L237.70,306.43 L233.10,306.43 Z" fill="#000"/>
<path d="M235.40,324.57 L237.70,320.43 L233.10,320.43 Z" fill="#000"/>
<path d="M241.00,322.87 L243.30,318.73 L238.70,318.73 Z" fill="#000"/>
<line x1="221.50" y1="312.30" x2="249.30" y2="312.30" stroke="#000" stroke-width="1.5" />
<line x1="228.40" y1="305.40" x2="242.40" y2="305.40" stroke="#000" stroke-width="1.5" />
<line x1="228.40" y1="319.40" x2="242.40" y2="319.40" stroke="#000" stroke-width="1.5" />
<line x1="235.40" y1="305.40" x2="235.40" y2="319.40" stroke="#000" stroke-width="1.5" />
<line x1="338.90" y1="280.00" x2="338.90" y2="393.20" stroke="#000" stroke-width="1.5" />
<line x1="338.15" y1="392.50" x2="505.40" y2="392.50" stroke="#000" stroke-width="1.5" />
<line x1="336.10" y1="280.40" x2="338.90" y2="280.40" stroke="#000" stroke-width="1.2" />
<text x="317.98" y="284.00" font-size="10.2" textLength="18.04" lengthAdjust="spacingAndGlyphs" fill="#000" stroke="#000" stroke-width="0.225" font-weight="bold" >0.6</text>
<line x1="336.10" y1="317.50" x2="338.90" y2="317.50" stroke="#000" stroke-width="1.2" />
<text x="317.99" y="321.10" font-size="10.2" textLength="17.63" lengthAdjust="spacingAndGlyphs" fill="#000" stroke="#000" stroke-width="0.225" font-weight="bold" >0.4</text>
<line x1="336.10" y1="355.20" x2="338.90" y2="355.20" stroke="#000" stroke-width="1.2" />
<text x="317.98" y="358.80" font-size="10.2" textLength="18.04" lengthAdjust="spacingAndGlyphs" fill="#000" stroke="#000" stroke-width="0.225" font-weight="bold" >0.2</text>
<line x1="336.10" y1="392.50" x2="338.90" y2="392.50" stroke="#000" stroke-width="1.2" />
<text x="317.98" y="396.10" font-size="10.2" textLength="18.04" lengthAdjust="spacingAndGlyphs" fill="#000" stroke="#000" stroke-width="0.225" font-weight="bold" >0.0</text>
<line x1="359.70" y1="392.50" x2="359.70" y2="396.60" stroke="#000" stroke-width="1.2" />
<line x1="401.80" y1="392.50" x2="401.80" y2="396.60" stroke="#000" stroke-width="1.2" />
<line x1="443.50" y1="392.50" x2="443.50" y2="396.60" stroke="#000" stroke-width="1.2" />
<line x1="484.60" y1="392.50" x2="484.60" y2="396.60" stroke="#000" stroke-width="1.2" />
<text transform="translate(314.40,399.20) rotate(-90)" x="-0.23" y="0" font-size="11" textLength="122.62" lengthAdjust="spacingAndGlyphs" fill="#000" stroke="#000" stroke-width="0.15" font-weight="bold">% Cell in Bone Marrow</text>
<text x="317.25" y="413.00" font-size="10.8" textLength="34.89" lengthAdjust="spacingAndGlyphs" fill="#000" stroke="#000" stroke-width="0.225" font-weight="bold" >G-CSF</text>
<rect x="358.80" y="406.20" width="4.60" height="2.00" fill="#000"/>
<rect x="398.00" y="405.30" width="8.50" height="2.20" fill="#000"/>
<rect x="401.15" y="402.00" width="2.20" height="8.80" fill="#000"/>
<rect x="441.90" y="406.20" width="4.60" height="2.00" fill="#000"/>
<rect x="480.50" y="405.05" width="8.70" height="2.20" fill="#000"/>
<rect x="483.75" y="402.00" width="2.20" height="8.30" fill="#000"/>
<line x1="357.00" y1="414.00" x2="408.00" y2="414.00" stroke="#000" stroke-width="1.4" />
<line x1="440.30" y1="414.00" x2="491.10" y2="414.00" stroke="#000" stroke-width="1.4" />
<text x="372.69" y="427.60" font-size="11" textLength="23.12" lengthAdjust="spacingAndGlyphs" fill="#000" stroke="#000" stroke-width="0.225" font-weight="bold" >LSK</text>
<text x="453.74" y="428.10" font-size="11" textLength="26.19" lengthAdjust="spacingAndGlyphs" fill="#000" stroke="#000" stroke-width="0.225" font-weight="bold" >GMP</text>
<circle cx="352.80" cy="358.80" r="2.2" fill="#000"/>
<circle cx="360.00" cy="362.30" r="2.2" fill="#000"/>
<circle cx="366.40" cy="361.20" r="2.2" fill="#000"/>
<circle cx="359.70" cy="380.80" r="2.2" fill="#000"/>
<circle cx="359.70" cy="370.50" r="2.2" fill="#000"/>
<line x1="345.40" y1="366.90" x2="374.20" y2="366.90" stroke="#000" stroke-width="1.5" />
<line x1="352.30" y1="362.30" x2="367.30" y2="362.30" stroke="#000" stroke-width="1.5" />
<line x1="352.30" y1="371.10" x2="367.30" y2="371.10" stroke="#000" stroke-width="1.5" />
<line x1="359.80" y1="362.30" x2="359.80" y2="371.10" stroke="#000" stroke-width="1.5" />
<rect x="399.80" y="356.60" width="4.4" height="4.4" fill="#000"/>
<rect x="399.80" y="376.30" width="4.4" height="4.4" fill="#000"/>
<rect x="399.80" y="368.80" width="4.4" height="4.4" fill="#000"/>
<line x1="387.60" y1="369.20" x2="416.00" y2="369.20" stroke="#000" stroke-width="1.5" />
<line x1="394.60" y1="363.50" x2="409.00" y2="363.50" stroke="#000" stroke-width="1.5" />
<line x1="394.60" y1="375.00" x2="409.00" y2="375.00" stroke="#000" stroke-width="1.5" />
<line x1="401.80" y1="363.50" x2="401.80" y2="375.00" stroke="#000" stroke-width="1.5" />
<path d="M443.50,305.33 L445.80,309.47 L441.20,309.47 Z" fill="#000"/>
<path d="M443.50,365.33 L445.80,369.47 L441.20,369.47 Z" fill="#000"/>
<path d="M443.50,331.93 L445.80,336.07 L441.20,336.07 Z" fill="#000"/>
<path d="M443.50,339.43 L445.80,343.57 L441.20,343.57 Z" fill="#000"/>
<path d="M443.50,350.93 L445.80,355.07 L441.20,355.07 Z" fill="#000"/>
<line x1="429.40" y1="340.80" x2="457.60" y2="340.80" stroke="#000" stroke-width="1.5" />
<line x1="436.30" y1="330.50" x2="450.70" y2="330.50" stroke="#000" stroke-width="1.5" />
<line x1="436.30" y1="350.80" x2="450.70" y2="350.80" stroke="#000" stroke-width="1.5" />
<line x1="443.50" y1="330.50" x2="443.50" y2="350.80" stroke="#000" stroke-width="1.5" />
<path d="M484.60,339.07 L486.90,334.93 L482.30,334.93 Z" fill="#000"/>
<path d="M484.60,365.57 L486.90,361.43 L482.30,361.43 Z" fill="#000"/>
<path d="M484.60,349.07 L486.90,344.93 L482.30,344.93 Z" fill="#000"/>
<line x1="470.80" y1="349.60" x2="498.60" y2="349.60" stroke="#000" stroke-width="1.5" />
<line x1="477.50" y1="342.70" x2="491.90" y2="342.70" stroke="#000" stroke-width="1.5" />
<line x1="477.50" y1="357.70" x2="491.90" y2="357.70" stroke="#000" stroke-width="1.5" />
<line x1="484.70" y1="342.70" x2="484.70" y2="357.70" stroke="#000" stroke-width="1.5" />
<text x="0.23" y="473.00" font-size="24.5" textLength="17.44" lengthAdjust="spacingAndGlyphs" fill="#000" stroke="#000" stroke-width="0.225" font-weight="bold" >C</text>
<line x1="35.00" y1="497.60" x2="35.00" y2="596.90" stroke="#000" stroke-width="1.5" />
<line x1="34.25" y1="596.20" x2="179.20" y2="596.20" stroke="#000" stroke-width="1.5" />
<line x1="32.20" y1="498.10" x2="35.00" y2="498.10" stroke="#000" stroke-width="1.2" />
<line x1="32.20" y1="522.40" x2="35.00" y2="522.40" stroke="#000" stroke-width="1.2" />
<line x1="32.20" y1="547.10" x2="35.00" y2="547.10" stroke="#000" stroke-width="1.2" />
<line x1="32.20" y1="571.80" x2="35.00" y2="571.80" stroke="#000" stroke-width="1.2" />
<line x1="32.20" y1="596.20" x2="35.00" y2="596.20" stroke="#000" stroke-width="1.2" />
<rect x="40.40" y="556.20" width="25.00" height="40.00" stroke="#000" stroke-width="1.5" fill="#fff" />
<line x1="52.90" y1="546.20" x2="52.90" y2="556.20" stroke="#000" stroke-width="1.5" />
<line x1="47.10" y1="546.20" x2="59.60" y2="546.20" stroke="#000" stroke-width="1.5" />
<line x1="52.90" y1="596.20" x2="52.90" y2="599.40" stroke="#000" stroke-width="1.2" />
<rect x="77.90" y="520.10" width="24.40" height="76.10" stroke="#000" stroke-width="1.5" fill="#fff" />
<line x1="90.10" y1="511.30" x2="90.10" y2="520.10" stroke="#000" stroke-width="1.5" />
<line x1="83.00" y1="511.30" x2="96.20" y2="511.30" stroke="#000" stroke-width="1.5" />
<line x1="90.10" y1="596.20" x2="90.10" y2="599.40" stroke="#000" stroke-width="1.2" />
<rect x="113.90" y="546.80" width="25.20" height="49.40" stroke="#000" stroke-width="1.5" fill="#000" />
<line x1="126.50" y1="537.80" x2="126.50" y2="546.80" stroke="#000" stroke-width="1.5" />
<line x1="120.10" y1="537.80" x2="133.40" y2="537.80" stroke="#000" stroke-width="1.5" />
<line x1="126.50" y1="596.20" x2="126.50" y2="599.40" stroke="#000" stroke-width="1.2" />
<rect x="150.70" y="550.70" width="25.20" height="45.50" stroke="#000" stroke-width="1.5" fill="#000" />
<line x1="163.30" y1="543.50" x2="163.30" y2="550.70" stroke="#000" stroke-width="1.5" />
<line x1="157.20" y1="543.50" x2="170.20" y2="543.50" stroke="#000" stroke-width="1.5" />
<line x1="163.30" y1="596.20" x2="163.30" y2="599.40" stroke="#000" stroke-width="1.2" />
<text x="21.92" y="501.90" font-size="10.8" textLength="7.12" lengthAdjust="spacingAndGlyphs" fill="#000" stroke="#000" stroke-width="0.225" font-weight="bold" >8</text>
<text x="21.77" y="526.20" font-size="10.8" textLength="7.41" lengthAdjust="spacingAndGlyphs" fill="#000" stroke="#000" stroke-width="0.225" font-weight="bold" >6</text>
<text x="22.18" y="550.90" font-size="10.8" textLength="6.59" lengthAdjust="spacingAndGlyphs" fill="#000" stroke="#000" stroke-width="0.225" font-weight="bold" >4</text>
<text x="21.91" y="575.60" font-size="10.8" textLength="7.26" lengthAdjust="spacingAndGlyphs" fill="#000" stroke="#000" stroke-width="0.225" font-weight="bold" >2</text>
<text x="21.77" y="600.00" font-size="10.8" textLength="7.41" lengthAdjust="spacingAndGlyphs" fill="#000" stroke="#000" stroke-width="0.225" font-weight="bold" >0</text>
<text x="83.47" y="473.50" font-size="15.8" textLength="32.40" lengthAdjust="spacingAndGlyphs" fill="#000" stroke="#000" stroke-width="0.225" font-weight="bold" >LSK</text>
<text transform="translate(12.10,604.00) rotate(-90) scale(0.8994,1)" x="-0.31" y="0" font-size="10.2" fill="#000" stroke="#000" stroke-width="0.1" font-weight="bold">Absolute Cell Number (X10<tspan font-size="6.32" dy="-4.28">4</tspan><tspan dy="4.28">)</tspan></text>
<text x="7.25" y="617.70" font-size="10.8" textLength="35.00" lengthAdjust="spacingAndGlyphs" fill="#000" stroke="#000" stroke-width="0.225" font-weight="bold" >G-CSF</text>
<rect x="56.70" y="612.30" width="4.80" height="2.00" fill="#000"/>
<rect x="88.80" y="611.35" width="8.30" height="2.20" fill="#000"/>
<rect x="91.85" y="608.50" width="2.20" height="7.90" fill="#000"/>
<rect x="124.30" y="612.30" width="4.60" height="2.00" fill="#000"/>
<rect x="158.00" y="611.20" width="9.60" height="2.20" fill="#000"/>
<rect x="161.70" y="607.80" width="2.20" height="9.00" fill="#000"/>
<line x1="47.70" y1="501.90" x2="88.50" y2="501.90" stroke="#000" stroke-width="1.5" />
<line x1="47.70" y1="498.80" x2="47.70" y2="505.00" stroke="#000" stroke-width="1.5" />
<line x1="88.50" y1="498.80" x2="88.50" y2="505.00" stroke="#000" stroke-width="1.5" />
<rect x="147.80" y="488.80" width="5.80" height="5.60" stroke="#000" stroke-width="0.9" fill="#fff" />
<rect x="147.60" y="496.40" width="6.20" height="5.50" stroke="#000" stroke-width="0.6" fill="#000" />
<text x="157.20" y="493.60" font-size="6.5" textLength="10.50" lengthAdjust="spacingAndGlyphs" fill="#000" stroke="#000" stroke-width="0.075" font-weight="bold" >WT</text>
<text x="157.31" y="501.40" font-size="6.5" textLength="10.58" lengthAdjust="spacingAndGlyphs" fill="#000" stroke="#000" stroke-width="0.075" font-weight="bold" >KO</text>
<line x1="223.80" y1="499.20" x2="223.80" y2="596.70" stroke="#000" stroke-width="1.5" />
<line x1="223.05" y1="596.00" x2="369.70" y2="596.00" stroke="#000" stroke-width="1.5" />
<line x1="221.00" y1="499.80" x2="223.80" y2="499.80" stroke="#000" stroke-width="1.2" />
<line x1="221.00" y1="531.40" x2="223.80" y2="531.40" stroke="#000" stroke-width="1.2" />
<line x1="221.00" y1="563.80" x2="223.80" y2="563.80" stroke="#000" stroke-width="1.2" />
<line x1="221.00" y1="596.00" x2="223.80" y2="596.00" stroke="#000" stroke-width="1.2" />
<rect x="229.60" y="556.20" width="24.40" height="39.80" stroke="#000" stroke-width="1.5" fill="#fff" />
<line x1="241.80" y1="549.20" x2="241.80" y2="556.20" stroke="#000" stroke-width="1.5" />
<line x1="236.20" y1="549.20" x2="248.30" y2="549.20" stroke="#000" stroke-width="1.5" />
<line x1="241.80" y1="596.00" x2="241.80" y2="599.20" stroke="#000" stroke-width="1.2" />
<rect x="266.10" y="524.30" width="24.60" height="71.70" stroke="#000" stroke-width="1.5" fill="#fff" />
<line x1="278.40" y1="515.00" x2="278.40" y2="524.30" stroke="#000" stroke-width="1.5" />
<line x1="272.00" y1="515.00" x2="284.20" y2="515.00" stroke="#000" stroke-width="1.5" />
<line x1="278.40" y1="596.00" x2="278.40" y2="599.20" stroke="#000" stroke-width="1.2" />
<rect x="301.80" y="543.50" width="25.20" height="52.50" stroke="#000" stroke-width="1.5" fill="#000" />
<line x1="314.40" y1="531.30" x2="314.40" y2="543.50" stroke="#000" stroke-width="1.5" />
<line x1="308.30" y1="531.30" x2="320.50" y2="531.30" stroke="#000" stroke-width="1.5" />
<line x1="314.40" y1="596.00" x2="314.40" y2="599.20" stroke="#000" stroke-width="1.2" />
<rect x="338.10" y="550.20" width="25.40" height="45.80" stroke="#000" stroke-width="1.5" fill="#000" />
<line x1="350.80" y1="539.80" x2="350.80" y2="550.20" stroke="#000" stroke-width="1.5" />
<line x1="344.60" y1="539.80" x2="356.80" y2="539.80" stroke="#000" stroke-width="1.5" />
<line x1="350.80" y1="596.00" x2="350.80" y2="599.20" stroke="#000" stroke-width="1.2" />
<text x="207.20" y="503.50" font-size="10.5" textLength="13.07" lengthAdjust="spacingAndGlyphs" fill="#000" stroke="#000" stroke-width="0.225" font-weight="bold" >15</text>
<text x="207.19" y="535.10" font-size="10.5" textLength="13.19" lengthAdjust="spacingAndGlyphs" fill="#000" stroke="#000" stroke-width="0.225" font-weight="bold" >10</text>
<text x="212.58" y="567.50" font-size="10.5" textLength="7.79" lengthAdjust="spacingAndGlyphs" fill="#000" stroke="#000" stroke-width="0.225" font-weight="bold" >5</text>
<text x="212.42" y="599.70" font-size="10.5" textLength="8.11" lengthAdjust="spacingAndGlyphs" fill="#000" stroke="#000" stroke-width="0.225" font-weight="bold" >0</text>
<text x="258.47" y="473.50" font-size="15.5" textLength="35.62" lengthAdjust="spacingAndGlyphs" fill="#000" stroke="#000" stroke-width="0.225" font-weight="bold" >GMP</text>
<text transform="translate(201.30,601.50) rotate(-90) scale(0.8964,1)" x="-0.31" y="0" font-size="10.2" fill="#000" stroke="#000" stroke-width="0.1" font-weight="bold">Absolute Cell Number (X10<tspan font-size="6.32" dy="-4.28">4</tspan><tspan dy="4.28">)</tspan></text>
<text x="192.65" y="615.40" font-size="10.8" textLength="34.79" lengthAdjust="spacingAndGlyphs" fill="#000" stroke="#000" stroke-width="0.225" font-weight="bold" >G-CSF</text>
<rect x="238.70" y="611.00" width="5.10" height="2.00" fill="#000"/>
<rect x="271.30" y="611.05" width="9.30" height="2.20" fill="#000"/>
<rect x="274.85" y="607.70" width="2.20" height="8.90" fill="#000"/>
<rect x="309.10" y="611.00" width="4.70" height="2.00" fill="#000"/>
<rect x="340.70" y="611.05" width="9.10" height="2.20" fill="#000"/>
<rect x="344.15" y="607.70" width="2.20" height="8.90" fill="#000"/>
<line x1="240.00" y1="504.80" x2="276.00" y2="504.80" stroke="#000" stroke-width="1.5" />
<line x1="240.00" y1="501.50" x2="240.00" y2="507.90" stroke="#000" stroke-width="1.5" />
<line x1="276.00" y1="501.50" x2="276.00" y2="507.90" stroke="#000" stroke-width="1.5" />
<rect x="336.60" y="488.80" width="5.80" height="5.60" stroke="#000" stroke-width="0.9" fill="#fff" />
<rect x="336.40" y="496.40" width="6.20" height="5.50" stroke="#000" stroke-width="0.6" fill="#000" />
<text x="346.10" y="493.60" font-size="6.5" textLength="10.50" lengthAdjust="spacingAndGlyphs" fill="#000" stroke="#000" stroke-width="0.075" font-weight="bold" >WT</text>
<text x="346.21" y="501.40" font-size="6.5" textLength="10.58" lengthAdjust="spacingAndGlyphs" fill="#000" stroke="#000" stroke-width="0.075" font-weight="bold" >KO</text>
<line x1="131.60" y1="306.55" x2="131.60" y2="303.95" stroke="#000" stroke-width="1.2" stroke-linecap="round"/>
<line x1="131.60" y1="306.55" x2="134.07" y2="305.75" stroke="#000" stroke-width="1.2" stroke-linecap="round"/>
<line x1="131.60" y1="306.55" x2="133.13" y2="308.65" stroke="#000" stroke-width="1.2" stroke-linecap="round"/>
<line x1="131.60" y1="306.55" x2="130.07" y2="308.65" stroke="#000" stroke-width="1.2" stroke-linecap="round"/>
<line x1="131.60" y1="306.55" x2="129.13" y2="305.75" stroke="#000" stroke-width="1.2" stroke-linecap="round"/>
<line x1="212.10" y1="272.80" x2="212.10" y2="269.90" stroke="#000" stroke-width="1.2" stroke-linecap="round"/>
<line x1="212.10" y1="272.80" x2="214.86" y2="271.90" stroke="#000" stroke-width="1.2" stroke-linecap="round"/>
<line x1="212.10" y1="272.80" x2="213.80" y2="275.15" stroke="#000" stroke-width="1.2" stroke-linecap="round"/>
<line x1="212.10" y1="272.80" x2="210.40" y2="275.15" stroke="#000" stroke-width="1.2" stroke-linecap="round"/>
<line x1="212.10" y1="272.80" x2="209.34" y2="271.90" stroke="#000" stroke-width="1.2" stroke-linecap="round"/>
<line x1="67.50" y1="493.85" x2="67.50" y2="491.35" stroke="#000" stroke-width="1.2" stroke-linecap="round"/>
<line x1="67.50" y1="493.85" x2="69.88" y2="493.08" stroke="#000" stroke-width="1.2" stroke-linecap="round"/>
<line x1="67.50" y1="493.85" x2="68.97" y2="495.87" stroke="#000" stroke-width="1.2" stroke-linecap="round"/>
<line x1="67.50" y1="493.85" x2="66.03" y2="495.87" stroke="#000" stroke-width="1.2" stroke-linecap="round"/>
<line x1="67.50" y1="493.85" x2="65.12" y2="493.08" stroke="#000" stroke-width="1.2" stroke-linecap="round"/>
<line x1="257.60" y1="496.75" x2="257.60" y2="494.35" stroke="#000" stroke-width="1.2" stroke-linecap="round"/>
<line x1="257.60" y1="496.75" x2="259.88" y2="496.01" stroke="#000" stroke-width="1.2" stroke-linecap="round"/>
<line x1="257.60" y1="496.75" x2="259.01" y2="498.69" stroke="#000" stroke-width="1.2" stroke-linecap="round"/>
<line x1="257.60" y1="496.75" x2="256.19" y2="498.69" stroke="#000" stroke-width="1.2" stroke-linecap="round"/>
<line x1="257.60" y1="496.75" x2="255.32" y2="496.01" stroke="#000" stroke-width="1.2" stroke-linecap="round"/>
<text x="384.44" y="472.70" font-size="24" textLength="18.11" lengthAdjust="spacingAndGlyphs" fill="#000" stroke="#000" stroke-width="0.225" font-weight="bold" >D</text>
<text x="447.59" y="473.10" font-size="15.5" textLength="34.48" lengthAdjust="spacingAndGlyphs" fill="#000" stroke="#000" stroke-width="0.225" font-weight="bold" >GMP</text>
<line x1="416.30" y1="489.00" x2="416.30" y2="587.00" stroke="#000" stroke-width="1.2" />
<line x1="414.70" y1="494.25" x2="416.30" y2="494.25" stroke="#333" stroke-width="0.7" />
<line x1="414.70" y1="499.10" x2="416.30" y2="499.10" stroke="#333" stroke-width="0.7" />
<line x1="414.70" y1="503.95" x2="416.30" y2="503.95" stroke="#333" stroke-width="0.7" />
<line x1="414.70" y1="513.65" x2="416.30" y2="513.65" stroke="#333" stroke-width="0.7" />
<line x1="414.70" y1="518.50" x2="416.30" y2="518.50" stroke="#333" stroke-width="0.7" />
<line x1="414.70" y1="523.35" x2="416.30" y2="523.35" stroke="#333" stroke-width="0.7" />
<line x1="414.70" y1="533.05" x2="416.30" y2="533.05" stroke="#333" stroke-width="0.7" />
<line x1="414.70" y1="537.90" x2="416.30" y2="537.90" stroke="#333" stroke-width="0.7" />
<line x1="414.70" y1="542.75" x2="416.30" y2="542.75" stroke="#333" stroke-width="0.7" />
<line x1="414.70" y1="552.45" x2="416.30" y2="552.45" stroke="#333" stroke-width="0.7" />
<line x1="414.70" y1="557.30" x2="416.30" y2="557.30" stroke="#333" stroke-width="0.7" />
<line x1="414.70" y1="562.15" x2="416.30" y2="562.15" stroke="#333" stroke-width="0.7" />
<line x1="414.70" y1="571.85" x2="416.30" y2="571.85" stroke="#333" stroke-width="0.7" />
<line x1="414.70" y1="576.70" x2="416.30" y2="576.70" stroke="#333" stroke-width="0.7" />
<line x1="414.70" y1="581.55" x2="416.30" y2="581.55" stroke="#333" stroke-width="0.7" />
<line x1="416.30" y1="586.20" x2="509.20" y2="586.20" stroke="#222" stroke-width="1.4" />
<line x1="413.70" y1="489.40" x2="416.30" y2="489.40" stroke="#000" stroke-width="1.1" />
<text x="397.21" y="492.40" font-size="8.6" textLength="13.71" lengthAdjust="spacingAndGlyphs" fill="#000" stroke="#000" stroke-width="0.15" font-weight="bold" >100</text>
<line x1="413.70" y1="509.10" x2="416.30" y2="509.10" stroke="#000" stroke-width="1.1" />
<text x="401.04" y="512.10" font-size="8.6" textLength="9.74" lengthAdjust="spacingAndGlyphs" fill="#000" stroke="#000" stroke-width="0.15" font-weight="bold" >80</text>
<line x1="413.70" y1="528.50" x2="416.30" y2="528.50" stroke="#000" stroke-width="1.1" />
<text x="400.95" y="531.50" font-size="8.6" textLength="9.84" lengthAdjust="spacingAndGlyphs" fill="#000" stroke="#000" stroke-width="0.15" font-weight="bold" >60</text>
<line x1="413.70" y1="547.90" x2="416.30" y2="547.90" stroke="#000" stroke-width="1.1" />
<text x="401.21" y="550.90" font-size="8.6" textLength="9.56" lengthAdjust="spacingAndGlyphs" fill="#000" stroke="#000" stroke-width="0.15" font-weight="bold" >40</text>
<line x1="413.70" y1="567.20" x2="416.30" y2="567.20" stroke="#000" stroke-width="1.1" />
<text x="401.04" y="570.20" font-size="8.6" textLength="9.74" lengthAdjust="spacingAndGlyphs" fill="#000" stroke="#000" stroke-width="0.15" font-weight="bold" >20</text>
<line x1="420.00" y1="586.40" x2="420.00" y2="588.60" stroke="#555" stroke-width="0.5" />
<line x1="427.38" y1="586.40" x2="427.38" y2="587.80" stroke="#555" stroke-width="0.5" />
<line x1="431.69" y1="586.40" x2="431.69" y2="587.80" stroke="#555" stroke-width="0.5" />
<line x1="434.75" y1="586.40" x2="434.75" y2="587.80" stroke="#555" stroke-width="0.5" />
<line x1="437.12" y1="586.40" x2="437.12" y2="587.80" stroke="#555" stroke-width="0.5" />
<line x1="439.06" y1="586.40" x2="439.06" y2="587.80" stroke="#555" stroke-width="0.5" />
<line x1="440.70" y1="586.40" x2="440.70" y2="587.80" stroke="#555" stroke-width="0.5" />
<line x1="442.13" y1="586.40" x2="442.13" y2="587.80" stroke="#555" stroke-width="0.5" />
<line x1="443.38" y1="586.40" x2="443.38" y2="587.80" stroke="#555" stroke-width="0.5" />
<line x1="444.50" y1="586.40" x2="444.50" y2="588.60" stroke="#555" stroke-width="0.5" />
<line x1="451.88" y1="586.40" x2="451.88" y2="587.80" stroke="#555" stroke-width="0.5" />
<line x1="456.19" y1="586.40" x2="456.19" y2="587.80" stroke="#555" stroke-width="0.5" />
<line x1="459.25" y1="586.40" x2="459.25" y2="587.80" stroke="#555" stroke-width="0.5" />
<line x1="461.62" y1="586.40" x2="461.62" y2="587.80" stroke="#555" stroke-width="0.5" />
<line x1="463.56" y1="586.40" x2="463.56" y2="587.80" stroke="#555" stroke-width="0.5" />
<line x1="465.20" y1="586.40" x2="465.20" y2="587.80" stroke="#555" stroke-width="0.5" />
<line x1="466.63" y1="586.40" x2="466.63" y2="587.80" stroke="#555" stroke-width="0.5" />
<line x1="467.88" y1="586.40" x2="467.88" y2="587.80" stroke="#555" stroke-width="0.5" />
<line x1="469.00" y1="586.40" x2="469.00" y2="588.60" stroke="#555" stroke-width="0.5" />
<line x1="476.38" y1="586.40" x2="476.38" y2="587.80" stroke="#555" stroke-width="0.5" />
<line x1="480.69" y1="586.40" x2="480.69" y2="587.80" stroke="#555" stroke-width="0.5" />
<line x1="483.75" y1="586.40" x2="483.75" y2="587.80" stroke="#555" stroke-width="0.5" />
<line x1="486.12" y1="586.40" x2="486.12" y2="587.80" stroke="#555" stroke-width="0.5" />
<line x1="488.06" y1="586.40" x2="488.06" y2="587.80" stroke="#555" stroke-width="0.5" />
<line x1="489.70" y1="586.40" x2="489.70" y2="587.80" stroke="#555" stroke-width="0.5" />
<line x1="491.13" y1="586.40" x2="491.13" y2="587.80" stroke="#555" stroke-width="0.5" />
<line x1="492.38" y1="586.40" x2="492.38" y2="587.80" stroke="#555" stroke-width="0.5" />
<line x1="493.50" y1="586.40" x2="493.50" y2="588.60" stroke="#555" stroke-width="0.5" />
<line x1="500.88" y1="586.40" x2="500.88" y2="587.80" stroke="#555" stroke-width="0.5" />
<line x1="505.19" y1="586.40" x2="505.19" y2="587.80" stroke="#555" stroke-width="0.5" />
<line x1="508.25" y1="586.40" x2="508.25" y2="587.80" stroke="#555" stroke-width="0.5" />
<text transform="translate(394.80,578.30) rotate(-90)" x="-0.60" y="0" font-size="8.4" textLength="85.51" lengthAdjust="spacingAndGlyphs" fill="#000" stroke="#000" stroke-width="0.15" font-weight="bold">Relative Cell Number</text>
<text x="422.45" y="600.70" font-size="9.6" textLength="12.10" lengthAdjust="spacingAndGlyphs" fill="#000" stroke="#000" stroke-width="0.225" font-weight="bold" >10</text>
<text x="435.09" y="597.40" font-size="6.0" textLength="2.84" lengthAdjust="spacingAndGlyphs" fill="#000" stroke="#000" stroke-width="0.2" font-weight="bold" >1</text>
<text x="445.74" y="600.70" font-size="9.6" textLength="12.32" lengthAdjust="spacingAndGlyphs" fill="#000" stroke="#000" stroke-width="0.225" font-weight="bold" >10</text>
<text x="458.10" y="597.40" font-size="6.0" textLength="3.63" lengthAdjust="spacingAndGlyphs" fill="#000" stroke="#000" stroke-width="0.2" font-weight="bold" >2</text>
<text x="469.96" y="600.70" font-size="9.6" textLength="11.89" lengthAdjust="spacingAndGlyphs" fill="#000" stroke="#000" stroke-width="0.225" font-weight="bold" >10</text>
<text x="482.18" y="597.40" font-size="6.0" textLength="3.45" lengthAdjust="spacingAndGlyphs" fill="#000" stroke="#000" stroke-width="0.2" font-weight="bold" >3</text>
<text x="493.65" y="600.70" font-size="9.6" textLength="12.10" lengthAdjust="spacingAndGlyphs" fill="#000" stroke="#000" stroke-width="0.225" font-weight="bold" >10</text>
<text x="505.84" y="597.40" font-size="6.0" textLength="3.60" lengthAdjust="spacingAndGlyphs" fill="#000" stroke="#000" stroke-width="0.2" font-weight="bold" >4</text>
<line x1="431.30" y1="608.40" x2="461.80" y2="608.40" stroke="#000" stroke-width="2.0" />
<path d="M470.80,608.40 L460.80,605.00 L462.60,608.40 L460.80,611.80 Z" fill="#000"/>
<text x="476.18" y="610.90" font-size="10.2" textLength="28.01" lengthAdjust="spacingAndGlyphs" fill="#000" stroke="#000" stroke-width="0.225" font-weight="bold" >CFSE</text>
<line x1="489.10" y1="528.80" x2="503.10" y2="528.80" stroke="#222" stroke-width="1.0" stroke-dasharray="1,0.7"/>
<line x1="489.10" y1="536.50" x2="503.10" y2="536.50" stroke="#000" stroke-width="1.6" />
<text x="508.10" y="531.40" font-size="7.0" textLength="10.10" lengthAdjust="spacingAndGlyphs" fill="#000" stroke="#000" stroke-width="0.15" font-weight="bold" >WT</text>
<text x="508.31" y="539.20" font-size="6.8" textLength="10.47" lengthAdjust="spacingAndGlyphs" fill="#000" stroke="#000" stroke-width="0.075" font-weight="bold" >KO</text>
<path d="M416.50,586.20 L432.00,586.00 L435.10,585.50 L439.40,582.20 L441.90,572.90 L443.90,557.60 L445.60,540.70 L447.00,523.80 L448.30,514.50 L449.50,511.10 L450.40,510.00 L451.70,517.00 L452.90,520.40 L455.10,522.10 L455.80,530.60 L457.10,547.50 L458.80,550.90 L460.50,552.60 L461.90,561.00 L463.90,566.90 L467.30,573.70 L471.50,580.50 L477.40,584.70 L484.20,586.00 L509.00,586.20" fill="none" stroke="#111" stroke-width="1.05" stroke-dasharray="1.1,0.6" stroke-linejoin="round"/>
<path d="M416.50,586.20 L441.90,586.00 L445.30,583.80 L447.80,577.90 L450.00,566.10 L452.00,549.20 L453.70,534.00 L455.10,518.70 L456.30,503.50 L457.10,497.60 L458.80,501.00 L460.20,508.60 L461.90,522.10 L463.90,537.30 L465.60,548.30 L467.30,559.30 L469.30,561.00 L470.30,566.10 L472.30,573.70 L475.70,580.50 L480.80,584.70 L489.30,586.00 L509.00,586.20" fill="none" stroke="#000" stroke-width="1.5" stroke-linejoin="round"/>
</svg>
</body></html>
